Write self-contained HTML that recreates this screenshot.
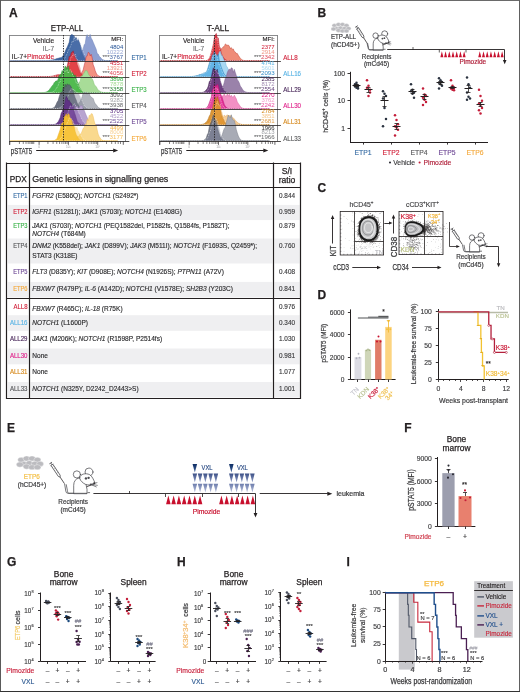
<!DOCTYPE html>
<html><head><meta charset="utf-8"><style>
html,body{margin:0;padding:0;background:#fff;}
body{width:520px;height:692px;overflow:hidden;}
svg{display:block;font-family:"Liberation Sans", sans-serif;will-change:transform;}
</style></head><body><div class="wrap">
<svg width="520" height="692" viewBox="0 0 520 692" fill="#231f20">
<rect x="0" y="0" width="520" height="692" fill="#fff"/>
<rect x="0.00" y="0.00" width="520.00" height="1.00" fill="#6a6a6a" />
<rect x="0.00" y="0.00" width="1.00" height="692.00" fill="#5a5a5a" />
<rect x="519.00" y="0.00" width="1.00" height="692.00" fill="#606060" />
<rect x="0.00" y="691.00" width="520.00" height="1.00" fill="#333333" />
<text x="9.00" y="17.00" font-size="12" stroke="#231f20" stroke-width="0.25" font-weight="bold">A</text>
<text x="67.00" y="30.90" font-size="8.6" text-anchor="middle" textLength="32.3" lengthAdjust="spacingAndGlyphs" stroke="#231f20" stroke-width="0.25">ETP-ALL</text>
<line x1="9.20" y1="35.50" x2="125.80" y2="35.50" stroke="#6d6e71" stroke-width="0.8" />
<line x1="9.50" y1="35.00" x2="9.50" y2="145.00" stroke="#6d6e71" stroke-width="0.8" />
<line x1="125.50" y1="35.00" x2="125.50" y2="141.30" stroke="#6d6e71" stroke-width="0.8" />
<path d="M10.20,60.70 L10.20,60.70 L11.20,60.70 L12.20,60.70 L13.20,60.70 L14.20,60.70 L15.20,60.70 L16.20,60.70 L17.20,60.70 L18.20,60.70 L19.20,60.70 L20.20,60.70 L21.20,60.70 L22.20,60.70 L23.20,60.70 L24.20,60.70 L25.20,60.70 L26.20,60.70 L27.20,60.70 L28.20,60.70 L29.20,60.70 L30.20,60.70 L31.20,60.70 L32.20,60.70 L33.20,60.70 L34.20,60.70 L35.20,60.70 L36.20,60.70 L37.20,60.70 L38.20,60.70 L39.20,60.70 L40.20,60.70 L41.20,60.70 L42.20,60.70 L43.20,60.70 L44.20,60.70 L45.20,60.70 L46.20,60.70 L47.20,60.70 L48.20,60.70 L49.20,60.70 L50.20,60.70 L51.20,60.70 L52.20,60.70 L53.20,60.70 L54.20,60.70 L55.20,60.70 L56.20,60.70 L57.20,60.70 L58.20,60.70 L59.20,60.70 L60.20,60.70 L61.20,60.70 L62.20,60.70 L63.20,60.70 L64.20,60.70 L65.20,60.70 L66.20,60.70 L67.20,60.70 L68.20,60.70 L69.20,60.69 L70.20,60.68 L71.20,60.65 L72.20,60.57 L73.20,60.41 L74.20,60.12 L75.20,59.74 L76.20,58.96 L77.20,57.86 L78.20,56.78 L79.20,55.47 L80.20,54.46 L81.20,51.95 L82.20,50.22 L83.20,48.96 L84.20,44.63 L85.20,43.74 L86.20,36.61 L87.20,34.63 L88.20,37.35 L89.20,37.00 L90.20,34.45 L91.20,38.21 L92.20,39.85 L93.20,42.21 L94.20,44.59 L95.20,46.97 L96.20,49.28 L97.20,53.55 L98.20,54.12 L99.20,56.19 L100.20,57.10 L101.20,58.26 L102.20,59.39 L103.20,59.83 L104.20,60.26 L105.20,60.49 L106.20,60.61 L107.20,60.67 L108.20,60.69 L109.20,60.70 L110.20,60.70 L111.20,60.70 L112.20,60.70 L113.20,60.70 L114.20,60.70 L115.20,60.70 L116.20,60.70 L117.20,60.70 L117.80,60.70 Z" fill="#8ea0d2" stroke="#6f82b8" stroke-width="0.5" />
<path d="M10.20,60.70 L10.20,60.70 L11.20,60.70 L12.20,60.70 L13.20,60.70 L14.20,60.70 L15.20,60.70 L16.20,60.70 L17.20,60.70 L18.20,60.70 L19.20,60.70 L20.20,60.70 L21.20,60.70 L22.20,60.70 L23.20,60.70 L24.20,60.70 L25.20,60.70 L26.20,60.70 L27.20,60.70 L28.20,60.70 L29.20,60.70 L30.20,60.70 L31.20,60.70 L32.20,60.70 L33.20,60.70 L34.20,60.70 L35.20,60.70 L36.20,60.70 L37.20,60.70 L38.20,60.70 L39.20,60.70 L40.20,60.70 L41.20,60.70 L42.20,60.70 L43.20,60.69 L44.20,60.68 L45.20,60.67 L46.20,60.65 L47.20,60.61 L48.20,60.55 L49.20,60.46 L50.20,60.34 L51.20,60.18 L52.20,59.97 L53.20,59.82 L54.20,59.41 L55.20,59.28 L56.20,58.74 L57.20,58.48 L58.20,58.34 L59.20,57.91 L60.20,57.64 L61.20,57.69 L62.20,56.63 L63.20,55.54 L64.20,54.23 L65.20,51.44 L66.20,49.04 L67.20,47.15 L68.20,44.71 L69.20,42.36 L70.20,35.97 L71.20,34.82 L72.20,34.48 L73.20,35.59 L74.20,35.79 L75.20,38.38 L76.20,37.41 L77.20,40.73 L78.20,39.60 L79.20,41.85 L80.20,44.76 L81.20,49.65 L82.20,53.20 L83.20,55.52 L84.20,57.39 L85.20,59.03 L86.20,59.86 L87.20,60.36 L88.20,60.57 L89.20,60.65 L90.20,60.69 L91.20,60.70 L92.20,60.70 L93.20,60.70 L94.20,60.70 L95.20,60.70 L96.20,60.70 L97.20,60.70 L98.20,60.70 L99.20,60.70 L100.20,60.70 L101.20,60.70 L102.20,60.70 L103.20,60.70 L104.20,60.70 L105.20,60.70 L106.20,60.70 L107.20,60.70 L108.20,60.70 L109.20,60.70 L110.20,60.70 L111.20,60.70 L112.20,60.70 L113.20,60.70 L114.20,60.70 L115.20,60.70 L116.20,60.70 L117.20,60.70 L117.80,60.70 Z" fill="#2c5797" stroke="#1f3f78" stroke-width="0.5" opacity="0.92"/>
<path d="M10.20,60.70 L10.20,60.70 L11.20,60.70 L12.20,60.70 L13.20,60.70 L14.20,60.70 L15.20,60.70 L16.20,60.70 L17.20,60.70 L18.20,60.70 L19.20,60.70 L20.20,60.70 L21.20,60.70 L22.20,60.70 L23.20,60.70 L24.20,60.70 L25.20,60.70 L26.20,60.70 L27.20,60.70 L28.20,60.70 L29.20,60.70 L30.20,60.70 L31.20,60.70 L32.20,60.70 L33.20,60.70 L34.20,60.70 L35.20,60.70 L36.20,60.70 L37.20,60.70 L38.20,60.70 L39.20,60.70 L40.20,60.70 L41.20,60.70 L42.20,60.70 L43.20,60.70 L44.20,60.70 L45.20,60.70 L46.20,60.70 L47.20,60.70 L48.20,60.70 L49.20,60.70 L50.20,60.70 L51.20,60.70 L52.20,60.70 L53.20,60.70 L54.20,60.70 L55.20,60.70 L56.20,60.70 L57.20,60.69 L58.20,60.69 L59.20,60.67 L60.20,60.62 L61.20,60.51 L62.20,60.28 L63.20,59.80 L64.20,59.15 L65.20,57.37 L66.20,55.35 L67.20,53.59 L68.20,50.45 L69.20,49.10 L70.20,46.79 L71.20,44.56 L72.20,40.94 L73.20,41.94 L74.20,36.55 L75.20,40.72 L76.20,39.53 L77.20,40.27 L78.20,37.18 L79.20,41.08 L80.20,42.79 L81.20,46.04 L82.20,47.73 L83.20,51.17 L84.20,53.95 L85.20,55.56 L86.20,57.30 L87.20,58.58 L88.20,59.10 L89.20,59.77 L90.20,60.19 L91.20,60.42 L92.20,60.55 L93.20,60.62 L94.20,60.66 L95.20,60.68 L96.20,60.69 L97.20,60.70 L98.20,60.70 L99.20,60.70 L100.20,60.70 L101.20,60.70 L102.20,60.70 L103.20,60.70 L104.20,60.70 L105.20,60.70 L106.20,60.70 L107.20,60.70 L108.20,60.70 L109.20,60.70 L110.20,60.70 L111.20,60.70 L112.20,60.70 L113.20,60.70 L114.20,60.70 L115.20,60.70 L116.20,60.70 L117.20,60.70 L117.80,60.70 Z" fill="#5878b4" fill-opacity="0.45"/>
<path d="M10.20,60.70 L10.20,60.70 L11.20,60.70 L12.20,60.70 L13.20,60.70 L14.20,60.70 L15.20,60.70 L16.20,60.70 L17.20,60.70 L18.20,60.70 L19.20,60.70 L20.20,60.70 L21.20,60.70 L22.20,60.70 L23.20,60.70 L24.20,60.70 L25.20,60.70 L26.20,60.70 L27.20,60.70 L28.20,60.70 L29.20,60.70 L30.20,60.70 L31.20,60.70 L32.20,60.70 L33.20,60.70 L34.20,60.70 L35.20,60.70 L36.20,60.70 L37.20,60.70 L38.20,60.70 L39.20,60.70 L40.20,60.70 L41.20,60.70 L42.20,60.70 L43.20,60.70 L44.20,60.70 L45.20,60.70 L46.20,60.70 L47.20,60.70 L48.20,60.70 L49.20,60.70 L50.20,60.70 L51.20,60.70 L52.20,60.70 L53.20,60.70 L54.20,60.70 L55.20,60.70 L56.20,60.70 L57.20,60.69 L58.20,60.69 L59.20,60.67 L60.20,60.62 L61.20,60.51 L62.20,60.28 L63.20,59.80 L64.20,59.15 L65.20,57.37 L66.20,55.35 L67.20,53.59 L68.20,50.45 L69.20,49.10 L70.20,46.79 L71.20,44.56 L72.20,40.94 L73.20,41.94 L74.20,36.55 L75.20,40.72 L76.20,39.53 L77.20,40.27 L78.20,37.18 L79.20,41.08 L80.20,42.79 L81.20,46.04 L82.20,47.73 L83.20,51.17 L84.20,53.95 L85.20,55.56 L86.20,57.30 L87.20,58.58 L88.20,59.10 L89.20,59.77 L90.20,60.19 L91.20,60.42 L92.20,60.55 L93.20,60.62 L94.20,60.66 L95.20,60.68 L96.20,60.69 L97.20,60.70 L98.20,60.70 L99.20,60.70 L100.20,60.70 L101.20,60.70 L102.20,60.70 L103.20,60.70 L104.20,60.70 L105.20,60.70 L106.20,60.70 L107.20,60.70 L108.20,60.70 L109.20,60.70 L110.20,60.70 L111.20,60.70 L112.20,60.70 L113.20,60.70 L114.20,60.70 L115.20,60.70 L116.20,60.70 L117.20,60.70 L117.80,60.70 Z" fill="none" stroke="#ffffff" stroke-width="0.55" stroke-dasharray="0.9,0.9" opacity="0.9"/>
<path d="M10.20,76.70 L10.20,76.70 L11.20,76.70 L12.20,76.70 L13.20,76.70 L14.20,76.70 L15.20,76.70 L16.20,76.70 L17.20,76.70 L18.20,76.70 L19.20,76.70 L20.20,76.70 L21.20,76.70 L22.20,76.70 L23.20,76.70 L24.20,76.70 L25.20,76.70 L26.20,76.70 L27.20,76.70 L28.20,76.70 L29.20,76.70 L30.20,76.70 L31.20,76.70 L32.20,76.70 L33.20,76.70 L34.20,76.70 L35.20,76.70 L36.20,76.70 L37.20,76.70 L38.20,76.70 L39.20,76.70 L40.20,76.70 L41.20,76.70 L42.20,76.70 L43.20,76.70 L44.20,76.70 L45.20,76.70 L46.20,76.70 L47.20,76.70 L48.20,76.70 L49.20,76.70 L50.20,76.70 L51.20,76.70 L52.20,76.70 L53.20,76.70 L54.20,76.70 L55.20,76.70 L56.20,76.70 L57.20,76.70 L58.20,76.70 L59.20,76.70 L60.20,76.70 L61.20,76.70 L62.20,76.70 L63.20,76.70 L64.20,76.70 L65.20,76.70 L66.20,76.70 L67.20,76.70 L68.20,76.70 L69.20,76.70 L70.20,76.70 L71.20,76.70 L72.20,76.70 L73.20,76.70 L74.20,76.70 L75.20,76.69 L76.20,76.68 L77.20,76.64 L78.20,76.53 L79.20,76.26 L80.20,75.54 L81.20,74.51 L82.20,71.99 L83.20,69.70 L84.20,65.22 L85.20,61.65 L86.20,56.36 L87.20,56.03 L88.20,52.32 L89.20,52.90 L90.20,55.99 L91.20,54.27 L92.20,57.83 L93.20,64.87 L94.20,67.19 L95.20,70.65 L96.20,73.15 L97.20,74.64 L98.20,75.63 L99.20,76.21 L100.20,76.49 L101.20,76.62 L102.20,76.67 L103.20,76.69 L104.20,76.70 L105.20,76.70 L106.20,76.70 L107.20,76.70 L108.20,76.70 L109.20,76.70 L110.20,76.70 L111.20,76.70 L112.20,76.70 L113.20,76.70 L114.20,76.70 L115.20,76.70 L116.20,76.70 L117.20,76.70 L117.80,76.70 Z" fill="#f29080" stroke="#c0303a" stroke-width="0.5" />
<path d="M10.20,76.70 L10.20,76.70 L11.20,76.70 L12.20,76.70 L13.20,76.70 L14.20,76.70 L15.20,76.70 L16.20,76.70 L17.20,76.70 L18.20,76.70 L19.20,76.70 L20.20,76.70 L21.20,76.70 L22.20,76.70 L23.20,76.70 L24.20,76.70 L25.20,76.70 L26.20,76.70 L27.20,76.70 L28.20,76.70 L29.20,76.70 L30.20,76.70 L31.20,76.70 L32.20,76.70 L33.20,76.70 L34.20,76.70 L35.20,76.70 L36.20,76.70 L37.20,76.70 L38.20,76.70 L39.20,76.70 L40.20,76.70 L41.20,76.70 L42.20,76.70 L43.20,76.69 L44.20,76.69 L45.20,76.67 L46.20,76.65 L47.20,76.62 L48.20,76.57 L49.20,76.50 L50.20,76.40 L51.20,76.27 L52.20,76.10 L53.20,75.90 L54.20,75.61 L55.20,75.37 L56.20,75.09 L57.20,74.76 L58.20,74.62 L59.20,74.77 L60.20,74.60 L61.20,74.28 L62.20,74.00 L63.20,72.93 L64.20,72.05 L65.20,70.75 L66.20,68.71 L67.20,66.19 L68.20,61.48 L69.20,56.17 L70.20,56.75 L71.20,52.68 L72.20,52.23 L73.20,50.84 L74.20,54.88 L75.20,58.70 L76.20,59.32 L77.20,64.57 L78.20,67.12 L79.20,69.77 L80.20,72.62 L81.20,74.05 L82.20,75.25 L83.20,75.99 L84.20,76.35 L85.20,76.54 L86.20,76.63 L87.20,76.67 L88.20,76.69 L89.20,76.70 L90.20,76.70 L91.20,76.70 L92.20,76.70 L93.20,76.70 L94.20,76.70 L95.20,76.70 L96.20,76.70 L97.20,76.70 L98.20,76.70 L99.20,76.70 L100.20,76.70 L101.20,76.70 L102.20,76.70 L103.20,76.70 L104.20,76.70 L105.20,76.70 L106.20,76.70 L107.20,76.70 L108.20,76.70 L109.20,76.70 L110.20,76.70 L111.20,76.70 L112.20,76.70 L113.20,76.70 L114.20,76.70 L115.20,76.70 L116.20,76.70 L117.20,76.70 L117.80,76.70 Z" fill="#e02a35" stroke="#a01020" stroke-width="0.5" opacity="0.9"/>
<path d="M10.20,76.70 L10.20,76.70 L11.20,76.70 L12.20,76.70 L13.20,76.70 L14.20,76.70 L15.20,76.70 L16.20,76.70 L17.20,76.70 L18.20,76.70 L19.20,76.70 L20.20,76.70 L21.20,76.70 L22.20,76.70 L23.20,76.70 L24.20,76.70 L25.20,76.70 L26.20,76.70 L27.20,76.70 L28.20,76.70 L29.20,76.70 L30.20,76.70 L31.20,76.70 L32.20,76.70 L33.20,76.70 L34.20,76.70 L35.20,76.70 L36.20,76.70 L37.20,76.70 L38.20,76.70 L39.20,76.70 L40.20,76.70 L41.20,76.70 L42.20,76.70 L43.20,76.70 L44.20,76.70 L45.20,76.70 L46.20,76.70 L47.20,76.69 L48.20,76.68 L49.20,76.65 L50.20,76.61 L51.20,76.54 L52.20,76.44 L53.20,76.28 L54.20,76.08 L55.20,75.76 L56.20,75.65 L57.20,75.13 L58.20,75.05 L59.20,74.90 L60.20,74.64 L61.20,74.74 L62.20,74.55 L63.20,74.08 L64.20,73.64 L65.20,72.22 L66.20,71.07 L67.20,69.20 L68.20,67.13 L69.20,64.74 L70.20,60.10 L71.20,56.45 L72.20,57.08 L73.20,53.60 L74.20,55.77 L75.20,53.98 L76.20,58.40 L77.20,59.11 L78.20,62.54 L79.20,63.96 L80.20,67.22 L81.20,70.89 L82.20,72.67 L83.20,73.75 L84.20,74.96 L85.20,75.64 L86.20,76.05 L87.20,76.34 L88.20,76.51 L89.20,76.61 L90.20,76.66 L91.20,76.68 L92.20,76.69 L93.20,76.70 L94.20,76.70 L95.20,76.70 L96.20,76.70 L97.20,76.70 L98.20,76.70 L99.20,76.70 L100.20,76.70 L101.20,76.70 L102.20,76.70 L103.20,76.70 L104.20,76.70 L105.20,76.70 L106.20,76.70 L107.20,76.70 L108.20,76.70 L109.20,76.70 L110.20,76.70 L111.20,76.70 L112.20,76.70 L113.20,76.70 L114.20,76.70 L115.20,76.70 L116.20,76.70 L117.20,76.70 L117.80,76.70 Z" fill="#e04848" fill-opacity="0.45"/>
<path d="M10.20,76.70 L10.20,76.70 L11.20,76.70 L12.20,76.70 L13.20,76.70 L14.20,76.70 L15.20,76.70 L16.20,76.70 L17.20,76.70 L18.20,76.70 L19.20,76.70 L20.20,76.70 L21.20,76.70 L22.20,76.70 L23.20,76.70 L24.20,76.70 L25.20,76.70 L26.20,76.70 L27.20,76.70 L28.20,76.70 L29.20,76.70 L30.20,76.70 L31.20,76.70 L32.20,76.70 L33.20,76.70 L34.20,76.70 L35.20,76.70 L36.20,76.70 L37.20,76.70 L38.20,76.70 L39.20,76.70 L40.20,76.70 L41.20,76.70 L42.20,76.70 L43.20,76.70 L44.20,76.70 L45.20,76.70 L46.20,76.70 L47.20,76.69 L48.20,76.68 L49.20,76.65 L50.20,76.61 L51.20,76.54 L52.20,76.44 L53.20,76.28 L54.20,76.08 L55.20,75.76 L56.20,75.65 L57.20,75.13 L58.20,75.05 L59.20,74.90 L60.20,74.64 L61.20,74.74 L62.20,74.55 L63.20,74.08 L64.20,73.64 L65.20,72.22 L66.20,71.07 L67.20,69.20 L68.20,67.13 L69.20,64.74 L70.20,60.10 L71.20,56.45 L72.20,57.08 L73.20,53.60 L74.20,55.77 L75.20,53.98 L76.20,58.40 L77.20,59.11 L78.20,62.54 L79.20,63.96 L80.20,67.22 L81.20,70.89 L82.20,72.67 L83.20,73.75 L84.20,74.96 L85.20,75.64 L86.20,76.05 L87.20,76.34 L88.20,76.51 L89.20,76.61 L90.20,76.66 L91.20,76.68 L92.20,76.69 L93.20,76.70 L94.20,76.70 L95.20,76.70 L96.20,76.70 L97.20,76.70 L98.20,76.70 L99.20,76.70 L100.20,76.70 L101.20,76.70 L102.20,76.70 L103.20,76.70 L104.20,76.70 L105.20,76.70 L106.20,76.70 L107.20,76.70 L108.20,76.70 L109.20,76.70 L110.20,76.70 L111.20,76.70 L112.20,76.70 L113.20,76.70 L114.20,76.70 L115.20,76.70 L116.20,76.70 L117.20,76.70 L117.80,76.70 Z" fill="none" stroke="#ffffff" stroke-width="0.55" stroke-dasharray="0.9,0.9" opacity="0.9"/>
<path d="M10.20,92.70 L10.20,92.70 L11.20,92.70 L12.20,92.70 L13.20,92.70 L14.20,92.70 L15.20,92.70 L16.20,92.70 L17.20,92.70 L18.20,92.70 L19.20,92.70 L20.20,92.70 L21.20,92.70 L22.20,92.70 L23.20,92.70 L24.20,92.70 L25.20,92.70 L26.20,92.70 L27.20,92.70 L28.20,92.70 L29.20,92.70 L30.20,92.70 L31.20,92.70 L32.20,92.70 L33.20,92.70 L34.20,92.70 L35.20,92.70 L36.20,92.70 L37.20,92.70 L38.20,92.70 L39.20,92.70 L40.20,92.70 L41.20,92.70 L42.20,92.70 L43.20,92.70 L44.20,92.70 L45.20,92.70 L46.20,92.70 L47.20,92.70 L48.20,92.70 L49.20,92.70 L50.20,92.70 L51.20,92.70 L52.20,92.70 L53.20,92.70 L54.20,92.70 L55.20,92.70 L56.20,92.70 L57.20,92.70 L58.20,92.70 L59.20,92.70 L60.20,92.70 L61.20,92.70 L62.20,92.70 L63.20,92.70 L64.20,92.70 L65.20,92.70 L66.20,92.70 L67.20,92.69 L68.20,92.69 L69.20,92.67 L70.20,92.64 L71.20,92.58 L72.20,92.47 L73.20,92.26 L74.20,91.87 L75.20,91.30 L76.20,89.74 L77.20,88.18 L78.20,85.84 L79.20,82.03 L80.20,81.38 L81.20,75.91 L82.20,76.00 L83.20,74.31 L84.20,73.05 L85.20,70.65 L86.20,70.65 L87.20,70.87 L88.20,73.53 L89.20,75.39 L90.20,75.92 L91.20,77.89 L92.20,78.79 L93.20,81.00 L94.20,84.20 L95.20,85.88 L96.20,86.61 L97.20,88.47 L98.20,90.19 L99.20,90.63 L100.20,91.49 L101.20,91.96 L102.20,92.24 L103.20,92.43 L104.20,92.55 L105.20,92.62 L106.20,92.66 L107.20,92.68 L108.20,92.69 L109.20,92.70 L110.20,92.70 L111.20,92.70 L112.20,92.70 L113.20,92.70 L114.20,92.70 L115.20,92.70 L116.20,92.70 L117.20,92.70 L117.80,92.70 Z" fill="#a8dc98" stroke="#80c070" stroke-width="0.5" />
<path d="M10.20,92.70 L10.20,92.70 L11.20,92.70 L12.20,92.70 L13.20,92.70 L14.20,92.70 L15.20,92.70 L16.20,92.70 L17.20,92.70 L18.20,92.70 L19.20,92.70 L20.20,92.70 L21.20,92.70 L22.20,92.70 L23.20,92.70 L24.20,92.70 L25.20,92.70 L26.20,92.70 L27.20,92.70 L28.20,92.70 L29.20,92.70 L30.20,92.70 L31.20,92.70 L32.20,92.70 L33.20,92.70 L34.20,92.70 L35.20,92.70 L36.20,92.70 L37.20,92.70 L38.20,92.70 L39.20,92.70 L40.20,92.69 L41.20,92.68 L42.20,92.65 L43.20,92.60 L44.20,92.50 L45.20,92.32 L46.20,92.02 L47.20,91.55 L48.20,90.83 L49.20,90.11 L50.20,88.40 L51.20,87.22 L52.20,85.68 L53.20,84.83 L54.20,82.63 L55.20,81.62 L56.20,80.87 L57.20,81.30 L58.20,78.88 L59.20,75.24 L60.20,75.03 L61.20,73.86 L62.20,70.46 L63.20,71.50 L64.20,69.05 L65.20,65.92 L66.20,67.39 L67.20,68.53 L68.20,65.92 L69.20,69.84 L70.20,71.31 L71.20,74.19 L72.20,72.22 L73.20,73.63 L74.20,75.87 L75.20,74.84 L76.20,78.53 L77.20,81.53 L78.20,83.59 L79.20,87.03 L80.20,88.44 L81.20,90.31 L82.20,91.47 L83.20,92.04 L84.20,92.39 L85.20,92.56 L86.20,92.64 L87.20,92.68 L88.20,92.69 L89.20,92.70 L90.20,92.70 L91.20,92.70 L92.20,92.70 L93.20,92.70 L94.20,92.70 L95.20,92.70 L96.20,92.70 L97.20,92.70 L98.20,92.70 L99.20,92.70 L100.20,92.70 L101.20,92.70 L102.20,92.70 L103.20,92.70 L104.20,92.70 L105.20,92.70 L106.20,92.70 L107.20,92.70 L108.20,92.70 L109.20,92.70 L110.20,92.70 L111.20,92.70 L112.20,92.70 L113.20,92.70 L114.20,92.70 L115.20,92.70 L116.20,92.70 L117.20,92.70 L117.80,92.70 Z" fill="#38b040" stroke="#2a8a30" stroke-width="0.5" opacity="0.9"/>
<path d="M10.20,92.70 L10.20,92.70 L11.20,92.70 L12.20,92.70 L13.20,92.70 L14.20,92.70 L15.20,92.70 L16.20,92.70 L17.20,92.70 L18.20,92.70 L19.20,92.70 L20.20,92.70 L21.20,92.70 L22.20,92.70 L23.20,92.70 L24.20,92.70 L25.20,92.70 L26.20,92.70 L27.20,92.70 L28.20,92.70 L29.20,92.70 L30.20,92.70 L31.20,92.70 L32.20,92.70 L33.20,92.70 L34.20,92.70 L35.20,92.70 L36.20,92.70 L37.20,92.70 L38.20,92.70 L39.20,92.70 L40.20,92.70 L41.20,92.70 L42.20,92.70 L43.20,92.70 L44.20,92.70 L45.20,92.70 L46.20,92.69 L47.20,92.69 L48.20,92.67 L49.20,92.63 L50.20,92.56 L51.20,92.43 L52.20,92.18 L53.20,91.87 L54.20,91.10 L55.20,90.27 L56.20,88.53 L57.20,87.16 L58.20,85.35 L59.20,82.18 L60.20,81.70 L61.20,77.65 L62.20,77.26 L63.20,74.44 L64.20,71.51 L65.20,71.05 L66.20,71.17 L67.20,69.60 L68.20,73.43 L69.20,71.11 L70.20,69.60 L71.20,70.65 L72.20,73.62 L73.20,76.39 L74.20,77.86 L75.20,79.74 L76.20,82.87 L77.20,82.96 L78.20,85.66 L79.20,87.58 L80.20,89.32 L81.20,90.23 L82.20,90.98 L83.20,91.65 L84.20,92.00 L85.20,92.25 L86.20,92.43 L87.20,92.55 L88.20,92.61 L89.20,92.65 L90.20,92.68 L91.20,92.69 L92.20,92.69 L93.20,92.70 L94.20,92.70 L95.20,92.70 L96.20,92.70 L97.20,92.70 L98.20,92.70 L99.20,92.70 L100.20,92.70 L101.20,92.70 L102.20,92.70 L103.20,92.70 L104.20,92.70 L105.20,92.70 L106.20,92.70 L107.20,92.70 L108.20,92.70 L109.20,92.70 L110.20,92.70 L111.20,92.70 L112.20,92.70 L113.20,92.70 L114.20,92.70 L115.20,92.70 L116.20,92.70 L117.20,92.70 L117.80,92.70 Z" fill="#5cc050" fill-opacity="0.45"/>
<path d="M10.20,92.70 L10.20,92.70 L11.20,92.70 L12.20,92.70 L13.20,92.70 L14.20,92.70 L15.20,92.70 L16.20,92.70 L17.20,92.70 L18.20,92.70 L19.20,92.70 L20.20,92.70 L21.20,92.70 L22.20,92.70 L23.20,92.70 L24.20,92.70 L25.20,92.70 L26.20,92.70 L27.20,92.70 L28.20,92.70 L29.20,92.70 L30.20,92.70 L31.20,92.70 L32.20,92.70 L33.20,92.70 L34.20,92.70 L35.20,92.70 L36.20,92.70 L37.20,92.70 L38.20,92.70 L39.20,92.70 L40.20,92.70 L41.20,92.70 L42.20,92.70 L43.20,92.70 L44.20,92.70 L45.20,92.70 L46.20,92.69 L47.20,92.69 L48.20,92.67 L49.20,92.63 L50.20,92.56 L51.20,92.43 L52.20,92.18 L53.20,91.87 L54.20,91.10 L55.20,90.27 L56.20,88.53 L57.20,87.16 L58.20,85.35 L59.20,82.18 L60.20,81.70 L61.20,77.65 L62.20,77.26 L63.20,74.44 L64.20,71.51 L65.20,71.05 L66.20,71.17 L67.20,69.60 L68.20,73.43 L69.20,71.11 L70.20,69.60 L71.20,70.65 L72.20,73.62 L73.20,76.39 L74.20,77.86 L75.20,79.74 L76.20,82.87 L77.20,82.96 L78.20,85.66 L79.20,87.58 L80.20,89.32 L81.20,90.23 L82.20,90.98 L83.20,91.65 L84.20,92.00 L85.20,92.25 L86.20,92.43 L87.20,92.55 L88.20,92.61 L89.20,92.65 L90.20,92.68 L91.20,92.69 L92.20,92.69 L93.20,92.70 L94.20,92.70 L95.20,92.70 L96.20,92.70 L97.20,92.70 L98.20,92.70 L99.20,92.70 L100.20,92.70 L101.20,92.70 L102.20,92.70 L103.20,92.70 L104.20,92.70 L105.20,92.70 L106.20,92.70 L107.20,92.70 L108.20,92.70 L109.20,92.70 L110.20,92.70 L111.20,92.70 L112.20,92.70 L113.20,92.70 L114.20,92.70 L115.20,92.70 L116.20,92.70 L117.20,92.70 L117.80,92.70 Z" fill="none" stroke="#ffffff" stroke-width="0.55" stroke-dasharray="0.9,0.9" opacity="0.9"/>
<path d="M10.20,108.70 L10.20,108.70 L11.20,108.70 L12.20,108.70 L13.20,108.70 L14.20,108.70 L15.20,108.70 L16.20,108.70 L17.20,108.70 L18.20,108.70 L19.20,108.70 L20.20,108.70 L21.20,108.70 L22.20,108.70 L23.20,108.70 L24.20,108.70 L25.20,108.70 L26.20,108.70 L27.20,108.70 L28.20,108.70 L29.20,108.70 L30.20,108.70 L31.20,108.70 L32.20,108.70 L33.20,108.70 L34.20,108.70 L35.20,108.70 L36.20,108.70 L37.20,108.70 L38.20,108.70 L39.20,108.70 L40.20,108.70 L41.20,108.70 L42.20,108.70 L43.20,108.70 L44.20,108.70 L45.20,108.70 L46.20,108.70 L47.20,108.70 L48.20,108.70 L49.20,108.70 L50.20,108.70 L51.20,108.70 L52.20,108.70 L53.20,108.70 L54.20,108.70 L55.20,108.70 L56.20,108.70 L57.20,108.70 L58.20,108.70 L59.20,108.70 L60.20,108.70 L61.20,108.70 L62.20,108.70 L63.20,108.70 L64.20,108.70 L65.20,108.70 L66.20,108.70 L67.20,108.70 L68.20,108.70 L69.20,108.70 L70.20,108.69 L71.20,108.68 L72.20,108.64 L73.20,108.55 L74.20,108.36 L75.20,107.99 L76.20,107.42 L77.20,106.13 L78.20,104.45 L79.20,102.57 L80.20,101.57 L81.20,98.98 L82.20,96.76 L83.20,92.87 L84.20,92.87 L85.20,92.76 L86.20,91.99 L87.20,94.52 L88.20,92.68 L89.20,93.61 L90.20,96.21 L91.20,96.85 L92.20,98.08 L93.20,98.42 L94.20,101.59 L95.20,103.87 L96.20,104.57 L97.20,106.04 L98.20,107.35 L99.20,107.91 L100.20,108.34 L101.20,108.54 L102.20,108.63 L103.20,108.68 L104.20,108.69 L105.20,108.70 L106.20,108.70 L107.20,108.70 L108.20,108.70 L109.20,108.70 L110.20,108.70 L111.20,108.70 L112.20,108.70 L113.20,108.70 L114.20,108.70 L115.20,108.70 L116.20,108.70 L117.20,108.70 L117.80,108.70 Z" fill="#b2b5bd" stroke="#8a8e98" stroke-width="0.5" />
<path d="M10.20,108.70 L10.20,108.70 L11.20,108.70 L12.20,108.70 L13.20,108.70 L14.20,108.70 L15.20,108.70 L16.20,108.70 L17.20,108.70 L18.20,108.70 L19.20,108.70 L20.20,108.70 L21.20,108.70 L22.20,108.70 L23.20,108.70 L24.20,108.70 L25.20,108.70 L26.20,108.70 L27.20,108.70 L28.20,108.70 L29.20,108.70 L30.20,108.70 L31.20,108.70 L32.20,108.70 L33.20,108.70 L34.20,108.70 L35.20,108.70 L36.20,108.70 L37.20,108.70 L38.20,108.70 L39.20,108.70 L40.20,108.70 L41.20,108.70 L42.20,108.70 L43.20,108.70 L44.20,108.70 L45.20,108.70 L46.20,108.70 L47.20,108.70 L48.20,108.70 L49.20,108.69 L50.20,108.66 L51.20,108.58 L52.20,108.41 L53.20,108.04 L54.20,107.40 L55.20,106.31 L56.20,104.22 L57.20,101.91 L58.20,100.59 L59.20,96.71 L60.20,93.80 L61.20,91.93 L62.20,93.46 L63.20,86.99 L64.20,88.86 L65.20,84.11 L66.20,86.75 L67.20,83.71 L68.20,85.13 L69.20,84.38 L70.20,85.52 L71.20,87.06 L72.20,89.27 L73.20,91.45 L74.20,94.97 L75.20,97.91 L76.20,100.07 L77.20,102.94 L78.20,104.88 L79.20,106.71 L80.20,107.49 L81.20,108.19 L82.20,108.48 L83.20,108.61 L84.20,108.67 L85.20,108.69 L86.20,108.70 L87.20,108.70 L88.20,108.70 L89.20,108.70 L90.20,108.70 L91.20,108.70 L92.20,108.70 L93.20,108.70 L94.20,108.70 L95.20,108.70 L96.20,108.70 L97.20,108.70 L98.20,108.70 L99.20,108.70 L100.20,108.70 L101.20,108.70 L102.20,108.70 L103.20,108.70 L104.20,108.70 L105.20,108.70 L106.20,108.70 L107.20,108.70 L108.20,108.70 L109.20,108.70 L110.20,108.70 L111.20,108.70 L112.20,108.70 L113.20,108.70 L114.20,108.70 L115.20,108.70 L116.20,108.70 L117.20,108.70 L117.80,108.70 Z" fill="#5c6274" stroke="#3c4050" stroke-width="0.5" opacity="0.9"/>
<path d="M10.20,108.70 L10.20,108.70 L11.20,108.70 L12.20,108.70 L13.20,108.70 L14.20,108.70 L15.20,108.70 L16.20,108.70 L17.20,108.70 L18.20,108.70 L19.20,108.70 L20.20,108.70 L21.20,108.70 L22.20,108.70 L23.20,108.70 L24.20,108.70 L25.20,108.70 L26.20,108.70 L27.20,108.70 L28.20,108.70 L29.20,108.70 L30.20,108.70 L31.20,108.70 L32.20,108.70 L33.20,108.70 L34.20,108.70 L35.20,108.70 L36.20,108.70 L37.20,108.70 L38.20,108.70 L39.20,108.70 L40.20,108.70 L41.20,108.70 L42.20,108.70 L43.20,108.70 L44.20,108.70 L45.20,108.70 L46.20,108.70 L47.20,108.70 L48.20,108.70 L49.20,108.70 L50.20,108.70 L51.20,108.70 L52.20,108.69 L53.20,108.68 L54.20,108.67 L55.20,108.63 L56.20,108.57 L57.20,108.47 L58.20,108.29 L59.20,108.03 L60.20,107.47 L61.20,107.09 L62.20,106.12 L63.20,104.85 L64.20,102.61 L65.20,101.60 L66.20,98.95 L67.20,98.14 L68.20,95.87 L69.20,91.78 L70.20,90.67 L71.20,88.58 L72.20,89.24 L73.20,88.76 L74.20,90.41 L75.20,90.77 L76.20,92.35 L77.20,92.82 L78.20,93.00 L79.20,94.31 L80.20,96.08 L81.20,98.80 L82.20,100.87 L83.20,103.24 L84.20,105.71 L85.20,106.36 L86.20,107.47 L87.20,108.05 L88.20,108.37 L89.20,108.54 L90.20,108.63 L91.20,108.67 L92.20,108.69 L93.20,108.70 L94.20,108.70 L95.20,108.70 L96.20,108.70 L97.20,108.70 L98.20,108.70 L99.20,108.70 L100.20,108.70 L101.20,108.70 L102.20,108.70 L103.20,108.70 L104.20,108.70 L105.20,108.70 L106.20,108.70 L107.20,108.70 L108.20,108.70 L109.20,108.70 L110.20,108.70 L111.20,108.70 L112.20,108.70 L113.20,108.70 L114.20,108.70 L115.20,108.70 L116.20,108.70 L117.20,108.70 L117.80,108.70 Z" fill="#7a7f90" fill-opacity="0.45"/>
<path d="M10.20,108.70 L10.20,108.70 L11.20,108.70 L12.20,108.70 L13.20,108.70 L14.20,108.70 L15.20,108.70 L16.20,108.70 L17.20,108.70 L18.20,108.70 L19.20,108.70 L20.20,108.70 L21.20,108.70 L22.20,108.70 L23.20,108.70 L24.20,108.70 L25.20,108.70 L26.20,108.70 L27.20,108.70 L28.20,108.70 L29.20,108.70 L30.20,108.70 L31.20,108.70 L32.20,108.70 L33.20,108.70 L34.20,108.70 L35.20,108.70 L36.20,108.70 L37.20,108.70 L38.20,108.70 L39.20,108.70 L40.20,108.70 L41.20,108.70 L42.20,108.70 L43.20,108.70 L44.20,108.70 L45.20,108.70 L46.20,108.70 L47.20,108.70 L48.20,108.70 L49.20,108.70 L50.20,108.70 L51.20,108.70 L52.20,108.69 L53.20,108.68 L54.20,108.67 L55.20,108.63 L56.20,108.57 L57.20,108.47 L58.20,108.29 L59.20,108.03 L60.20,107.47 L61.20,107.09 L62.20,106.12 L63.20,104.85 L64.20,102.61 L65.20,101.60 L66.20,98.95 L67.20,98.14 L68.20,95.87 L69.20,91.78 L70.20,90.67 L71.20,88.58 L72.20,89.24 L73.20,88.76 L74.20,90.41 L75.20,90.77 L76.20,92.35 L77.20,92.82 L78.20,93.00 L79.20,94.31 L80.20,96.08 L81.20,98.80 L82.20,100.87 L83.20,103.24 L84.20,105.71 L85.20,106.36 L86.20,107.47 L87.20,108.05 L88.20,108.37 L89.20,108.54 L90.20,108.63 L91.20,108.67 L92.20,108.69 L93.20,108.70 L94.20,108.70 L95.20,108.70 L96.20,108.70 L97.20,108.70 L98.20,108.70 L99.20,108.70 L100.20,108.70 L101.20,108.70 L102.20,108.70 L103.20,108.70 L104.20,108.70 L105.20,108.70 L106.20,108.70 L107.20,108.70 L108.20,108.70 L109.20,108.70 L110.20,108.70 L111.20,108.70 L112.20,108.70 L113.20,108.70 L114.20,108.70 L115.20,108.70 L116.20,108.70 L117.20,108.70 L117.80,108.70 Z" fill="none" stroke="#ffffff" stroke-width="0.55" stroke-dasharray="0.9,0.9" opacity="0.9"/>
<path d="M10.20,124.70 L10.20,124.70 L11.20,124.70 L12.20,124.70 L13.20,124.70 L14.20,124.70 L15.20,124.70 L16.20,124.70 L17.20,124.70 L18.20,124.70 L19.20,124.70 L20.20,124.70 L21.20,124.70 L22.20,124.70 L23.20,124.70 L24.20,124.70 L25.20,124.70 L26.20,124.70 L27.20,124.70 L28.20,124.70 L29.20,124.70 L30.20,124.70 L31.20,124.70 L32.20,124.70 L33.20,124.70 L34.20,124.70 L35.20,124.70 L36.20,124.70 L37.20,124.70 L38.20,124.70 L39.20,124.70 L40.20,124.70 L41.20,124.70 L42.20,124.70 L43.20,124.70 L44.20,124.70 L45.20,124.70 L46.20,124.70 L47.20,124.70 L48.20,124.70 L49.20,124.70 L50.20,124.70 L51.20,124.70 L52.20,124.70 L53.20,124.70 L54.20,124.70 L55.20,124.70 L56.20,124.70 L57.20,124.70 L58.20,124.69 L59.20,124.69 L60.20,124.67 L61.20,124.64 L62.20,124.59 L63.20,124.49 L64.20,124.33 L65.20,124.03 L66.20,123.79 L67.20,123.19 L68.20,122.25 L69.20,121.59 L70.20,119.51 L71.20,118.96 L72.20,116.93 L73.20,113.68 L74.20,111.17 L75.20,110.87 L76.20,106.98 L77.20,106.12 L78.20,108.37 L79.20,108.22 L80.20,105.80 L81.20,106.02 L82.20,105.80 L83.20,110.52 L84.20,110.22 L85.20,113.04 L86.20,115.34 L87.20,117.54 L88.20,119.96 L89.20,122.14 L90.20,122.92 L91.20,123.78 L92.20,124.25 L93.20,124.48 L94.20,124.59 L95.20,124.65 L96.20,124.68 L97.20,124.69 L98.20,124.70 L99.20,124.70 L100.20,124.70 L101.20,124.70 L102.20,124.70 L103.20,124.70 L104.20,124.70 L105.20,124.70 L106.20,124.70 L107.20,124.70 L108.20,124.70 L109.20,124.70 L110.20,124.70 L111.20,124.70 L112.20,124.70 L113.20,124.70 L114.20,124.70 L115.20,124.70 L116.20,124.70 L117.20,124.70 L117.80,124.70 Z" fill="#b8a4d0" stroke="#9a80b8" stroke-width="0.5" />
<path d="M10.20,124.70 L10.20,124.70 L11.20,124.70 L12.20,124.70 L13.20,124.70 L14.20,124.70 L15.20,124.70 L16.20,124.70 L17.20,124.70 L18.20,124.70 L19.20,124.70 L20.20,124.70 L21.20,124.70 L22.20,124.70 L23.20,124.70 L24.20,124.70 L25.20,124.70 L26.20,124.70 L27.20,124.70 L28.20,124.70 L29.20,124.70 L30.20,124.70 L31.20,124.70 L32.20,124.70 L33.20,124.70 L34.20,124.70 L35.20,124.70 L36.20,124.70 L37.20,124.70 L38.20,124.70 L39.20,124.70 L40.20,124.70 L41.20,124.70 L42.20,124.70 L43.20,124.70 L44.20,124.70 L45.20,124.70 L46.20,124.70 L47.20,124.70 L48.20,124.70 L49.20,124.70 L50.20,124.69 L51.20,124.68 L52.20,124.65 L53.20,124.59 L54.20,124.46 L55.20,124.20 L56.20,123.70 L57.20,122.84 L58.20,121.66 L59.20,119.81 L60.20,117.58 L61.20,113.24 L62.20,111.46 L63.20,108.76 L64.20,105.28 L65.20,100.30 L66.20,96.35 L67.20,97.51 L68.20,100.94 L69.20,100.13 L70.20,102.46 L71.20,103.14 L72.20,105.79 L73.20,106.59 L74.20,112.04 L75.20,114.77 L76.20,118.11 L77.20,121.33 L78.20,122.80 L79.20,123.50 L80.20,124.20 L81.20,124.49 L82.20,124.62 L83.20,124.67 L84.20,124.69 L85.20,124.70 L86.20,124.70 L87.20,124.70 L88.20,124.70 L89.20,124.70 L90.20,124.70 L91.20,124.70 L92.20,124.70 L93.20,124.70 L94.20,124.70 L95.20,124.70 L96.20,124.70 L97.20,124.70 L98.20,124.70 L99.20,124.70 L100.20,124.70 L101.20,124.70 L102.20,124.70 L103.20,124.70 L104.20,124.70 L105.20,124.70 L106.20,124.70 L107.20,124.70 L108.20,124.70 L109.20,124.70 L110.20,124.70 L111.20,124.70 L112.20,124.70 L113.20,124.70 L114.20,124.70 L115.20,124.70 L116.20,124.70 L117.20,124.70 L117.80,124.70 Z" fill="#5e2d84" stroke="#3c1a5a" stroke-width="0.5" opacity="0.92"/>
<path d="M10.20,124.70 L10.20,124.70 L11.20,124.70 L12.20,124.70 L13.20,124.70 L14.20,124.70 L15.20,124.70 L16.20,124.70 L17.20,124.70 L18.20,124.70 L19.20,124.70 L20.20,124.70 L21.20,124.70 L22.20,124.70 L23.20,124.70 L24.20,124.70 L25.20,124.70 L26.20,124.70 L27.20,124.70 L28.20,124.70 L29.20,124.70 L30.20,124.70 L31.20,124.70 L32.20,124.70 L33.20,124.70 L34.20,124.70 L35.20,124.70 L36.20,124.70 L37.20,124.70 L38.20,124.70 L39.20,124.70 L40.20,124.70 L41.20,124.70 L42.20,124.70 L43.20,124.70 L44.20,124.70 L45.20,124.70 L46.20,124.70 L47.20,124.70 L48.20,124.70 L49.20,124.70 L50.20,124.70 L51.20,124.70 L52.20,124.70 L53.20,124.70 L54.20,124.69 L55.20,124.68 L56.20,124.66 L57.20,124.62 L58.20,124.54 L59.20,124.39 L60.20,124.13 L61.20,123.69 L62.20,123.24 L63.20,121.87 L64.20,121.06 L65.20,118.70 L66.20,117.91 L67.20,115.15 L68.20,111.87 L69.20,108.98 L70.20,105.87 L71.20,106.49 L72.20,106.25 L73.20,105.49 L74.20,103.70 L75.20,104.12 L76.20,108.37 L77.20,107.63 L78.20,111.18 L79.20,113.85 L80.20,114.86 L81.20,118.24 L82.20,119.81 L83.20,121.72 L84.20,122.88 L85.20,123.69 L86.20,124.12 L87.20,124.42 L88.20,124.57 L89.20,124.65 L90.20,124.68 L91.20,124.69 L92.20,124.70 L93.20,124.70 L94.20,124.70 L95.20,124.70 L96.20,124.70 L97.20,124.70 L98.20,124.70 L99.20,124.70 L100.20,124.70 L101.20,124.70 L102.20,124.70 L103.20,124.70 L104.20,124.70 L105.20,124.70 L106.20,124.70 L107.20,124.70 L108.20,124.70 L109.20,124.70 L110.20,124.70 L111.20,124.70 L112.20,124.70 L113.20,124.70 L114.20,124.70 L115.20,124.70 L116.20,124.70 L117.20,124.70 L117.80,124.70 Z" fill="#8a60b0" fill-opacity="0.45"/>
<path d="M10.20,124.70 L10.20,124.70 L11.20,124.70 L12.20,124.70 L13.20,124.70 L14.20,124.70 L15.20,124.70 L16.20,124.70 L17.20,124.70 L18.20,124.70 L19.20,124.70 L20.20,124.70 L21.20,124.70 L22.20,124.70 L23.20,124.70 L24.20,124.70 L25.20,124.70 L26.20,124.70 L27.20,124.70 L28.20,124.70 L29.20,124.70 L30.20,124.70 L31.20,124.70 L32.20,124.70 L33.20,124.70 L34.20,124.70 L35.20,124.70 L36.20,124.70 L37.20,124.70 L38.20,124.70 L39.20,124.70 L40.20,124.70 L41.20,124.70 L42.20,124.70 L43.20,124.70 L44.20,124.70 L45.20,124.70 L46.20,124.70 L47.20,124.70 L48.20,124.70 L49.20,124.70 L50.20,124.70 L51.20,124.70 L52.20,124.70 L53.20,124.70 L54.20,124.69 L55.20,124.68 L56.20,124.66 L57.20,124.62 L58.20,124.54 L59.20,124.39 L60.20,124.13 L61.20,123.69 L62.20,123.24 L63.20,121.87 L64.20,121.06 L65.20,118.70 L66.20,117.91 L67.20,115.15 L68.20,111.87 L69.20,108.98 L70.20,105.87 L71.20,106.49 L72.20,106.25 L73.20,105.49 L74.20,103.70 L75.20,104.12 L76.20,108.37 L77.20,107.63 L78.20,111.18 L79.20,113.85 L80.20,114.86 L81.20,118.24 L82.20,119.81 L83.20,121.72 L84.20,122.88 L85.20,123.69 L86.20,124.12 L87.20,124.42 L88.20,124.57 L89.20,124.65 L90.20,124.68 L91.20,124.69 L92.20,124.70 L93.20,124.70 L94.20,124.70 L95.20,124.70 L96.20,124.70 L97.20,124.70 L98.20,124.70 L99.20,124.70 L100.20,124.70 L101.20,124.70 L102.20,124.70 L103.20,124.70 L104.20,124.70 L105.20,124.70 L106.20,124.70 L107.20,124.70 L108.20,124.70 L109.20,124.70 L110.20,124.70 L111.20,124.70 L112.20,124.70 L113.20,124.70 L114.20,124.70 L115.20,124.70 L116.20,124.70 L117.20,124.70 L117.80,124.70 Z" fill="none" stroke="#ffffff" stroke-width="0.55" stroke-dasharray="0.9,0.9" opacity="0.9"/>
<path d="M10.20,141.00 L10.20,141.00 L11.20,141.00 L12.20,141.00 L13.20,141.00 L14.20,141.00 L15.20,141.00 L16.20,141.00 L17.20,141.00 L18.20,141.00 L19.20,141.00 L20.20,141.00 L21.20,141.00 L22.20,141.00 L23.20,141.00 L24.20,141.00 L25.20,141.00 L26.20,141.00 L27.20,141.00 L28.20,141.00 L29.20,141.00 L30.20,141.00 L31.20,141.00 L32.20,141.00 L33.20,141.00 L34.20,141.00 L35.20,141.00 L36.20,141.00 L37.20,141.00 L38.20,141.00 L39.20,141.00 L40.20,141.00 L41.20,141.00 L42.20,141.00 L43.20,141.00 L44.20,141.00 L45.20,141.00 L46.20,141.00 L47.20,141.00 L48.20,141.00 L49.20,141.00 L50.20,141.00 L51.20,141.00 L52.20,141.00 L53.20,141.00 L54.20,141.00 L55.20,141.00 L56.20,141.00 L57.20,141.00 L58.20,141.00 L59.20,141.00 L60.20,141.00 L61.20,141.00 L62.20,141.00 L63.20,141.00 L64.20,141.00 L65.20,140.99 L66.20,140.99 L67.20,140.97 L68.20,140.94 L69.20,140.87 L70.20,140.75 L71.20,140.56 L72.20,140.26 L73.20,139.74 L74.20,139.09 L75.20,138.77 L76.20,137.96 L77.20,137.01 L78.20,136.59 L79.20,135.93 L80.20,133.96 L81.20,133.52 L82.20,131.01 L83.20,128.34 L84.20,127.55 L85.20,123.98 L86.20,124.95 L87.20,119.15 L88.20,121.09 L89.20,115.30 L90.20,115.95 L91.20,113.70 L92.20,113.87 L93.20,116.51 L94.20,121.08 L95.20,124.58 L96.20,125.23 L97.20,130.04 L98.20,134.16 L99.20,136.53 L100.20,138.06 L101.20,139.41 L102.20,140.16 L103.20,140.60 L104.20,140.82 L105.20,140.92 L106.20,140.97 L107.20,140.99 L108.20,141.00 L109.20,141.00 L110.20,141.00 L111.20,141.00 L112.20,141.00 L113.20,141.00 L114.20,141.00 L115.20,141.00 L116.20,141.00 L117.20,141.00 L117.80,141.00 Z" fill="#f9d98e" stroke="#f0c060" stroke-width="0.5" />
<path d="M10.20,141.00 L10.20,141.00 L11.20,141.00 L12.20,141.00 L13.20,141.00 L14.20,141.00 L15.20,141.00 L16.20,141.00 L17.20,141.00 L18.20,141.00 L19.20,141.00 L20.20,141.00 L21.20,141.00 L22.20,141.00 L23.20,141.00 L24.20,141.00 L25.20,141.00 L26.20,141.00 L27.20,141.00 L28.20,141.00 L29.20,141.00 L30.20,141.00 L31.20,141.00 L32.20,141.00 L33.20,141.00 L34.20,141.00 L35.20,141.00 L36.20,141.00 L37.20,141.00 L38.20,141.00 L39.20,141.00 L40.20,141.00 L41.20,141.00 L42.20,141.00 L43.20,141.00 L44.20,141.00 L45.20,141.00 L46.20,141.00 L47.20,141.00 L48.20,141.00 L49.20,141.00 L50.20,141.00 L51.20,140.98 L52.20,140.95 L53.20,140.86 L54.20,140.64 L55.20,140.08 L56.20,139.38 L57.20,138.19 L58.20,135.17 L59.20,132.44 L60.20,129.49 L61.20,125.00 L62.20,122.80 L63.20,123.16 L64.20,116.89 L65.20,116.05 L66.20,113.70 L67.20,116.72 L68.20,113.70 L69.20,114.48 L70.20,118.59 L71.20,118.99 L72.20,124.03 L73.20,125.43 L74.20,126.98 L75.20,131.62 L76.20,134.53 L77.20,136.24 L78.20,138.29 L79.20,139.67 L80.20,140.41 L81.20,140.75 L82.20,140.91 L83.20,140.97 L84.20,140.99 L85.20,141.00 L86.20,141.00 L87.20,141.00 L88.20,141.00 L89.20,141.00 L90.20,141.00 L91.20,141.00 L92.20,141.00 L93.20,141.00 L94.20,141.00 L95.20,141.00 L96.20,141.00 L97.20,141.00 L98.20,141.00 L99.20,141.00 L100.20,141.00 L101.20,141.00 L102.20,141.00 L103.20,141.00 L104.20,141.00 L105.20,141.00 L106.20,141.00 L107.20,141.00 L108.20,141.00 L109.20,141.00 L110.20,141.00 L111.20,141.00 L112.20,141.00 L113.20,141.00 L114.20,141.00 L115.20,141.00 L116.20,141.00 L117.20,141.00 L117.80,141.00 Z" fill="#f6bf2a" stroke="#e8a820" stroke-width="0.5" opacity="0.95"/>
<path d="M10.20,141.00 L10.20,141.00 L11.20,141.00 L12.20,141.00 L13.20,141.00 L14.20,141.00 L15.20,141.00 L16.20,141.00 L17.20,141.00 L18.20,141.00 L19.20,141.00 L20.20,141.00 L21.20,141.00 L22.20,141.00 L23.20,141.00 L24.20,141.00 L25.20,141.00 L26.20,141.00 L27.20,141.00 L28.20,141.00 L29.20,141.00 L30.20,141.00 L31.20,141.00 L32.20,141.00 L33.20,141.00 L34.20,141.00 L35.20,141.00 L36.20,141.00 L37.20,141.00 L38.20,141.00 L39.20,141.00 L40.20,141.00 L41.20,141.00 L42.20,141.00 L43.20,141.00 L44.20,141.00 L45.20,141.00 L46.20,141.00 L47.20,141.00 L48.20,141.00 L49.20,141.00 L50.20,141.00 L51.20,141.00 L52.20,140.99 L53.20,140.98 L54.20,140.95 L55.20,140.90 L56.20,140.80 L57.20,140.62 L58.20,140.26 L59.20,139.67 L60.20,138.73 L61.20,137.67 L62.20,136.53 L63.20,133.20 L64.20,130.49 L65.20,128.44 L66.20,125.91 L67.20,122.72 L68.20,121.10 L69.20,117.90 L70.20,117.90 L71.20,118.47 L72.20,120.09 L73.20,121.69 L74.20,125.17 L75.20,125.73 L76.20,127.46 L77.20,126.31 L78.20,130.24 L79.20,131.48 L80.20,133.83 L81.20,135.78 L82.20,137.78 L83.20,138.89 L84.20,140.04 L85.20,140.50 L86.20,140.78 L87.20,140.92 L88.20,140.97 L89.20,140.99 L90.20,141.00 L91.20,141.00 L92.20,141.00 L93.20,141.00 L94.20,141.00 L95.20,141.00 L96.20,141.00 L97.20,141.00 L98.20,141.00 L99.20,141.00 L100.20,141.00 L101.20,141.00 L102.20,141.00 L103.20,141.00 L104.20,141.00 L105.20,141.00 L106.20,141.00 L107.20,141.00 L108.20,141.00 L109.20,141.00 L110.20,141.00 L111.20,141.00 L112.20,141.00 L113.20,141.00 L114.20,141.00 L115.20,141.00 L116.20,141.00 L117.20,141.00 L117.80,141.00 Z" fill="#f8c848" fill-opacity="0.45"/>
<path d="M10.20,141.00 L10.20,141.00 L11.20,141.00 L12.20,141.00 L13.20,141.00 L14.20,141.00 L15.20,141.00 L16.20,141.00 L17.20,141.00 L18.20,141.00 L19.20,141.00 L20.20,141.00 L21.20,141.00 L22.20,141.00 L23.20,141.00 L24.20,141.00 L25.20,141.00 L26.20,141.00 L27.20,141.00 L28.20,141.00 L29.20,141.00 L30.20,141.00 L31.20,141.00 L32.20,141.00 L33.20,141.00 L34.20,141.00 L35.20,141.00 L36.20,141.00 L37.20,141.00 L38.20,141.00 L39.20,141.00 L40.20,141.00 L41.20,141.00 L42.20,141.00 L43.20,141.00 L44.20,141.00 L45.20,141.00 L46.20,141.00 L47.20,141.00 L48.20,141.00 L49.20,141.00 L50.20,141.00 L51.20,141.00 L52.20,140.99 L53.20,140.98 L54.20,140.95 L55.20,140.90 L56.20,140.80 L57.20,140.62 L58.20,140.26 L59.20,139.67 L60.20,138.73 L61.20,137.67 L62.20,136.53 L63.20,133.20 L64.20,130.49 L65.20,128.44 L66.20,125.91 L67.20,122.72 L68.20,121.10 L69.20,117.90 L70.20,117.90 L71.20,118.47 L72.20,120.09 L73.20,121.69 L74.20,125.17 L75.20,125.73 L76.20,127.46 L77.20,126.31 L78.20,130.24 L79.20,131.48 L80.20,133.83 L81.20,135.78 L82.20,137.78 L83.20,138.89 L84.20,140.04 L85.20,140.50 L86.20,140.78 L87.20,140.92 L88.20,140.97 L89.20,140.99 L90.20,141.00 L91.20,141.00 L92.20,141.00 L93.20,141.00 L94.20,141.00 L95.20,141.00 L96.20,141.00 L97.20,141.00 L98.20,141.00 L99.20,141.00 L100.20,141.00 L101.20,141.00 L102.20,141.00 L103.20,141.00 L104.20,141.00 L105.20,141.00 L106.20,141.00 L107.20,141.00 L108.20,141.00 L109.20,141.00 L110.20,141.00 L111.20,141.00 L112.20,141.00 L113.20,141.00 L114.20,141.00 L115.20,141.00 L116.20,141.00 L117.20,141.00 L117.80,141.00 Z" fill="none" stroke="#ffffff" stroke-width="0.55" stroke-dasharray="0.9,0.9" opacity="0.9"/>
<line x1="9.20" y1="61.50" x2="129.30" y2="61.50" stroke="#231f20" stroke-width="0.8" />
<text x="123.20" y="49.40" font-size="5.3" fill="#2e5a9a" text-anchor="end" textLength="13.2" lengthAdjust="spacingAndGlyphs" stroke="#2e5a9a" stroke-width="0.03">4804</text>
<text x="123.20" y="54.10" font-size="5.3" fill="#9aaad6" text-anchor="end" textLength="16.5" lengthAdjust="spacingAndGlyphs" stroke="#9aaad6" stroke-width="0.03">10222</text>
<text x="123.20" y="58.90" font-size="5.3" fill="#4a6aa8" text-anchor="end" textLength="20.7" lengthAdjust="spacingAndGlyphs" stroke="#4a6aa8" stroke-width="0.03"><tspan fill="#58595b" stroke="#58595b">***</tspan>3767</text>
<text x="131.50" y="60.40" font-size="6.8" fill="#3a6ea5" textLength="15.0" lengthAdjust="spacingAndGlyphs" stroke="#3a6ea5" stroke-width="0.14">ETP1</text>
<line x1="9.20" y1="77.50" x2="129.30" y2="77.50" stroke="#231f20" stroke-width="0.8" />
<text x="123.20" y="65.40" font-size="5.3" fill="#d2233c" text-anchor="end" textLength="13.2" lengthAdjust="spacingAndGlyphs" stroke="#d2233c" stroke-width="0.03">4551</text>
<text x="123.20" y="70.10" font-size="5.3" fill="#f09888" text-anchor="end" textLength="16.5" lengthAdjust="spacingAndGlyphs" stroke="#f09888" stroke-width="0.03">13921</text>
<text x="123.20" y="74.90" font-size="5.3" fill="#e05060" text-anchor="end" textLength="20.7" lengthAdjust="spacingAndGlyphs" stroke="#e05060" stroke-width="0.03"><tspan fill="#58595b" stroke="#58595b">***</tspan>4056</text>
<text x="131.50" y="76.40" font-size="6.8" fill="#d2233c" textLength="15.0" lengthAdjust="spacingAndGlyphs" stroke="#d2233c" stroke-width="0.14">ETP2</text>
<line x1="9.20" y1="93.50" x2="129.30" y2="93.50" stroke="#231f20" stroke-width="0.8" />
<text x="123.20" y="81.40" font-size="5.3" fill="#3cb44b" text-anchor="end" textLength="13.2" lengthAdjust="spacingAndGlyphs" stroke="#3cb44b" stroke-width="0.03">3898</text>
<text x="123.20" y="86.10" font-size="5.3" fill="#a8dc98" text-anchor="end" textLength="13.2" lengthAdjust="spacingAndGlyphs" stroke="#a8dc98" stroke-width="0.03">7878</text>
<text x="123.20" y="90.90" font-size="5.3" fill="#2e8a3a" text-anchor="end" textLength="20.7" lengthAdjust="spacingAndGlyphs" stroke="#2e8a3a" stroke-width="0.03"><tspan fill="#58595b" stroke="#58595b">***</tspan>3358</text>
<text x="131.50" y="92.40" font-size="6.8" fill="#3cb44b" textLength="15.0" lengthAdjust="spacingAndGlyphs" stroke="#3cb44b" stroke-width="0.14">ETP3</text>
<line x1="9.20" y1="109.50" x2="129.30" y2="109.50" stroke="#231f20" stroke-width="0.8" />
<text x="123.20" y="97.40" font-size="5.3" fill="#58595b" text-anchor="end" textLength="13.2" lengthAdjust="spacingAndGlyphs" stroke="#58595b" stroke-width="0.03">3092</text>
<text x="123.20" y="102.10" font-size="5.3" fill="#a7a9ac" text-anchor="end" textLength="13.2" lengthAdjust="spacingAndGlyphs" stroke="#a7a9ac" stroke-width="0.03">9282</text>
<text x="123.20" y="106.90" font-size="5.3" fill="#6d6e71" text-anchor="end" textLength="20.7" lengthAdjust="spacingAndGlyphs" stroke="#6d6e71" stroke-width="0.03"><tspan fill="#58595b" stroke="#58595b">***</tspan>3938</text>
<text x="131.50" y="108.40" font-size="6.8" fill="#58595b" textLength="15.0" lengthAdjust="spacingAndGlyphs" stroke="#58595b" stroke-width="0.14">ETP4</text>
<line x1="9.20" y1="125.50" x2="129.30" y2="125.50" stroke="#231f20" stroke-width="0.8" />
<text x="123.20" y="113.40" font-size="5.3" fill="#5c2d82" text-anchor="end" textLength="13.2" lengthAdjust="spacingAndGlyphs" stroke="#5c2d82" stroke-width="0.03">3705</text>
<text x="123.20" y="118.10" font-size="5.3" fill="#b09cc8" text-anchor="end" textLength="13.2" lengthAdjust="spacingAndGlyphs" stroke="#b09cc8" stroke-width="0.03">4522</text>
<text x="123.20" y="122.90" font-size="5.3" fill="#7a5aa0" text-anchor="end" textLength="20.7" lengthAdjust="spacingAndGlyphs" stroke="#7a5aa0" stroke-width="0.03"><tspan fill="#58595b" stroke="#58595b">***</tspan>2522</text>
<text x="131.50" y="124.40" font-size="6.8" fill="#6f4a96" textLength="15.0" lengthAdjust="spacingAndGlyphs" stroke="#6f4a96" stroke-width="0.14">ETP5</text>
<line x1="9.20" y1="141.50" x2="129.30" y2="141.50" stroke="#231f20" stroke-width="0.8" />
<text x="123.20" y="129.70" font-size="5.3" fill="#f6b547" text-anchor="end" textLength="13.2" lengthAdjust="spacingAndGlyphs" stroke="#f6b547" stroke-width="0.03">4499</text>
<text x="123.20" y="134.40" font-size="5.3" fill="#f8d59a" text-anchor="end" textLength="13.2" lengthAdjust="spacingAndGlyphs" stroke="#f8d59a" stroke-width="0.03">8000</text>
<text x="123.20" y="139.20" font-size="5.3" fill="#f6c060" text-anchor="end" textLength="20.7" lengthAdjust="spacingAndGlyphs" stroke="#f6c060" stroke-width="0.03"><tspan fill="#58595b" stroke="#58595b">***</tspan>3177</text>
<text x="131.50" y="140.70" font-size="6.8" fill="#f4a93c" textLength="15.0" lengthAdjust="spacingAndGlyphs" stroke="#f4a93c" stroke-width="0.14">ETP6</text>
<line x1="63.50" y1="35.00" x2="63.50" y2="141.30" stroke="#231f20" stroke-width="0.9" stroke-dasharray="1.4,1.2"/>
<line x1="9.80" y1="141.50" x2="9.80" y2="144.80" stroke="#231f20" stroke-width="0.7" />
<line x1="19.42" y1="141.50" x2="19.42" y2="144.00" stroke="#231f20" stroke-width="0.55" />
<line x1="23.28" y1="141.50" x2="23.28" y2="144.00" stroke="#231f20" stroke-width="0.55" />
<line x1="26.03" y1="141.50" x2="26.03" y2="144.00" stroke="#231f20" stroke-width="0.55" />
<line x1="28.16" y1="141.50" x2="28.16" y2="144.00" stroke="#231f20" stroke-width="0.55" />
<line x1="29.90" y1="141.50" x2="29.90" y2="144.00" stroke="#231f20" stroke-width="0.55" />
<line x1="31.37" y1="141.50" x2="31.37" y2="144.00" stroke="#231f20" stroke-width="0.55" />
<line x1="32.65" y1="141.50" x2="32.65" y2="144.00" stroke="#231f20" stroke-width="0.55" />
<line x1="33.77" y1="141.50" x2="33.77" y2="144.00" stroke="#231f20" stroke-width="0.55" />
<line x1="39.10" y1="141.50" x2="39.10" y2="144.80" stroke="#231f20" stroke-width="0.7" />
<line x1="47.92" y1="141.50" x2="47.92" y2="144.00" stroke="#231f20" stroke-width="0.55" />
<line x1="53.08" y1="141.50" x2="53.08" y2="144.00" stroke="#231f20" stroke-width="0.55" />
<line x1="56.74" y1="141.50" x2="56.74" y2="144.00" stroke="#231f20" stroke-width="0.55" />
<line x1="59.58" y1="141.50" x2="59.58" y2="144.00" stroke="#231f20" stroke-width="0.55" />
<line x1="61.90" y1="141.50" x2="61.90" y2="144.00" stroke="#231f20" stroke-width="0.55" />
<line x1="63.86" y1="141.50" x2="63.86" y2="144.00" stroke="#231f20" stroke-width="0.55" />
<line x1="65.56" y1="141.50" x2="65.56" y2="144.00" stroke="#231f20" stroke-width="0.55" />
<line x1="67.06" y1="141.50" x2="67.06" y2="144.00" stroke="#231f20" stroke-width="0.55" />
<line x1="68.40" y1="141.50" x2="68.40" y2="144.80" stroke="#231f20" stroke-width="0.7" />
<line x1="77.22" y1="141.50" x2="77.22" y2="144.00" stroke="#231f20" stroke-width="0.55" />
<line x1="82.38" y1="141.50" x2="82.38" y2="144.00" stroke="#231f20" stroke-width="0.55" />
<line x1="86.04" y1="141.50" x2="86.04" y2="144.00" stroke="#231f20" stroke-width="0.55" />
<line x1="88.88" y1="141.50" x2="88.88" y2="144.00" stroke="#231f20" stroke-width="0.55" />
<line x1="91.20" y1="141.50" x2="91.20" y2="144.00" stroke="#231f20" stroke-width="0.55" />
<line x1="93.16" y1="141.50" x2="93.16" y2="144.00" stroke="#231f20" stroke-width="0.55" />
<line x1="94.86" y1="141.50" x2="94.86" y2="144.00" stroke="#231f20" stroke-width="0.55" />
<line x1="96.36" y1="141.50" x2="96.36" y2="144.00" stroke="#231f20" stroke-width="0.55" />
<line x1="97.70" y1="141.50" x2="97.70" y2="144.80" stroke="#231f20" stroke-width="0.7" />
<line x1="106.52" y1="141.50" x2="106.52" y2="144.00" stroke="#231f20" stroke-width="0.55" />
<line x1="111.68" y1="141.50" x2="111.68" y2="144.00" stroke="#231f20" stroke-width="0.55" />
<line x1="115.34" y1="141.50" x2="115.34" y2="144.00" stroke="#231f20" stroke-width="0.55" />
<line x1="118.18" y1="141.50" x2="118.18" y2="144.00" stroke="#231f20" stroke-width="0.55" />
<line x1="120.50" y1="141.50" x2="120.50" y2="144.00" stroke="#231f20" stroke-width="0.55" />
<line x1="123.30" y1="141.50" x2="123.30" y2="144.80" stroke="#231f20" stroke-width="0.7" />
<text x="39.10" y="148.20" font-size="3.2" fill="#9a9a9e" text-anchor="middle">0</text>
<text x="68.40" y="148.20" font-size="3.2" fill="#9a9a9e" text-anchor="middle">10³</text>
<text x="97.70" y="148.20" font-size="3.2" fill="#9a9a9e" text-anchor="middle">10⁴</text>
<text x="54.20" y="42.50" font-size="6.6" text-anchor="end" stroke="#231f20" stroke-width="0.14">Vehicle</text>
<text x="54.20" y="50.50" font-size="6.6" fill="#6d6e71" text-anchor="end" stroke="#6d6e71" stroke-width="0.14">IL-7</text>
<text x="54.20" y="58.50" font-size="6.6" text-anchor="end" stroke="#231f20" stroke-width="0.14">IL-7+<tspan fill="#d2233c" stroke="#d2233c">Pimozide</tspan></text>
<text x="10.80" y="154.00" font-size="8.6" fill="#3a3a3c" textLength="21.3" lengthAdjust="spacingAndGlyphs" stroke="#3a3a3c" stroke-width="0.25">pSTAT5</text>
<line x1="36.20" y1="150.50" x2="113.70" y2="150.50" stroke="#231f20" stroke-width="1.0" />
<path d="M118.20,150.50 L113.20,148.50 L113.20,152.50 Z" fill="#231f20" />
<text x="123.20" y="40.80" font-size="5.8" text-anchor="end" textLength="12" lengthAdjust="spacingAndGlyphs" stroke="#231f20" stroke-width="0.14">MFI:</text>
<line x1="9.20" y1="145.00" x2="9.20" y2="145.00" stroke="#231f20" stroke-width="0.5" />
<text x="218.00" y="30.90" font-size="8.6" text-anchor="middle" textLength="22.4" lengthAdjust="spacingAndGlyphs" stroke="#231f20" stroke-width="0.25">T-ALL</text>
<line x1="159.30" y1="35.50" x2="277.40" y2="35.50" stroke="#6d6e71" stroke-width="0.8" />
<line x1="159.50" y1="35.00" x2="159.50" y2="145.00" stroke="#6d6e71" stroke-width="0.8" />
<line x1="277.50" y1="35.00" x2="277.50" y2="141.30" stroke="#6d6e71" stroke-width="0.8" />
<path d="M160.30,60.70 L160.30,60.70 L161.30,60.70 L162.30,60.70 L163.30,60.70 L164.30,60.70 L165.30,60.70 L166.30,60.70 L167.30,60.70 L168.30,60.70 L169.30,60.70 L170.30,60.70 L171.30,60.70 L172.30,60.70 L173.30,60.70 L174.30,60.70 L175.30,60.70 L176.30,60.70 L177.30,60.70 L178.30,60.70 L179.30,60.70 L180.30,60.70 L181.30,60.70 L182.30,60.70 L183.30,60.70 L184.30,60.70 L185.30,60.70 L186.30,60.70 L187.30,60.70 L188.30,60.70 L189.30,60.70 L190.30,60.70 L191.30,60.70 L192.30,60.70 L193.30,60.70 L194.30,60.70 L195.30,60.70 L196.30,60.70 L197.30,60.70 L198.30,60.70 L199.30,60.70 L200.30,60.70 L201.30,60.70 L202.30,60.70 L203.30,60.70 L204.30,60.70 L205.30,60.70 L206.30,60.70 L207.30,60.69 L208.30,60.67 L209.30,60.64 L210.30,60.57 L211.30,60.45 L212.30,60.21 L213.30,59.87 L214.30,59.43 L215.30,58.47 L216.30,56.91 L217.30,55.82 L218.30,53.83 L219.30,52.82 L220.30,50.33 L221.30,48.76 L222.30,48.13 L223.30,46.68 L224.30,46.64 L225.30,43.90 L226.30,44.80 L227.30,45.21 L228.30,44.97 L229.30,46.23 L230.30,48.56 L231.30,47.59 L232.30,49.39 L233.30,48.95 L234.30,51.40 L235.30,51.94 L236.30,53.55 L237.30,53.46 L238.30,55.35 L239.30,56.74 L240.30,58.40 L241.30,59.15 L242.30,59.90 L243.30,60.33 L244.30,60.53 L245.30,60.63 L246.30,60.67 L247.30,60.69 L248.30,60.70 L249.30,60.70 L250.30,60.70 L251.30,60.70 L252.30,60.70 L253.30,60.70 L254.30,60.70 L255.30,60.70 L256.30,60.70 L257.30,60.70 L258.30,60.70 L259.30,60.70 L260.30,60.70 L261.30,60.70 L262.30,60.70 L263.30,60.70 L264.30,60.70 L265.30,60.70 L266.30,60.70 L267.30,60.70 L268.30,60.70 L269.30,60.70 L269.40,60.70 Z" fill="#ef8c78" stroke="#c04030" stroke-width="0.5" />
<path d="M160.30,60.70 L160.30,60.70 L161.30,60.70 L162.30,60.70 L163.30,60.70 L164.30,60.70 L165.30,60.70 L166.30,60.70 L167.30,60.70 L168.30,60.70 L169.30,60.70 L170.30,60.70 L171.30,60.70 L172.30,60.70 L173.30,60.70 L174.30,60.70 L175.30,60.70 L176.30,60.70 L177.30,60.70 L178.30,60.70 L179.30,60.70 L180.30,60.70 L181.30,60.70 L182.30,60.70 L183.30,60.70 L184.30,60.70 L185.30,60.70 L186.30,60.70 L187.30,60.70 L188.30,60.70 L189.30,60.70 L190.30,60.70 L191.30,60.70 L192.30,60.70 L193.30,60.70 L194.30,60.70 L195.30,60.70 L196.30,60.70 L197.30,60.70 L198.30,60.70 L199.30,60.70 L200.30,60.70 L201.30,60.70 L202.30,60.70 L203.30,60.70 L204.30,60.69 L205.30,60.66 L206.30,60.56 L207.30,60.29 L208.30,59.51 L209.30,58.26 L210.30,55.79 L211.30,52.17 L212.30,48.32 L213.30,44.20 L214.30,38.06 L215.30,34.81 L216.30,33.40 L217.30,37.81 L218.30,37.92 L219.30,46.18 L220.30,48.12 L221.30,53.21 L222.30,55.47 L223.30,57.58 L224.30,58.52 L225.30,59.66 L226.30,60.24 L227.30,60.51 L228.30,60.63 L229.30,60.68 L230.30,60.69 L231.30,60.70 L232.30,60.70 L233.30,60.70 L234.30,60.70 L235.30,60.70 L236.30,60.70 L237.30,60.70 L238.30,60.70 L239.30,60.70 L240.30,60.70 L241.30,60.70 L242.30,60.70 L243.30,60.70 L244.30,60.70 L245.30,60.70 L246.30,60.70 L247.30,60.70 L248.30,60.70 L249.30,60.70 L250.30,60.70 L251.30,60.70 L252.30,60.70 L253.30,60.70 L254.30,60.70 L255.30,60.70 L256.30,60.70 L257.30,60.70 L258.30,60.70 L259.30,60.70 L260.30,60.70 L261.30,60.70 L262.30,60.70 L263.30,60.70 L264.30,60.70 L265.30,60.70 L266.30,60.70 L267.30,60.70 L268.30,60.70 L269.30,60.70 L269.40,60.70 Z" fill="#d8202e" stroke="#a01020" stroke-width="0.5" opacity="0.9"/>
<path d="M160.30,60.70 L160.30,60.70 L161.30,60.70 L162.30,60.70 L163.30,60.70 L164.30,60.70 L165.30,60.70 L166.30,60.70 L167.30,60.70 L168.30,60.70 L169.30,60.70 L170.30,60.70 L171.30,60.70 L172.30,60.70 L173.30,60.70 L174.30,60.70 L175.30,60.70 L176.30,60.70 L177.30,60.70 L178.30,60.70 L179.30,60.70 L180.30,60.70 L181.30,60.70 L182.30,60.70 L183.30,60.70 L184.30,60.70 L185.30,60.70 L186.30,60.70 L187.30,60.70 L188.30,60.70 L189.30,60.70 L190.30,60.70 L191.30,60.70 L192.30,60.70 L193.30,60.70 L194.30,60.70 L195.30,60.70 L196.30,60.70 L197.30,60.70 L198.30,60.70 L199.30,60.70 L200.30,60.70 L201.30,60.70 L202.30,60.70 L203.30,60.69 L204.30,60.67 L205.30,60.62 L206.30,60.48 L207.30,60.15 L208.30,59.51 L209.30,58.04 L210.30,56.19 L211.30,53.27 L212.30,50.15 L213.30,44.54 L214.30,42.73 L215.30,37.60 L216.30,40.17 L217.30,37.91 L218.30,45.43 L219.30,47.90 L220.30,51.62 L221.30,54.44 L222.30,57.23 L223.30,59.14 L224.30,59.91 L225.30,60.38 L226.30,60.58 L227.30,60.66 L228.30,60.69 L229.30,60.70 L230.30,60.70 L231.30,60.70 L232.30,60.70 L233.30,60.70 L234.30,60.70 L235.30,60.70 L236.30,60.70 L237.30,60.70 L238.30,60.70 L239.30,60.70 L240.30,60.70 L241.30,60.70 L242.30,60.70 L243.30,60.70 L244.30,60.70 L245.30,60.70 L246.30,60.70 L247.30,60.70 L248.30,60.70 L249.30,60.70 L250.30,60.70 L251.30,60.70 L252.30,60.70 L253.30,60.70 L254.30,60.70 L255.30,60.70 L256.30,60.70 L257.30,60.70 L258.30,60.70 L259.30,60.70 L260.30,60.70 L261.30,60.70 L262.30,60.70 L263.30,60.70 L264.30,60.70 L265.30,60.70 L266.30,60.70 L267.30,60.70 L268.30,60.70 L269.30,60.70 L269.40,60.70 Z" fill="#e45050" fill-opacity="0.45"/>
<path d="M160.30,60.70 L160.30,60.70 L161.30,60.70 L162.30,60.70 L163.30,60.70 L164.30,60.70 L165.30,60.70 L166.30,60.70 L167.30,60.70 L168.30,60.70 L169.30,60.70 L170.30,60.70 L171.30,60.70 L172.30,60.70 L173.30,60.70 L174.30,60.70 L175.30,60.70 L176.30,60.70 L177.30,60.70 L178.30,60.70 L179.30,60.70 L180.30,60.70 L181.30,60.70 L182.30,60.70 L183.30,60.70 L184.30,60.70 L185.30,60.70 L186.30,60.70 L187.30,60.70 L188.30,60.70 L189.30,60.70 L190.30,60.70 L191.30,60.70 L192.30,60.70 L193.30,60.70 L194.30,60.70 L195.30,60.70 L196.30,60.70 L197.30,60.70 L198.30,60.70 L199.30,60.70 L200.30,60.70 L201.30,60.70 L202.30,60.70 L203.30,60.69 L204.30,60.67 L205.30,60.62 L206.30,60.48 L207.30,60.15 L208.30,59.51 L209.30,58.04 L210.30,56.19 L211.30,53.27 L212.30,50.15 L213.30,44.54 L214.30,42.73 L215.30,37.60 L216.30,40.17 L217.30,37.91 L218.30,45.43 L219.30,47.90 L220.30,51.62 L221.30,54.44 L222.30,57.23 L223.30,59.14 L224.30,59.91 L225.30,60.38 L226.30,60.58 L227.30,60.66 L228.30,60.69 L229.30,60.70 L230.30,60.70 L231.30,60.70 L232.30,60.70 L233.30,60.70 L234.30,60.70 L235.30,60.70 L236.30,60.70 L237.30,60.70 L238.30,60.70 L239.30,60.70 L240.30,60.70 L241.30,60.70 L242.30,60.70 L243.30,60.70 L244.30,60.70 L245.30,60.70 L246.30,60.70 L247.30,60.70 L248.30,60.70 L249.30,60.70 L250.30,60.70 L251.30,60.70 L252.30,60.70 L253.30,60.70 L254.30,60.70 L255.30,60.70 L256.30,60.70 L257.30,60.70 L258.30,60.70 L259.30,60.70 L260.30,60.70 L261.30,60.70 L262.30,60.70 L263.30,60.70 L264.30,60.70 L265.30,60.70 L266.30,60.70 L267.30,60.70 L268.30,60.70 L269.30,60.70 L269.40,60.70 Z" fill="none" stroke="#ffffff" stroke-width="0.55" stroke-dasharray="0.9,0.9" opacity="0.9"/>
<path d="M160.30,76.70 L160.30,76.70 L161.30,76.70 L162.30,76.70 L163.30,76.70 L164.30,76.70 L165.30,76.70 L166.30,76.70 L167.30,76.70 L168.30,76.70 L169.30,76.70 L170.30,76.70 L171.30,76.70 L172.30,76.70 L173.30,76.70 L174.30,76.70 L175.30,76.70 L176.30,76.70 L177.30,76.70 L178.30,76.70 L179.30,76.70 L180.30,76.70 L181.30,76.70 L182.30,76.70 L183.30,76.70 L184.30,76.70 L185.30,76.70 L186.30,76.70 L187.30,76.70 L188.30,76.70 L189.30,76.70 L190.30,76.70 L191.30,76.70 L192.30,76.70 L193.30,76.70 L194.30,76.70 L195.30,76.70 L196.30,76.70 L197.30,76.70 L198.30,76.70 L199.30,76.70 L200.30,76.70 L201.30,76.70 L202.30,76.69 L203.30,76.69 L204.30,76.66 L205.30,76.62 L206.30,76.52 L207.30,76.34 L208.30,76.01 L209.30,75.43 L210.30,74.74 L211.30,73.47 L212.30,71.73 L213.30,68.94 L214.30,65.33 L215.30,63.14 L216.30,58.84 L217.30,58.13 L218.30,55.28 L219.30,51.82 L220.30,51.50 L221.30,55.19 L222.30,55.61 L223.30,58.44 L224.30,60.48 L225.30,61.53 L226.30,66.01 L227.30,67.21 L228.30,69.52 L229.30,71.49 L230.30,73.44 L231.30,74.66 L232.30,75.53 L233.30,75.98 L234.30,76.30 L235.30,76.49 L236.30,76.59 L237.30,76.65 L238.30,76.68 L239.30,76.69 L240.30,76.70 L241.30,76.70 L242.30,76.70 L243.30,76.70 L244.30,76.70 L245.30,76.70 L246.30,76.70 L247.30,76.70 L248.30,76.70 L249.30,76.70 L250.30,76.70 L251.30,76.70 L252.30,76.70 L253.30,76.70 L254.30,76.70 L255.30,76.70 L256.30,76.70 L257.30,76.70 L258.30,76.70 L259.30,76.70 L260.30,76.70 L261.30,76.70 L262.30,76.70 L263.30,76.70 L264.30,76.70 L265.30,76.70 L266.30,76.70 L267.30,76.70 L268.30,76.70 L269.30,76.70 L269.40,76.70 Z" fill="#a8d8f2" stroke="#70b0d8" stroke-width="0.5" />
<path d="M160.30,76.70 L160.30,76.70 L161.30,76.70 L162.30,76.70 L163.30,76.70 L164.30,76.70 L165.30,76.70 L166.30,76.70 L167.30,76.70 L168.30,76.70 L169.30,76.70 L170.30,76.70 L171.30,76.70 L172.30,76.70 L173.30,76.70 L174.30,76.70 L175.30,76.70 L176.30,76.70 L177.30,76.70 L178.30,76.70 L179.30,76.70 L180.30,76.70 L181.30,76.70 L182.30,76.70 L183.30,76.70 L184.30,76.70 L185.30,76.70 L186.30,76.69 L187.30,76.68 L188.30,76.67 L189.30,76.64 L190.30,76.60 L191.30,76.53 L192.30,76.44 L193.30,76.31 L194.30,76.13 L195.30,75.88 L196.30,75.61 L197.30,75.52 L198.30,75.19 L199.30,74.47 L200.30,74.60 L201.30,74.00 L202.30,73.90 L203.30,73.14 L204.30,72.90 L205.30,72.56 L206.30,71.75 L207.30,69.97 L208.30,66.58 L209.30,63.18 L210.30,60.66 L211.30,60.22 L212.30,54.74 L213.30,55.31 L214.30,50.98 L215.30,53.63 L216.30,54.55 L217.30,55.95 L218.30,54.08 L219.30,60.41 L220.30,64.04 L221.30,67.22 L222.30,69.87 L223.30,72.25 L224.30,74.33 L225.30,75.31 L226.30,76.07 L227.30,76.43 L228.30,76.59 L229.30,76.66 L230.30,76.69 L231.30,76.70 L232.30,76.70 L233.30,76.70 L234.30,76.70 L235.30,76.70 L236.30,76.70 L237.30,76.70 L238.30,76.70 L239.30,76.70 L240.30,76.70 L241.30,76.70 L242.30,76.70 L243.30,76.70 L244.30,76.70 L245.30,76.70 L246.30,76.70 L247.30,76.70 L248.30,76.70 L249.30,76.70 L250.30,76.70 L251.30,76.70 L252.30,76.70 L253.30,76.70 L254.30,76.70 L255.30,76.70 L256.30,76.70 L257.30,76.70 L258.30,76.70 L259.30,76.70 L260.30,76.70 L261.30,76.70 L262.30,76.70 L263.30,76.70 L264.30,76.70 L265.30,76.70 L266.30,76.70 L267.30,76.70 L268.30,76.70 L269.30,76.70 L269.40,76.70 Z" fill="#4aa8e0" stroke="#2a80b8" stroke-width="0.5" opacity="0.9"/>
<path d="M160.30,76.70 L160.30,76.70 L161.30,76.70 L162.30,76.70 L163.30,76.70 L164.30,76.70 L165.30,76.70 L166.30,76.70 L167.30,76.70 L168.30,76.70 L169.30,76.70 L170.30,76.70 L171.30,76.70 L172.30,76.70 L173.30,76.70 L174.30,76.70 L175.30,76.70 L176.30,76.70 L177.30,76.70 L178.30,76.70 L179.30,76.70 L180.30,76.70 L181.30,76.70 L182.30,76.70 L183.30,76.70 L184.30,76.70 L185.30,76.70 L186.30,76.70 L187.30,76.70 L188.30,76.70 L189.30,76.70 L190.30,76.70 L191.30,76.69 L192.30,76.68 L193.30,76.66 L194.30,76.63 L195.30,76.56 L196.30,76.45 L197.30,76.29 L198.30,76.05 L199.30,75.65 L200.30,75.44 L201.30,75.12 L202.30,74.50 L203.30,73.66 L204.30,73.78 L205.30,72.86 L206.30,72.10 L207.30,71.42 L208.30,69.76 L209.30,67.73 L210.30,63.83 L211.30,61.16 L212.30,57.63 L213.30,55.28 L214.30,56.09 L215.30,53.60 L216.30,55.42 L217.30,57.54 L218.30,62.03 L219.30,64.98 L220.30,66.58 L221.30,69.89 L222.30,72.10 L223.30,74.31 L224.30,75.37 L225.30,75.81 L226.30,76.29 L227.30,76.51 L228.30,76.61 L229.30,76.66 L230.30,76.69 L231.30,76.69 L232.30,76.70 L233.30,76.70 L234.30,76.70 L235.30,76.70 L236.30,76.70 L237.30,76.70 L238.30,76.70 L239.30,76.70 L240.30,76.70 L241.30,76.70 L242.30,76.70 L243.30,76.70 L244.30,76.70 L245.30,76.70 L246.30,76.70 L247.30,76.70 L248.30,76.70 L249.30,76.70 L250.30,76.70 L251.30,76.70 L252.30,76.70 L253.30,76.70 L254.30,76.70 L255.30,76.70 L256.30,76.70 L257.30,76.70 L258.30,76.70 L259.30,76.70 L260.30,76.70 L261.30,76.70 L262.30,76.70 L263.30,76.70 L264.30,76.70 L265.30,76.70 L266.30,76.70 L267.30,76.70 L268.30,76.70 L269.30,76.70 L269.40,76.70 Z" fill="#70bce8" fill-opacity="0.45"/>
<path d="M160.30,76.70 L160.30,76.70 L161.30,76.70 L162.30,76.70 L163.30,76.70 L164.30,76.70 L165.30,76.70 L166.30,76.70 L167.30,76.70 L168.30,76.70 L169.30,76.70 L170.30,76.70 L171.30,76.70 L172.30,76.70 L173.30,76.70 L174.30,76.70 L175.30,76.70 L176.30,76.70 L177.30,76.70 L178.30,76.70 L179.30,76.70 L180.30,76.70 L181.30,76.70 L182.30,76.70 L183.30,76.70 L184.30,76.70 L185.30,76.70 L186.30,76.70 L187.30,76.70 L188.30,76.70 L189.30,76.70 L190.30,76.70 L191.30,76.69 L192.30,76.68 L193.30,76.66 L194.30,76.63 L195.30,76.56 L196.30,76.45 L197.30,76.29 L198.30,76.05 L199.30,75.65 L200.30,75.44 L201.30,75.12 L202.30,74.50 L203.30,73.66 L204.30,73.78 L205.30,72.86 L206.30,72.10 L207.30,71.42 L208.30,69.76 L209.30,67.73 L210.30,63.83 L211.30,61.16 L212.30,57.63 L213.30,55.28 L214.30,56.09 L215.30,53.60 L216.30,55.42 L217.30,57.54 L218.30,62.03 L219.30,64.98 L220.30,66.58 L221.30,69.89 L222.30,72.10 L223.30,74.31 L224.30,75.37 L225.30,75.81 L226.30,76.29 L227.30,76.51 L228.30,76.61 L229.30,76.66 L230.30,76.69 L231.30,76.69 L232.30,76.70 L233.30,76.70 L234.30,76.70 L235.30,76.70 L236.30,76.70 L237.30,76.70 L238.30,76.70 L239.30,76.70 L240.30,76.70 L241.30,76.70 L242.30,76.70 L243.30,76.70 L244.30,76.70 L245.30,76.70 L246.30,76.70 L247.30,76.70 L248.30,76.70 L249.30,76.70 L250.30,76.70 L251.30,76.70 L252.30,76.70 L253.30,76.70 L254.30,76.70 L255.30,76.70 L256.30,76.70 L257.30,76.70 L258.30,76.70 L259.30,76.70 L260.30,76.70 L261.30,76.70 L262.30,76.70 L263.30,76.70 L264.30,76.70 L265.30,76.70 L266.30,76.70 L267.30,76.70 L268.30,76.70 L269.30,76.70 L269.40,76.70 Z" fill="none" stroke="#ffffff" stroke-width="0.55" stroke-dasharray="0.9,0.9" opacity="0.9"/>
<path d="M160.30,92.70 L160.30,92.70 L161.30,92.70 L162.30,92.70 L163.30,92.70 L164.30,92.70 L165.30,92.70 L166.30,92.70 L167.30,92.70 L168.30,92.70 L169.30,92.70 L170.30,92.70 L171.30,92.70 L172.30,92.70 L173.30,92.70 L174.30,92.70 L175.30,92.70 L176.30,92.70 L177.30,92.70 L178.30,92.70 L179.30,92.70 L180.30,92.70 L181.30,92.70 L182.30,92.70 L183.30,92.70 L184.30,92.70 L185.30,92.70 L186.30,92.70 L187.30,92.70 L188.30,92.70 L189.30,92.70 L190.30,92.70 L191.30,92.70 L192.30,92.70 L193.30,92.70 L194.30,92.70 L195.30,92.70 L196.30,92.70 L197.30,92.70 L198.30,92.70 L199.30,92.70 L200.30,92.70 L201.30,92.70 L202.30,92.70 L203.30,92.70 L204.30,92.70 L205.30,92.70 L206.30,92.70 L207.30,92.70 L208.30,92.70 L209.30,92.70 L210.30,92.70 L211.30,92.70 L212.30,92.69 L213.30,92.68 L214.30,92.66 L215.30,92.60 L216.30,92.49 L217.30,92.29 L218.30,91.95 L219.30,91.30 L220.30,90.46 L221.30,89.26 L222.30,87.38 L223.30,85.77 L224.30,82.16 L225.30,78.16 L226.30,76.69 L227.30,72.56 L228.30,70.41 L229.30,69.07 L230.30,70.04 L231.30,67.83 L232.30,68.27 L233.30,72.37 L234.30,69.33 L235.30,72.40 L236.30,75.56 L237.30,79.66 L238.30,80.99 L239.30,83.00 L240.30,86.07 L241.30,87.31 L242.30,88.98 L243.30,90.59 L244.30,91.24 L245.30,91.87 L246.30,92.14 L247.30,92.38 L248.30,92.52 L249.30,92.61 L250.30,92.65 L251.30,92.68 L252.30,92.69 L253.30,92.69 L254.30,92.70 L255.30,92.70 L256.30,92.70 L257.30,92.70 L258.30,92.70 L259.30,92.70 L260.30,92.70 L261.30,92.70 L262.30,92.70 L263.30,92.70 L264.30,92.70 L265.30,92.70 L266.30,92.70 L267.30,92.70 L268.30,92.70 L269.30,92.70 L269.40,92.70 Z" fill="#9a82aa" stroke="#7a6090" stroke-width="0.5" />
<path d="M160.30,92.70 L160.30,92.70 L161.30,92.70 L162.30,92.70 L163.30,92.70 L164.30,92.70 L165.30,92.70 L166.30,92.70 L167.30,92.70 L168.30,92.70 L169.30,92.70 L170.30,92.70 L171.30,92.70 L172.30,92.70 L173.30,92.70 L174.30,92.70 L175.30,92.70 L176.30,92.70 L177.30,92.70 L178.30,92.70 L179.30,92.70 L180.30,92.70 L181.30,92.70 L182.30,92.70 L183.30,92.70 L184.30,92.70 L185.30,92.70 L186.30,92.70 L187.30,92.70 L188.30,92.70 L189.30,92.70 L190.30,92.70 L191.30,92.70 L192.30,92.70 L193.30,92.70 L194.30,92.70 L195.30,92.70 L196.30,92.70 L197.30,92.70 L198.30,92.69 L199.30,92.68 L200.30,92.65 L201.30,92.58 L202.30,92.44 L203.30,92.18 L204.30,91.63 L205.30,90.82 L206.30,89.83 L207.30,88.56 L208.30,86.07 L209.30,81.45 L210.30,80.50 L211.30,77.08 L212.30,72.07 L213.30,67.76 L214.30,69.75 L215.30,69.44 L216.30,70.64 L217.30,69.25 L218.30,74.97 L219.30,76.52 L220.30,81.48 L221.30,84.28 L222.30,86.62 L223.30,88.78 L224.30,90.57 L225.30,91.36 L226.30,92.03 L227.30,92.36 L228.30,92.53 L229.30,92.62 L230.30,92.67 L231.30,92.69 L232.30,92.69 L233.30,92.70 L234.30,92.70 L235.30,92.70 L236.30,92.70 L237.30,92.70 L238.30,92.70 L239.30,92.70 L240.30,92.70 L241.30,92.70 L242.30,92.70 L243.30,92.70 L244.30,92.70 L245.30,92.70 L246.30,92.70 L247.30,92.70 L248.30,92.70 L249.30,92.70 L250.30,92.70 L251.30,92.70 L252.30,92.70 L253.30,92.70 L254.30,92.70 L255.30,92.70 L256.30,92.70 L257.30,92.70 L258.30,92.70 L259.30,92.70 L260.30,92.70 L261.30,92.70 L262.30,92.70 L263.30,92.70 L264.30,92.70 L265.30,92.70 L266.30,92.70 L267.30,92.70 L268.30,92.70 L269.30,92.70 L269.40,92.70 Z" fill="#5a2a6a" stroke="#3a1a4a" stroke-width="0.5" opacity="0.92"/>
<path d="M160.30,92.70 L160.30,92.70 L161.30,92.70 L162.30,92.70 L163.30,92.70 L164.30,92.70 L165.30,92.70 L166.30,92.70 L167.30,92.70 L168.30,92.70 L169.30,92.70 L170.30,92.70 L171.30,92.70 L172.30,92.70 L173.30,92.70 L174.30,92.70 L175.30,92.70 L176.30,92.70 L177.30,92.70 L178.30,92.70 L179.30,92.70 L180.30,92.70 L181.30,92.70 L182.30,92.70 L183.30,92.70 L184.30,92.70 L185.30,92.70 L186.30,92.70 L187.30,92.70 L188.30,92.70 L189.30,92.70 L190.30,92.70 L191.30,92.70 L192.30,92.70 L193.30,92.70 L194.30,92.70 L195.30,92.70 L196.30,92.70 L197.30,92.70 L198.30,92.70 L199.30,92.70 L200.30,92.69 L201.30,92.67 L202.30,92.64 L203.30,92.56 L204.30,92.39 L205.30,92.08 L206.30,91.60 L207.30,90.83 L208.30,89.19 L209.30,87.36 L210.30,83.74 L211.30,80.26 L212.30,76.69 L213.30,75.34 L214.30,71.13 L215.30,70.04 L216.30,71.14 L217.30,73.27 L218.30,72.72 L219.30,75.35 L220.30,78.82 L221.30,82.52 L222.30,85.62 L223.30,89.03 L224.30,90.08 L225.30,91.04 L226.30,91.90 L227.30,92.29 L228.30,92.50 L229.30,92.61 L230.30,92.66 L231.30,92.69 L232.30,92.69 L233.30,92.70 L234.30,92.70 L235.30,92.70 L236.30,92.70 L237.30,92.70 L238.30,92.70 L239.30,92.70 L240.30,92.70 L241.30,92.70 L242.30,92.70 L243.30,92.70 L244.30,92.70 L245.30,92.70 L246.30,92.70 L247.30,92.70 L248.30,92.70 L249.30,92.70 L250.30,92.70 L251.30,92.70 L252.30,92.70 L253.30,92.70 L254.30,92.70 L255.30,92.70 L256.30,92.70 L257.30,92.70 L258.30,92.70 L259.30,92.70 L260.30,92.70 L261.30,92.70 L262.30,92.70 L263.30,92.70 L264.30,92.70 L265.30,92.70 L266.30,92.70 L267.30,92.70 L268.30,92.70 L269.30,92.70 L269.40,92.70 Z" fill="#7a4a90" fill-opacity="0.45"/>
<path d="M160.30,92.70 L160.30,92.70 L161.30,92.70 L162.30,92.70 L163.30,92.70 L164.30,92.70 L165.30,92.70 L166.30,92.70 L167.30,92.70 L168.30,92.70 L169.30,92.70 L170.30,92.70 L171.30,92.70 L172.30,92.70 L173.30,92.70 L174.30,92.70 L175.30,92.70 L176.30,92.70 L177.30,92.70 L178.30,92.70 L179.30,92.70 L180.30,92.70 L181.30,92.70 L182.30,92.70 L183.30,92.70 L184.30,92.70 L185.30,92.70 L186.30,92.70 L187.30,92.70 L188.30,92.70 L189.30,92.70 L190.30,92.70 L191.30,92.70 L192.30,92.70 L193.30,92.70 L194.30,92.70 L195.30,92.70 L196.30,92.70 L197.30,92.70 L198.30,92.70 L199.30,92.70 L200.30,92.69 L201.30,92.67 L202.30,92.64 L203.30,92.56 L204.30,92.39 L205.30,92.08 L206.30,91.60 L207.30,90.83 L208.30,89.19 L209.30,87.36 L210.30,83.74 L211.30,80.26 L212.30,76.69 L213.30,75.34 L214.30,71.13 L215.30,70.04 L216.30,71.14 L217.30,73.27 L218.30,72.72 L219.30,75.35 L220.30,78.82 L221.30,82.52 L222.30,85.62 L223.30,89.03 L224.30,90.08 L225.30,91.04 L226.30,91.90 L227.30,92.29 L228.30,92.50 L229.30,92.61 L230.30,92.66 L231.30,92.69 L232.30,92.69 L233.30,92.70 L234.30,92.70 L235.30,92.70 L236.30,92.70 L237.30,92.70 L238.30,92.70 L239.30,92.70 L240.30,92.70 L241.30,92.70 L242.30,92.70 L243.30,92.70 L244.30,92.70 L245.30,92.70 L246.30,92.70 L247.30,92.70 L248.30,92.70 L249.30,92.70 L250.30,92.70 L251.30,92.70 L252.30,92.70 L253.30,92.70 L254.30,92.70 L255.30,92.70 L256.30,92.70 L257.30,92.70 L258.30,92.70 L259.30,92.70 L260.30,92.70 L261.30,92.70 L262.30,92.70 L263.30,92.70 L264.30,92.70 L265.30,92.70 L266.30,92.70 L267.30,92.70 L268.30,92.70 L269.30,92.70 L269.40,92.70 Z" fill="none" stroke="#ffffff" stroke-width="0.55" stroke-dasharray="0.9,0.9" opacity="0.9"/>
<path d="M160.30,108.70 L160.30,108.70 L161.30,108.70 L162.30,108.70 L163.30,108.70 L164.30,108.70 L165.30,108.70 L166.30,108.70 L167.30,108.70 L168.30,108.70 L169.30,108.70 L170.30,108.70 L171.30,108.70 L172.30,108.70 L173.30,108.70 L174.30,108.70 L175.30,108.70 L176.30,108.70 L177.30,108.70 L178.30,108.70 L179.30,108.70 L180.30,108.70 L181.30,108.70 L182.30,108.70 L183.30,108.70 L184.30,108.70 L185.30,108.70 L186.30,108.70 L187.30,108.70 L188.30,108.70 L189.30,108.70 L190.30,108.70 L191.30,108.70 L192.30,108.70 L193.30,108.70 L194.30,108.70 L195.30,108.70 L196.30,108.70 L197.30,108.70 L198.30,108.70 L199.30,108.70 L200.30,108.70 L201.30,108.70 L202.30,108.70 L203.30,108.70 L204.30,108.70 L205.30,108.70 L206.30,108.70 L207.30,108.70 L208.30,108.70 L209.30,108.69 L210.30,108.69 L211.30,108.67 L212.30,108.64 L213.30,108.58 L214.30,108.44 L215.30,108.11 L216.30,107.64 L217.30,106.60 L218.30,105.58 L219.30,104.32 L220.30,101.31 L221.30,99.66 L222.30,96.09 L223.30,95.30 L224.30,94.00 L225.30,96.08 L226.30,96.32 L227.30,94.00 L228.30,96.20 L229.30,94.22 L230.30,97.09 L231.30,95.19 L232.30,97.01 L233.30,97.25 L234.30,95.16 L235.30,97.01 L236.30,98.87 L237.30,101.99 L238.30,103.39 L239.30,104.92 L240.30,106.57 L241.30,107.38 L242.30,107.99 L243.30,108.38 L244.30,108.55 L245.30,108.63 L246.30,108.67 L247.30,108.68 L248.30,108.69 L249.30,108.70 L250.30,108.70 L251.30,108.70 L252.30,108.70 L253.30,108.70 L254.30,108.70 L255.30,108.70 L256.30,108.70 L257.30,108.70 L258.30,108.70 L259.30,108.70 L260.30,108.70 L261.30,108.70 L262.30,108.70 L263.30,108.70 L264.30,108.70 L265.30,108.70 L266.30,108.70 L267.30,108.70 L268.30,108.70 L269.30,108.70 L269.40,108.70 Z" fill="#f290c4" stroke="#d860a0" stroke-width="0.5" />
<path d="M160.30,108.70 L160.30,108.70 L161.30,108.70 L162.30,108.70 L163.30,108.70 L164.30,108.70 L165.30,108.70 L166.30,108.70 L167.30,108.70 L168.30,108.70 L169.30,108.70 L170.30,108.70 L171.30,108.70 L172.30,108.70 L173.30,108.70 L174.30,108.70 L175.30,108.70 L176.30,108.70 L177.30,108.70 L178.30,108.70 L179.30,108.70 L180.30,108.70 L181.30,108.70 L182.30,108.70 L183.30,108.70 L184.30,108.70 L185.30,108.70 L186.30,108.70 L187.30,108.70 L188.30,108.70 L189.30,108.70 L190.30,108.70 L191.30,108.70 L192.30,108.70 L193.30,108.70 L194.30,108.70 L195.30,108.70 L196.30,108.70 L197.30,108.70 L198.30,108.70 L199.30,108.70 L200.30,108.70 L201.30,108.70 L202.30,108.69 L203.30,108.66 L204.30,108.57 L205.30,108.37 L206.30,107.98 L207.30,107.04 L208.30,105.42 L209.30,102.74 L210.30,99.87 L211.30,97.17 L212.30,90.10 L213.30,88.72 L214.30,84.03 L215.30,85.78 L216.30,86.07 L217.30,84.00 L218.30,85.84 L219.30,90.16 L220.30,93.55 L221.30,95.35 L222.30,97.99 L223.30,101.21 L224.30,104.44 L225.30,106.36 L226.30,107.31 L227.30,108.12 L228.30,108.46 L229.30,108.61 L230.30,108.67 L231.30,108.69 L232.30,108.70 L233.30,108.70 L234.30,108.70 L235.30,108.70 L236.30,108.70 L237.30,108.70 L238.30,108.70 L239.30,108.70 L240.30,108.70 L241.30,108.70 L242.30,108.70 L243.30,108.70 L244.30,108.70 L245.30,108.70 L246.30,108.70 L247.30,108.70 L248.30,108.70 L249.30,108.70 L250.30,108.70 L251.30,108.70 L252.30,108.70 L253.30,108.70 L254.30,108.70 L255.30,108.70 L256.30,108.70 L257.30,108.70 L258.30,108.70 L259.30,108.70 L260.30,108.70 L261.30,108.70 L262.30,108.70 L263.30,108.70 L264.30,108.70 L265.30,108.70 L266.30,108.70 L267.30,108.70 L268.30,108.70 L269.30,108.70 L269.40,108.70 Z" fill="#e2238e" stroke="#b01070" stroke-width="0.5" opacity="0.9"/>
<path d="M160.30,108.70 L160.30,108.70 L161.30,108.70 L162.30,108.70 L163.30,108.70 L164.30,108.70 L165.30,108.70 L166.30,108.70 L167.30,108.70 L168.30,108.70 L169.30,108.70 L170.30,108.70 L171.30,108.70 L172.30,108.70 L173.30,108.70 L174.30,108.70 L175.30,108.70 L176.30,108.70 L177.30,108.70 L178.30,108.70 L179.30,108.70 L180.30,108.70 L181.30,108.70 L182.30,108.70 L183.30,108.70 L184.30,108.70 L185.30,108.70 L186.30,108.70 L187.30,108.70 L188.30,108.70 L189.30,108.70 L190.30,108.70 L191.30,108.70 L192.30,108.70 L193.30,108.70 L194.30,108.70 L195.30,108.70 L196.30,108.70 L197.30,108.70 L198.30,108.70 L199.30,108.70 L200.30,108.70 L201.30,108.70 L202.30,108.69 L203.30,108.67 L204.30,108.62 L205.30,108.51 L206.30,108.27 L207.30,107.71 L208.30,107.00 L209.30,105.76 L210.30,102.86 L211.30,100.27 L212.30,96.78 L213.30,93.92 L214.30,88.70 L215.30,88.19 L216.30,88.27 L217.30,88.18 L218.30,91.49 L219.30,94.60 L220.30,98.48 L221.30,101.88 L222.30,104.51 L223.30,106.35 L224.30,107.64 L225.30,108.11 L226.30,108.44 L227.30,108.59 L228.30,108.66 L229.30,108.69 L230.30,108.70 L231.30,108.70 L232.30,108.70 L233.30,108.70 L234.30,108.70 L235.30,108.70 L236.30,108.70 L237.30,108.70 L238.30,108.70 L239.30,108.70 L240.30,108.70 L241.30,108.70 L242.30,108.70 L243.30,108.70 L244.30,108.70 L245.30,108.70 L246.30,108.70 L247.30,108.70 L248.30,108.70 L249.30,108.70 L250.30,108.70 L251.30,108.70 L252.30,108.70 L253.30,108.70 L254.30,108.70 L255.30,108.70 L256.30,108.70 L257.30,108.70 L258.30,108.70 L259.30,108.70 L260.30,108.70 L261.30,108.70 L262.30,108.70 L263.30,108.70 L264.30,108.70 L265.30,108.70 L266.30,108.70 L267.30,108.70 L268.30,108.70 L269.30,108.70 L269.40,108.70 Z" fill="#ec5aa8" fill-opacity="0.45"/>
<path d="M160.30,108.70 L160.30,108.70 L161.30,108.70 L162.30,108.70 L163.30,108.70 L164.30,108.70 L165.30,108.70 L166.30,108.70 L167.30,108.70 L168.30,108.70 L169.30,108.70 L170.30,108.70 L171.30,108.70 L172.30,108.70 L173.30,108.70 L174.30,108.70 L175.30,108.70 L176.30,108.70 L177.30,108.70 L178.30,108.70 L179.30,108.70 L180.30,108.70 L181.30,108.70 L182.30,108.70 L183.30,108.70 L184.30,108.70 L185.30,108.70 L186.30,108.70 L187.30,108.70 L188.30,108.70 L189.30,108.70 L190.30,108.70 L191.30,108.70 L192.30,108.70 L193.30,108.70 L194.30,108.70 L195.30,108.70 L196.30,108.70 L197.30,108.70 L198.30,108.70 L199.30,108.70 L200.30,108.70 L201.30,108.70 L202.30,108.69 L203.30,108.67 L204.30,108.62 L205.30,108.51 L206.30,108.27 L207.30,107.71 L208.30,107.00 L209.30,105.76 L210.30,102.86 L211.30,100.27 L212.30,96.78 L213.30,93.92 L214.30,88.70 L215.30,88.19 L216.30,88.27 L217.30,88.18 L218.30,91.49 L219.30,94.60 L220.30,98.48 L221.30,101.88 L222.30,104.51 L223.30,106.35 L224.30,107.64 L225.30,108.11 L226.30,108.44 L227.30,108.59 L228.30,108.66 L229.30,108.69 L230.30,108.70 L231.30,108.70 L232.30,108.70 L233.30,108.70 L234.30,108.70 L235.30,108.70 L236.30,108.70 L237.30,108.70 L238.30,108.70 L239.30,108.70 L240.30,108.70 L241.30,108.70 L242.30,108.70 L243.30,108.70 L244.30,108.70 L245.30,108.70 L246.30,108.70 L247.30,108.70 L248.30,108.70 L249.30,108.70 L250.30,108.70 L251.30,108.70 L252.30,108.70 L253.30,108.70 L254.30,108.70 L255.30,108.70 L256.30,108.70 L257.30,108.70 L258.30,108.70 L259.30,108.70 L260.30,108.70 L261.30,108.70 L262.30,108.70 L263.30,108.70 L264.30,108.70 L265.30,108.70 L266.30,108.70 L267.30,108.70 L268.30,108.70 L269.30,108.70 L269.40,108.70 Z" fill="none" stroke="#ffffff" stroke-width="0.55" stroke-dasharray="0.9,0.9" opacity="0.9"/>
<path d="M160.30,124.70 L160.30,124.70 L161.30,124.70 L162.30,124.70 L163.30,124.70 L164.30,124.70 L165.30,124.70 L166.30,124.70 L167.30,124.70 L168.30,124.70 L169.30,124.70 L170.30,124.70 L171.30,124.70 L172.30,124.70 L173.30,124.70 L174.30,124.70 L175.30,124.70 L176.30,124.70 L177.30,124.70 L178.30,124.70 L179.30,124.70 L180.30,124.70 L181.30,124.70 L182.30,124.70 L183.30,124.70 L184.30,124.70 L185.30,124.70 L186.30,124.70 L187.30,124.70 L188.30,124.70 L189.30,124.70 L190.30,124.70 L191.30,124.70 L192.30,124.70 L193.30,124.70 L194.30,124.70 L195.30,124.70 L196.30,124.70 L197.30,124.70 L198.30,124.70 L199.30,124.70 L200.30,124.70 L201.30,124.70 L202.30,124.69 L203.30,124.69 L204.30,124.68 L205.30,124.66 L206.30,124.63 L207.30,124.59 L208.30,124.52 L209.30,124.41 L210.30,124.27 L211.30,124.12 L212.30,123.75 L213.30,123.27 L214.30,123.07 L215.30,122.44 L216.30,121.75 L217.30,120.61 L218.30,119.36 L219.30,119.40 L220.30,118.73 L221.30,116.37 L222.30,115.86 L223.30,116.38 L224.30,115.22 L225.30,116.16 L226.30,115.95 L227.30,114.73 L228.30,115.73 L229.30,115.65 L230.30,115.52 L231.30,116.56 L232.30,117.63 L233.30,118.07 L234.30,118.81 L235.30,120.57 L236.30,121.17 L237.30,122.35 L238.30,123.12 L239.30,123.39 L240.30,123.90 L241.30,124.30 L242.30,124.43 L243.30,124.55 L244.30,124.62 L245.30,124.66 L246.30,124.68 L247.30,124.69 L248.30,124.69 L249.30,124.70 L250.30,124.70 L251.30,124.70 L252.30,124.70 L253.30,124.70 L254.30,124.70 L255.30,124.70 L256.30,124.70 L257.30,124.70 L258.30,124.70 L259.30,124.70 L260.30,124.70 L261.30,124.70 L262.30,124.70 L263.30,124.70 L264.30,124.70 L265.30,124.70 L266.30,124.70 L267.30,124.70 L268.30,124.70 L269.30,124.70 L269.40,124.70 Z" fill="#f5cc96" stroke="#e0a860" stroke-width="0.5" />
<path d="M160.30,124.70 L160.30,124.70 L161.30,124.70 L162.30,124.70 L163.30,124.70 L164.30,124.70 L165.30,124.70 L166.30,124.70 L167.30,124.70 L168.30,124.70 L169.30,124.70 L170.30,124.70 L171.30,124.70 L172.30,124.70 L173.30,124.70 L174.30,124.70 L175.30,124.70 L176.30,124.70 L177.30,124.70 L178.30,124.70 L179.30,124.70 L180.30,124.70 L181.30,124.70 L182.30,124.70 L183.30,124.70 L184.30,124.70 L185.30,124.70 L186.30,124.70 L187.30,124.70 L188.30,124.70 L189.30,124.70 L190.30,124.70 L191.30,124.70 L192.30,124.70 L193.30,124.70 L194.30,124.70 L195.30,124.70 L196.30,124.70 L197.30,124.69 L198.30,124.68 L199.30,124.65 L200.30,124.60 L201.30,124.50 L202.30,124.32 L203.30,124.03 L204.30,123.67 L205.30,122.84 L206.30,122.24 L207.30,120.68 L208.30,118.66 L209.30,116.05 L210.30,114.45 L211.30,109.81 L212.30,110.12 L213.30,104.48 L214.30,100.99 L215.30,96.94 L216.30,100.99 L217.30,96.54 L218.30,99.58 L219.30,102.78 L220.30,107.33 L221.30,114.12 L222.30,117.95 L223.30,119.32 L224.30,122.11 L225.30,123.20 L226.30,124.00 L227.30,124.39 L228.30,124.57 L229.30,124.65 L230.30,124.68 L231.30,124.69 L232.30,124.70 L233.30,124.70 L234.30,124.70 L235.30,124.70 L236.30,124.70 L237.30,124.70 L238.30,124.70 L239.30,124.70 L240.30,124.70 L241.30,124.70 L242.30,124.70 L243.30,124.70 L244.30,124.70 L245.30,124.70 L246.30,124.70 L247.30,124.70 L248.30,124.70 L249.30,124.70 L250.30,124.70 L251.30,124.70 L252.30,124.70 L253.30,124.70 L254.30,124.70 L255.30,124.70 L256.30,124.70 L257.30,124.70 L258.30,124.70 L259.30,124.70 L260.30,124.70 L261.30,124.70 L262.30,124.70 L263.30,124.70 L264.30,124.70 L265.30,124.70 L266.30,124.70 L267.30,124.70 L268.30,124.70 L269.30,124.70 L269.40,124.70 Z" fill="#d88a20" stroke="#a86810" stroke-width="0.5" opacity="0.9"/>
<path d="M160.30,124.70 L160.30,124.70 L161.30,124.70 L162.30,124.70 L163.30,124.70 L164.30,124.70 L165.30,124.70 L166.30,124.70 L167.30,124.70 L168.30,124.70 L169.30,124.70 L170.30,124.70 L171.30,124.70 L172.30,124.70 L173.30,124.70 L174.30,124.70 L175.30,124.70 L176.30,124.70 L177.30,124.70 L178.30,124.70 L179.30,124.70 L180.30,124.70 L181.30,124.70 L182.30,124.70 L183.30,124.70 L184.30,124.70 L185.30,124.70 L186.30,124.70 L187.30,124.70 L188.30,124.70 L189.30,124.70 L190.30,124.70 L191.30,124.70 L192.30,124.70 L193.30,124.70 L194.30,124.70 L195.30,124.70 L196.30,124.70 L197.30,124.70 L198.30,124.70 L199.30,124.70 L200.30,124.70 L201.30,124.70 L202.30,124.70 L203.30,124.69 L204.30,124.67 L205.30,124.62 L206.30,124.51 L207.30,124.28 L208.30,123.83 L209.30,123.07 L210.30,122.12 L211.30,120.57 L212.30,116.89 L213.30,115.07 L214.30,112.50 L215.30,106.61 L216.30,105.04 L217.30,101.60 L218.30,104.30 L219.30,106.11 L220.30,104.41 L221.30,109.99 L222.30,112.15 L223.30,115.73 L224.30,118.88 L225.30,121.10 L226.30,122.59 L227.30,123.66 L228.30,124.14 L229.30,124.43 L230.30,124.58 L231.30,124.65 L232.30,124.68 L233.30,124.69 L234.30,124.70 L235.30,124.70 L236.30,124.70 L237.30,124.70 L238.30,124.70 L239.30,124.70 L240.30,124.70 L241.30,124.70 L242.30,124.70 L243.30,124.70 L244.30,124.70 L245.30,124.70 L246.30,124.70 L247.30,124.70 L248.30,124.70 L249.30,124.70 L250.30,124.70 L251.30,124.70 L252.30,124.70 L253.30,124.70 L254.30,124.70 L255.30,124.70 L256.30,124.70 L257.30,124.70 L258.30,124.70 L259.30,124.70 L260.30,124.70 L261.30,124.70 L262.30,124.70 L263.30,124.70 L264.30,124.70 L265.30,124.70 L266.30,124.70 L267.30,124.70 L268.30,124.70 L269.30,124.70 L269.40,124.70 Z" fill="#e8a040" fill-opacity="0.45"/>
<path d="M160.30,124.70 L160.30,124.70 L161.30,124.70 L162.30,124.70 L163.30,124.70 L164.30,124.70 L165.30,124.70 L166.30,124.70 L167.30,124.70 L168.30,124.70 L169.30,124.70 L170.30,124.70 L171.30,124.70 L172.30,124.70 L173.30,124.70 L174.30,124.70 L175.30,124.70 L176.30,124.70 L177.30,124.70 L178.30,124.70 L179.30,124.70 L180.30,124.70 L181.30,124.70 L182.30,124.70 L183.30,124.70 L184.30,124.70 L185.30,124.70 L186.30,124.70 L187.30,124.70 L188.30,124.70 L189.30,124.70 L190.30,124.70 L191.30,124.70 L192.30,124.70 L193.30,124.70 L194.30,124.70 L195.30,124.70 L196.30,124.70 L197.30,124.70 L198.30,124.70 L199.30,124.70 L200.30,124.70 L201.30,124.70 L202.30,124.70 L203.30,124.69 L204.30,124.67 L205.30,124.62 L206.30,124.51 L207.30,124.28 L208.30,123.83 L209.30,123.07 L210.30,122.12 L211.30,120.57 L212.30,116.89 L213.30,115.07 L214.30,112.50 L215.30,106.61 L216.30,105.04 L217.30,101.60 L218.30,104.30 L219.30,106.11 L220.30,104.41 L221.30,109.99 L222.30,112.15 L223.30,115.73 L224.30,118.88 L225.30,121.10 L226.30,122.59 L227.30,123.66 L228.30,124.14 L229.30,124.43 L230.30,124.58 L231.30,124.65 L232.30,124.68 L233.30,124.69 L234.30,124.70 L235.30,124.70 L236.30,124.70 L237.30,124.70 L238.30,124.70 L239.30,124.70 L240.30,124.70 L241.30,124.70 L242.30,124.70 L243.30,124.70 L244.30,124.70 L245.30,124.70 L246.30,124.70 L247.30,124.70 L248.30,124.70 L249.30,124.70 L250.30,124.70 L251.30,124.70 L252.30,124.70 L253.30,124.70 L254.30,124.70 L255.30,124.70 L256.30,124.70 L257.30,124.70 L258.30,124.70 L259.30,124.70 L260.30,124.70 L261.30,124.70 L262.30,124.70 L263.30,124.70 L264.30,124.70 L265.30,124.70 L266.30,124.70 L267.30,124.70 L268.30,124.70 L269.30,124.70 L269.40,124.70 Z" fill="none" stroke="#ffffff" stroke-width="0.55" stroke-dasharray="0.9,0.9" opacity="0.9"/>
<path d="M160.30,141.00 L160.30,141.00 L161.30,141.00 L162.30,141.00 L163.30,141.00 L164.30,141.00 L165.30,141.00 L166.30,141.00 L167.30,141.00 L168.30,141.00 L169.30,141.00 L170.30,141.00 L171.30,141.00 L172.30,141.00 L173.30,141.00 L174.30,141.00 L175.30,141.00 L176.30,141.00 L177.30,141.00 L178.30,141.00 L179.30,141.00 L180.30,141.00 L181.30,141.00 L182.30,141.00 L183.30,141.00 L184.30,141.00 L185.30,141.00 L186.30,141.00 L187.30,141.00 L188.30,141.00 L189.30,141.00 L190.30,141.00 L191.30,141.00 L192.30,141.00 L193.30,141.00 L194.30,141.00 L195.30,141.00 L196.30,141.00 L197.30,141.00 L198.30,141.00 L199.30,141.00 L200.30,141.00 L201.30,141.00 L202.30,141.00 L203.30,141.00 L204.30,141.00 L205.30,141.00 L206.30,141.00 L207.30,141.00 L208.30,141.00 L209.30,141.00 L210.30,141.00 L211.30,141.00 L212.30,140.99 L213.30,140.98 L214.30,140.95 L215.30,140.89 L216.30,140.77 L217.30,140.55 L218.30,140.06 L219.30,139.36 L220.30,138.50 L221.30,136.73 L222.30,134.61 L223.30,131.17 L224.30,128.45 L225.30,127.26 L226.30,122.42 L227.30,118.94 L228.30,115.14 L229.30,116.65 L230.30,117.72 L231.30,114.75 L232.30,118.71 L233.30,120.13 L234.30,120.51 L235.30,124.24 L236.30,129.68 L237.30,133.05 L238.30,136.02 L239.30,137.94 L240.30,139.47 L241.30,140.20 L242.30,140.66 L243.30,140.86 L244.30,140.95 L245.30,140.98 L246.30,140.99 L247.30,141.00 L248.30,141.00 L249.30,141.00 L250.30,141.00 L251.30,141.00 L252.30,141.00 L253.30,141.00 L254.30,141.00 L255.30,141.00 L256.30,141.00 L257.30,141.00 L258.30,141.00 L259.30,141.00 L260.30,141.00 L261.30,141.00 L262.30,141.00 L263.30,141.00 L264.30,141.00 L265.30,141.00 L266.30,141.00 L267.30,141.00 L268.30,141.00 L269.30,141.00 L269.40,141.00 Z" fill="#a8abb5" stroke="#7a7e88" stroke-width="0.5" />
<path d="M160.30,141.00 L160.30,141.00 L161.30,141.00 L162.30,141.00 L163.30,141.00 L164.30,141.00 L165.30,141.00 L166.30,141.00 L167.30,141.00 L168.30,141.00 L169.30,141.00 L170.30,141.00 L171.30,141.00 L172.30,141.00 L173.30,141.00 L174.30,141.00 L175.30,141.00 L176.30,141.00 L177.30,141.00 L178.30,141.00 L179.30,141.00 L180.30,141.00 L181.30,141.00 L182.30,141.00 L183.30,141.00 L184.30,141.00 L185.30,141.00 L186.30,141.00 L187.30,141.00 L188.30,141.00 L189.30,141.00 L190.30,141.00 L191.30,141.00 L192.30,141.00 L193.30,141.00 L194.30,141.00 L195.30,141.00 L196.30,141.00 L197.30,141.00 L198.30,141.00 L199.30,140.99 L200.30,140.97 L201.30,140.92 L202.30,140.80 L203.30,140.55 L204.30,139.95 L205.30,139.30 L206.30,138.00 L207.30,134.62 L208.30,133.01 L209.30,126.69 L210.30,124.27 L211.30,121.78 L212.30,118.59 L213.30,114.75 L214.30,119.31 L215.30,120.82 L216.30,124.03 L217.30,127.42 L218.30,130.93 L219.30,134.08 L220.30,137.23 L221.30,138.72 L222.30,139.86 L223.30,140.38 L224.30,140.72 L225.30,140.88 L226.30,140.95 L227.30,140.98 L228.30,140.99 L229.30,141.00 L230.30,141.00 L231.30,141.00 L232.30,141.00 L233.30,141.00 L234.30,141.00 L235.30,141.00 L236.30,141.00 L237.30,141.00 L238.30,141.00 L239.30,141.00 L240.30,141.00 L241.30,141.00 L242.30,141.00 L243.30,141.00 L244.30,141.00 L245.30,141.00 L246.30,141.00 L247.30,141.00 L248.30,141.00 L249.30,141.00 L250.30,141.00 L251.30,141.00 L252.30,141.00 L253.30,141.00 L254.30,141.00 L255.30,141.00 L256.30,141.00 L257.30,141.00 L258.30,141.00 L259.30,141.00 L260.30,141.00 L261.30,141.00 L262.30,141.00 L263.30,141.00 L264.30,141.00 L265.30,141.00 L266.30,141.00 L267.30,141.00 L268.30,141.00 L269.30,141.00 L269.40,141.00 Z" fill="#6a7082" stroke="#404450" stroke-width="0.5" opacity="0.9"/>
<path d="M160.30,141.00 L160.30,141.00 L161.30,141.00 L162.30,141.00 L163.30,141.00 L164.30,141.00 L165.30,141.00 L166.30,141.00 L167.30,141.00 L168.30,141.00 L169.30,141.00 L170.30,141.00 L171.30,141.00 L172.30,141.00 L173.30,141.00 L174.30,141.00 L175.30,141.00 L176.30,141.00 L177.30,141.00 L178.30,141.00 L179.30,141.00 L180.30,141.00 L181.30,141.00 L182.30,141.00 L183.30,141.00 L184.30,141.00 L185.30,141.00 L186.30,141.00 L187.30,141.00 L188.30,141.00 L189.30,141.00 L190.30,141.00 L191.30,141.00 L192.30,141.00 L193.30,141.00 L194.30,141.00 L195.30,141.00 L196.30,141.00 L197.30,141.00 L198.30,141.00 L199.30,141.00 L200.30,140.99 L201.30,140.97 L202.30,140.92 L203.30,140.81 L204.30,140.58 L205.30,140.07 L206.30,139.36 L207.30,138.30 L208.30,136.61 L209.30,132.91 L210.30,131.28 L211.30,127.42 L212.30,125.11 L213.30,121.20 L214.30,120.82 L215.30,117.90 L216.30,119.31 L217.30,120.92 L218.30,124.93 L219.30,128.01 L220.30,132.09 L221.30,135.64 L222.30,137.14 L223.30,138.98 L224.30,140.01 L225.30,140.44 L226.30,140.73 L227.30,140.88 L228.30,140.95 L229.30,140.98 L230.30,140.99 L231.30,141.00 L232.30,141.00 L233.30,141.00 L234.30,141.00 L235.30,141.00 L236.30,141.00 L237.30,141.00 L238.30,141.00 L239.30,141.00 L240.30,141.00 L241.30,141.00 L242.30,141.00 L243.30,141.00 L244.30,141.00 L245.30,141.00 L246.30,141.00 L247.30,141.00 L248.30,141.00 L249.30,141.00 L250.30,141.00 L251.30,141.00 L252.30,141.00 L253.30,141.00 L254.30,141.00 L255.30,141.00 L256.30,141.00 L257.30,141.00 L258.30,141.00 L259.30,141.00 L260.30,141.00 L261.30,141.00 L262.30,141.00 L263.30,141.00 L264.30,141.00 L265.30,141.00 L266.30,141.00 L267.30,141.00 L268.30,141.00 L269.30,141.00 L269.40,141.00 Z" fill="#80869a" fill-opacity="0.45"/>
<path d="M160.30,141.00 L160.30,141.00 L161.30,141.00 L162.30,141.00 L163.30,141.00 L164.30,141.00 L165.30,141.00 L166.30,141.00 L167.30,141.00 L168.30,141.00 L169.30,141.00 L170.30,141.00 L171.30,141.00 L172.30,141.00 L173.30,141.00 L174.30,141.00 L175.30,141.00 L176.30,141.00 L177.30,141.00 L178.30,141.00 L179.30,141.00 L180.30,141.00 L181.30,141.00 L182.30,141.00 L183.30,141.00 L184.30,141.00 L185.30,141.00 L186.30,141.00 L187.30,141.00 L188.30,141.00 L189.30,141.00 L190.30,141.00 L191.30,141.00 L192.30,141.00 L193.30,141.00 L194.30,141.00 L195.30,141.00 L196.30,141.00 L197.30,141.00 L198.30,141.00 L199.30,141.00 L200.30,140.99 L201.30,140.97 L202.30,140.92 L203.30,140.81 L204.30,140.58 L205.30,140.07 L206.30,139.36 L207.30,138.30 L208.30,136.61 L209.30,132.91 L210.30,131.28 L211.30,127.42 L212.30,125.11 L213.30,121.20 L214.30,120.82 L215.30,117.90 L216.30,119.31 L217.30,120.92 L218.30,124.93 L219.30,128.01 L220.30,132.09 L221.30,135.64 L222.30,137.14 L223.30,138.98 L224.30,140.01 L225.30,140.44 L226.30,140.73 L227.30,140.88 L228.30,140.95 L229.30,140.98 L230.30,140.99 L231.30,141.00 L232.30,141.00 L233.30,141.00 L234.30,141.00 L235.30,141.00 L236.30,141.00 L237.30,141.00 L238.30,141.00 L239.30,141.00 L240.30,141.00 L241.30,141.00 L242.30,141.00 L243.30,141.00 L244.30,141.00 L245.30,141.00 L246.30,141.00 L247.30,141.00 L248.30,141.00 L249.30,141.00 L250.30,141.00 L251.30,141.00 L252.30,141.00 L253.30,141.00 L254.30,141.00 L255.30,141.00 L256.30,141.00 L257.30,141.00 L258.30,141.00 L259.30,141.00 L260.30,141.00 L261.30,141.00 L262.30,141.00 L263.30,141.00 L264.30,141.00 L265.30,141.00 L266.30,141.00 L267.30,141.00 L268.30,141.00 L269.30,141.00 L269.40,141.00 Z" fill="none" stroke="#ffffff" stroke-width="0.55" stroke-dasharray="0.9,0.9" opacity="0.9"/>
<line x1="159.30" y1="61.50" x2="280.90" y2="61.50" stroke="#231f20" stroke-width="0.8" />
<text x="274.60" y="49.40" font-size="5.3" fill="#d2233c" text-anchor="end" textLength="13.2" lengthAdjust="spacingAndGlyphs" stroke="#d2233c" stroke-width="0.03">2377</text>
<text x="274.60" y="54.10" font-size="5.3" fill="#f09888" text-anchor="end" textLength="13.2" lengthAdjust="spacingAndGlyphs" stroke="#f09888" stroke-width="0.03">2914</text>
<text x="274.60" y="58.90" font-size="5.3" fill="#e05060" text-anchor="end" textLength="20.7" lengthAdjust="spacingAndGlyphs" stroke="#e05060" stroke-width="0.03"><tspan fill="#58595b" stroke="#58595b">***</tspan>2342</text>
<text x="283.20" y="60.40" font-size="6.8" fill="#d2233c" textLength="14.4" lengthAdjust="spacingAndGlyphs" stroke="#d2233c" stroke-width="0.14">ALL8</text>
<line x1="159.30" y1="77.50" x2="280.90" y2="77.50" stroke="#231f20" stroke-width="0.8" />
<text x="274.60" y="65.40" font-size="5.3" fill="#5ab4e5" text-anchor="end" textLength="13.2" lengthAdjust="spacingAndGlyphs" stroke="#5ab4e5" stroke-width="0.03">4741</text>
<text x="274.60" y="70.10" font-size="5.3" fill="#b0dcf4" text-anchor="end" textLength="13.2" lengthAdjust="spacingAndGlyphs" stroke="#b0dcf4" stroke-width="0.03">5601</text>
<text x="274.60" y="74.90" font-size="5.3" fill="#3a90c8" text-anchor="end" textLength="20.7" lengthAdjust="spacingAndGlyphs" stroke="#3a90c8" stroke-width="0.03"><tspan fill="#58595b" stroke="#58595b">***</tspan>2093</text>
<text x="283.20" y="76.40" font-size="6.8" fill="#5ab4e5" textLength="17.8" lengthAdjust="spacingAndGlyphs" stroke="#5ab4e5" stroke-width="0.14">ALL16</text>
<line x1="159.30" y1="93.50" x2="280.90" y2="93.50" stroke="#231f20" stroke-width="0.8" />
<text x="274.60" y="81.40" font-size="5.3" fill="#4b2a5c" text-anchor="end" textLength="13.2" lengthAdjust="spacingAndGlyphs" stroke="#4b2a5c" stroke-width="0.03">2385</text>
<text x="274.60" y="86.10" font-size="5.3" fill="#a894b8" text-anchor="end" textLength="13.2" lengthAdjust="spacingAndGlyphs" stroke="#a894b8" stroke-width="0.03">8172</text>
<text x="274.60" y="90.90" font-size="5.3" fill="#6a4a80" text-anchor="end" textLength="20.7" lengthAdjust="spacingAndGlyphs" stroke="#6a4a80" stroke-width="0.03"><tspan fill="#58595b" stroke="#58595b">***</tspan>2554</text>
<text x="283.20" y="92.40" font-size="6.8" fill="#4b2a5c" textLength="17.8" lengthAdjust="spacingAndGlyphs" stroke="#4b2a5c" stroke-width="0.14">ALL29</text>
<line x1="159.30" y1="109.50" x2="280.90" y2="109.50" stroke="#231f20" stroke-width="0.8" />
<text x="274.60" y="97.40" font-size="5.3" fill="#e0218a" text-anchor="end" textLength="13.2" lengthAdjust="spacingAndGlyphs" stroke="#e0218a" stroke-width="0.03">2270</text>
<text x="274.60" y="102.10" font-size="5.3" fill="#f4a0cc" text-anchor="end" textLength="13.2" lengthAdjust="spacingAndGlyphs" stroke="#f4a0cc" stroke-width="0.03">3762</text>
<text x="274.60" y="106.90" font-size="5.3" fill="#e850a0" text-anchor="end" textLength="20.7" lengthAdjust="spacingAndGlyphs" stroke="#e850a0" stroke-width="0.03"><tspan fill="#58595b" stroke="#58595b">***</tspan>2242</text>
<text x="283.20" y="108.40" font-size="6.8" fill="#e0218a" textLength="17.8" lengthAdjust="spacingAndGlyphs" stroke="#e0218a" stroke-width="0.14">ALL30</text>
<line x1="159.30" y1="125.50" x2="280.90" y2="125.50" stroke="#231f20" stroke-width="0.8" />
<text x="274.60" y="113.40" font-size="5.3" fill="#d68a1e" text-anchor="end" textLength="13.2" lengthAdjust="spacingAndGlyphs" stroke="#d68a1e" stroke-width="0.03">2784</text>
<text x="274.60" y="118.10" font-size="5.3" fill="#f4c890" text-anchor="end" textLength="13.2" lengthAdjust="spacingAndGlyphs" stroke="#f4c890" stroke-width="0.03">3851</text>
<text x="274.60" y="122.90" font-size="5.3" fill="#e0a050" text-anchor="end" textLength="20.7" lengthAdjust="spacingAndGlyphs" stroke="#e0a050" stroke-width="0.03"><tspan fill="#58595b" stroke="#58595b">***</tspan>2681</text>
<text x="283.20" y="124.40" font-size="6.8" fill="#d68a1e" textLength="17.8" lengthAdjust="spacingAndGlyphs" stroke="#d68a1e" stroke-width="0.14">ALL31</text>
<line x1="159.30" y1="141.50" x2="280.90" y2="141.50" stroke="#231f20" stroke-width="0.8" />
<text x="274.60" y="129.70" font-size="5.3" fill="#3a3a3c" text-anchor="end" textLength="13.2" lengthAdjust="spacingAndGlyphs" stroke="#3a3a3c" stroke-width="0.03">1966</text>
<text x="274.60" y="134.40" font-size="5.3" fill="#a7a9ac" text-anchor="end" textLength="13.2" lengthAdjust="spacingAndGlyphs" stroke="#a7a9ac" stroke-width="0.03">8213</text>
<text x="274.60" y="139.20" font-size="5.3" fill="#6d6e71" text-anchor="end" textLength="20.7" lengthAdjust="spacingAndGlyphs" stroke="#6d6e71" stroke-width="0.03"><tspan fill="#58595b" stroke="#58595b">***</tspan>1966</text>
<text x="283.20" y="140.70" font-size="6.8" fill="#58595b" textLength="17.8" lengthAdjust="spacingAndGlyphs" stroke="#58595b" stroke-width="0.14">ALL33</text>
<line x1="214.50" y1="35.00" x2="214.50" y2="141.30" stroke="#231f20" stroke-width="0.9" stroke-dasharray="1.4,1.2"/>
<line x1="159.90" y1="141.50" x2="159.90" y2="144.80" stroke="#231f20" stroke-width="0.7" />
<line x1="169.52" y1="141.50" x2="169.52" y2="144.00" stroke="#231f20" stroke-width="0.55" />
<line x1="173.38" y1="141.50" x2="173.38" y2="144.00" stroke="#231f20" stroke-width="0.55" />
<line x1="176.13" y1="141.50" x2="176.13" y2="144.00" stroke="#231f20" stroke-width="0.55" />
<line x1="178.26" y1="141.50" x2="178.26" y2="144.00" stroke="#231f20" stroke-width="0.55" />
<line x1="180.00" y1="141.50" x2="180.00" y2="144.00" stroke="#231f20" stroke-width="0.55" />
<line x1="181.47" y1="141.50" x2="181.47" y2="144.00" stroke="#231f20" stroke-width="0.55" />
<line x1="182.75" y1="141.50" x2="182.75" y2="144.00" stroke="#231f20" stroke-width="0.55" />
<line x1="183.87" y1="141.50" x2="183.87" y2="144.00" stroke="#231f20" stroke-width="0.55" />
<line x1="189.20" y1="141.50" x2="189.20" y2="144.80" stroke="#231f20" stroke-width="0.7" />
<line x1="198.02" y1="141.50" x2="198.02" y2="144.00" stroke="#231f20" stroke-width="0.55" />
<line x1="203.18" y1="141.50" x2="203.18" y2="144.00" stroke="#231f20" stroke-width="0.55" />
<line x1="206.84" y1="141.50" x2="206.84" y2="144.00" stroke="#231f20" stroke-width="0.55" />
<line x1="209.68" y1="141.50" x2="209.68" y2="144.00" stroke="#231f20" stroke-width="0.55" />
<line x1="212.00" y1="141.50" x2="212.00" y2="144.00" stroke="#231f20" stroke-width="0.55" />
<line x1="213.96" y1="141.50" x2="213.96" y2="144.00" stroke="#231f20" stroke-width="0.55" />
<line x1="215.66" y1="141.50" x2="215.66" y2="144.00" stroke="#231f20" stroke-width="0.55" />
<line x1="217.16" y1="141.50" x2="217.16" y2="144.00" stroke="#231f20" stroke-width="0.55" />
<line x1="218.50" y1="141.50" x2="218.50" y2="144.80" stroke="#231f20" stroke-width="0.7" />
<line x1="227.32" y1="141.50" x2="227.32" y2="144.00" stroke="#231f20" stroke-width="0.55" />
<line x1="232.48" y1="141.50" x2="232.48" y2="144.00" stroke="#231f20" stroke-width="0.55" />
<line x1="236.14" y1="141.50" x2="236.14" y2="144.00" stroke="#231f20" stroke-width="0.55" />
<line x1="238.98" y1="141.50" x2="238.98" y2="144.00" stroke="#231f20" stroke-width="0.55" />
<line x1="241.30" y1="141.50" x2="241.30" y2="144.00" stroke="#231f20" stroke-width="0.55" />
<line x1="243.26" y1="141.50" x2="243.26" y2="144.00" stroke="#231f20" stroke-width="0.55" />
<line x1="244.96" y1="141.50" x2="244.96" y2="144.00" stroke="#231f20" stroke-width="0.55" />
<line x1="246.46" y1="141.50" x2="246.46" y2="144.00" stroke="#231f20" stroke-width="0.55" />
<line x1="247.80" y1="141.50" x2="247.80" y2="144.80" stroke="#231f20" stroke-width="0.7" />
<line x1="256.62" y1="141.50" x2="256.62" y2="144.00" stroke="#231f20" stroke-width="0.55" />
<line x1="261.78" y1="141.50" x2="261.78" y2="144.00" stroke="#231f20" stroke-width="0.55" />
<line x1="265.44" y1="141.50" x2="265.44" y2="144.00" stroke="#231f20" stroke-width="0.55" />
<line x1="268.28" y1="141.50" x2="268.28" y2="144.00" stroke="#231f20" stroke-width="0.55" />
<line x1="270.60" y1="141.50" x2="270.60" y2="144.00" stroke="#231f20" stroke-width="0.55" />
<line x1="272.56" y1="141.50" x2="272.56" y2="144.00" stroke="#231f20" stroke-width="0.55" />
<line x1="274.90" y1="141.50" x2="274.90" y2="144.80" stroke="#231f20" stroke-width="0.7" />
<text x="189.20" y="148.20" font-size="3.2" fill="#9a9a9e" text-anchor="middle">0</text>
<text x="218.50" y="148.20" font-size="3.2" fill="#9a9a9e" text-anchor="middle">10³</text>
<text x="247.80" y="148.20" font-size="3.2" fill="#9a9a9e" text-anchor="middle">10⁴</text>
<text x="204.30" y="42.50" font-size="6.6" text-anchor="end" stroke="#231f20" stroke-width="0.14">Vehicle</text>
<text x="204.30" y="50.50" font-size="6.6" fill="#6d6e71" text-anchor="end" stroke="#6d6e71" stroke-width="0.14">IL-7</text>
<text x="204.30" y="58.50" font-size="6.6" text-anchor="end" stroke="#231f20" stroke-width="0.14">IL-7+<tspan fill="#d2233c" stroke="#d2233c">Pimozide</tspan></text>
<text x="160.90" y="154.00" font-size="8.6" fill="#3a3a3c" textLength="21.3" lengthAdjust="spacingAndGlyphs" stroke="#3a3a3c" stroke-width="0.25">pSTAT5</text>
<line x1="186.30" y1="150.50" x2="263.80" y2="150.50" stroke="#231f20" stroke-width="1.0" />
<path d="M268.30,150.50 L263.30,148.50 L263.30,152.50 Z" fill="#231f20" />
<text x="274.60" y="40.80" font-size="5.8" text-anchor="end" textLength="12" lengthAdjust="spacingAndGlyphs" stroke="#231f20" stroke-width="0.14">MFI:</text>
<line x1="159.30" y1="145.00" x2="159.30" y2="145.00" stroke="#231f20" stroke-width="0.5" />
<rect x="7.80" y="204.90" width="20.60" height="15.20" fill="#efeff1" />
<rect x="30.40" y="204.90" width="242.00" height="15.20" fill="#efeff1" />
<rect x="274.40" y="204.90" width="25.30" height="15.20" fill="#efeff1" />
<rect x="7.80" y="238.50" width="20.60" height="25.00" fill="#efeff1" />
<rect x="30.40" y="238.50" width="242.00" height="25.00" fill="#efeff1" />
<rect x="274.40" y="238.50" width="25.30" height="25.00" fill="#efeff1" />
<rect x="7.80" y="281.90" width="20.60" height="15.60" fill="#efeff1" />
<rect x="30.40" y="281.90" width="242.00" height="15.60" fill="#efeff1" />
<rect x="274.40" y="281.90" width="25.30" height="15.60" fill="#efeff1" />
<rect x="7.80" y="315.20" width="20.60" height="15.60" fill="#efeff1" />
<rect x="30.40" y="315.20" width="242.00" height="15.60" fill="#efeff1" />
<rect x="274.40" y="315.20" width="25.30" height="15.60" fill="#efeff1" />
<rect x="7.80" y="348.50" width="20.60" height="15.80" fill="#efeff1" />
<rect x="30.40" y="348.50" width="242.00" height="15.80" fill="#efeff1" />
<rect x="274.40" y="348.50" width="25.30" height="15.80" fill="#efeff1" />
<rect x="7.80" y="382.00" width="20.60" height="15.50" fill="#efeff1" />
<rect x="30.40" y="382.00" width="242.00" height="15.50" fill="#efeff1" />
<rect x="274.40" y="382.00" width="25.30" height="15.50" fill="#efeff1" />
<line x1="6.00" y1="163.50" x2="301.00" y2="163.50" stroke="#231f20" stroke-width="1.2" />
<line x1="6.00" y1="187.50" x2="301.00" y2="187.50" stroke="#231f20" stroke-width="1.2" />
<line x1="6.00" y1="298.50" x2="301.00" y2="298.50" stroke="#231f20" stroke-width="1.2" />
<line x1="6.00" y1="398.50" x2="301.00" y2="398.50" stroke="#231f20" stroke-width="1.2" />
<line x1="6.50" y1="162.50" x2="6.50" y2="399.00" stroke="#231f20" stroke-width="1.2" />
<line x1="29.50" y1="162.50" x2="29.50" y2="399.00" stroke="#231f20" stroke-width="1.2" />
<line x1="273.50" y1="162.50" x2="273.50" y2="399.00" stroke="#231f20" stroke-width="1.2" />
<line x1="300.50" y1="162.50" x2="300.50" y2="399.00" stroke="#231f20" stroke-width="1.2" />
<text x="18.20" y="181.80" font-size="8.6" text-anchor="middle" textLength="17" lengthAdjust="spacingAndGlyphs" stroke="#231f20" stroke-width="0.25">PDX</text>
<text x="32.30" y="181.80" font-size="8.6" textLength="136" lengthAdjust="spacingAndGlyphs" stroke="#231f20" stroke-width="0.25">Genetic lesions in signalling genes</text>
<text x="287.00" y="174.00" font-size="8.6" text-anchor="middle" stroke="#231f20" stroke-width="0.25">S/I</text>
<text x="287.00" y="182.50" font-size="8.6" text-anchor="middle" stroke="#231f20" stroke-width="0.25">ratio</text>
<text x="27.50" y="198.00" font-size="6.4" fill="#3a6ea5" text-anchor="end" textLength="14.3" lengthAdjust="spacingAndGlyphs" stroke="#3a6ea5" stroke-width="0.14">ETP1</text>
<text x="32.30" y="198.00" font-size="6.55" fill="#2a2a2c" stroke="#2a2a2c" stroke-width="0.14"><tspan font-style="italic">FGFR2</tspan> (E586Q); <tspan font-style="italic">NOTCH1</tspan> (S2492*)</text>
<text x="287.00" y="198.00" font-size="6.6" fill="#3a3a3c" text-anchor="middle" textLength="16" lengthAdjust="spacingAndGlyphs" stroke="#3a3a3c" stroke-width="0.14">0.844</text>
<text x="27.50" y="214.30" font-size="6.4" fill="#d2233c" text-anchor="end" textLength="14.3" lengthAdjust="spacingAndGlyphs" stroke="#d2233c" stroke-width="0.14">ETP2</text>
<text x="32.30" y="214.30" font-size="6.55" fill="#2a2a2c" stroke="#2a2a2c" stroke-width="0.14"><tspan font-style="italic">IGFR1</tspan> (S1281I); <tspan font-style="italic">JAK1</tspan> (S703I); <tspan font-style="italic">NOTCH1</tspan> (E1408G)</text>
<text x="287.00" y="214.30" font-size="6.6" fill="#3a3a3c" text-anchor="middle" textLength="16" lengthAdjust="spacingAndGlyphs" stroke="#3a3a3c" stroke-width="0.14">0.959</text>
<text x="27.50" y="228.20" font-size="6.4" fill="#3cb44b" text-anchor="end" textLength="14.3" lengthAdjust="spacingAndGlyphs" stroke="#3cb44b" stroke-width="0.14">ETP3</text>
<text x="32.30" y="228.20" font-size="6.55" fill="#2a2a2c" stroke="#2a2a2c" stroke-width="0.14"><tspan font-style="italic">JAK1</tspan> (S703I); <tspan font-style="italic">NOTCH1</tspan> (PEQ1582del, P1582fs, Q1584fs, P1582T);</text>
<text x="32.30" y="236.20" font-size="6.55" fill="#2a2a2c" stroke="#2a2a2c" stroke-width="0.14"><tspan font-style="italic">NOTCH4</tspan> (T684M)</text>
<text x="287.00" y="228.20" font-size="6.6" fill="#3a3a3c" text-anchor="middle" textLength="16" lengthAdjust="spacingAndGlyphs" stroke="#3a3a3c" stroke-width="0.14">0.879</text>
<text x="27.50" y="248.00" font-size="6.4" fill="#58595b" text-anchor="end" textLength="14.3" lengthAdjust="spacingAndGlyphs" stroke="#58595b" stroke-width="0.14">ETP4</text>
<text x="32.30" y="248.00" font-size="6.55" fill="#2a2a2c" stroke="#2a2a2c" stroke-width="0.14"><tspan font-style="italic">DNM2</tspan> (K558del); <tspan font-style="italic">JAK1</tspan> (D899V); <tspan font-style="italic">JAK3</tspan> (M511I); <tspan font-style="italic">NOTCH1</tspan> (F1693S, Q2459*);</text>
<text x="32.30" y="258.40" font-size="6.55" fill="#2a2a2c" stroke="#2a2a2c" stroke-width="0.14">STAT3 (K318E)</text>
<text x="287.00" y="248.00" font-size="6.6" fill="#3a3a3c" text-anchor="middle" textLength="16" lengthAdjust="spacingAndGlyphs" stroke="#3a3a3c" stroke-width="0.14">0.760</text>
<text x="27.50" y="274.00" font-size="6.4" fill="#6f4a96" text-anchor="end" textLength="14.3" lengthAdjust="spacingAndGlyphs" stroke="#6f4a96" stroke-width="0.14">ETP5</text>
<text x="32.30" y="274.00" font-size="6.55" fill="#2a2a2c" stroke="#2a2a2c" stroke-width="0.14"><tspan font-style="italic">FLT3</tspan> (D835Y); <tspan font-style="italic">KIT</tspan> (D908E); <tspan font-style="italic">NOTCH4</tspan> (N1926S); <tspan font-style="italic">PTPN11</tspan> (A72V)</text>
<text x="287.00" y="274.00" font-size="6.6" fill="#3a3a3c" text-anchor="middle" textLength="16" lengthAdjust="spacingAndGlyphs" stroke="#3a3a3c" stroke-width="0.14">0.408</text>
<text x="27.50" y="291.30" font-size="6.4" fill="#f4a93c" text-anchor="end" textLength="14.3" lengthAdjust="spacingAndGlyphs" stroke="#f4a93c" stroke-width="0.14">ETP6</text>
<text x="32.30" y="291.30" font-size="6.55" fill="#2a2a2c" stroke="#2a2a2c" stroke-width="0.14"><tspan font-style="italic">FBXW7</tspan> (R479P); <tspan font-style="italic">IL-6</tspan> (A142D); <tspan font-style="italic">NOTCH1</tspan> (V1578E); <tspan font-style="italic">SH2B3</tspan> (Y203C)</text>
<text x="287.00" y="291.30" font-size="6.6" fill="#3a3a3c" text-anchor="middle" textLength="16" lengthAdjust="spacingAndGlyphs" stroke="#3a3a3c" stroke-width="0.14">0.841</text>
<text x="27.50" y="308.50" font-size="6.4" fill="#d2233c" text-anchor="end" textLength="14.0" lengthAdjust="spacingAndGlyphs" stroke="#d2233c" stroke-width="0.14">ALL8</text>
<text x="32.30" y="310.80" font-size="6.55" fill="#2a2a2c" stroke="#2a2a2c" stroke-width="0.14"><tspan font-style="italic">FBXW7</tspan> (R465C); <tspan font-style="italic">IL-18</tspan> (R75K)</text>
<text x="287.00" y="308.50" font-size="6.6" fill="#3a3a3c" text-anchor="middle" textLength="16" lengthAdjust="spacingAndGlyphs" stroke="#3a3a3c" stroke-width="0.14">0.976</text>
<text x="27.50" y="324.50" font-size="6.4" fill="#5ab4e5" text-anchor="end" textLength="17.6" lengthAdjust="spacingAndGlyphs" stroke="#5ab4e5" stroke-width="0.14">ALL16</text>
<text x="32.30" y="324.50" font-size="6.55" fill="#2a2a2c" stroke="#2a2a2c" stroke-width="0.14"><tspan font-style="italic">NOTCH1</tspan> (L1600P)</text>
<text x="287.00" y="324.50" font-size="6.6" fill="#3a3a3c" text-anchor="middle" textLength="16" lengthAdjust="spacingAndGlyphs" stroke="#3a3a3c" stroke-width="0.14">0.340</text>
<text x="27.50" y="340.80" font-size="6.4" fill="#4b2a5c" text-anchor="end" textLength="17.6" lengthAdjust="spacingAndGlyphs" stroke="#4b2a5c" stroke-width="0.14">ALL29</text>
<text x="32.30" y="340.80" font-size="6.55" fill="#2a2a2c" stroke="#2a2a2c" stroke-width="0.14"><tspan font-style="italic">JAK1</tspan> (M206K); <tspan font-style="italic">NOTCH1</tspan> (R1598P, P2514fs)</text>
<text x="287.00" y="340.80" font-size="6.6" fill="#3a3a3c" text-anchor="middle" textLength="16" lengthAdjust="spacingAndGlyphs" stroke="#3a3a3c" stroke-width="0.14">1.030</text>
<text x="27.50" y="357.70" font-size="6.4" fill="#e0218a" text-anchor="end" textLength="17.6" lengthAdjust="spacingAndGlyphs" stroke="#e0218a" stroke-width="0.14">ALL30</text>
<text x="32.30" y="357.70" font-size="6.55" fill="#2a2a2c" stroke="#2a2a2c" stroke-width="0.14">None</text>
<text x="287.00" y="357.70" font-size="6.6" fill="#3a3a3c" text-anchor="middle" textLength="16" lengthAdjust="spacingAndGlyphs" stroke="#3a3a3c" stroke-width="0.14">0.981</text>
<text x="27.50" y="374.20" font-size="6.4" fill="#d68a1e" text-anchor="end" textLength="17.6" lengthAdjust="spacingAndGlyphs" stroke="#d68a1e" stroke-width="0.14">ALL31</text>
<text x="32.30" y="374.20" font-size="6.55" fill="#2a2a2c" stroke="#2a2a2c" stroke-width="0.14">None</text>
<text x="287.00" y="374.20" font-size="6.6" fill="#3a3a3c" text-anchor="middle" textLength="16" lengthAdjust="spacingAndGlyphs" stroke="#3a3a3c" stroke-width="0.14">1.077</text>
<text x="27.50" y="390.70" font-size="6.4" fill="#58595b" text-anchor="end" textLength="17.6" lengthAdjust="spacingAndGlyphs" stroke="#58595b" stroke-width="0.14">ALL33</text>
<text x="32.30" y="390.70" font-size="6.55" fill="#2a2a2c" stroke="#2a2a2c" stroke-width="0.14"><tspan font-style="italic">NOTCH1</tspan> (N325Y, D2242_D2443&gt;S)</text>
<text x="287.00" y="390.70" font-size="6.6" fill="#3a3a3c" text-anchor="middle" textLength="16" lengthAdjust="spacingAndGlyphs" stroke="#3a3a3c" stroke-width="0.14">1.001</text>
<text x="317.60" y="16.80" font-size="12" stroke="#231f20" stroke-width="0.25" font-weight="bold">B</text>
<g fill="#bcbcc0" stroke="#fff" stroke-width="0.35" transform="translate(332.50,22.50) scale(1.0) translate(-332.50,-22.50)"><ellipse cx="334.50" cy="25.50" rx="2.6" ry="1.9"/><ellipse cx="338.50" cy="24.50" rx="2.6" ry="1.9"/><ellipse cx="342.50" cy="24.50" rx="2.6" ry="1.9"/><ellipse cx="346.50" cy="25.50" rx="2.6" ry="1.9"/><ellipse cx="336.50" cy="28.50" rx="2.6" ry="1.9"/><ellipse cx="340.50" cy="28.00" rx="2.6" ry="1.9"/><ellipse cx="344.50" cy="28.50" rx="2.6" ry="1.9"/><ellipse cx="348.50" cy="28.50" rx="2.6" ry="1.9"/><ellipse cx="333.50" cy="29.00" rx="2.6" ry="1.9"/><ellipse cx="338.50" cy="30.50" rx="2.6" ry="1.9"/><ellipse cx="342.50" cy="31.00" rx="2.6" ry="1.9"/><ellipse cx="346.50" cy="31.00" rx="2.6" ry="1.9"/></g>
<text x="343.50" y="38.80" font-size="7.2" fill="#3a3a3c" text-anchor="middle" textLength="25" lengthAdjust="spacingAndGlyphs" stroke="#3a3a3c" stroke-width="0.2">ETP-ALL</text>
<text x="345.30" y="46.60" font-size="7.2" fill="#3a3a3c" text-anchor="middle" textLength="28.7" lengthAdjust="spacingAndGlyphs" stroke="#3a3a3c" stroke-width="0.2">(hCD45+)</text>
<g transform="translate(356.50,26.50) rotate(57.62)" fill="none" stroke="#4a4a4e" stroke-width="0.75"><path d="M0,-1.6 L0,1.6 M0,0 L2,0 M2.2,-1.6 L2.2,1.6 M2.2,-1.1 L12.04,-1.1 L13.54,0 L12.04,1.1 L2.2,1.1"/><path d="M13.54,0 L19.42,0" stroke="#231f20" stroke-width="0.675"/><path d="M4.00,-1.1 L4.00,0" stroke-width="0.4"/><path d="M5.76,-1.1 L5.76,0" stroke-width="0.4"/><path d="M7.52,-1.1 L7.52,0" stroke-width="0.4"/><path d="M9.28,-1.1 L9.28,0" stroke-width="0.4"/></g>
<path d="M367,43 L368.3,48.6 Q368.6,49.8 370,49.8 L373.2,49.8" fill="none" stroke="#4a4a4e" stroke-width="0.75" />
<g transform="translate(373.20,49.80) scale(1.0)" fill="#fff" stroke="#4a4a4e" stroke-width="0.75" stroke-linecap="round" stroke-linejoin="round"><path d="M0,0 L-3.5,0 C-4.5,0 -4.5,-0.8 -4.7,-2 L-5.6,-6.5" fill="none"/><path d="M0,0 L0,-6 C0,-9 1.5,-11 4,-11.5 L9,-8 L10,-3 L10,0 Z"/><path d="M0,0 L10,0 L10.5,-0.5 L12,-0.5" fill="none"/><circle cx="2.4" cy="-14.2" r="2.7"/><circle cx="11.5" cy="-16" r="3.0"/><path d="M4.5,-12 C5,-14.5 9,-15.5 12,-14 C14,-12.8 15,-10 15.8,-8.2 C16.2,-7.2 15.5,-6.5 14.5,-6.4 C12,-6 9,-6.2 7.5,-7.5 C5.5,-9 4.3,-10.5 4.5,-12 Z"/><circle cx="9.2" cy="-11.2" r="0.9" fill="#4a4a4e" stroke="none"/><circle cx="11.2" cy="-11.6" r="0.9" fill="#4a4a4e" stroke="none"/><circle cx="15.4" cy="-7.6" r="0.7" fill="#231f20" stroke="none"/><path d="M12.5,-6.8 L17.8,-6 M12.5,-6.8 L17.5,-8 M12.5,-6.8 L17,-4.8" fill="none" stroke-width="0.5"/><path d="M10,-5 L13,-6.2" fill="none" stroke="#231f20"/></g>
<text x="376.60" y="58.60" font-size="7.2" fill="#3a3a3c" text-anchor="middle" textLength="29.6" lengthAdjust="spacingAndGlyphs" stroke="#3a3a3c" stroke-width="0.2">Recipients</text>
<text x="376.60" y="66.30" font-size="7.2" fill="#3a3a3c" text-anchor="middle" textLength="25.3" lengthAdjust="spacingAndGlyphs" stroke="#3a3a3c" stroke-width="0.2">(mCd45)</text>
<line x1="387.20" y1="49.50" x2="504.70" y2="49.50" stroke="#231f20" stroke-width="0.9" />
<line x1="413.00" y1="49.80" x2="413.00" y2="47.00" stroke="#231f20" stroke-width="0.7" />
<line x1="439.30" y1="49.80" x2="439.30" y2="52.50" stroke="#231f20" stroke-width="0.7" />
<line x1="466.00" y1="49.80" x2="466.00" y2="52.50" stroke="#231f20" stroke-width="0.7" />
<line x1="504.50" y1="49.80" x2="504.50" y2="60.60" stroke="#231f20" stroke-width="0.9" />
<path d="M504.70,64.30 L502.90,60.10 L506.50,60.10 Z" fill="#231f20" />
<path d="M440.35,57.20 L441.86,51.20 L443.36,57.20 Z M444.06,57.20 L445.57,51.20 L447.08,57.20 Z M447.78,57.20 L449.29,51.20 L450.79,57.20 Z M451.49,57.20 L453.00,51.20 L454.51,57.20 Z M455.21,57.20 L456.71,51.20 L458.22,57.20 Z M458.92,57.20 L460.43,51.20 L461.94,57.20 Z M462.64,57.20 L464.14,51.20 L465.65,57.20 Z " fill="#c8102e" />
<path d="M478.25,57.20 L479.76,51.20 L481.28,57.20 Z M481.98,57.20 L483.49,51.20 L485.01,57.20 Z M485.71,57.20 L487.22,51.20 L488.74,57.20 Z M489.44,57.20 L490.95,51.20 L492.46,57.20 Z M493.16,57.20 L494.68,51.20 L496.19,57.20 Z M496.89,57.20 L498.41,51.20 L499.92,57.20 Z M500.62,57.20 L502.14,51.20 L503.65,57.20 Z " fill="#c8102e" />
<text x="472.80" y="63.60" font-size="7" fill="#b0203a" text-anchor="middle" textLength="26.7" lengthAdjust="spacingAndGlyphs" stroke="#b0203a" stroke-width="0.2">Pimozide</text>
<line x1="350.50" y1="71.80" x2="350.50" y2="142.00" stroke="#231f20" stroke-width="1.0" />
<line x1="350.00" y1="142.50" x2="488.00" y2="142.50" stroke="#231f20" stroke-width="1.0" />
<line x1="347.50" y1="73.50" x2="350.00" y2="73.50" stroke="#231f20" stroke-width="0.9" />
<text x="345.00" y="75.60" font-size="6.8" fill="#3a3a3c" text-anchor="end" stroke="#3a3a3c" stroke-width="0.14">100</text>
<line x1="347.50" y1="100.50" x2="350.00" y2="100.50" stroke="#231f20" stroke-width="0.9" />
<text x="345.00" y="103.20" font-size="6.8" fill="#3a3a3c" text-anchor="end" stroke="#3a3a3c" stroke-width="0.14">10</text>
<line x1="347.50" y1="128.50" x2="350.00" y2="128.50" stroke="#231f20" stroke-width="0.9" />
<text x="345.00" y="130.80" font-size="6.8" fill="#3a3a3c" text-anchor="end" stroke="#3a3a3c" stroke-width="0.14">1</text>
<text x="327.60" y="106.30" font-size="7.8" fill="#3a3a3c" text-anchor="middle" textLength="53" lengthAdjust="spacingAndGlyphs" stroke="#3a3a3c" stroke-width="0.2" transform="rotate(-90 327.60 106.30)">hCD45<tspan font-size="4.8" dy="-2.8">+</tspan><tspan dy="2.8"> cells (%)</tspan></text>
<line x1="363.50" y1="142.00" x2="363.50" y2="144.60" stroke="#231f20" stroke-width="0.9" />
<text x="363.00" y="155.00" font-size="6.8" fill="#3a6ea5" text-anchor="middle" stroke="#3a6ea5" stroke-width="0.14">ETP1</text>
<line x1="391.50" y1="142.00" x2="391.50" y2="144.60" stroke="#231f20" stroke-width="0.9" />
<text x="391.00" y="155.00" font-size="6.8" fill="#d2233c" text-anchor="middle" stroke="#d2233c" stroke-width="0.14">ETP2</text>
<line x1="419.50" y1="142.00" x2="419.50" y2="144.60" stroke="#231f20" stroke-width="0.9" />
<text x="419.00" y="155.00" font-size="6.8" fill="#58595b" text-anchor="middle" stroke="#58595b" stroke-width="0.14">ETP4</text>
<line x1="447.50" y1="142.00" x2="447.50" y2="144.60" stroke="#231f20" stroke-width="0.9" />
<text x="447.00" y="155.00" font-size="6.8" fill="#6f4a96" text-anchor="middle" stroke="#6f4a96" stroke-width="0.14">ETP5</text>
<line x1="475.50" y1="142.00" x2="475.50" y2="144.60" stroke="#231f20" stroke-width="0.9" />
<text x="475.00" y="155.00" font-size="6.8" fill="#f4a93c" text-anchor="middle" stroke="#f4a93c" stroke-width="0.14">ETP6</text>
<circle cx="355.00" cy="84.18" r="1.25" fill="#2b3340" />
<circle cx="356.50" cy="87.63" r="1.25" fill="#2b3340" />
<circle cx="358.00" cy="85.45" r="1.25" fill="#2b3340" />
<circle cx="355.00" cy="86.49" r="1.25" fill="#2b3340" />
<circle cx="356.50" cy="82.77" r="1.25" fill="#2b3340" />
<circle cx="358.00" cy="88.46" r="1.25" fill="#2b3340" />
<circle cx="355.00" cy="85.78" r="1.25" fill="#2b3340" />
<circle cx="356.50" cy="84.80" r="1.25" fill="#2b3340" />
<circle cx="358.00" cy="86.86" r="1.25" fill="#2b3340" />
<circle cx="367.00" cy="80.37" r="1.25" fill="#c41e3a" />
<circle cx="368.50" cy="85.78" r="1.25" fill="#c41e3a" />
<circle cx="370.00" cy="89.82" r="1.25" fill="#c41e3a" />
<circle cx="367.00" cy="87.63" r="1.25" fill="#c41e3a" />
<circle cx="368.50" cy="95.94" r="1.25" fill="#c41e3a" />
<circle cx="370.00" cy="92.49" r="1.25" fill="#c41e3a" />
<line x1="352.50" y1="85.50" x2="360.50" y2="85.50" stroke="#231f20" stroke-width="1.0" />
<line x1="356.50" y1="84.80" x2="356.50" y2="86.86" stroke="#231f20" stroke-width="0.8" />
<line x1="354.50" y1="84.50" x2="358.50" y2="84.50" stroke="#231f20" stroke-width="0.8" />
<line x1="354.50" y1="86.50" x2="358.50" y2="86.50" stroke="#231f20" stroke-width="0.8" />
<line x1="364.50" y1="89.50" x2="372.50" y2="89.50" stroke="#231f20" stroke-width="1.0" />
<line x1="368.50" y1="87.63" x2="368.50" y2="92.49" stroke="#231f20" stroke-width="0.8" />
<line x1="366.50" y1="87.50" x2="370.50" y2="87.50" stroke="#231f20" stroke-width="0.8" />
<line x1="366.50" y1="92.50" x2="370.50" y2="92.50" stroke="#231f20" stroke-width="0.8" />
<circle cx="383.00" cy="91.35" r="1.25" fill="#2b3340" />
<circle cx="384.50" cy="93.75" r="1.25" fill="#2b3340" />
<circle cx="386.00" cy="95.94" r="1.25" fill="#2b3340" />
<circle cx="383.00" cy="98.61" r="1.25" fill="#2b3340" />
<circle cx="384.50" cy="107.97" r="1.25" fill="#2b3340" />
<circle cx="386.00" cy="118.95" r="1.25" fill="#2b3340" />
<circle cx="383.00" cy="126.21" r="1.25" fill="#2b3340" />
<circle cx="395.00" cy="115.23" r="1.25" fill="#c41e3a" />
<circle cx="396.50" cy="120.09" r="1.25" fill="#c41e3a" />
<circle cx="398.00" cy="124.37" r="1.25" fill="#c41e3a" />
<circle cx="395.00" cy="126.21" r="1.25" fill="#c41e3a" />
<circle cx="396.50" cy="127.26" r="1.25" fill="#c41e3a" />
<circle cx="398.00" cy="129.66" r="1.25" fill="#c41e3a" />
<circle cx="395.00" cy="135.57" r="1.25" fill="#c41e3a" />
<line x1="380.50" y1="100.50" x2="388.50" y2="100.50" stroke="#231f20" stroke-width="1.0" />
<line x1="384.50" y1="96.77" x2="384.50" y2="106.92" stroke="#231f20" stroke-width="0.8" />
<line x1="382.50" y1="96.50" x2="386.50" y2="96.50" stroke="#231f20" stroke-width="0.8" />
<line x1="382.50" y1="106.50" x2="386.50" y2="106.50" stroke="#231f20" stroke-width="0.8" />
<line x1="392.50" y1="126.50" x2="400.50" y2="126.50" stroke="#231f20" stroke-width="1.0" />
<line x1="396.50" y1="123.54" x2="396.50" y2="129.66" stroke="#231f20" stroke-width="0.8" />
<line x1="394.50" y1="123.50" x2="398.50" y2="123.50" stroke="#231f20" stroke-width="0.8" />
<line x1="394.50" y1="129.50" x2="398.50" y2="129.50" stroke="#231f20" stroke-width="0.8" />
<circle cx="411.00" cy="84.18" r="1.25" fill="#2b3340" />
<circle cx="412.50" cy="89.82" r="1.25" fill="#2b3340" />
<circle cx="414.00" cy="92.49" r="1.25" fill="#2b3340" />
<circle cx="411.00" cy="91.35" r="1.25" fill="#2b3340" />
<circle cx="412.50" cy="93.75" r="1.25" fill="#2b3340" />
<circle cx="414.00" cy="97.66" r="1.25" fill="#2b3340" />
<circle cx="423.00" cy="88.46" r="1.25" fill="#c41e3a" />
<circle cx="424.50" cy="94.44" r="1.25" fill="#c41e3a" />
<circle cx="426.00" cy="95.94" r="1.25" fill="#c41e3a" />
<circle cx="423.00" cy="97.66" r="1.25" fill="#c41e3a" />
<circle cx="424.50" cy="99.66" r="1.25" fill="#c41e3a" />
<circle cx="426.00" cy="102.06" r="1.25" fill="#c41e3a" />
<circle cx="423.00" cy="105.08" r="1.25" fill="#c41e3a" />
<line x1="408.50" y1="91.50" x2="416.50" y2="91.50" stroke="#231f20" stroke-width="1.0" />
<line x1="412.50" y1="89.82" x2="412.50" y2="93.11" stroke="#231f20" stroke-width="0.8" />
<line x1="410.50" y1="89.50" x2="414.50" y2="89.50" stroke="#231f20" stroke-width="0.8" />
<line x1="410.50" y1="93.50" x2="414.50" y2="93.50" stroke="#231f20" stroke-width="0.8" />
<line x1="420.50" y1="96.50" x2="428.50" y2="96.50" stroke="#231f20" stroke-width="1.0" />
<line x1="424.50" y1="94.44" x2="424.50" y2="99.66" stroke="#231f20" stroke-width="0.8" />
<line x1="422.50" y1="94.50" x2="426.50" y2="94.50" stroke="#231f20" stroke-width="0.8" />
<line x1="422.50" y1="99.50" x2="426.50" y2="99.50" stroke="#231f20" stroke-width="0.8" />
<circle cx="439.00" cy="78.36" r="1.25" fill="#2b3340" />
<circle cx="440.50" cy="80.37" r="1.25" fill="#2b3340" />
<circle cx="442.00" cy="82.00" r="1.25" fill="#2b3340" />
<circle cx="439.00" cy="82.77" r="1.25" fill="#2b3340" />
<circle cx="440.50" cy="84.18" r="1.25" fill="#2b3340" />
<circle cx="442.00" cy="85.78" r="1.25" fill="#2b3340" />
<circle cx="439.00" cy="88.46" r="1.25" fill="#2b3340" />
<circle cx="451.00" cy="80.37" r="1.25" fill="#c41e3a" />
<circle cx="452.50" cy="85.78" r="1.25" fill="#c41e3a" />
<circle cx="454.00" cy="87.63" r="1.25" fill="#c41e3a" />
<circle cx="451.00" cy="88.46" r="1.25" fill="#c41e3a" />
<circle cx="452.50" cy="89.82" r="1.25" fill="#c41e3a" />
<circle cx="454.00" cy="90.31" r="1.25" fill="#c41e3a" />
<line x1="436.50" y1="82.50" x2="444.50" y2="82.50" stroke="#231f20" stroke-width="1.0" />
<line x1="440.50" y1="81.51" x2="440.50" y2="84.18" stroke="#231f20" stroke-width="0.8" />
<line x1="438.50" y1="81.50" x2="442.50" y2="81.50" stroke="#231f20" stroke-width="0.8" />
<line x1="438.50" y1="84.50" x2="442.50" y2="84.50" stroke="#231f20" stroke-width="0.8" />
<line x1="448.50" y1="87.50" x2="456.50" y2="87.50" stroke="#231f20" stroke-width="1.0" />
<line x1="452.50" y1="86.49" x2="452.50" y2="88.89" stroke="#231f20" stroke-width="0.8" />
<line x1="450.50" y1="86.50" x2="454.50" y2="86.50" stroke="#231f20" stroke-width="0.8" />
<line x1="450.50" y1="88.50" x2="454.50" y2="88.50" stroke="#231f20" stroke-width="0.8" />
<circle cx="467.00" cy="77.48" r="1.25" fill="#2b3340" />
<circle cx="468.50" cy="84.18" r="1.25" fill="#2b3340" />
<circle cx="470.00" cy="87.63" r="1.25" fill="#2b3340" />
<circle cx="467.00" cy="92.49" r="1.25" fill="#2b3340" />
<circle cx="468.50" cy="96.77" r="1.25" fill="#2b3340" />
<circle cx="470.00" cy="98.61" r="1.25" fill="#2b3340" />
<circle cx="467.00" cy="99.66" r="1.25" fill="#2b3340" />
<circle cx="479.00" cy="89.82" r="1.25" fill="#c41e3a" />
<circle cx="480.50" cy="95.94" r="1.25" fill="#c41e3a" />
<circle cx="482.00" cy="100.80" r="1.25" fill="#c41e3a" />
<circle cx="479.00" cy="103.47" r="1.25" fill="#c41e3a" />
<circle cx="480.50" cy="105.08" r="1.25" fill="#c41e3a" />
<circle cx="482.00" cy="107.97" r="1.25" fill="#c41e3a" />
<circle cx="479.00" cy="110.37" r="1.25" fill="#c41e3a" />
<circle cx="480.50" cy="113.38" r="1.25" fill="#c41e3a" />
<line x1="464.50" y1="88.50" x2="472.50" y2="88.50" stroke="#231f20" stroke-width="1.0" />
<line x1="468.50" y1="85.45" x2="468.50" y2="92.49" stroke="#231f20" stroke-width="0.8" />
<line x1="466.50" y1="85.50" x2="470.50" y2="85.50" stroke="#231f20" stroke-width="0.8" />
<line x1="466.50" y1="92.50" x2="470.50" y2="92.50" stroke="#231f20" stroke-width="0.8" />
<line x1="476.50" y1="104.50" x2="484.50" y2="104.50" stroke="#231f20" stroke-width="1.0" />
<line x1="480.50" y1="102.06" x2="480.50" y2="106.92" stroke="#231f20" stroke-width="0.8" />
<line x1="478.50" y1="102.50" x2="482.50" y2="102.50" stroke="#231f20" stroke-width="0.8" />
<line x1="478.50" y1="106.50" x2="482.50" y2="106.50" stroke="#231f20" stroke-width="0.8" />
<circle cx="390.00" cy="162.50" r="1.05" fill="#2b2b33" />
<text x="393.20" y="165.00" font-size="6.8" fill="#3a3a3c" stroke="#3a3a3c" stroke-width="0.14">Vehicle</text>
<circle cx="419.60" cy="162.50" r="1.05" fill="#c41e3a" />
<text x="423.40" y="165.00" font-size="6.8" fill="#b0203a" stroke="#b0203a" stroke-width="0.14">Pimozide</text>
<text x="317.60" y="192.00" font-size="12" stroke="#231f20" stroke-width="0.25" font-weight="bold">C</text>
<rect x="340.20" y="211.40" width="43.40" height="43.60" fill="#fff" stroke="#231f20" stroke-width="0.8" />
<line x1="343.82" y1="255.00" x2="343.82" y2="253.80" stroke="#231f20" stroke-width="0.4" />
<line x1="347.43" y1="255.00" x2="347.43" y2="253.80" stroke="#231f20" stroke-width="0.4" />
<line x1="351.05" y1="255.00" x2="351.05" y2="253.80" stroke="#231f20" stroke-width="0.4" />
<line x1="354.67" y1="255.00" x2="354.67" y2="253.80" stroke="#231f20" stroke-width="0.4" />
<line x1="358.28" y1="255.00" x2="358.28" y2="253.80" stroke="#231f20" stroke-width="0.4" />
<line x1="361.90" y1="255.00" x2="361.90" y2="253.80" stroke="#231f20" stroke-width="0.4" />
<line x1="365.52" y1="255.00" x2="365.52" y2="253.80" stroke="#231f20" stroke-width="0.4" />
<line x1="369.13" y1="255.00" x2="369.13" y2="253.80" stroke="#231f20" stroke-width="0.4" />
<line x1="372.75" y1="255.00" x2="372.75" y2="253.80" stroke="#231f20" stroke-width="0.4" />
<line x1="376.37" y1="255.00" x2="376.37" y2="253.80" stroke="#231f20" stroke-width="0.4" />
<line x1="379.98" y1="255.00" x2="379.98" y2="253.80" stroke="#231f20" stroke-width="0.4" />
<line x1="340.20" y1="215.03" x2="341.40" y2="215.03" stroke="#231f20" stroke-width="0.4" />
<line x1="340.20" y1="218.67" x2="341.40" y2="218.67" stroke="#231f20" stroke-width="0.4" />
<line x1="340.20" y1="222.30" x2="341.40" y2="222.30" stroke="#231f20" stroke-width="0.4" />
<line x1="340.20" y1="225.93" x2="341.40" y2="225.93" stroke="#231f20" stroke-width="0.4" />
<line x1="340.20" y1="229.57" x2="341.40" y2="229.57" stroke="#231f20" stroke-width="0.4" />
<line x1="340.20" y1="233.20" x2="341.40" y2="233.20" stroke="#231f20" stroke-width="0.4" />
<line x1="340.20" y1="236.83" x2="341.40" y2="236.83" stroke="#231f20" stroke-width="0.4" />
<line x1="340.20" y1="240.47" x2="341.40" y2="240.47" stroke="#231f20" stroke-width="0.4" />
<line x1="340.20" y1="244.10" x2="341.40" y2="244.10" stroke="#231f20" stroke-width="0.4" />
<line x1="340.20" y1="247.73" x2="341.40" y2="247.73" stroke="#231f20" stroke-width="0.4" />
<line x1="340.20" y1="251.37" x2="341.40" y2="251.37" stroke="#231f20" stroke-width="0.4" />
<path d="M356.17,247.59h0.45v0.45h-0.45zM375.68,222.71h0.45v0.45h-0.45zM367.36,230.88h0.45v0.45h-0.45zM372.20,245.13h0.45v0.45h-0.45zM354.91,213.19h0.45v0.45h-0.45zM377.91,230.18h0.45v0.45h-0.45zM375.63,212.09h0.45v0.45h-0.45zM365.81,242.30h0.45v0.45h-0.45zM359.09,251.70h0.45v0.45h-0.45zM379.94,213.28h0.45v0.45h-0.45zM352.79,234.74h0.45v0.45h-0.45zM381.11,228.01h0.45v0.45h-0.45zM358.71,229.73h0.45v0.45h-0.45zM352.90,221.31h0.45v0.45h-0.45zM365.57,232.82h0.45v0.45h-0.45zM359.23,221.70h0.45v0.45h-0.45zM358.78,231.30h0.45v0.45h-0.45zM360.98,212.90h0.45v0.45h-0.45zM377.96,235.37h0.45v0.45h-0.45zM371.91,219.81h0.45v0.45h-0.45zM382.77,248.12h0.45v0.45h-0.45zM355.75,225.97h0.45v0.45h-0.45zM374.37,241.87h0.45v0.45h-0.45zM381.03,229.73h0.45v0.45h-0.45zM377.73,240.15h0.45v0.45h-0.45zM361.40,236.68h0.45v0.45h-0.45zM379.36,247.54h0.45v0.45h-0.45zM367.66,236.74h0.45v0.45h-0.45zM353.07,222.20h0.45v0.45h-0.45zM376.72,229.40h0.45v0.45h-0.45zM357.36,235.05h0.45v0.45h-0.45zM373.79,240.33h0.45v0.45h-0.45zM363.62,230.44h0.45v0.45h-0.45zM367.76,244.69h0.45v0.45h-0.45zM368.15,228.52h0.45v0.45h-0.45zM367.18,213.24h0.45v0.45h-0.45zM353.35,241.54h0.45v0.45h-0.45zM382.48,236.91h0.45v0.45h-0.45zM364.20,219.15h0.45v0.45h-0.45zM367.57,253.25h0.45v0.45h-0.45zM375.89,234.66h0.45v0.45h-0.45zM378.67,221.75h0.45v0.45h-0.45zM367.93,252.00h0.45v0.45h-0.45zM369.91,231.28h0.45v0.45h-0.45zM360.35,235.02h0.45v0.45h-0.45zM381.67,212.24h0.45v0.45h-0.45zM376.29,246.46h0.45v0.45h-0.45zM379.47,243.10h0.45v0.45h-0.45zM377.08,233.78h0.45v0.45h-0.45zM369.40,229.90h0.45v0.45h-0.45zM353.74,248.54h0.45v0.45h-0.45zM369.67,220.39h0.45v0.45h-0.45zM367.65,232.37h0.45v0.45h-0.45zM363.06,226.54h0.45v0.45h-0.45zM368.69,238.19h0.45v0.45h-0.45zM370.99,231.24h0.45v0.45h-0.45zM352.87,221.64h0.45v0.45h-0.45zM357.49,236.55h0.45v0.45h-0.45zM378.69,245.53h0.45v0.45h-0.45zM376.71,246.29h0.45v0.45h-0.45zM359.91,247.35h0.45v0.45h-0.45zM372.87,215.50h0.45v0.45h-0.45zM352.52,212.61h0.45v0.45h-0.45zM375.42,222.48h0.45v0.45h-0.45zM355.39,238.24h0.45v0.45h-0.45zM362.68,214.92h0.45v0.45h-0.45zM356.95,234.15h0.45v0.45h-0.45zM357.21,223.46h0.45v0.45h-0.45zM374.06,231.10h0.45v0.45h-0.45zM361.98,231.90h0.45v0.45h-0.45zM352.73,228.24h0.45v0.45h-0.45zM365.05,219.90h0.45v0.45h-0.45zM355.37,249.79h0.45v0.45h-0.45zM367.81,220.78h0.45v0.45h-0.45zM370.78,246.32h0.45v0.45h-0.45zM352.65,212.75h0.45v0.45h-0.45zM356.54,242.19h0.45v0.45h-0.45zM356.97,241.59h0.45v0.45h-0.45zM373.02,234.88h0.45v0.45h-0.45zM358.84,252.97h0.45v0.45h-0.45zM376.73,233.70h0.45v0.45h-0.45zM358.92,239.24h0.45v0.45h-0.45zM364.24,236.19h0.45v0.45h-0.45zM361.96,238.50h0.45v0.45h-0.45zM353.82,224.54h0.45v0.45h-0.45zM382.01,248.77h0.45v0.45h-0.45zM361.50,248.06h0.45v0.45h-0.45zM361.62,251.45h0.45v0.45h-0.45zM375.06,229.48h0.45v0.45h-0.45zM359.82,212.36h0.45v0.45h-0.45zM379.24,213.59h0.45v0.45h-0.45zM377.40,252.41h0.45v0.45h-0.45zM369.68,219.20h0.45v0.45h-0.45zM378.90,252.90h0.45v0.45h-0.45zM373.82,233.37h0.45v0.45h-0.45zM363.72,226.57h0.45v0.45h-0.45zM358.38,240.31h0.45v0.45h-0.45zM365.42,220.15h0.45v0.45h-0.45zM355.24,239.97h0.45v0.45h-0.45zM361.18,232.99h0.45v0.45h-0.45zM362.09,248.61h0.45v0.45h-0.45zM379.89,212.76h0.45v0.45h-0.45zM358.23,225.77h0.45v0.45h-0.45zM382.60,244.87h0.45v0.45h-0.45zM362.51,220.95h0.45v0.45h-0.45zM372.91,247.18h0.45v0.45h-0.45zM380.90,226.44h0.45v0.45h-0.45zM379.35,240.86h0.45v0.45h-0.45zM367.02,253.39h0.45v0.45h-0.45zM359.27,242.47h0.45v0.45h-0.45z" fill="#6d6e71" opacity="1.0"/>
<path d="M344.07,216.33h0.45v0.45h-0.45zM346.15,218.51h0.45v0.45h-0.45zM341.86,228.87h0.45v0.45h-0.45zM352.93,245.62h0.45v0.45h-0.45zM350.95,221.32h0.45v0.45h-0.45zM347.98,223.62h0.45v0.45h-0.45zM343.24,216.46h0.45v0.45h-0.45zM343.79,250.95h0.45v0.45h-0.45zM351.78,245.88h0.45v0.45h-0.45zM351.41,220.12h0.45v0.45h-0.45zM345.03,238.33h0.45v0.45h-0.45zM350.51,247.90h0.45v0.45h-0.45zM352.44,215.64h0.45v0.45h-0.45zM348.88,240.21h0.45v0.45h-0.45zM347.58,219.47h0.45v0.45h-0.45z" fill="#9a9a9e" opacity="1.0"/>
<path d="M373.69,246.01h0.45v0.45h-0.45zM363.97,248.44h0.45v0.45h-0.45zM366.18,243.79h0.45v0.45h-0.45zM359.93,245.75h0.45v0.45h-0.45zM356.63,245.47h0.45v0.45h-0.45zM359.44,247.14h0.45v0.45h-0.45zM357.47,249.27h0.45v0.45h-0.45zM359.26,238.41h0.45v0.45h-0.45zM367.95,246.82h0.45v0.45h-0.45zM358.28,248.81h0.45v0.45h-0.45zM363.15,248.16h0.45v0.45h-0.45zM357.73,248.57h0.45v0.45h-0.45zM354.31,252.33h0.45v0.45h-0.45zM355.67,247.38h0.45v0.45h-0.45zM362.10,248.66h0.45v0.45h-0.45zM360.77,249.45h0.45v0.45h-0.45zM343.83,247.30h0.45v0.45h-0.45zM360.55,246.31h0.45v0.45h-0.45zM369.00,244.68h0.45v0.45h-0.45zM360.93,241.50h0.45v0.45h-0.45zM362.71,242.72h0.45v0.45h-0.45zM353.46,254.71h0.45v0.45h-0.45zM364.88,247.58h0.45v0.45h-0.45zM362.20,243.25h0.45v0.45h-0.45zM356.03,248.89h0.45v0.45h-0.45zM350.65,248.43h0.45v0.45h-0.45zM352.56,247.97h0.45v0.45h-0.45zM355.71,252.93h0.45v0.45h-0.45zM366.49,246.03h0.45v0.45h-0.45zM351.76,245.22h0.45v0.45h-0.45zM361.05,244.58h0.45v0.45h-0.45zM362.78,250.62h0.45v0.45h-0.45zM361.06,246.28h0.45v0.45h-0.45zM365.31,246.70h0.45v0.45h-0.45zM365.65,246.64h0.45v0.45h-0.45zM369.55,246.76h0.45v0.45h-0.45zM355.96,247.90h0.45v0.45h-0.45zM358.13,244.75h0.45v0.45h-0.45zM360.71,249.90h0.45v0.45h-0.45zM350.37,247.48h0.45v0.45h-0.45zM360.59,247.17h0.45v0.45h-0.45zM365.44,243.64h0.45v0.45h-0.45zM364.73,246.93h0.45v0.45h-0.45zM361.94,246.96h0.45v0.45h-0.45zM359.71,246.04h0.45v0.45h-0.45zM363.49,254.06h0.45v0.45h-0.45zM366.77,250.26h0.45v0.45h-0.45zM364.28,246.21h0.45v0.45h-0.45zM364.53,254.00h0.45v0.45h-0.45zM354.97,250.22h0.45v0.45h-0.45zM366.65,248.57h0.45v0.45h-0.45zM365.52,251.95h0.45v0.45h-0.45zM372.78,251.71h0.45v0.45h-0.45zM369.98,248.77h0.45v0.45h-0.45zM365.81,248.31h0.45v0.45h-0.45zM363.13,246.38h0.45v0.45h-0.45zM365.10,252.21h0.45v0.45h-0.45zM360.88,248.59h0.45v0.45h-0.45zM364.86,247.89h0.45v0.45h-0.45zM366.47,248.62h0.45v0.45h-0.45z" fill="#9a9a9e" opacity="1.0"/>
<path d="M369.01,240.91h0.55v0.55h-0.55zM361.43,222.17h0.55v0.55h-0.55zM362.24,221.19h0.55v0.55h-0.55zM372.81,219.40h0.55v0.55h-0.55zM367.64,239.64h0.55v0.55h-0.55zM355.71,231.09h0.55v0.55h-0.55zM373.91,217.12h0.55v0.55h-0.55zM373.89,237.63h0.55v0.55h-0.55zM361.87,219.83h0.55v0.55h-0.55zM367.66,216.79h0.55v0.55h-0.55zM363.09,217.06h0.55v0.55h-0.55zM360.59,222.50h0.55v0.55h-0.55zM364.28,242.21h0.55v0.55h-0.55zM359.92,229.99h0.55v0.55h-0.55zM366.23,216.54h0.55v0.55h-0.55zM377.33,222.46h0.55v0.55h-0.55zM360.97,234.93h0.55v0.55h-0.55zM377.58,223.55h0.55v0.55h-0.55zM375.06,220.57h0.55v0.55h-0.55zM370.20,239.56h0.55v0.55h-0.55zM378.43,225.63h0.55v0.55h-0.55zM365.06,239.50h0.55v0.55h-0.55zM359.52,227.83h0.55v0.55h-0.55zM360.51,222.92h0.55v0.55h-0.55zM359.66,222.39h0.55v0.55h-0.55zM377.18,223.21h0.55v0.55h-0.55zM375.15,217.89h0.55v0.55h-0.55zM373.13,237.91h0.55v0.55h-0.55zM376.05,217.17h0.55v0.55h-0.55zM360.38,224.01h0.55v0.55h-0.55zM366.16,217.87h0.55v0.55h-0.55zM358.64,222.67h0.55v0.55h-0.55zM365.56,242.31h0.55v0.55h-0.55zM377.76,227.57h0.55v0.55h-0.55zM376.35,234.29h0.55v0.55h-0.55zM374.67,238.94h0.55v0.55h-0.55zM365.63,239.06h0.55v0.55h-0.55zM379.69,232.17h0.55v0.55h-0.55zM360.27,220.08h0.55v0.55h-0.55zM363.45,238.37h0.55v0.55h-0.55zM376.03,219.70h0.55v0.55h-0.55zM376.81,228.20h0.55v0.55h-0.55zM364.14,240.49h0.55v0.55h-0.55zM377.58,230.52h0.55v0.55h-0.55zM371.86,240.93h0.55v0.55h-0.55zM374.14,238.80h0.55v0.55h-0.55zM377.45,231.29h0.55v0.55h-0.55zM377.35,225.42h0.55v0.55h-0.55zM376.18,221.14h0.55v0.55h-0.55zM359.46,226.99h0.55v0.55h-0.55zM362.04,219.05h0.55v0.55h-0.55zM361.40,220.74h0.55v0.55h-0.55zM377.72,223.89h0.55v0.55h-0.55zM366.64,218.53h0.55v0.55h-0.55zM369.02,240.80h0.55v0.55h-0.55zM356.81,226.50h0.55v0.55h-0.55zM359.32,225.00h0.55v0.55h-0.55zM361.11,223.69h0.55v0.55h-0.55zM378.28,229.81h0.55v0.55h-0.55zM377.83,232.81h0.55v0.55h-0.55zM360.86,219.36h0.55v0.55h-0.55zM362.53,237.23h0.55v0.55h-0.55zM365.96,218.77h0.55v0.55h-0.55zM376.69,232.32h0.55v0.55h-0.55zM363.93,218.24h0.55v0.55h-0.55zM360.28,230.94h0.55v0.55h-0.55zM360.96,222.66h0.55v0.55h-0.55zM364.17,239.77h0.55v0.55h-0.55zM361.42,236.94h0.55v0.55h-0.55zM361.37,236.17h0.55v0.55h-0.55zM369.66,216.05h0.55v0.55h-0.55zM367.39,218.09h0.55v0.55h-0.55zM364.68,238.82h0.55v0.55h-0.55zM369.06,242.64h0.55v0.55h-0.55zM372.73,241.20h0.55v0.55h-0.55zM376.39,235.51h0.55v0.55h-0.55zM363.55,239.62h0.55v0.55h-0.55zM358.33,233.06h0.55v0.55h-0.55zM374.03,219.46h0.55v0.55h-0.55zM362.59,219.14h0.55v0.55h-0.55zM375.59,220.58h0.55v0.55h-0.55zM375.19,236.15h0.55v0.55h-0.55zM359.68,226.40h0.55v0.55h-0.55zM374.27,216.74h0.55v0.55h-0.55zM372.21,238.99h0.55v0.55h-0.55zM361.23,218.09h0.55v0.55h-0.55zM371.34,218.23h0.55v0.55h-0.55zM365.65,239.48h0.55v0.55h-0.55zM370.58,218.36h0.55v0.55h-0.55zM359.69,234.09h0.55v0.55h-0.55zM358.28,234.77h0.55v0.55h-0.55zM374.60,239.59h0.55v0.55h-0.55zM379.65,228.70h0.55v0.55h-0.55zM377.68,227.38h0.55v0.55h-0.55zM357.62,233.78h0.55v0.55h-0.55zM370.01,240.40h0.55v0.55h-0.55zM367.93,217.02h0.55v0.55h-0.55zM358.75,226.96h0.55v0.55h-0.55zM365.84,239.44h0.55v0.55h-0.55zM377.19,233.15h0.55v0.55h-0.55zM360.84,222.88h0.55v0.55h-0.55zM379.30,232.12h0.55v0.55h-0.55zM376.40,221.59h0.55v0.55h-0.55zM377.92,219.57h0.55v0.55h-0.55zM375.41,222.07h0.55v0.55h-0.55zM367.95,218.30h0.55v0.55h-0.55zM372.99,238.88h0.55v0.55h-0.55zM358.58,226.50h0.55v0.55h-0.55zM359.26,234.66h0.55v0.55h-0.55zM362.86,238.07h0.55v0.55h-0.55zM368.04,240.50h0.55v0.55h-0.55zM370.19,216.87h0.55v0.55h-0.55zM362.47,237.40h0.55v0.55h-0.55zM372.50,216.90h0.55v0.55h-0.55zM373.12,239.10h0.55v0.55h-0.55zM372.39,214.83h0.55v0.55h-0.55zM373.09,216.68h0.55v0.55h-0.55zM373.96,220.33h0.55v0.55h-0.55zM376.64,231.54h0.55v0.55h-0.55zM359.49,226.52h0.55v0.55h-0.55zM358.48,234.34h0.55v0.55h-0.55zM377.05,228.42h0.55v0.55h-0.55zM376.99,232.03h0.55v0.55h-0.55zM376.82,232.98h0.55v0.55h-0.55zM376.89,226.65h0.55v0.55h-0.55zM360.03,228.17h0.55v0.55h-0.55zM364.32,238.75h0.55v0.55h-0.55zM362.38,219.20h0.55v0.55h-0.55zM360.80,223.00h0.55v0.55h-0.55zM363.52,238.55h0.55v0.55h-0.55zM376.67,238.17h0.55v0.55h-0.55zM361.18,236.07h0.55v0.55h-0.55zM376.69,233.81h0.55v0.55h-0.55zM360.70,221.47h0.55v0.55h-0.55zM370.35,216.05h0.55v0.55h-0.55zM360.94,219.94h0.55v0.55h-0.55zM359.58,232.97h0.55v0.55h-0.55zM365.38,217.36h0.55v0.55h-0.55zM360.36,233.36h0.55v0.55h-0.55zM368.54,241.15h0.55v0.55h-0.55zM360.48,226.21h0.55v0.55h-0.55zM360.31,233.06h0.55v0.55h-0.55zM358.42,234.12h0.55v0.55h-0.55zM360.15,237.91h0.55v0.55h-0.55zM375.43,221.91h0.55v0.55h-0.55zM359.41,230.68h0.55v0.55h-0.55zM375.55,236.79h0.55v0.55h-0.55zM376.53,219.86h0.55v0.55h-0.55zM370.79,217.09h0.55v0.55h-0.55zM359.01,223.69h0.55v0.55h-0.55zM375.62,234.94h0.55v0.55h-0.55zM374.05,237.05h0.55v0.55h-0.55zM369.59,217.65h0.55v0.55h-0.55zM375.78,234.75h0.55v0.55h-0.55zM374.70,221.12h0.55v0.55h-0.55zM373.12,219.32h0.55v0.55h-0.55zM375.96,237.06h0.55v0.55h-0.55zM373.75,217.39h0.55v0.55h-0.55zM378.70,224.47h0.55v0.55h-0.55zM377.92,230.97h0.55v0.55h-0.55zM369.39,215.47h0.55v0.55h-0.55zM375.55,235.19h0.55v0.55h-0.55zM368.14,217.83h0.55v0.55h-0.55zM364.04,238.08h0.55v0.55h-0.55zM360.47,224.41h0.55v0.55h-0.55zM372.68,239.51h0.55v0.55h-0.55zM368.20,241.55h0.55v0.55h-0.55zM360.02,235.93h0.55v0.55h-0.55zM361.44,237.10h0.55v0.55h-0.55zM360.15,233.67h0.55v0.55h-0.55zM379.96,236.32h0.55v0.55h-0.55zM361.01,233.49h0.55v0.55h-0.55zM368.04,216.92h0.55v0.55h-0.55zM368.60,216.00h0.55v0.55h-0.55zM363.53,217.64h0.55v0.55h-0.55zM362.91,220.45h0.55v0.55h-0.55zM375.50,221.81h0.55v0.55h-0.55zM368.10,217.76h0.55v0.55h-0.55zM377.19,222.16h0.55v0.55h-0.55zM366.55,218.42h0.55v0.55h-0.55zM371.89,238.58h0.55v0.55h-0.55zM360.46,222.84h0.55v0.55h-0.55zM364.51,238.42h0.55v0.55h-0.55zM378.63,224.58h0.55v0.55h-0.55zM365.49,239.11h0.55v0.55h-0.55zM374.50,218.53h0.55v0.55h-0.55zM361.20,223.43h0.55v0.55h-0.55zM377.71,229.95h0.55v0.55h-0.55zM359.82,229.58h0.55v0.55h-0.55zM362.09,236.99h0.55v0.55h-0.55zM364.19,238.04h0.55v0.55h-0.55zM377.43,227.70h0.55v0.55h-0.55zM359.15,229.68h0.55v0.55h-0.55zM373.16,218.32h0.55v0.55h-0.55zM372.73,217.20h0.55v0.55h-0.55zM366.56,217.88h0.55v0.55h-0.55zM374.99,218.17h0.55v0.55h-0.55zM377.85,225.39h0.55v0.55h-0.55zM360.36,230.23h0.55v0.55h-0.55zM366.29,217.32h0.55v0.55h-0.55zM363.08,216.34h0.55v0.55h-0.55zM368.69,240.06h0.55v0.55h-0.55zM371.67,238.59h0.55v0.55h-0.55zM365.58,217.68h0.55v0.55h-0.55zM374.37,219.32h0.55v0.55h-0.55zM374.49,219.87h0.55v0.55h-0.55zM363.75,240.81h0.55v0.55h-0.55zM377.03,234.56h0.55v0.55h-0.55zM376.38,234.67h0.55v0.55h-0.55zM361.93,237.66h0.55v0.55h-0.55zM361.14,223.69h0.55v0.55h-0.55zM363.55,237.63h0.55v0.55h-0.55zM359.71,232.55h0.55v0.55h-0.55zM361.23,223.42h0.55v0.55h-0.55zM377.81,225.02h0.55v0.55h-0.55zM375.99,236.87h0.55v0.55h-0.55zM366.73,239.36h0.55v0.55h-0.55zM375.35,221.04h0.55v0.55h-0.55zM378.16,220.69h0.55v0.55h-0.55zM360.44,237.57h0.55v0.55h-0.55zM369.39,218.36h0.55v0.55h-0.55zM363.86,218.08h0.55v0.55h-0.55zM363.24,219.77h0.55v0.55h-0.55zM368.45,217.04h0.55v0.55h-0.55zM377.28,225.64h0.55v0.55h-0.55zM376.63,236.90h0.55v0.55h-0.55zM359.12,228.71h0.55v0.55h-0.55zM363.70,217.26h0.55v0.55h-0.55zM360.17,224.09h0.55v0.55h-0.55zM361.19,219.37h0.55v0.55h-0.55zM373.07,240.37h0.55v0.55h-0.55zM376.00,237.31h0.55v0.55h-0.55zM376.82,223.65h0.55v0.55h-0.55zM366.46,217.34h0.55v0.55h-0.55zM359.88,221.39h0.55v0.55h-0.55zM359.82,231.00h0.55v0.55h-0.55zM364.64,238.49h0.55v0.55h-0.55zM366.31,218.06h0.55v0.55h-0.55zM368.51,215.47h0.55v0.55h-0.55zM362.11,237.09h0.55v0.55h-0.55zM367.04,241.98h0.55v0.55h-0.55zM378.67,231.66h0.55v0.55h-0.55zM360.48,228.03h0.55v0.55h-0.55zM361.03,239.36h0.55v0.55h-0.55zM362.86,239.31h0.55v0.55h-0.55zM369.50,217.10h0.55v0.55h-0.55zM362.55,237.15h0.55v0.55h-0.55zM366.95,239.71h0.55v0.55h-0.55zM377.44,236.21h0.55v0.55h-0.55zM366.76,216.47h0.55v0.55h-0.55zM372.18,239.15h0.55v0.55h-0.55zM367.79,216.66h0.55v0.55h-0.55zM371.68,218.92h0.55v0.55h-0.55zM375.29,239.32h0.55v0.55h-0.55zM360.77,234.82h0.55v0.55h-0.55zM359.45,223.56h0.55v0.55h-0.55zM370.95,238.76h0.55v0.55h-0.55zM379.35,230.82h0.55v0.55h-0.55zM372.02,215.28h0.55v0.55h-0.55zM359.86,237.20h0.55v0.55h-0.55zM359.10,224.60h0.55v0.55h-0.55zM377.61,226.68h0.55v0.55h-0.55zM364.59,218.16h0.55v0.55h-0.55zM357.74,229.54h0.55v0.55h-0.55zM361.67,222.58h0.55v0.55h-0.55zM369.29,218.30h0.55v0.55h-0.55zM362.81,217.98h0.55v0.55h-0.55zM360.43,230.63h0.55v0.55h-0.55zM371.60,239.12h0.55v0.55h-0.55zM360.44,228.27h0.55v0.55h-0.55zM361.99,218.71h0.55v0.55h-0.55zM377.05,225.54h0.55v0.55h-0.55zM376.48,220.40h0.55v0.55h-0.55zM360.84,219.78h0.55v0.55h-0.55zM377.20,231.80h0.55v0.55h-0.55zM376.94,233.80h0.55v0.55h-0.55zM359.55,225.75h0.55v0.55h-0.55zM374.64,220.24h0.55v0.55h-0.55zM364.65,216.72h0.55v0.55h-0.55zM359.85,221.02h0.55v0.55h-0.55zM376.40,223.51h0.55v0.55h-0.55zM361.73,239.78h0.55v0.55h-0.55zM372.22,215.51h0.55v0.55h-0.55zM359.50,232.60h0.55v0.55h-0.55zM368.59,217.52h0.55v0.55h-0.55zM376.60,231.03h0.55v0.55h-0.55zM376.37,233.45h0.55v0.55h-0.55zM359.69,228.48h0.55v0.55h-0.55zM365.08,217.12h0.55v0.55h-0.55zM363.05,220.01h0.55v0.55h-0.55zM364.21,241.49h0.55v0.55h-0.55zM360.76,234.57h0.55v0.55h-0.55zM373.10,240.73h0.55v0.55h-0.55zM361.23,237.42h0.55v0.55h-0.55zM360.62,237.73h0.55v0.55h-0.55zM369.77,239.49h0.55v0.55h-0.55zM377.30,228.48h0.55v0.55h-0.55zM375.85,239.73h0.55v0.55h-0.55zM360.18,230.74h0.55v0.55h-0.55zM373.21,239.20h0.55v0.55h-0.55zM361.05,234.15h0.55v0.55h-0.55zM375.56,235.51h0.55v0.55h-0.55zM373.10,238.57h0.55v0.55h-0.55zM376.64,229.72h0.55v0.55h-0.55zM358.70,232.10h0.55v0.55h-0.55zM377.80,232.08h0.55v0.55h-0.55zM360.97,234.25h0.55v0.55h-0.55zM376.64,226.10h0.55v0.55h-0.55zM370.30,240.85h0.55v0.55h-0.55zM373.54,238.95h0.55v0.55h-0.55zM361.97,221.16h0.55v0.55h-0.55zM377.12,231.87h0.55v0.55h-0.55zM366.97,218.04h0.55v0.55h-0.55zM357.97,230.97h0.55v0.55h-0.55zM376.35,223.98h0.55v0.55h-0.55zM367.18,240.40h0.55v0.55h-0.55zM372.02,217.80h0.55v0.55h-0.55zM376.71,235.02h0.55v0.55h-0.55zM363.90,217.07h0.55v0.55h-0.55zM377.00,228.54h0.55v0.55h-0.55zM377.40,230.40h0.55v0.55h-0.55zM377.09,230.76h0.55v0.55h-0.55zM378.33,232.52h0.55v0.55h-0.55zM371.97,242.22h0.55v0.55h-0.55zM379.27,226.13h0.55v0.55h-0.55zM376.06,222.99h0.55v0.55h-0.55zM377.37,224.01h0.55v0.55h-0.55zM361.61,222.10h0.55v0.55h-0.55zM377.29,224.55h0.55v0.55h-0.55zM373.76,219.24h0.55v0.55h-0.55zM376.05,236.45h0.55v0.55h-0.55zM364.26,218.39h0.55v0.55h-0.55zM377.02,223.27h0.55v0.55h-0.55zM367.13,215.80h0.55v0.55h-0.55zM374.47,215.87h0.55v0.55h-0.55zM361.63,237.37h0.55v0.55h-0.55zM360.68,233.58h0.55v0.55h-0.55zM357.97,229.78h0.55v0.55h-0.55zM366.94,240.47h0.55v0.55h-0.55zM360.10,220.80h0.55v0.55h-0.55zM365.82,217.16h0.55v0.55h-0.55zM374.27,238.71h0.55v0.55h-0.55zM365.73,216.73h0.55v0.55h-0.55zM368.66,218.11h0.55v0.55h-0.55zM364.10,218.43h0.55v0.55h-0.55zM373.43,219.02h0.55v0.55h-0.55zM361.57,218.53h0.55v0.55h-0.55zM358.55,232.02h0.55v0.55h-0.55zM375.27,221.98h0.55v0.55h-0.55zM361.15,237.17h0.55v0.55h-0.55zM379.25,234.66h0.55v0.55h-0.55zM377.46,236.80h0.55v0.55h-0.55zM360.59,224.14h0.55v0.55h-0.55zM363.03,219.98h0.55v0.55h-0.55zM368.79,240.15h0.55v0.55h-0.55zM362.93,220.30h0.55v0.55h-0.55zM360.38,222.79h0.55v0.55h-0.55zM376.52,226.25h0.55v0.55h-0.55zM370.23,240.90h0.55v0.55h-0.55zM369.97,217.73h0.55v0.55h-0.55zM361.40,222.11h0.55v0.55h-0.55zM372.53,240.80h0.55v0.55h-0.55zM373.57,241.29h0.55v0.55h-0.55zM376.39,236.57h0.55v0.55h-0.55zM377.64,230.00h0.55v0.55h-0.55zM375.21,221.73h0.55v0.55h-0.55zM376.96,234.49h0.55v0.55h-0.55zM372.48,219.01h0.55v0.55h-0.55zM360.84,220.59h0.55v0.55h-0.55zM375.77,218.97h0.55v0.55h-0.55zM362.30,238.43h0.55v0.55h-0.55zM376.13,236.16h0.55v0.55h-0.55zM373.93,216.90h0.55v0.55h-0.55zM371.21,240.85h0.55v0.55h-0.55zM358.45,225.40h0.55v0.55h-0.55zM376.65,233.57h0.55v0.55h-0.55zM362.75,237.63h0.55v0.55h-0.55zM360.76,225.27h0.55v0.55h-0.55zM367.25,216.12h0.55v0.55h-0.55zM360.98,221.60h0.55v0.55h-0.55zM371.01,242.82h0.55v0.55h-0.55zM361.31,242.04h0.55v0.55h-0.55zM359.89,232.86h0.55v0.55h-0.55zM373.26,238.47h0.55v0.55h-0.55zM376.41,223.80h0.55v0.55h-0.55zM379.72,227.15h0.55v0.55h-0.55zM360.65,220.71h0.55v0.55h-0.55zM360.20,233.60h0.55v0.55h-0.55zM379.28,223.86h0.55v0.55h-0.55zM358.45,229.45h0.55v0.55h-0.55zM370.11,213.09h0.55v0.55h-0.55zM378.46,221.66h0.55v0.55h-0.55zM365.58,239.77h0.55v0.55h-0.55zM376.06,234.70h0.55v0.55h-0.55zM366.67,217.99h0.55v0.55h-0.55zM361.72,219.12h0.55v0.55h-0.55zM376.58,230.88h0.55v0.55h-0.55zM359.59,232.91h0.55v0.55h-0.55zM363.10,237.20h0.55v0.55h-0.55zM365.44,241.96h0.55v0.55h-0.55zM375.93,235.24h0.55v0.55h-0.55zM377.57,234.17h0.55v0.55h-0.55zM373.67,237.59h0.55v0.55h-0.55zM378.92,226.41h0.55v0.55h-0.55zM377.59,226.87h0.55v0.55h-0.55zM373.78,238.90h0.55v0.55h-0.55zM364.00,240.41h0.55v0.55h-0.55zM360.31,225.77h0.55v0.55h-0.55zM362.03,237.15h0.55v0.55h-0.55zM359.56,230.71h0.55v0.55h-0.55zM375.18,221.18h0.55v0.55h-0.55zM368.68,240.63h0.55v0.55h-0.55zM371.50,217.82h0.55v0.55h-0.55zM360.58,226.53h0.55v0.55h-0.55zM360.43,226.20h0.55v0.55h-0.55zM370.98,239.33h0.55v0.55h-0.55zM369.80,213.35h0.55v0.55h-0.55zM370.29,217.41h0.55v0.55h-0.55zM377.49,226.86h0.55v0.55h-0.55zM376.83,229.15h0.55v0.55h-0.55zM360.48,232.43h0.55v0.55h-0.55zM360.36,225.54h0.55v0.55h-0.55zM376.16,234.60h0.55v0.55h-0.55zM371.32,217.43h0.55v0.55h-0.55zM360.90,233.18h0.55v0.55h-0.55zM360.34,232.71h0.55v0.55h-0.55zM361.38,219.98h0.55v0.55h-0.55zM372.45,215.27h0.55v0.55h-0.55zM368.38,241.28h0.55v0.55h-0.55zM370.79,216.20h0.55v0.55h-0.55zM359.64,227.74h0.55v0.55h-0.55zM366.18,241.01h0.55v0.55h-0.55zM374.00,240.55h0.55v0.55h-0.55zM375.34,221.91h0.55v0.55h-0.55zM377.38,221.04h0.55v0.55h-0.55zM376.36,223.65h0.55v0.55h-0.55zM372.11,217.44h0.55v0.55h-0.55zM359.67,227.13h0.55v0.55h-0.55zM373.18,239.15h0.55v0.55h-0.55zM378.75,227.68h0.55v0.55h-0.55zM359.66,225.22h0.55v0.55h-0.55zM359.80,231.19h0.55v0.55h-0.55zM372.28,214.33h0.55v0.55h-0.55zM374.18,238.75h0.55v0.55h-0.55zM363.93,239.99h0.55v0.55h-0.55zM373.53,219.75h0.55v0.55h-0.55zM373.23,217.08h0.55v0.55h-0.55zM377.50,230.44h0.55v0.55h-0.55zM359.64,223.18h0.55v0.55h-0.55zM366.40,239.52h0.55v0.55h-0.55zM365.94,218.05h0.55v0.55h-0.55zM363.93,219.29h0.55v0.55h-0.55zM359.70,238.83h0.55v0.55h-0.55zM376.68,225.75h0.55v0.55h-0.55zM362.31,219.49h0.55v0.55h-0.55zM373.68,242.32h0.55v0.55h-0.55zM361.24,235.72h0.55v0.55h-0.55zM366.84,240.45h0.55v0.55h-0.55zM377.51,224.72h0.55v0.55h-0.55zM361.09,235.03h0.55v0.55h-0.55zM366.22,239.80h0.55v0.55h-0.55zM377.39,226.94h0.55v0.55h-0.55zM376.20,233.45h0.55v0.55h-0.55zM377.06,234.02h0.55v0.55h-0.55zM360.48,226.78h0.55v0.55h-0.55zM360.57,218.55h0.55v0.55h-0.55zM372.32,217.55h0.55v0.55h-0.55zM376.43,225.88h0.55v0.55h-0.55zM376.44,232.84h0.55v0.55h-0.55zM366.97,241.23h0.55v0.55h-0.55zM359.76,225.32h0.55v0.55h-0.55zM376.68,225.56h0.55v0.55h-0.55zM374.53,237.85h0.55v0.55h-0.55zM377.12,227.82h0.55v0.55h-0.55zM364.15,218.96h0.55v0.55h-0.55zM377.12,232.07h0.55v0.55h-0.55zM368.73,217.87h0.55v0.55h-0.55zM372.44,218.09h0.55v0.55h-0.55zM377.21,217.62h0.55v0.55h-0.55zM359.56,226.03h0.55v0.55h-0.55zM360.82,236.25h0.55v0.55h-0.55zM377.53,227.43h0.55v0.55h-0.55zM366.34,239.55h0.55v0.55h-0.55zM375.19,236.77h0.55v0.55h-0.55zM362.51,237.28h0.55v0.55h-0.55zM371.64,238.96h0.55v0.55h-0.55zM380.29,222.57h0.55v0.55h-0.55zM368.43,239.14h0.55v0.55h-0.55zM361.65,238.37h0.55v0.55h-0.55zM365.63,218.23h0.55v0.55h-0.55zM364.10,239.85h0.55v0.55h-0.55zM368.10,218.21h0.55v0.55h-0.55zM370.21,216.60h0.55v0.55h-0.55zM360.01,225.93h0.55v0.55h-0.55zM357.98,232.89h0.55v0.55h-0.55zM371.25,239.53h0.55v0.55h-0.55zM359.27,221.19h0.55v0.55h-0.55zM372.80,239.77h0.55v0.55h-0.55zM376.91,225.89h0.55v0.55h-0.55zM367.21,239.98h0.55v0.55h-0.55zM372.28,243.93h0.55v0.55h-0.55zM359.87,234.62h0.55v0.55h-0.55zM374.44,220.70h0.55v0.55h-0.55zM374.31,220.58h0.55v0.55h-0.55zM371.20,215.80h0.55v0.55h-0.55zM360.48,226.84h0.55v0.55h-0.55zM369.21,216.47h0.55v0.55h-0.55zM359.66,232.21h0.55v0.55h-0.55zM374.63,238.28h0.55v0.55h-0.55zM359.77,227.90h0.55v0.55h-0.55zM361.60,236.26h0.55v0.55h-0.55zM360.61,221.69h0.55v0.55h-0.55zM379.40,226.67h0.55v0.55h-0.55zM373.30,218.14h0.55v0.55h-0.55zM365.82,240.26h0.55v0.55h-0.55zM374.98,236.13h0.55v0.55h-0.55zM360.37,228.25h0.55v0.55h-0.55zM362.25,219.20h0.55v0.55h-0.55zM366.00,240.90h0.55v0.55h-0.55zM360.15,229.63h0.55v0.55h-0.55zM357.67,225.81h0.55v0.55h-0.55zM357.64,226.04h0.55v0.55h-0.55zM360.23,231.93h0.55v0.55h-0.55zM360.46,232.93h0.55v0.55h-0.55zM373.28,219.75h0.55v0.55h-0.55zM373.89,219.57h0.55v0.55h-0.55zM360.55,236.37h0.55v0.55h-0.55zM370.27,239.14h0.55v0.55h-0.55zM359.66,225.11h0.55v0.55h-0.55zM374.88,219.62h0.55v0.55h-0.55zM365.99,217.74h0.55v0.55h-0.55zM359.59,227.96h0.55v0.55h-0.55zM360.00,235.44h0.55v0.55h-0.55zM375.61,219.55h0.55v0.55h-0.55zM360.74,223.12h0.55v0.55h-0.55zM361.50,236.64h0.55v0.55h-0.55zM361.74,221.60h0.55v0.55h-0.55zM364.09,238.51h0.55v0.55h-0.55zM365.91,241.19h0.55v0.55h-0.55zM376.10,223.26h0.55v0.55h-0.55zM360.44,226.29h0.55v0.55h-0.55zM374.38,216.41h0.55v0.55h-0.55zM377.56,221.57h0.55v0.55h-0.55zM375.62,236.61h0.55v0.55h-0.55zM375.56,220.12h0.55v0.55h-0.55zM375.93,220.77h0.55v0.55h-0.55zM365.86,240.06h0.55v0.55h-0.55zM359.46,220.91h0.55v0.55h-0.55zM377.31,234.65h0.55v0.55h-0.55zM376.86,228.78h0.55v0.55h-0.55zM372.77,218.81h0.55v0.55h-0.55zM360.66,235.79h0.55v0.55h-0.55zM358.69,227.47h0.55v0.55h-0.55zM363.24,219.07h0.55v0.55h-0.55zM357.44,233.69h0.55v0.55h-0.55zM364.28,216.32h0.55v0.55h-0.55zM378.29,235.21h0.55v0.55h-0.55zM377.51,227.73h0.55v0.55h-0.55zM378.04,233.43h0.55v0.55h-0.55zM360.77,232.98h0.55v0.55h-0.55zM375.60,221.46h0.55v0.55h-0.55zM359.82,233.85h0.55v0.55h-0.55zM360.61,223.15h0.55v0.55h-0.55zM360.93,235.25h0.55v0.55h-0.55zM376.09,234.10h0.55v0.55h-0.55zM376.31,224.15h0.55v0.55h-0.55zM360.05,226.85h0.55v0.55h-0.55zM369.25,239.41h0.55v0.55h-0.55zM359.36,230.38h0.55v0.55h-0.55zM365.89,240.66h0.55v0.55h-0.55zM377.55,227.05h0.55v0.55h-0.55zM371.46,240.81h0.55v0.55h-0.55zM365.26,239.33h0.55v0.55h-0.55zM360.19,226.39h0.55v0.55h-0.55zM361.03,220.34h0.55v0.55h-0.55zM377.37,221.41h0.55v0.55h-0.55zM373.73,220.14h0.55v0.55h-0.55zM377.42,232.61h0.55v0.55h-0.55zM360.37,232.46h0.55v0.55h-0.55zM374.94,219.96h0.55v0.55h-0.55zM370.53,241.02h0.55v0.55h-0.55zM377.66,238.77h0.55v0.55h-0.55zM376.37,222.47h0.55v0.55h-0.55zM372.10,239.24h0.55v0.55h-0.55zM378.12,231.13h0.55v0.55h-0.55zM373.41,219.97h0.55v0.55h-0.55zM373.31,217.77h0.55v0.55h-0.55zM361.12,235.30h0.55v0.55h-0.55zM372.30,238.22h0.55v0.55h-0.55zM364.91,217.66h0.55v0.55h-0.55zM362.89,238.16h0.55v0.55h-0.55zM359.98,232.00h0.55v0.55h-0.55zM360.90,224.57h0.55v0.55h-0.55zM370.76,242.03h0.55v0.55h-0.55zM363.85,218.84h0.55v0.55h-0.55zM368.26,217.69h0.55v0.55h-0.55zM359.76,236.12h0.55v0.55h-0.55zM362.13,220.83h0.55v0.55h-0.55zM358.26,232.76h0.55v0.55h-0.55zM374.40,219.39h0.55v0.55h-0.55zM359.48,228.94h0.55v0.55h-0.55zM375.69,221.75h0.55v0.55h-0.55zM364.72,218.66h0.55v0.55h-0.55zM379.41,227.14h0.55v0.55h-0.55zM362.03,238.90h0.55v0.55h-0.55zM372.27,238.31h0.55v0.55h-0.55zM366.20,217.09h0.55v0.55h-0.55zM359.47,222.33h0.55v0.55h-0.55zM377.96,237.57h0.55v0.55h-0.55zM359.99,229.66h0.55v0.55h-0.55zM359.68,225.76h0.55v0.55h-0.55zM359.30,228.78h0.55v0.55h-0.55zM360.87,223.33h0.55v0.55h-0.55zM376.62,234.94h0.55v0.55h-0.55zM368.88,216.91h0.55v0.55h-0.55zM375.34,221.50h0.55v0.55h-0.55zM378.30,217.71h0.55v0.55h-0.55zM373.33,218.18h0.55v0.55h-0.55zM368.10,218.36h0.55v0.55h-0.55zM364.48,219.16h0.55v0.55h-0.55zM367.32,217.24h0.55v0.55h-0.55zM359.74,223.81h0.55v0.55h-0.55zM368.21,239.86h0.55v0.55h-0.55zM360.17,236.62h0.55v0.55h-0.55zM376.41,236.30h0.55v0.55h-0.55zM366.82,218.03h0.55v0.55h-0.55zM373.00,239.03h0.55v0.55h-0.55zM360.56,234.17h0.55v0.55h-0.55zM360.79,223.74h0.55v0.55h-0.55zM360.18,229.36h0.55v0.55h-0.55zM371.29,239.94h0.55v0.55h-0.55zM375.59,234.72h0.55v0.55h-0.55zM358.14,225.44h0.55v0.55h-0.55zM359.21,227.26h0.55v0.55h-0.55zM360.40,235.24h0.55v0.55h-0.55zM364.44,238.72h0.55v0.55h-0.55zM378.85,223.45h0.55v0.55h-0.55zM358.11,230.06h0.55v0.55h-0.55zM360.43,232.35h0.55v0.55h-0.55zM373.60,243.33h0.55v0.55h-0.55zM360.16,223.73h0.55v0.55h-0.55zM369.76,239.07h0.55v0.55h-0.55zM377.19,227.32h0.55v0.55h-0.55zM377.43,220.67h0.55v0.55h-0.55zM376.30,235.13h0.55v0.55h-0.55zM370.04,242.22h0.55v0.55h-0.55zM359.26,231.23h0.55v0.55h-0.55zM368.87,218.15h0.55v0.55h-0.55zM373.30,238.54h0.55v0.55h-0.55zM359.54,227.73h0.55v0.55h-0.55zM360.78,237.37h0.55v0.55h-0.55zM358.78,228.01h0.55v0.55h-0.55zM364.01,216.39h0.55v0.55h-0.55zM367.71,240.60h0.55v0.55h-0.55zM359.53,225.38h0.55v0.55h-0.55zM377.30,231.54h0.55v0.55h-0.55zM373.08,238.79h0.55v0.55h-0.55zM368.67,217.42h0.55v0.55h-0.55zM357.83,227.92h0.55v0.55h-0.55zM366.89,217.51h0.55v0.55h-0.55zM360.67,237.49h0.55v0.55h-0.55zM367.96,217.80h0.55v0.55h-0.55zM376.02,223.30h0.55v0.55h-0.55zM377.40,226.96h0.55v0.55h-0.55zM367.48,215.44h0.55v0.55h-0.55zM373.89,237.49h0.55v0.55h-0.55zM359.79,225.47h0.55v0.55h-0.55zM374.27,239.79h0.55v0.55h-0.55zM375.98,238.98h0.55v0.55h-0.55zM375.90,239.05h0.55v0.55h-0.55zM379.01,228.87h0.55v0.55h-0.55zM360.42,235.83h0.55v0.55h-0.55zM358.55,231.56h0.55v0.55h-0.55zM367.44,239.07h0.55v0.55h-0.55zM365.28,217.45h0.55v0.55h-0.55zM365.55,218.92h0.55v0.55h-0.55zM373.66,240.19h0.55v0.55h-0.55zM363.77,238.14h0.55v0.55h-0.55zM378.72,226.02h0.55v0.55h-0.55zM360.25,236.24h0.55v0.55h-0.55zM371.90,216.23h0.55v0.55h-0.55zM363.63,238.64h0.55v0.55h-0.55zM370.13,242.46h0.55v0.55h-0.55zM362.65,237.91h0.55v0.55h-0.55zM369.43,239.80h0.55v0.55h-0.55zM364.42,238.50h0.55v0.55h-0.55zM359.34,223.14h0.55v0.55h-0.55zM365.79,239.41h0.55v0.55h-0.55zM378.03,230.13h0.55v0.55h-0.55zM371.35,238.95h0.55v0.55h-0.55zM360.80,224.25h0.55v0.55h-0.55zM359.60,220.78h0.55v0.55h-0.55zM363.75,219.72h0.55v0.55h-0.55zM359.11,233.65h0.55v0.55h-0.55zM363.95,241.37h0.55v0.55h-0.55zM359.52,228.29h0.55v0.55h-0.55zM377.25,236.05h0.55v0.55h-0.55zM361.68,220.73h0.55v0.55h-0.55zM356.74,233.80h0.55v0.55h-0.55zM375.22,243.00h0.55v0.55h-0.55zM361.74,236.83h0.55v0.55h-0.55zM360.51,228.33h0.55v0.55h-0.55zM360.44,229.48h0.55v0.55h-0.55zM357.90,235.59h0.55v0.55h-0.55zM376.76,229.04h0.55v0.55h-0.55zM366.04,218.74h0.55v0.55h-0.55zM374.45,220.34h0.55v0.55h-0.55zM364.30,219.20h0.55v0.55h-0.55zM364.67,239.95h0.55v0.55h-0.55zM365.05,238.63h0.55v0.55h-0.55zM374.82,236.93h0.55v0.55h-0.55zM376.88,225.95h0.55v0.55h-0.55zM377.52,231.42h0.55v0.55h-0.55zM376.21,233.78h0.55v0.55h-0.55zM367.84,215.32h0.55v0.55h-0.55zM360.06,227.79h0.55v0.55h-0.55zM361.19,219.41h0.55v0.55h-0.55zM359.47,227.49h0.55v0.55h-0.55zM376.97,225.79h0.55v0.55h-0.55zM364.46,219.44h0.55v0.55h-0.55zM377.89,222.56h0.55v0.55h-0.55zM359.88,224.36h0.55v0.55h-0.55zM359.85,236.38h0.55v0.55h-0.55zM377.06,230.22h0.55v0.55h-0.55zM365.07,238.45h0.55v0.55h-0.55zM359.36,230.08h0.55v0.55h-0.55zM367.75,240.83h0.55v0.55h-0.55zM367.80,216.35h0.55v0.55h-0.55zM377.36,225.29h0.55v0.55h-0.55zM363.45,237.54h0.55v0.55h-0.55zM376.53,232.09h0.55v0.55h-0.55zM360.38,220.54h0.55v0.55h-0.55zM368.70,239.42h0.55v0.55h-0.55zM372.56,239.02h0.55v0.55h-0.55zM360.42,228.22h0.55v0.55h-0.55zM358.13,223.16h0.55v0.55h-0.55zM363.15,237.69h0.55v0.55h-0.55zM367.29,218.28h0.55v0.55h-0.55zM368.27,216.46h0.55v0.55h-0.55zM366.63,241.32h0.55v0.55h-0.55zM369.98,239.14h0.55v0.55h-0.55zM361.01,221.63h0.55v0.55h-0.55zM362.93,220.56h0.55v0.55h-0.55zM369.13,217.55h0.55v0.55h-0.55zM359.24,229.76h0.55v0.55h-0.55zM359.56,232.89h0.55v0.55h-0.55zM371.67,240.96h0.55v0.55h-0.55zM366.09,217.07h0.55v0.55h-0.55zM376.64,222.39h0.55v0.55h-0.55zM371.86,215.07h0.55v0.55h-0.55zM366.08,217.73h0.55v0.55h-0.55zM369.62,218.32h0.55v0.55h-0.55zM376.50,221.11h0.55v0.55h-0.55zM377.64,224.44h0.55v0.55h-0.55zM365.18,241.21h0.55v0.55h-0.55zM358.26,233.38h0.55v0.55h-0.55zM374.36,237.71h0.55v0.55h-0.55zM358.31,234.52h0.55v0.55h-0.55zM363.11,242.05h0.55v0.55h-0.55zM367.94,240.64h0.55v0.55h-0.55zM377.92,229.63h0.55v0.55h-0.55zM361.33,235.41h0.55v0.55h-0.55zM376.63,226.78h0.55v0.55h-0.55zM375.36,221.08h0.55v0.55h-0.55zM368.58,239.88h0.55v0.55h-0.55zM369.90,243.71h0.55v0.55h-0.55zM375.83,221.84h0.55v0.55h-0.55zM370.43,240.41h0.55v0.55h-0.55zM359.39,225.46h0.55v0.55h-0.55zM359.99,227.85h0.55v0.55h-0.55zM364.89,240.86h0.55v0.55h-0.55zM368.42,214.72h0.55v0.55h-0.55zM372.35,217.83h0.55v0.55h-0.55zM371.02,239.42h0.55v0.55h-0.55zM375.58,241.12h0.55v0.55h-0.55zM376.21,222.63h0.55v0.55h-0.55zM359.78,224.51h0.55v0.55h-0.55zM377.51,232.36h0.55v0.55h-0.55zM375.47,222.43h0.55v0.55h-0.55zM377.45,224.42h0.55v0.55h-0.55zM371.44,240.23h0.55v0.55h-0.55zM363.62,219.17h0.55v0.55h-0.55zM376.49,236.08h0.55v0.55h-0.55zM362.60,238.04h0.55v0.55h-0.55zM362.93,219.21h0.55v0.55h-0.55zM375.32,236.63h0.55v0.55h-0.55zM358.45,222.38h0.55v0.55h-0.55zM362.93,237.62h0.55v0.55h-0.55zM372.92,238.40h0.55v0.55h-0.55zM364.23,238.85h0.55v0.55h-0.55zM359.66,225.49h0.55v0.55h-0.55zM365.69,239.62h0.55v0.55h-0.55zM360.21,229.10h0.55v0.55h-0.55zM369.33,216.45h0.55v0.55h-0.55zM359.84,229.38h0.55v0.55h-0.55zM373.63,219.18h0.55v0.55h-0.55zM359.19,229.69h0.55v0.55h-0.55zM373.93,218.50h0.55v0.55h-0.55zM361.27,236.46h0.55v0.55h-0.55zM377.76,229.07h0.55v0.55h-0.55zM359.10,225.18h0.55v0.55h-0.55zM360.34,231.22h0.55v0.55h-0.55zM360.29,229.94h0.55v0.55h-0.55zM377.51,227.01h0.55v0.55h-0.55zM375.68,236.07h0.55v0.55h-0.55zM370.80,217.76h0.55v0.55h-0.55zM367.48,241.20h0.55v0.55h-0.55zM373.34,218.58h0.55v0.55h-0.55zM374.99,216.55h0.55v0.55h-0.55zM379.49,232.93h0.55v0.55h-0.55zM360.30,237.18h0.55v0.55h-0.55zM359.05,231.70h0.55v0.55h-0.55zM367.83,216.49h0.55v0.55h-0.55zM362.01,213.50h0.55v0.55h-0.55zM374.85,220.45h0.55v0.55h-0.55zM375.11,221.63h0.55v0.55h-0.55zM378.15,235.88h0.55v0.55h-0.55zM366.16,240.72h0.55v0.55h-0.55zM363.28,218.82h0.55v0.55h-0.55zM366.38,218.45h0.55v0.55h-0.55zM380.27,231.74h0.55v0.55h-0.55zM370.31,239.23h0.55v0.55h-0.55zM365.84,218.73h0.55v0.55h-0.55zM369.29,215.82h0.55v0.55h-0.55zM365.20,217.80h0.55v0.55h-0.55zM360.58,226.20h0.55v0.55h-0.55zM376.88,226.33h0.55v0.55h-0.55zM376.22,238.19h0.55v0.55h-0.55zM374.27,217.99h0.55v0.55h-0.55zM363.84,219.00h0.55v0.55h-0.55zM374.57,237.02h0.55v0.55h-0.55zM375.63,217.62h0.55v0.55h-0.55zM366.41,238.91h0.55v0.55h-0.55zM376.01,221.54h0.55v0.55h-0.55zM359.33,232.60h0.55v0.55h-0.55zM365.16,217.57h0.55v0.55h-0.55zM363.83,239.63h0.55v0.55h-0.55zM370.00,215.73h0.55v0.55h-0.55zM364.63,242.53h0.55v0.55h-0.55zM366.94,216.64h0.55v0.55h-0.55zM358.87,220.88h0.55v0.55h-0.55zM358.74,233.51h0.55v0.55h-0.55zM370.39,240.44h0.55v0.55h-0.55zM360.99,222.04h0.55v0.55h-0.55zM360.87,238.20h0.55v0.55h-0.55zM359.84,230.96h0.55v0.55h-0.55zM362.81,218.22h0.55v0.55h-0.55zM359.30,228.62h0.55v0.55h-0.55zM357.88,226.52h0.55v0.55h-0.55zM371.58,238.77h0.55v0.55h-0.55zM370.28,217.43h0.55v0.55h-0.55zM378.99,234.58h0.55v0.55h-0.55zM358.34,229.40h0.55v0.55h-0.55zM371.21,239.85h0.55v0.55h-0.55zM367.38,240.71h0.55v0.55h-0.55zM359.88,223.16h0.55v0.55h-0.55zM377.05,228.33h0.55v0.55h-0.55zM377.27,225.35h0.55v0.55h-0.55zM359.44,231.31h0.55v0.55h-0.55zM363.44,219.47h0.55v0.55h-0.55zM371.54,218.84h0.55v0.55h-0.55zM360.58,231.90h0.55v0.55h-0.55zM358.02,229.15h0.55v0.55h-0.55zM364.07,238.88h0.55v0.55h-0.55zM365.34,240.42h0.55v0.55h-0.55zM359.14,228.54h0.55v0.55h-0.55zM374.70,218.92h0.55v0.55h-0.55zM376.49,232.50h0.55v0.55h-0.55zM359.68,224.82h0.55v0.55h-0.55zM362.16,238.48h0.55v0.55h-0.55zM377.50,228.78h0.55v0.55h-0.55zM375.95,234.44h0.55v0.55h-0.55zM374.04,218.97h0.55v0.55h-0.55zM366.02,218.09h0.55v0.55h-0.55zM361.11,218.85h0.55v0.55h-0.55zM369.56,240.30h0.55v0.55h-0.55zM377.39,228.12h0.55v0.55h-0.55zM368.26,240.32h0.55v0.55h-0.55zM374.46,219.59h0.55v0.55h-0.55zM375.00,239.22h0.55v0.55h-0.55zM360.63,232.61h0.55v0.55h-0.55zM376.24,223.15h0.55v0.55h-0.55zM374.20,217.33h0.55v0.55h-0.55zM361.40,220.97h0.55v0.55h-0.55zM376.63,226.72h0.55v0.55h-0.55zM375.90,237.20h0.55v0.55h-0.55zM372.25,238.55h0.55v0.55h-0.55zM367.87,217.65h0.55v0.55h-0.55zM359.82,235.87h0.55v0.55h-0.55zM364.26,217.17h0.55v0.55h-0.55zM373.81,218.53h0.55v0.55h-0.55zM361.99,236.26h0.55v0.55h-0.55zM359.37,233.27h0.55v0.55h-0.55zM367.50,215.11h0.55v0.55h-0.55zM376.38,223.65h0.55v0.55h-0.55zM359.25,227.78h0.55v0.55h-0.55zM368.12,217.72h0.55v0.55h-0.55zM361.82,237.98h0.55v0.55h-0.55zM361.72,221.58h0.55v0.55h-0.55zM379.84,228.31h0.55v0.55h-0.55zM362.65,219.41h0.55v0.55h-0.55zM360.96,224.26h0.55v0.55h-0.55zM357.54,230.37h0.55v0.55h-0.55zM360.70,222.94h0.55v0.55h-0.55zM374.76,220.18h0.55v0.55h-0.55zM372.57,218.53h0.55v0.55h-0.55zM373.94,216.54h0.55v0.55h-0.55zM361.37,234.81h0.55v0.55h-0.55zM370.89,239.60h0.55v0.55h-0.55zM368.62,217.36h0.55v0.55h-0.55zM360.53,223.73h0.55v0.55h-0.55zM364.78,240.00h0.55v0.55h-0.55zM376.05,221.94h0.55v0.55h-0.55zM359.76,224.30h0.55v0.55h-0.55zM359.62,232.65h0.55v0.55h-0.55zM365.84,240.59h0.55v0.55h-0.55zM378.50,226.73h0.55v0.55h-0.55zM366.27,241.04h0.55v0.55h-0.55zM371.52,239.04h0.55v0.55h-0.55zM361.76,217.43h0.55v0.55h-0.55zM370.38,239.35h0.55v0.55h-0.55zM360.67,237.39h0.55v0.55h-0.55zM359.62,221.95h0.55v0.55h-0.55zM368.29,217.57h0.55v0.55h-0.55zM378.10,227.03h0.55v0.55h-0.55zM377.47,224.39h0.55v0.55h-0.55zM362.11,217.42h0.55v0.55h-0.55zM378.07,230.63h0.55v0.55h-0.55zM370.86,216.83h0.55v0.55h-0.55zM364.25,239.95h0.55v0.55h-0.55zM361.21,220.62h0.55v0.55h-0.55zM367.69,240.74h0.55v0.55h-0.55zM376.54,223.78h0.55v0.55h-0.55zM368.51,216.43h0.55v0.55h-0.55zM360.97,235.86h0.55v0.55h-0.55zM373.78,220.10h0.55v0.55h-0.55zM368.94,218.37h0.55v0.55h-0.55zM372.14,218.29h0.55v0.55h-0.55zM378.29,229.20h0.55v0.55h-0.55zM377.10,232.41h0.55v0.55h-0.55zM359.40,233.88h0.55v0.55h-0.55zM364.03,239.80h0.55v0.55h-0.55zM372.44,216.59h0.55v0.55h-0.55zM359.07,236.06h0.55v0.55h-0.55zM376.67,233.61h0.55v0.55h-0.55zM368.02,239.15h0.55v0.55h-0.55zM369.51,216.68h0.55v0.55h-0.55zM374.61,219.03h0.55v0.55h-0.55zM360.16,222.27h0.55v0.55h-0.55zM373.20,216.80h0.55v0.55h-0.55zM360.38,223.26h0.55v0.55h-0.55zM360.28,234.46h0.55v0.55h-0.55zM376.65,227.79h0.55v0.55h-0.55zM371.28,238.67h0.55v0.55h-0.55zM369.66,239.36h0.55v0.55h-0.55zM373.29,239.15h0.55v0.55h-0.55zM369.25,215.91h0.55v0.55h-0.55zM357.06,232.09h0.55v0.55h-0.55zM375.57,221.85h0.55v0.55h-0.55zM370.31,217.37h0.55v0.55h-0.55zM360.91,233.41h0.55v0.55h-0.55zM365.64,218.32h0.55v0.55h-0.55zM360.06,224.41h0.55v0.55h-0.55zM372.25,242.17h0.55v0.55h-0.55zM359.47,232.04h0.55v0.55h-0.55zM375.34,220.83h0.55v0.55h-0.55zM359.91,228.30h0.55v0.55h-0.55zM362.50,219.68h0.55v0.55h-0.55zM366.55,239.37h0.55v0.55h-0.55zM374.41,220.37h0.55v0.55h-0.55zM361.82,221.04h0.55v0.55h-0.55zM377.53,233.42h0.55v0.55h-0.55zM372.72,238.35h0.55v0.55h-0.55zM375.50,235.46h0.55v0.55h-0.55zM370.37,215.85h0.55v0.55h-0.55zM373.93,217.24h0.55v0.55h-0.55zM359.31,224.51h0.55v0.55h-0.55zM359.35,224.35h0.55v0.55h-0.55zM360.21,233.06h0.55v0.55h-0.55zM368.22,239.16h0.55v0.55h-0.55zM357.72,231.41h0.55v0.55h-0.55zM358.71,222.45h0.55v0.55h-0.55zM367.64,217.42h0.55v0.55h-0.55zM375.35,220.95h0.55v0.55h-0.55zM376.44,225.67h0.55v0.55h-0.55zM371.11,217.73h0.55v0.55h-0.55zM375.30,221.33h0.55v0.55h-0.55zM360.50,221.49h0.55v0.55h-0.55zM375.30,235.59h0.55v0.55h-0.55zM367.87,216.52h0.55v0.55h-0.55zM376.20,234.20h0.55v0.55h-0.55zM376.62,226.38h0.55v0.55h-0.55zM369.05,240.60h0.55v0.55h-0.55zM378.88,224.58h0.55v0.55h-0.55zM360.11,230.11h0.55v0.55h-0.55zM373.17,218.04h0.55v0.55h-0.55zM376.67,236.47h0.55v0.55h-0.55zM377.73,232.92h0.55v0.55h-0.55zM376.37,224.57h0.55v0.55h-0.55zM367.65,239.68h0.55v0.55h-0.55zM377.08,230.12h0.55v0.55h-0.55zM378.99,227.38h0.55v0.55h-0.55zM361.40,219.59h0.55v0.55h-0.55zM365.86,216.00h0.55v0.55h-0.55zM361.70,235.13h0.55v0.55h-0.55zM359.93,225.33h0.55v0.55h-0.55zM370.85,238.90h0.55v0.55h-0.55zM360.03,223.05h0.55v0.55h-0.55zM360.18,225.45h0.55v0.55h-0.55zM367.82,239.85h0.55v0.55h-0.55zM364.86,218.56h0.55v0.55h-0.55zM378.67,225.53h0.55v0.55h-0.55zM359.89,236.52h0.55v0.55h-0.55zM376.68,224.64h0.55v0.55h-0.55zM360.57,226.80h0.55v0.55h-0.55zM372.23,241.59h0.55v0.55h-0.55zM359.16,227.09h0.55v0.55h-0.55zM363.27,219.12h0.55v0.55h-0.55zM376.19,222.23h0.55v0.55h-0.55zM375.92,239.84h0.55v0.55h-0.55zM365.03,215.93h0.55v0.55h-0.55zM379.28,228.51h0.55v0.55h-0.55zM373.36,239.82h0.55v0.55h-0.55zM365.84,218.55h0.55v0.55h-0.55zM360.35,222.26h0.55v0.55h-0.55zM360.04,224.33h0.55v0.55h-0.55zM379.26,227.08h0.55v0.55h-0.55zM365.01,239.10h0.55v0.55h-0.55zM365.73,216.36h0.55v0.55h-0.55zM375.77,219.85h0.55v0.55h-0.55zM378.06,234.69h0.55v0.55h-0.55zM367.61,239.55h0.55v0.55h-0.55zM359.64,230.61h0.55v0.55h-0.55zM373.13,218.83h0.55v0.55h-0.55zM366.03,218.01h0.55v0.55h-0.55zM375.95,235.70h0.55v0.55h-0.55zM359.97,237.51h0.55v0.55h-0.55zM365.48,238.59h0.55v0.55h-0.55zM367.45,217.16h0.55v0.55h-0.55zM370.36,217.76h0.55v0.55h-0.55zM376.99,233.49h0.55v0.55h-0.55zM377.09,231.18h0.55v0.55h-0.55zM358.49,229.87h0.55v0.55h-0.55zM361.79,235.85h0.55v0.55h-0.55zM376.12,223.85h0.55v0.55h-0.55zM377.49,228.63h0.55v0.55h-0.55zM376.99,225.67h0.55v0.55h-0.55zM372.49,238.69h0.55v0.55h-0.55zM365.42,218.15h0.55v0.55h-0.55zM363.89,218.00h0.55v0.55h-0.55zM361.46,238.95h0.55v0.55h-0.55zM371.33,214.90h0.55v0.55h-0.55zM361.83,220.46h0.55v0.55h-0.55zM362.32,219.86h0.55v0.55h-0.55zM362.35,218.89h0.55v0.55h-0.55zM368.29,217.30h0.55v0.55h-0.55zM371.12,240.04h0.55v0.55h-0.55zM380.83,231.73h0.55v0.55h-0.55zM368.07,239.85h0.55v0.55h-0.55zM371.80,218.92h0.55v0.55h-0.55zM359.54,222.59h0.55v0.55h-0.55zM377.55,228.83h0.55v0.55h-0.55zM374.02,218.75h0.55v0.55h-0.55zM377.99,219.62h0.55v0.55h-0.55zM374.84,237.39h0.55v0.55h-0.55zM368.64,217.80h0.55v0.55h-0.55zM376.34,234.88h0.55v0.55h-0.55zM373.96,219.93h0.55v0.55h-0.55zM368.38,240.00h0.55v0.55h-0.55zM359.44,224.80h0.55v0.55h-0.55zM359.84,234.30h0.55v0.55h-0.55zM360.05,229.77h0.55v0.55h-0.55zM373.90,220.37h0.55v0.55h-0.55zM373.22,218.44h0.55v0.55h-0.55zM363.57,240.74h0.55v0.55h-0.55zM360.72,237.38h0.55v0.55h-0.55zM362.35,240.37h0.55v0.55h-0.55zM358.89,232.46h0.55v0.55h-0.55zM363.00,237.70h0.55v0.55h-0.55zM375.09,220.04h0.55v0.55h-0.55zM376.12,238.36h0.55v0.55h-0.55zM359.90,227.03h0.55v0.55h-0.55zM359.76,228.15h0.55v0.55h-0.55zM372.21,218.38h0.55v0.55h-0.55zM376.06,221.26h0.55v0.55h-0.55zM375.98,222.64h0.55v0.55h-0.55zM371.31,240.07h0.55v0.55h-0.55zM373.45,217.24h0.55v0.55h-0.55zM358.19,222.52h0.55v0.55h-0.55zM375.14,240.57h0.55v0.55h-0.55zM361.57,240.05h0.55v0.55h-0.55zM368.51,218.17h0.55v0.55h-0.55zM377.05,233.69h0.55v0.55h-0.55zM377.89,229.07h0.55v0.55h-0.55zM370.38,218.02h0.55v0.55h-0.55zM360.35,231.05h0.55v0.55h-0.55zM375.84,221.87h0.55v0.55h-0.55zM369.94,217.09h0.55v0.55h-0.55zM357.82,233.05h0.55v0.55h-0.55zM373.74,220.23h0.55v0.55h-0.55zM365.76,217.86h0.55v0.55h-0.55zM359.28,222.62h0.55v0.55h-0.55zM359.35,229.44h0.55v0.55h-0.55zM371.38,239.36h0.55v0.55h-0.55zM376.00,222.62h0.55v0.55h-0.55zM377.05,226.74h0.55v0.55h-0.55zM359.95,227.64h0.55v0.55h-0.55zM374.60,238.57h0.55v0.55h-0.55zM363.41,238.24h0.55v0.55h-0.55zM376.53,222.24h0.55v0.55h-0.55zM364.88,239.33h0.55v0.55h-0.55zM360.07,231.85h0.55v0.55h-0.55zM375.49,237.35h0.55v0.55h-0.55zM361.28,237.58h0.55v0.55h-0.55zM360.42,226.09h0.55v0.55h-0.55zM363.64,239.43h0.55v0.55h-0.55zM376.38,221.11h0.55v0.55h-0.55zM374.05,219.32h0.55v0.55h-0.55zM360.91,224.10h0.55v0.55h-0.55zM379.97,239.58h0.55v0.55h-0.55zM375.51,238.35h0.55v0.55h-0.55zM373.85,220.10h0.55v0.55h-0.55zM366.24,239.56h0.55v0.55h-0.55zM378.72,234.89h0.55v0.55h-0.55zM376.96,229.43h0.55v0.55h-0.55zM360.08,226.63h0.55v0.55h-0.55zM375.64,239.60h0.55v0.55h-0.55zM358.87,231.66h0.55v0.55h-0.55zM366.60,241.10h0.55v0.55h-0.55zM378.09,232.67h0.55v0.55h-0.55zM368.87,240.76h0.55v0.55h-0.55zM366.65,240.54h0.55v0.55h-0.55zM363.59,219.92h0.55v0.55h-0.55zM360.71,240.23h0.55v0.55h-0.55zM369.97,239.90h0.55v0.55h-0.55zM370.27,239.42h0.55v0.55h-0.55zM375.81,220.12h0.55v0.55h-0.55zM377.20,225.54h0.55v0.55h-0.55zM376.54,226.20h0.55v0.55h-0.55zM363.41,239.03h0.55v0.55h-0.55zM360.46,228.01h0.55v0.55h-0.55zM370.72,240.74h0.55v0.55h-0.55zM368.70,239.05h0.55v0.55h-0.55zM358.65,232.33h0.55v0.55h-0.55zM358.81,230.30h0.55v0.55h-0.55zM378.18,230.01h0.55v0.55h-0.55zM373.85,218.25h0.55v0.55h-0.55zM376.69,225.62h0.55v0.55h-0.55zM368.56,218.17h0.55v0.55h-0.55zM360.42,232.13h0.55v0.55h-0.55zM360.19,232.07h0.55v0.55h-0.55zM360.72,223.67h0.55v0.55h-0.55zM367.93,239.19h0.55v0.55h-0.55zM365.24,241.00h0.55v0.55h-0.55zM372.49,218.50h0.55v0.55h-0.55zM366.47,239.08h0.55v0.55h-0.55zM379.54,232.91h0.55v0.55h-0.55zM377.53,223.96h0.55v0.55h-0.55zM363.01,219.63h0.55v0.55h-0.55zM371.19,239.98h0.55v0.55h-0.55zM361.92,235.94h0.55v0.55h-0.55zM360.26,228.92h0.55v0.55h-0.55zM359.43,233.54h0.55v0.55h-0.55zM359.31,236.26h0.55v0.55h-0.55zM361.53,222.36h0.55v0.55h-0.55zM361.60,219.45h0.55v0.55h-0.55zM378.29,232.37h0.55v0.55h-0.55zM372.05,238.57h0.55v0.55h-0.55zM368.28,239.87h0.55v0.55h-0.55zM372.00,240.19h0.55v0.55h-0.55zM365.88,240.72h0.55v0.55h-0.55zM362.78,237.01h0.55v0.55h-0.55zM364.04,238.32h0.55v0.55h-0.55zM360.21,221.44h0.55v0.55h-0.55zM376.91,234.76h0.55v0.55h-0.55zM377.23,226.85h0.55v0.55h-0.55zM377.65,223.71h0.55v0.55h-0.55zM362.08,238.91h0.55v0.55h-0.55zM377.32,237.36h0.55v0.55h-0.55zM370.71,215.67h0.55v0.55h-0.55zM361.50,219.13h0.55v0.55h-0.55zM364.33,219.18h0.55v0.55h-0.55zM362.30,218.34h0.55v0.55h-0.55zM364.31,241.28h0.55v0.55h-0.55zM371.20,241.38h0.55v0.55h-0.55zM362.44,237.30h0.55v0.55h-0.55zM374.75,219.02h0.55v0.55h-0.55zM358.89,225.82h0.55v0.55h-0.55zM365.06,217.93h0.55v0.55h-0.55zM376.77,238.72h0.55v0.55h-0.55zM376.10,221.82h0.55v0.55h-0.55zM371.96,239.64h0.55v0.55h-0.55zM359.77,221.08h0.55v0.55h-0.55zM376.14,234.93h0.55v0.55h-0.55zM375.54,219.66h0.55v0.55h-0.55zM367.55,217.61h0.55v0.55h-0.55zM360.87,221.46h0.55v0.55h-0.55zM360.09,230.39h0.55v0.55h-0.55zM376.70,230.30h0.55v0.55h-0.55zM377.32,238.45h0.55v0.55h-0.55zM376.76,234.37h0.55v0.55h-0.55zM359.49,226.34h0.55v0.55h-0.55zM361.13,223.18h0.55v0.55h-0.55zM369.43,216.82h0.55v0.55h-0.55zM377.37,228.34h0.55v0.55h-0.55zM361.62,220.48h0.55v0.55h-0.55zM365.21,238.40h0.55v0.55h-0.55zM360.51,221.49h0.55v0.55h-0.55zM363.69,239.49h0.55v0.55h-0.55zM371.79,241.71h0.55v0.55h-0.55zM368.58,217.13h0.55v0.55h-0.55zM371.76,239.04h0.55v0.55h-0.55zM376.72,223.64h0.55v0.55h-0.55zM369.58,218.22h0.55v0.55h-0.55zM376.17,223.87h0.55v0.55h-0.55zM364.68,241.88h0.55v0.55h-0.55zM370.59,216.43h0.55v0.55h-0.55zM374.85,236.14h0.55v0.55h-0.55zM363.18,219.86h0.55v0.55h-0.55zM377.76,231.58h0.55v0.55h-0.55zM376.12,234.29h0.55v0.55h-0.55zM367.67,212.18h0.55v0.55h-0.55zM375.11,222.04h0.55v0.55h-0.55zM361.00,235.72h0.55v0.55h-0.55zM379.06,224.12h0.55v0.55h-0.55zM373.60,214.70h0.55v0.55h-0.55zM366.10,218.40h0.55v0.55h-0.55zM357.65,234.24h0.55v0.55h-0.55zM376.68,230.43h0.55v0.55h-0.55zM366.88,239.19h0.55v0.55h-0.55zM361.26,223.09h0.55v0.55h-0.55zM376.79,235.18h0.55v0.55h-0.55zM361.22,238.52h0.55v0.55h-0.55zM376.37,224.68h0.55v0.55h-0.55zM376.25,232.81h0.55v0.55h-0.55zM376.54,223.67h0.55v0.55h-0.55zM361.55,219.72h0.55v0.55h-0.55zM379.01,228.50h0.55v0.55h-0.55zM376.27,221.67h0.55v0.55h-0.55zM359.58,235.33h0.55v0.55h-0.55zM367.96,217.96h0.55v0.55h-0.55zM368.22,240.57h0.55v0.55h-0.55zM366.74,217.55h0.55v0.55h-0.55zM362.57,236.85h0.55v0.55h-0.55zM359.74,223.75h0.55v0.55h-0.55zM373.89,218.12h0.55v0.55h-0.55zM362.65,220.35h0.55v0.55h-0.55zM375.08,219.58h0.55v0.55h-0.55zM376.45,224.49h0.55v0.55h-0.55zM376.00,233.83h0.55v0.55h-0.55zM368.66,216.40h0.55v0.55h-0.55zM358.81,227.75h0.55v0.55h-0.55zM359.26,225.57h0.55v0.55h-0.55zM378.01,228.30h0.55v0.55h-0.55zM371.47,241.78h0.55v0.55h-0.55zM362.17,218.46h0.55v0.55h-0.55zM362.80,237.01h0.55v0.55h-0.55zM378.26,222.47h0.55v0.55h-0.55zM376.08,219.29h0.55v0.55h-0.55zM372.03,217.13h0.55v0.55h-0.55zM361.95,235.66h0.55v0.55h-0.55zM371.56,240.67h0.55v0.55h-0.55zM377.01,228.33h0.55v0.55h-0.55zM379.13,231.86h0.55v0.55h-0.55zM376.79,232.47h0.55v0.55h-0.55zM367.13,217.37h0.55v0.55h-0.55zM372.33,240.63h0.55v0.55h-0.55zM362.37,237.93h0.55v0.55h-0.55zM374.67,218.40h0.55v0.55h-0.55zM363.64,219.03h0.55v0.55h-0.55zM359.90,235.02h0.55v0.55h-0.55zM368.33,214.18h0.55v0.55h-0.55zM358.79,225.03h0.55v0.55h-0.55zM365.66,238.64h0.55v0.55h-0.55zM379.30,234.76h0.55v0.55h-0.55zM376.46,235.29h0.55v0.55h-0.55zM380.47,226.57h0.55v0.55h-0.55zM369.72,213.66h0.55v0.55h-0.55zM366.83,239.86h0.55v0.55h-0.55zM379.71,226.54h0.55v0.55h-0.55zM371.71,216.79h0.55v0.55h-0.55zM370.11,217.31h0.55v0.55h-0.55zM372.32,218.37h0.55v0.55h-0.55zM372.79,217.99h0.55v0.55h-0.55zM376.49,225.35h0.55v0.55h-0.55zM371.75,238.61h0.55v0.55h-0.55zM361.53,217.29h0.55v0.55h-0.55zM361.98,219.22h0.55v0.55h-0.55zM365.25,217.67h0.55v0.55h-0.55zM365.76,216.95h0.55v0.55h-0.55zM376.57,222.58h0.55v0.55h-0.55zM359.86,228.19h0.55v0.55h-0.55zM377.02,226.91h0.55v0.55h-0.55zM372.23,238.71h0.55v0.55h-0.55zM367.10,217.20h0.55v0.55h-0.55zM373.32,216.82h0.55v0.55h-0.55zM372.15,216.14h0.55v0.55h-0.55zM370.94,217.95h0.55v0.55h-0.55zM365.20,216.71h0.55v0.55h-0.55zM360.40,220.29h0.55v0.55h-0.55z" fill="#231f20" opacity="0.85"/>
<path d="M377.52,228.30 L377.54,229.75 L377.46,231.24 L377.25,232.73 L376.86,234.21 L376.28,235.63 L375.49,236.93 L374.52,238.04 L373.40,238.94 L372.16,239.60 L370.85,240.01 L369.53,240.21 L368.20,240.21 L366.89,240.09 L365.60,239.78 L364.36,239.27 L363.21,238.53 L362.18,237.58 L361.31,236.44 L360.63,235.17 L360.14,233.80 L359.83,232.40 L359.67,231.00 L359.63,229.63 L359.66,228.30 L359.73,226.98 L359.87,225.66 L360.12,224.34 L360.50,223.04 L361.04,221.80 L361.73,220.65 L362.58,219.64 L363.57,218.81 L364.65,218.16 L365.80,217.71 L366.99,217.45 L368.20,217.33 L369.42,217.33 L370.65,217.48 L371.87,217.83 L373.04,218.39 L374.12,219.18 L375.07,220.17 L375.87,221.34 L376.50,222.63 L376.96,224.01 L377.26,225.43 L377.44,226.86Z" fill="#c4c4c6" stroke="#1a1a1a" stroke-width="2.0" />
<path d="M374.71,228.07 L374.73,229.20 L374.67,230.36 L374.50,231.53 L374.20,232.68 L373.74,233.79 L373.13,234.80 L372.37,235.67 L371.49,236.37 L370.53,236.88 L369.51,237.21 L368.47,237.36 L367.44,237.36 L366.42,237.26 L365.41,237.03 L364.44,236.62 L363.54,236.05 L362.74,235.31 L362.07,234.42 L361.54,233.43 L361.16,232.36 L360.91,231.27 L360.79,230.18 L360.75,229.11 L360.78,228.07 L360.83,227.04 L360.95,226.01 L361.14,224.98 L361.44,223.97 L361.85,223.00 L362.40,222.10 L363.06,221.32 L363.83,220.66 L364.67,220.16 L365.57,219.81 L366.50,219.61 L367.44,219.52 L368.39,219.51 L369.35,219.63 L370.30,219.90 L371.21,220.34 L372.06,220.95 L372.80,221.73 L373.43,222.64 L373.92,223.65 L374.27,224.72 L374.51,225.83 L374.64,226.95Z" fill="none" stroke="#ffffff" stroke-width="0.6" />
<path d="M373.39,227.80 L373.40,228.67 L373.36,229.56 L373.23,230.46 L373.00,231.35 L372.65,232.20 L372.18,232.98 L371.59,233.65 L370.92,234.19 L370.17,234.58 L369.39,234.83 L368.60,234.94 L367.80,234.95 L367.01,234.87 L366.24,234.69 L365.50,234.38 L364.80,233.94 L364.19,233.37 L363.67,232.69 L363.26,231.92 L362.97,231.10 L362.78,230.26 L362.68,229.42 L362.66,228.60 L362.68,227.80 L362.72,227.01 L362.80,226.22 L362.95,225.43 L363.18,224.65 L363.50,223.90 L363.92,223.21 L364.43,222.60 L365.02,222.10 L365.67,221.72 L366.36,221.45 L367.08,221.29 L367.80,221.22 L368.53,221.22 L369.27,221.31 L370.00,221.52 L370.70,221.86 L371.35,222.33 L371.92,222.92 L372.40,223.62 L372.78,224.40 L373.06,225.23 L373.24,226.08 L373.34,226.94Z" fill="none" stroke="#6d6e71" stroke-width="0.6" />
<path d="M372.07,227.53 L372.08,228.14 L372.05,228.76 L371.96,229.39 L371.80,230.01 L371.55,230.61 L371.22,231.15 L370.82,231.62 L370.34,232.00 L369.82,232.28 L369.27,232.45 L368.72,232.53 L368.16,232.53 L367.61,232.48 L367.07,232.35 L366.55,232.14 L366.06,231.83 L365.63,231.43 L365.27,230.95 L364.98,230.41 L364.78,229.84 L364.65,229.25 L364.58,228.67 L364.56,228.09 L364.57,227.53 L364.60,226.98 L364.66,226.42 L364.77,225.87 L364.93,225.32 L365.15,224.80 L365.44,224.32 L365.80,223.89 L366.21,223.54 L366.67,223.27 L367.15,223.08 L367.65,222.97 L368.16,222.92 L368.67,222.92 L369.19,222.99 L369.70,223.13 L370.19,223.37 L370.65,223.70 L371.05,224.12 L371.38,224.60 L371.65,225.15 L371.84,225.73 L371.97,226.32 L372.04,226.93Z" fill="none" stroke="#ffffff" stroke-width="0.6" />
<path d="M372,226 C374,230 374,234 371,236" fill="none" stroke="#ffffff" stroke-width="0.6" />
<line x1="354.50" y1="211.40" x2="354.50" y2="255.00" stroke="#231f20" stroke-width="0.8" />
<line x1="354.60" y1="241.50" x2="383.60" y2="241.50" stroke="#231f20" stroke-width="0.8" />
<text x="383.00" y="253.50" font-size="6" fill="#b8b8bc" text-anchor="end" stroke="#b8b8bc" stroke-width="0.14">TN</text>
<text x="361.50" y="206.50" font-size="6.8" fill="#3a3a3c" text-anchor="middle" stroke="#3a3a3c" stroke-width="0.14">hCD45<tspan font-size="4.5" dy="-2.6">+</tspan></text>
<text x="336.00" y="256.20" font-size="8.4" fill="#3a3a3c" textLength="10.6" lengthAdjust="spacingAndGlyphs" stroke="#3a3a3c" stroke-width="0.25" transform="rotate(-90 336.00 256.20)">KIT</text>
<line x1="332.50" y1="243.50" x2="332.50" y2="218.50" stroke="#231f20" stroke-width="0.9" />
<path d="M332.60,215.00 L330.90,219.00 L334.30,219.00 Z" fill="#231f20" />
<text x="333.30" y="270.40" font-size="8.8" fill="#3a3a3c" textLength="15.8" lengthAdjust="spacingAndGlyphs" stroke="#3a3a3c" stroke-width="0.25">cCD3</text>
<line x1="352.30" y1="267.50" x2="377.50" y2="267.50" stroke="#231f20" stroke-width="0.9" />
<path d="M381.00,267.50 L377.00,265.80 L377.00,269.20 Z" fill="#231f20" />
<line x1="384.30" y1="223.50" x2="389.50" y2="223.50" stroke="#231f20" stroke-width="0.9" />
<path d="M392.50,223.00 L389.00,221.40 L389.00,224.60 Z" fill="#231f20" />
<rect x="399.00" y="211.50" width="44.00" height="43.10" fill="#fff" stroke="#231f20" stroke-width="0.8" />
<line x1="402.67" y1="254.60" x2="402.67" y2="253.40" stroke="#231f20" stroke-width="0.4" />
<line x1="406.33" y1="254.60" x2="406.33" y2="253.40" stroke="#231f20" stroke-width="0.4" />
<line x1="410.00" y1="254.60" x2="410.00" y2="253.40" stroke="#231f20" stroke-width="0.4" />
<line x1="413.67" y1="254.60" x2="413.67" y2="253.40" stroke="#231f20" stroke-width="0.4" />
<line x1="417.33" y1="254.60" x2="417.33" y2="253.40" stroke="#231f20" stroke-width="0.4" />
<line x1="421.00" y1="254.60" x2="421.00" y2="253.40" stroke="#231f20" stroke-width="0.4" />
<line x1="424.67" y1="254.60" x2="424.67" y2="253.40" stroke="#231f20" stroke-width="0.4" />
<line x1="428.33" y1="254.60" x2="428.33" y2="253.40" stroke="#231f20" stroke-width="0.4" />
<line x1="432.00" y1="254.60" x2="432.00" y2="253.40" stroke="#231f20" stroke-width="0.4" />
<line x1="435.67" y1="254.60" x2="435.67" y2="253.40" stroke="#231f20" stroke-width="0.4" />
<line x1="439.33" y1="254.60" x2="439.33" y2="253.40" stroke="#231f20" stroke-width="0.4" />
<line x1="399.00" y1="215.09" x2="400.20" y2="215.09" stroke="#231f20" stroke-width="0.4" />
<line x1="399.00" y1="218.68" x2="400.20" y2="218.68" stroke="#231f20" stroke-width="0.4" />
<line x1="399.00" y1="222.28" x2="400.20" y2="222.28" stroke="#231f20" stroke-width="0.4" />
<line x1="399.00" y1="225.87" x2="400.20" y2="225.87" stroke="#231f20" stroke-width="0.4" />
<line x1="399.00" y1="229.46" x2="400.20" y2="229.46" stroke="#231f20" stroke-width="0.4" />
<line x1="399.00" y1="233.05" x2="400.20" y2="233.05" stroke="#231f20" stroke-width="0.4" />
<line x1="399.00" y1="236.64" x2="400.20" y2="236.64" stroke="#231f20" stroke-width="0.4" />
<line x1="399.00" y1="240.23" x2="400.20" y2="240.23" stroke="#231f20" stroke-width="0.4" />
<line x1="399.00" y1="243.82" x2="400.20" y2="243.82" stroke="#231f20" stroke-width="0.4" />
<line x1="399.00" y1="247.42" x2="400.20" y2="247.42" stroke="#231f20" stroke-width="0.4" />
<line x1="399.00" y1="251.01" x2="400.20" y2="251.01" stroke="#231f20" stroke-width="0.4" />
<path d="M419.00,235.51h0.45v0.45h-0.45zM438.82,231.56h0.45v0.45h-0.45zM421.33,236.67h0.45v0.45h-0.45zM407.76,233.50h0.45v0.45h-0.45zM426.46,245.31h0.45v0.45h-0.45zM403.95,224.74h0.45v0.45h-0.45zM403.81,246.01h0.45v0.45h-0.45zM429.12,213.76h0.45v0.45h-0.45zM441.25,252.52h0.45v0.45h-0.45zM427.46,237.85h0.45v0.45h-0.45zM406.61,212.63h0.45v0.45h-0.45zM422.19,214.50h0.45v0.45h-0.45zM407.99,222.16h0.45v0.45h-0.45zM401.26,231.49h0.45v0.45h-0.45zM418.50,247.38h0.45v0.45h-0.45zM421.80,238.89h0.45v0.45h-0.45zM420.99,239.82h0.45v0.45h-0.45zM419.21,223.68h0.45v0.45h-0.45zM441.90,253.82h0.45v0.45h-0.45zM435.29,241.73h0.45v0.45h-0.45zM413.24,221.65h0.45v0.45h-0.45zM412.14,214.95h0.45v0.45h-0.45zM432.18,228.82h0.45v0.45h-0.45zM435.56,228.23h0.45v0.45h-0.45zM440.24,247.59h0.45v0.45h-0.45zM400.02,220.81h0.45v0.45h-0.45zM438.23,231.74h0.45v0.45h-0.45zM441.18,228.69h0.45v0.45h-0.45zM403.07,238.44h0.45v0.45h-0.45zM432.70,223.33h0.45v0.45h-0.45zM403.66,225.97h0.45v0.45h-0.45zM440.49,243.84h0.45v0.45h-0.45zM404.96,222.35h0.45v0.45h-0.45zM404.24,214.52h0.45v0.45h-0.45zM433.47,219.46h0.45v0.45h-0.45zM423.49,230.79h0.45v0.45h-0.45zM408.01,242.74h0.45v0.45h-0.45zM405.50,239.04h0.45v0.45h-0.45zM404.89,229.67h0.45v0.45h-0.45zM408.94,223.33h0.45v0.45h-0.45zM440.78,245.74h0.45v0.45h-0.45zM412.77,249.16h0.45v0.45h-0.45zM408.85,228.56h0.45v0.45h-0.45zM435.88,238.96h0.45v0.45h-0.45zM404.21,253.55h0.45v0.45h-0.45zM408.96,222.85h0.45v0.45h-0.45zM432.45,225.82h0.45v0.45h-0.45zM412.45,215.08h0.45v0.45h-0.45zM403.78,236.47h0.45v0.45h-0.45zM410.21,237.25h0.45v0.45h-0.45zM415.61,231.03h0.45v0.45h-0.45zM440.28,232.32h0.45v0.45h-0.45zM424.13,248.39h0.45v0.45h-0.45zM407.68,218.47h0.45v0.45h-0.45zM438.15,246.35h0.45v0.45h-0.45zM410.48,219.97h0.45v0.45h-0.45zM431.06,251.50h0.45v0.45h-0.45zM408.26,251.91h0.45v0.45h-0.45zM437.05,237.35h0.45v0.45h-0.45zM417.70,216.36h0.45v0.45h-0.45zM401.63,252.43h0.45v0.45h-0.45zM410.01,241.59h0.45v0.45h-0.45zM410.79,246.60h0.45v0.45h-0.45zM425.05,224.32h0.45v0.45h-0.45zM407.37,242.25h0.45v0.45h-0.45zM402.89,221.59h0.45v0.45h-0.45zM423.49,247.80h0.45v0.45h-0.45zM425.80,223.77h0.45v0.45h-0.45zM438.53,220.57h0.45v0.45h-0.45zM400.70,223.31h0.45v0.45h-0.45zM418.72,214.54h0.45v0.45h-0.45zM407.40,227.49h0.45v0.45h-0.45zM424.03,217.53h0.45v0.45h-0.45zM415.21,249.42h0.45v0.45h-0.45zM441.18,239.59h0.45v0.45h-0.45zM429.03,236.55h0.45v0.45h-0.45zM405.89,213.47h0.45v0.45h-0.45zM400.75,250.23h0.45v0.45h-0.45zM429.44,252.44h0.45v0.45h-0.45zM400.89,238.72h0.45v0.45h-0.45zM420.25,242.68h0.45v0.45h-0.45zM413.39,253.97h0.45v0.45h-0.45zM403.16,234.94h0.45v0.45h-0.45zM430.95,249.81h0.45v0.45h-0.45zM430.96,241.56h0.45v0.45h-0.45zM433.32,250.43h0.45v0.45h-0.45zM414.78,240.78h0.45v0.45h-0.45zM437.84,248.59h0.45v0.45h-0.45zM417.52,245.20h0.45v0.45h-0.45zM436.27,236.06h0.45v0.45h-0.45zM426.25,228.06h0.45v0.45h-0.45zM424.47,237.57h0.45v0.45h-0.45zM403.37,238.85h0.45v0.45h-0.45zM441.72,248.95h0.45v0.45h-0.45zM430.58,228.31h0.45v0.45h-0.45zM430.87,236.40h0.45v0.45h-0.45zM418.50,247.21h0.45v0.45h-0.45zM403.52,243.51h0.45v0.45h-0.45zM401.25,237.25h0.45v0.45h-0.45zM420.20,221.67h0.45v0.45h-0.45zM429.33,232.88h0.45v0.45h-0.45zM425.81,250.66h0.45v0.45h-0.45zM410.74,212.47h0.45v0.45h-0.45zM412.64,240.48h0.45v0.45h-0.45zM408.51,219.12h0.45v0.45h-0.45zM438.04,239.72h0.45v0.45h-0.45zM418.56,249.45h0.45v0.45h-0.45zM413.73,239.97h0.45v0.45h-0.45zM408.34,230.10h0.45v0.45h-0.45zM433.85,250.40h0.45v0.45h-0.45zM436.97,228.15h0.45v0.45h-0.45zM424.49,225.29h0.45v0.45h-0.45zM405.72,232.85h0.45v0.45h-0.45zM435.16,247.65h0.45v0.45h-0.45zM429.87,251.90h0.45v0.45h-0.45zM411.63,219.10h0.45v0.45h-0.45zM418.93,223.56h0.45v0.45h-0.45zM408.99,229.39h0.45v0.45h-0.45zM426.28,232.74h0.45v0.45h-0.45zM413.25,247.24h0.45v0.45h-0.45z" fill="#6d6e71" opacity="1.0"/>
<path d="M407.22,244.93h0.5v0.5h-0.5zM411.89,242.08h0.5v0.5h-0.5zM416.87,244.26h0.5v0.5h-0.5zM411.90,251.21h0.5v0.5h-0.5zM411.02,238.95h0.5v0.5h-0.5zM407.50,241.90h0.5v0.5h-0.5zM415.63,247.41h0.5v0.5h-0.5zM417.56,251.41h0.5v0.5h-0.5zM419.89,246.67h0.5v0.5h-0.5zM418.44,246.75h0.5v0.5h-0.5zM410.88,247.48h0.5v0.5h-0.5zM413.43,243.35h0.5v0.5h-0.5zM421.24,247.31h0.5v0.5h-0.5zM411.26,243.90h0.5v0.5h-0.5zM422.65,243.22h0.5v0.5h-0.5zM416.19,246.73h0.5v0.5h-0.5zM415.29,246.60h0.5v0.5h-0.5zM411.27,242.35h0.5v0.5h-0.5zM412.57,242.77h0.5v0.5h-0.5zM416.49,250.47h0.5v0.5h-0.5zM409.62,246.44h0.5v0.5h-0.5zM409.25,241.42h0.5v0.5h-0.5zM412.26,244.66h0.5v0.5h-0.5zM411.45,233.65h0.5v0.5h-0.5zM418.84,243.12h0.5v0.5h-0.5zM410.65,246.98h0.5v0.5h-0.5zM410.80,238.43h0.5v0.5h-0.5zM415.21,245.92h0.5v0.5h-0.5zM409.87,247.62h0.5v0.5h-0.5zM414.74,239.62h0.5v0.5h-0.5zM420.32,245.31h0.5v0.5h-0.5zM408.62,246.06h0.5v0.5h-0.5zM413.73,248.16h0.5v0.5h-0.5zM407.75,248.44h0.5v0.5h-0.5zM417.04,247.04h0.5v0.5h-0.5zM415.70,249.55h0.5v0.5h-0.5zM416.13,244.74h0.5v0.5h-0.5zM409.82,248.73h0.5v0.5h-0.5zM417.20,245.43h0.5v0.5h-0.5zM413.83,247.15h0.5v0.5h-0.5zM403.01,245.50h0.5v0.5h-0.5zM403.08,245.19h0.5v0.5h-0.5zM417.50,251.89h0.5v0.5h-0.5zM411.30,245.95h0.5v0.5h-0.5zM412.92,235.18h0.5v0.5h-0.5zM416.16,244.13h0.5v0.5h-0.5zM413.47,240.37h0.5v0.5h-0.5zM413.03,244.53h0.5v0.5h-0.5zM418.38,245.38h0.5v0.5h-0.5zM427.35,242.54h0.5v0.5h-0.5zM412.12,243.98h0.5v0.5h-0.5zM409.91,250.32h0.5v0.5h-0.5zM415.81,239.03h0.5v0.5h-0.5zM413.63,248.86h0.5v0.5h-0.5zM407.44,244.80h0.5v0.5h-0.5zM412.23,253.65h0.5v0.5h-0.5zM414.87,242.53h0.5v0.5h-0.5zM410.91,251.86h0.5v0.5h-0.5zM411.30,253.45h0.5v0.5h-0.5zM406.86,243.41h0.5v0.5h-0.5zM412.22,241.34h0.5v0.5h-0.5zM412.33,246.99h0.5v0.5h-0.5zM410.49,238.38h0.5v0.5h-0.5zM418.64,250.14h0.5v0.5h-0.5zM410.39,245.43h0.5v0.5h-0.5zM402.76,248.41h0.5v0.5h-0.5zM407.79,241.94h0.5v0.5h-0.5zM421.96,239.07h0.5v0.5h-0.5zM413.27,239.85h0.5v0.5h-0.5zM405.69,239.46h0.5v0.5h-0.5zM414.29,238.89h0.5v0.5h-0.5zM410.80,247.14h0.5v0.5h-0.5zM412.54,238.87h0.5v0.5h-0.5zM419.26,244.68h0.5v0.5h-0.5zM418.88,239.94h0.5v0.5h-0.5zM420.03,238.72h0.5v0.5h-0.5zM406.11,242.46h0.5v0.5h-0.5zM411.68,245.25h0.5v0.5h-0.5zM410.91,246.76h0.5v0.5h-0.5zM418.60,241.54h0.5v0.5h-0.5zM407.61,242.56h0.5v0.5h-0.5zM416.50,247.49h0.5v0.5h-0.5zM411.78,240.19h0.5v0.5h-0.5zM413.11,248.09h0.5v0.5h-0.5zM410.29,249.44h0.5v0.5h-0.5zM414.10,245.36h0.5v0.5h-0.5zM410.64,249.70h0.5v0.5h-0.5zM413.35,238.14h0.5v0.5h-0.5zM416.50,242.48h0.5v0.5h-0.5zM417.55,244.86h0.5v0.5h-0.5zM410.64,244.87h0.5v0.5h-0.5zM411.19,240.83h0.5v0.5h-0.5zM413.26,247.55h0.5v0.5h-0.5zM413.47,243.83h0.5v0.5h-0.5zM410.93,246.49h0.5v0.5h-0.5zM414.28,248.06h0.5v0.5h-0.5zM414.66,252.81h0.5v0.5h-0.5zM406.81,243.96h0.5v0.5h-0.5zM415.34,247.81h0.5v0.5h-0.5zM406.96,239.23h0.5v0.5h-0.5zM413.00,248.44h0.5v0.5h-0.5zM417.62,238.03h0.5v0.5h-0.5zM413.70,248.92h0.5v0.5h-0.5zM413.28,240.00h0.5v0.5h-0.5zM410.27,238.77h0.5v0.5h-0.5zM418.01,243.12h0.5v0.5h-0.5zM411.44,240.63h0.5v0.5h-0.5zM412.61,240.49h0.5v0.5h-0.5zM409.22,244.00h0.5v0.5h-0.5zM412.24,246.02h0.5v0.5h-0.5zM413.76,248.96h0.5v0.5h-0.5zM412.99,245.23h0.5v0.5h-0.5zM414.08,240.90h0.5v0.5h-0.5zM417.98,241.89h0.5v0.5h-0.5zM406.77,249.22h0.5v0.5h-0.5zM415.81,241.88h0.5v0.5h-0.5zM417.03,248.07h0.5v0.5h-0.5zM416.01,239.42h0.5v0.5h-0.5zM413.88,239.97h0.5v0.5h-0.5zM410.69,241.89h0.5v0.5h-0.5zM409.74,246.16h0.5v0.5h-0.5zM409.98,246.68h0.5v0.5h-0.5zM413.86,241.72h0.5v0.5h-0.5zM413.85,246.95h0.5v0.5h-0.5zM417.78,243.12h0.5v0.5h-0.5zM420.18,246.48h0.5v0.5h-0.5zM418.20,238.70h0.5v0.5h-0.5zM408.88,249.05h0.5v0.5h-0.5zM412.26,246.04h0.5v0.5h-0.5zM418.02,238.33h0.5v0.5h-0.5zM414.99,251.99h0.5v0.5h-0.5zM416.39,244.53h0.5v0.5h-0.5zM415.44,244.20h0.5v0.5h-0.5zM416.29,249.43h0.5v0.5h-0.5zM412.25,246.49h0.5v0.5h-0.5zM414.39,247.17h0.5v0.5h-0.5zM416.54,239.84h0.5v0.5h-0.5zM417.87,247.65h0.5v0.5h-0.5zM408.75,243.01h0.5v0.5h-0.5zM407.28,243.00h0.5v0.5h-0.5zM414.49,239.49h0.5v0.5h-0.5zM410.04,240.62h0.5v0.5h-0.5zM410.36,241.04h0.5v0.5h-0.5zM408.85,246.46h0.5v0.5h-0.5zM412.30,240.85h0.5v0.5h-0.5zM417.14,241.88h0.5v0.5h-0.5zM416.77,239.17h0.5v0.5h-0.5zM418.83,242.36h0.5v0.5h-0.5zM409.34,245.81h0.5v0.5h-0.5zM407.78,239.81h0.5v0.5h-0.5zM414.12,242.22h0.5v0.5h-0.5zM414.77,244.73h0.5v0.5h-0.5zM414.18,244.69h0.5v0.5h-0.5zM416.03,244.16h0.5v0.5h-0.5zM417.61,247.97h0.5v0.5h-0.5zM405.24,237.09h0.5v0.5h-0.5zM419.43,242.37h0.5v0.5h-0.5zM413.91,243.70h0.5v0.5h-0.5zM414.26,253.04h0.5v0.5h-0.5zM410.31,244.42h0.5v0.5h-0.5zM413.18,239.81h0.5v0.5h-0.5zM409.64,243.07h0.5v0.5h-0.5zM413.09,245.71h0.5v0.5h-0.5zM405.26,237.85h0.5v0.5h-0.5zM419.79,243.43h0.5v0.5h-0.5zM416.47,242.46h0.5v0.5h-0.5zM410.30,252.66h0.5v0.5h-0.5zM408.19,240.50h0.5v0.5h-0.5zM415.87,244.23h0.5v0.5h-0.5zM406.56,244.71h0.5v0.5h-0.5zM416.09,238.02h0.5v0.5h-0.5zM410.90,247.32h0.5v0.5h-0.5zM420.84,234.80h0.5v0.5h-0.5zM410.38,244.25h0.5v0.5h-0.5zM409.48,240.51h0.5v0.5h-0.5zM411.13,246.21h0.5v0.5h-0.5zM408.86,247.63h0.5v0.5h-0.5zM416.49,247.57h0.5v0.5h-0.5zM419.32,242.05h0.5v0.5h-0.5zM412.94,248.16h0.5v0.5h-0.5zM418.23,247.92h0.5v0.5h-0.5zM411.33,242.18h0.5v0.5h-0.5zM407.86,242.40h0.5v0.5h-0.5zM409.55,242.18h0.5v0.5h-0.5zM411.62,247.48h0.5v0.5h-0.5zM416.58,243.95h0.5v0.5h-0.5zM408.56,243.93h0.5v0.5h-0.5zM414.88,247.58h0.5v0.5h-0.5zM413.99,247.39h0.5v0.5h-0.5zM410.51,246.75h0.5v0.5h-0.5zM416.11,242.72h0.5v0.5h-0.5zM410.10,249.09h0.5v0.5h-0.5zM409.15,246.90h0.5v0.5h-0.5zM412.06,242.75h0.5v0.5h-0.5zM412.13,242.37h0.5v0.5h-0.5zM412.99,251.29h0.5v0.5h-0.5zM418.97,243.61h0.5v0.5h-0.5zM415.03,247.79h0.5v0.5h-0.5zM411.44,251.51h0.5v0.5h-0.5zM413.28,246.63h0.5v0.5h-0.5zM409.32,239.66h0.5v0.5h-0.5zM409.14,241.56h0.5v0.5h-0.5zM417.28,242.87h0.5v0.5h-0.5zM416.68,242.46h0.5v0.5h-0.5zM409.31,244.82h0.5v0.5h-0.5zM411.55,237.48h0.5v0.5h-0.5zM413.33,248.88h0.5v0.5h-0.5zM412.31,239.33h0.5v0.5h-0.5zM410.10,239.28h0.5v0.5h-0.5zM412.17,240.35h0.5v0.5h-0.5zM412.69,244.84h0.5v0.5h-0.5zM418.45,239.51h0.5v0.5h-0.5zM404.93,250.65h0.5v0.5h-0.5zM414.88,242.68h0.5v0.5h-0.5zM415.17,240.42h0.5v0.5h-0.5zM411.78,246.85h0.5v0.5h-0.5zM411.88,244.67h0.5v0.5h-0.5zM414.89,244.62h0.5v0.5h-0.5zM412.17,246.20h0.5v0.5h-0.5zM418.45,249.23h0.5v0.5h-0.5z" fill="#231f20" opacity="0.75"/>
<path d="M420.77,231.68h0.5v0.5h-0.5zM427.05,223.43h0.5v0.5h-0.5zM422.56,230.04h0.5v0.5h-0.5zM423.87,229.91h0.5v0.5h-0.5zM420.48,227.42h0.5v0.5h-0.5zM426.12,228.13h0.5v0.5h-0.5zM422.65,230.87h0.5v0.5h-0.5zM426.45,225.26h0.5v0.5h-0.5zM427.20,228.71h0.5v0.5h-0.5zM431.01,233.86h0.5v0.5h-0.5zM425.98,223.92h0.5v0.5h-0.5zM426.87,224.36h0.5v0.5h-0.5zM435.19,226.37h0.5v0.5h-0.5zM420.74,232.56h0.5v0.5h-0.5zM435.04,229.03h0.5v0.5h-0.5zM428.77,227.23h0.5v0.5h-0.5zM426.27,230.70h0.5v0.5h-0.5zM421.75,229.52h0.5v0.5h-0.5zM426.82,223.93h0.5v0.5h-0.5zM433.74,228.00h0.5v0.5h-0.5zM434.09,226.45h0.5v0.5h-0.5zM428.96,231.96h0.5v0.5h-0.5zM425.26,229.07h0.5v0.5h-0.5zM423.21,231.27h0.5v0.5h-0.5zM420.21,230.75h0.5v0.5h-0.5zM427.12,226.74h0.5v0.5h-0.5zM427.12,230.93h0.5v0.5h-0.5zM420.60,230.01h0.5v0.5h-0.5zM422.94,230.61h0.5v0.5h-0.5zM431.70,230.70h0.5v0.5h-0.5zM428.57,227.64h0.5v0.5h-0.5zM424.07,222.83h0.5v0.5h-0.5zM424.79,228.88h0.5v0.5h-0.5zM425.93,223.64h0.5v0.5h-0.5zM423.41,227.41h0.5v0.5h-0.5zM435.51,232.52h0.5v0.5h-0.5zM432.25,224.40h0.5v0.5h-0.5zM425.13,233.41h0.5v0.5h-0.5zM430.09,232.11h0.5v0.5h-0.5zM435.63,236.33h0.5v0.5h-0.5zM431.47,225.23h0.5v0.5h-0.5zM422.97,231.67h0.5v0.5h-0.5zM430.52,226.38h0.5v0.5h-0.5zM429.21,232.37h0.5v0.5h-0.5zM424.09,230.25h0.5v0.5h-0.5zM426.99,232.20h0.5v0.5h-0.5zM424.90,229.70h0.5v0.5h-0.5zM431.73,230.56h0.5v0.5h-0.5zM430.57,227.09h0.5v0.5h-0.5zM429.40,229.31h0.5v0.5h-0.5zM422.19,229.33h0.5v0.5h-0.5zM451.62,228.88h0.5v0.5h-0.5zM425.51,230.06h0.5v0.5h-0.5zM421.44,231.41h0.5v0.5h-0.5zM428.96,230.12h0.5v0.5h-0.5zM431.42,233.25h0.5v0.5h-0.5zM428.12,228.60h0.5v0.5h-0.5zM443.80,228.78h0.5v0.5h-0.5zM430.15,228.12h0.5v0.5h-0.5zM423.66,226.71h0.5v0.5h-0.5zM430.41,229.26h0.5v0.5h-0.5zM432.46,225.44h0.5v0.5h-0.5zM420.71,231.66h0.5v0.5h-0.5zM424.06,226.94h0.5v0.5h-0.5zM427.18,227.09h0.5v0.5h-0.5zM420.27,230.17h0.5v0.5h-0.5zM422.39,230.54h0.5v0.5h-0.5zM428.80,229.23h0.5v0.5h-0.5zM432.97,231.61h0.5v0.5h-0.5zM420.66,228.39h0.5v0.5h-0.5zM420.87,227.15h0.5v0.5h-0.5zM431.36,229.02h0.5v0.5h-0.5zM423.70,230.25h0.5v0.5h-0.5zM424.48,229.05h0.5v0.5h-0.5zM422.87,227.64h0.5v0.5h-0.5zM422.81,227.03h0.5v0.5h-0.5zM422.94,230.70h0.5v0.5h-0.5zM424.61,228.78h0.5v0.5h-0.5zM426.24,230.78h0.5v0.5h-0.5zM439.46,219.30h0.5v0.5h-0.5zM430.72,229.60h0.5v0.5h-0.5zM431.16,232.88h0.5v0.5h-0.5zM428.39,234.20h0.5v0.5h-0.5zM424.48,228.13h0.5v0.5h-0.5zM426.79,228.57h0.5v0.5h-0.5zM423.46,227.49h0.5v0.5h-0.5zM428.60,228.89h0.5v0.5h-0.5zM429.10,233.10h0.5v0.5h-0.5zM423.23,232.20h0.5v0.5h-0.5zM430.54,221.88h0.5v0.5h-0.5zM440.09,227.26h0.5v0.5h-0.5zM430.94,230.08h0.5v0.5h-0.5zM432.51,223.90h0.5v0.5h-0.5zM423.56,227.78h0.5v0.5h-0.5zM427.24,231.19h0.5v0.5h-0.5zM424.25,225.64h0.5v0.5h-0.5zM427.04,235.42h0.5v0.5h-0.5zM421.14,229.37h0.5v0.5h-0.5zM422.12,228.68h0.5v0.5h-0.5zM420.62,227.52h0.5v0.5h-0.5zM423.81,223.68h0.5v0.5h-0.5zM436.38,228.48h0.5v0.5h-0.5zM431.16,230.63h0.5v0.5h-0.5zM427.13,224.57h0.5v0.5h-0.5zM423.83,232.53h0.5v0.5h-0.5zM425.97,229.98h0.5v0.5h-0.5zM430.16,228.41h0.5v0.5h-0.5zM421.76,232.35h0.5v0.5h-0.5zM420.73,228.56h0.5v0.5h-0.5zM426.85,228.90h0.5v0.5h-0.5zM430.43,235.16h0.5v0.5h-0.5zM420.30,232.47h0.5v0.5h-0.5zM425.65,226.29h0.5v0.5h-0.5zM435.23,228.22h0.5v0.5h-0.5zM426.97,228.72h0.5v0.5h-0.5zM438.82,230.72h0.5v0.5h-0.5zM425.75,228.10h0.5v0.5h-0.5zM427.26,230.80h0.5v0.5h-0.5zM424.27,231.55h0.5v0.5h-0.5zM436.32,230.07h0.5v0.5h-0.5zM421.82,229.43h0.5v0.5h-0.5zM426.54,227.24h0.5v0.5h-0.5zM427.92,226.22h0.5v0.5h-0.5zM436.92,227.48h0.5v0.5h-0.5zM423.31,232.37h0.5v0.5h-0.5zM425.64,226.22h0.5v0.5h-0.5zM421.84,228.38h0.5v0.5h-0.5zM423.25,227.49h0.5v0.5h-0.5zM422.78,227.36h0.5v0.5h-0.5zM430.01,229.75h0.5v0.5h-0.5zM426.20,227.55h0.5v0.5h-0.5zM432.27,228.90h0.5v0.5h-0.5zM420.44,231.02h0.5v0.5h-0.5zM429.81,228.71h0.5v0.5h-0.5zM420.50,226.63h0.5v0.5h-0.5zM420.54,229.16h0.5v0.5h-0.5zM422.90,226.14h0.5v0.5h-0.5zM432.68,225.53h0.5v0.5h-0.5zM436.11,233.64h0.5v0.5h-0.5zM435.09,225.58h0.5v0.5h-0.5zM426.65,224.81h0.5v0.5h-0.5zM422.43,225.16h0.5v0.5h-0.5zM425.84,227.38h0.5v0.5h-0.5zM429.68,232.29h0.5v0.5h-0.5zM422.52,228.05h0.5v0.5h-0.5zM427.77,225.37h0.5v0.5h-0.5zM435.50,228.02h0.5v0.5h-0.5zM426.29,226.61h0.5v0.5h-0.5zM424.19,225.80h0.5v0.5h-0.5zM428.37,227.14h0.5v0.5h-0.5zM428.91,227.14h0.5v0.5h-0.5zM427.82,227.71h0.5v0.5h-0.5zM429.32,222.42h0.5v0.5h-0.5zM423.54,226.35h0.5v0.5h-0.5zM429.07,230.15h0.5v0.5h-0.5zM434.17,231.98h0.5v0.5h-0.5zM425.64,220.85h0.5v0.5h-0.5zM428.76,229.51h0.5v0.5h-0.5zM433.78,226.11h0.5v0.5h-0.5zM425.50,229.39h0.5v0.5h-0.5zM424.86,230.31h0.5v0.5h-0.5zM427.29,235.68h0.5v0.5h-0.5zM425.50,234.48h0.5v0.5h-0.5zM421.68,229.93h0.5v0.5h-0.5zM423.84,228.33h0.5v0.5h-0.5zM423.58,229.33h0.5v0.5h-0.5zM428.12,229.70h0.5v0.5h-0.5zM421.24,229.73h0.5v0.5h-0.5zM433.86,229.06h0.5v0.5h-0.5zM426.22,229.11h0.5v0.5h-0.5zM437.11,225.14h0.5v0.5h-0.5zM427.62,224.64h0.5v0.5h-0.5zM424.91,224.10h0.5v0.5h-0.5zM423.15,227.40h0.5v0.5h-0.5zM431.82,230.09h0.5v0.5h-0.5zM430.84,228.03h0.5v0.5h-0.5zM421.11,227.21h0.5v0.5h-0.5zM422.58,226.16h0.5v0.5h-0.5zM425.94,229.46h0.5v0.5h-0.5zM422.33,231.44h0.5v0.5h-0.5zM438.49,225.44h0.5v0.5h-0.5zM422.69,232.12h0.5v0.5h-0.5zM430.72,231.23h0.5v0.5h-0.5zM429.46,233.74h0.5v0.5h-0.5zM426.73,228.03h0.5v0.5h-0.5zM422.27,227.01h0.5v0.5h-0.5zM421.43,229.45h0.5v0.5h-0.5zM423.94,228.92h0.5v0.5h-0.5zM423.33,225.49h0.5v0.5h-0.5zM432.41,231.14h0.5v0.5h-0.5zM420.84,230.38h0.5v0.5h-0.5zM420.38,228.60h0.5v0.5h-0.5zM422.93,227.84h0.5v0.5h-0.5zM432.95,232.27h0.5v0.5h-0.5zM424.09,226.03h0.5v0.5h-0.5zM424.34,229.15h0.5v0.5h-0.5zM430.91,228.53h0.5v0.5h-0.5zM420.20,229.66h0.5v0.5h-0.5zM421.47,228.26h0.5v0.5h-0.5zM429.74,232.53h0.5v0.5h-0.5zM420.09,227.54h0.5v0.5h-0.5zM420.57,225.84h0.5v0.5h-0.5zM434.77,221.91h0.5v0.5h-0.5zM423.66,225.35h0.5v0.5h-0.5zM421.30,226.01h0.5v0.5h-0.5zM435.73,226.21h0.5v0.5h-0.5zM426.40,226.67h0.5v0.5h-0.5zM435.76,229.38h0.5v0.5h-0.5zM425.11,230.83h0.5v0.5h-0.5zM422.68,231.37h0.5v0.5h-0.5zM433.86,232.55h0.5v0.5h-0.5zM429.55,226.26h0.5v0.5h-0.5zM422.00,226.14h0.5v0.5h-0.5zM434.60,227.08h0.5v0.5h-0.5zM422.55,224.75h0.5v0.5h-0.5zM428.90,226.02h0.5v0.5h-0.5zM425.47,227.92h0.5v0.5h-0.5zM420.53,230.70h0.5v0.5h-0.5zM439.28,228.57h0.5v0.5h-0.5zM428.05,229.23h0.5v0.5h-0.5zM420.62,226.21h0.5v0.5h-0.5zM423.08,227.36h0.5v0.5h-0.5zM421.26,226.23h0.5v0.5h-0.5zM422.81,228.17h0.5v0.5h-0.5zM433.29,232.21h0.5v0.5h-0.5zM421.08,225.77h0.5v0.5h-0.5zM422.25,228.80h0.5v0.5h-0.5zM423.07,226.05h0.5v0.5h-0.5zM422.01,225.46h0.5v0.5h-0.5zM434.98,232.97h0.5v0.5h-0.5zM435.35,235.67h0.5v0.5h-0.5zM440.35,234.53h0.5v0.5h-0.5zM428.38,226.80h0.5v0.5h-0.5zM429.92,227.00h0.5v0.5h-0.5zM423.16,228.46h0.5v0.5h-0.5zM423.79,225.15h0.5v0.5h-0.5zM420.29,229.50h0.5v0.5h-0.5zM438.45,233.25h0.5v0.5h-0.5zM426.92,226.20h0.5v0.5h-0.5zM436.49,230.17h0.5v0.5h-0.5zM424.32,232.40h0.5v0.5h-0.5zM443.17,228.54h0.5v0.5h-0.5zM429.59,232.98h0.5v0.5h-0.5zM420.31,228.13h0.5v0.5h-0.5zM426.90,227.56h0.5v0.5h-0.5zM427.73,221.47h0.5v0.5h-0.5zM425.28,225.84h0.5v0.5h-0.5zM425.41,227.28h0.5v0.5h-0.5zM424.39,228.75h0.5v0.5h-0.5zM420.61,227.75h0.5v0.5h-0.5zM425.58,228.22h0.5v0.5h-0.5zM422.83,228.19h0.5v0.5h-0.5zM432.42,229.34h0.5v0.5h-0.5zM423.59,223.50h0.5v0.5h-0.5zM433.10,217.93h0.5v0.5h-0.5zM427.91,231.74h0.5v0.5h-0.5zM423.66,227.36h0.5v0.5h-0.5zM424.26,229.93h0.5v0.5h-0.5zM435.66,227.50h0.5v0.5h-0.5zM422.84,225.54h0.5v0.5h-0.5zM432.72,231.14h0.5v0.5h-0.5zM425.47,228.37h0.5v0.5h-0.5zM424.98,227.18h0.5v0.5h-0.5zM423.56,230.98h0.5v0.5h-0.5zM420.03,227.55h0.5v0.5h-0.5zM426.16,229.21h0.5v0.5h-0.5zM427.88,223.74h0.5v0.5h-0.5zM421.27,231.92h0.5v0.5h-0.5zM426.14,228.93h0.5v0.5h-0.5zM421.79,231.22h0.5v0.5h-0.5zM424.27,225.31h0.5v0.5h-0.5zM435.70,228.52h0.5v0.5h-0.5zM428.26,226.99h0.5v0.5h-0.5zM420.54,230.72h0.5v0.5h-0.5zM422.55,226.79h0.5v0.5h-0.5zM431.93,233.89h0.5v0.5h-0.5zM423.22,228.82h0.5v0.5h-0.5zM423.35,227.77h0.5v0.5h-0.5zM428.26,231.62h0.5v0.5h-0.5zM429.88,222.64h0.5v0.5h-0.5zM425.24,231.55h0.5v0.5h-0.5zM427.34,226.28h0.5v0.5h-0.5zM422.23,226.02h0.5v0.5h-0.5zM424.74,222.17h0.5v0.5h-0.5zM427.87,232.57h0.5v0.5h-0.5zM430.56,234.15h0.5v0.5h-0.5zM421.56,224.20h0.5v0.5h-0.5zM428.50,225.61h0.5v0.5h-0.5zM424.98,228.04h0.5v0.5h-0.5zM423.16,228.08h0.5v0.5h-0.5zM431.89,225.89h0.5v0.5h-0.5zM423.61,232.84h0.5v0.5h-0.5zM425.18,229.36h0.5v0.5h-0.5zM424.12,231.57h0.5v0.5h-0.5zM422.08,228.96h0.5v0.5h-0.5zM428.38,236.15h0.5v0.5h-0.5zM433.44,229.45h0.5v0.5h-0.5zM423.09,228.91h0.5v0.5h-0.5zM424.71,227.36h0.5v0.5h-0.5zM428.97,231.46h0.5v0.5h-0.5zM420.59,228.23h0.5v0.5h-0.5zM421.74,228.35h0.5v0.5h-0.5zM424.05,230.42h0.5v0.5h-0.5zM424.35,224.53h0.5v0.5h-0.5zM420.40,226.33h0.5v0.5h-0.5zM424.10,227.80h0.5v0.5h-0.5zM422.80,228.32h0.5v0.5h-0.5zM428.54,232.65h0.5v0.5h-0.5zM421.67,225.24h0.5v0.5h-0.5zM420.17,232.56h0.5v0.5h-0.5zM426.09,228.32h0.5v0.5h-0.5zM442.21,236.48h0.5v0.5h-0.5zM425.95,229.16h0.5v0.5h-0.5zM431.80,234.17h0.5v0.5h-0.5zM428.39,223.45h0.5v0.5h-0.5zM420.93,228.26h0.5v0.5h-0.5zM420.44,227.17h0.5v0.5h-0.5zM442.57,224.44h0.5v0.5h-0.5zM433.36,230.85h0.5v0.5h-0.5zM420.22,229.45h0.5v0.5h-0.5zM426.87,226.34h0.5v0.5h-0.5zM423.19,231.43h0.5v0.5h-0.5zM428.69,229.76h0.5v0.5h-0.5zM430.62,223.22h0.5v0.5h-0.5zM433.68,233.87h0.5v0.5h-0.5zM424.83,229.58h0.5v0.5h-0.5zM422.75,229.73h0.5v0.5h-0.5zM431.05,231.13h0.5v0.5h-0.5zM424.70,229.49h0.5v0.5h-0.5zM424.61,228.38h0.5v0.5h-0.5zM429.72,221.08h0.5v0.5h-0.5zM429.22,229.17h0.5v0.5h-0.5zM426.91,230.11h0.5v0.5h-0.5zM424.83,229.34h0.5v0.5h-0.5zM423.95,232.13h0.5v0.5h-0.5zM423.35,228.62h0.5v0.5h-0.5zM430.56,233.46h0.5v0.5h-0.5zM430.23,233.34h0.5v0.5h-0.5zM429.35,225.56h0.5v0.5h-0.5zM427.30,231.48h0.5v0.5h-0.5zM429.34,230.42h0.5v0.5h-0.5zM424.04,228.10h0.5v0.5h-0.5zM424.41,233.82h0.5v0.5h-0.5zM434.78,225.45h0.5v0.5h-0.5zM422.70,227.66h0.5v0.5h-0.5zM420.91,227.43h0.5v0.5h-0.5zM425.22,226.35h0.5v0.5h-0.5zM430.88,228.77h0.5v0.5h-0.5zM423.19,231.46h0.5v0.5h-0.5zM426.37,226.20h0.5v0.5h-0.5zM427.97,229.56h0.5v0.5h-0.5zM422.69,230.27h0.5v0.5h-0.5zM432.22,220.86h0.5v0.5h-0.5zM425.23,230.03h0.5v0.5h-0.5zM429.36,233.82h0.5v0.5h-0.5zM420.44,229.80h0.5v0.5h-0.5zM421.53,229.35h0.5v0.5h-0.5zM423.94,229.93h0.5v0.5h-0.5zM432.03,222.05h0.5v0.5h-0.5zM420.42,230.20h0.5v0.5h-0.5zM421.89,228.22h0.5v0.5h-0.5zM429.96,230.71h0.5v0.5h-0.5zM428.17,229.11h0.5v0.5h-0.5zM421.54,228.72h0.5v0.5h-0.5zM420.35,229.77h0.5v0.5h-0.5zM420.24,229.27h0.5v0.5h-0.5zM420.65,228.16h0.5v0.5h-0.5zM424.75,229.31h0.5v0.5h-0.5zM424.38,232.58h0.5v0.5h-0.5zM442.65,225.54h0.5v0.5h-0.5zM425.49,231.40h0.5v0.5h-0.5zM423.34,228.91h0.5v0.5h-0.5zM430.95,230.62h0.5v0.5h-0.5zM432.69,232.17h0.5v0.5h-0.5zM427.08,229.29h0.5v0.5h-0.5zM429.26,226.03h0.5v0.5h-0.5zM420.64,233.00h0.5v0.5h-0.5zM432.13,229.10h0.5v0.5h-0.5zM437.46,230.10h0.5v0.5h-0.5zM421.12,226.21h0.5v0.5h-0.5zM430.26,232.66h0.5v0.5h-0.5zM426.38,225.30h0.5v0.5h-0.5zM427.69,225.93h0.5v0.5h-0.5zM426.76,229.75h0.5v0.5h-0.5zM420.62,229.69h0.5v0.5h-0.5zM430.11,226.61h0.5v0.5h-0.5zM425.33,229.40h0.5v0.5h-0.5zM434.48,231.61h0.5v0.5h-0.5zM429.39,224.35h0.5v0.5h-0.5zM422.52,230.84h0.5v0.5h-0.5zM428.43,227.53h0.5v0.5h-0.5zM421.71,227.93h0.5v0.5h-0.5zM430.61,228.99h0.5v0.5h-0.5zM439.29,222.59h0.5v0.5h-0.5zM420.12,226.69h0.5v0.5h-0.5zM433.91,222.63h0.5v0.5h-0.5zM428.40,229.96h0.5v0.5h-0.5zM427.29,227.73h0.5v0.5h-0.5zM420.92,232.19h0.5v0.5h-0.5zM422.88,231.38h0.5v0.5h-0.5zM429.94,228.94h0.5v0.5h-0.5zM420.76,228.46h0.5v0.5h-0.5zM435.09,233.63h0.5v0.5h-0.5zM429.18,226.61h0.5v0.5h-0.5zM422.11,230.32h0.5v0.5h-0.5zM421.22,225.69h0.5v0.5h-0.5zM433.02,230.30h0.5v0.5h-0.5zM427.25,230.16h0.5v0.5h-0.5zM434.33,222.82h0.5v0.5h-0.5zM435.65,229.10h0.5v0.5h-0.5zM428.18,226.10h0.5v0.5h-0.5zM422.63,229.35h0.5v0.5h-0.5zM423.91,226.51h0.5v0.5h-0.5zM422.61,228.39h0.5v0.5h-0.5zM426.87,227.76h0.5v0.5h-0.5zM428.35,225.37h0.5v0.5h-0.5zM423.81,229.82h0.5v0.5h-0.5zM427.41,227.53h0.5v0.5h-0.5zM424.96,229.25h0.5v0.5h-0.5zM438.65,230.71h0.5v0.5h-0.5zM425.92,234.32h0.5v0.5h-0.5zM436.55,221.72h0.5v0.5h-0.5zM426.78,228.91h0.5v0.5h-0.5zM430.82,230.82h0.5v0.5h-0.5zM424.58,224.88h0.5v0.5h-0.5zM423.46,227.91h0.5v0.5h-0.5zM428.58,224.76h0.5v0.5h-0.5zM426.38,227.74h0.5v0.5h-0.5zM421.86,228.29h0.5v0.5h-0.5zM426.80,227.17h0.5v0.5h-0.5zM425.53,228.31h0.5v0.5h-0.5zM426.24,230.19h0.5v0.5h-0.5zM428.94,229.21h0.5v0.5h-0.5zM421.08,229.77h0.5v0.5h-0.5zM447.17,231.78h0.5v0.5h-0.5zM422.97,227.41h0.5v0.5h-0.5zM423.37,227.49h0.5v0.5h-0.5zM433.55,239.15h0.5v0.5h-0.5zM422.22,229.39h0.5v0.5h-0.5zM431.09,226.83h0.5v0.5h-0.5zM441.80,227.75h0.5v0.5h-0.5zM428.54,228.27h0.5v0.5h-0.5zM423.06,231.52h0.5v0.5h-0.5zM420.39,226.08h0.5v0.5h-0.5zM425.29,229.77h0.5v0.5h-0.5zM435.69,218.57h0.5v0.5h-0.5zM432.19,225.72h0.5v0.5h-0.5zM422.38,229.69h0.5v0.5h-0.5zM431.69,230.15h0.5v0.5h-0.5zM431.96,225.88h0.5v0.5h-0.5zM428.30,223.25h0.5v0.5h-0.5zM428.11,230.15h0.5v0.5h-0.5zM421.11,232.51h0.5v0.5h-0.5zM424.02,225.69h0.5v0.5h-0.5zM423.61,223.22h0.5v0.5h-0.5zM426.08,229.05h0.5v0.5h-0.5zM433.95,229.67h0.5v0.5h-0.5zM420.50,230.73h0.5v0.5h-0.5zM423.88,226.74h0.5v0.5h-0.5zM421.54,227.83h0.5v0.5h-0.5zM430.95,230.97h0.5v0.5h-0.5zM427.05,225.93h0.5v0.5h-0.5zM426.77,224.93h0.5v0.5h-0.5zM425.91,226.12h0.5v0.5h-0.5zM421.92,229.56h0.5v0.5h-0.5zM431.80,224.65h0.5v0.5h-0.5zM428.75,224.35h0.5v0.5h-0.5zM422.21,229.80h0.5v0.5h-0.5zM429.90,227.78h0.5v0.5h-0.5zM430.87,223.10h0.5v0.5h-0.5zM426.79,230.20h0.5v0.5h-0.5zM425.23,223.28h0.5v0.5h-0.5zM431.06,226.70h0.5v0.5h-0.5zM435.74,223.00h0.5v0.5h-0.5zM443.34,232.11h0.5v0.5h-0.5zM429.43,230.73h0.5v0.5h-0.5zM445.01,228.50h0.5v0.5h-0.5zM420.28,229.11h0.5v0.5h-0.5zM429.61,227.61h0.5v0.5h-0.5zM429.17,229.35h0.5v0.5h-0.5zM420.37,228.99h0.5v0.5h-0.5zM425.89,227.84h0.5v0.5h-0.5zM449.69,228.56h0.5v0.5h-0.5zM427.69,228.24h0.5v0.5h-0.5zM422.32,229.50h0.5v0.5h-0.5zM424.42,227.51h0.5v0.5h-0.5zM434.02,234.33h0.5v0.5h-0.5zM437.63,225.39h0.5v0.5h-0.5zM421.23,229.81h0.5v0.5h-0.5zM432.19,226.00h0.5v0.5h-0.5zM424.63,231.22h0.5v0.5h-0.5zM429.80,227.08h0.5v0.5h-0.5zM423.85,230.96h0.5v0.5h-0.5zM423.15,229.19h0.5v0.5h-0.5zM435.89,231.18h0.5v0.5h-0.5zM420.05,231.51h0.5v0.5h-0.5zM434.01,233.55h0.5v0.5h-0.5zM436.03,229.76h0.5v0.5h-0.5zM439.27,226.65h0.5v0.5h-0.5zM421.09,228.29h0.5v0.5h-0.5zM426.47,229.16h0.5v0.5h-0.5zM437.33,230.73h0.5v0.5h-0.5zM428.35,232.04h0.5v0.5h-0.5zM433.19,226.62h0.5v0.5h-0.5zM433.00,228.35h0.5v0.5h-0.5zM438.55,235.83h0.5v0.5h-0.5zM422.37,231.34h0.5v0.5h-0.5zM429.72,230.53h0.5v0.5h-0.5zM426.77,235.32h0.5v0.5h-0.5zM433.92,228.19h0.5v0.5h-0.5zM442.09,228.71h0.5v0.5h-0.5zM422.68,228.26h0.5v0.5h-0.5zM423.23,227.74h0.5v0.5h-0.5zM425.73,229.64h0.5v0.5h-0.5zM427.13,230.88h0.5v0.5h-0.5zM424.91,228.08h0.5v0.5h-0.5zM426.44,225.89h0.5v0.5h-0.5zM441.06,239.23h0.5v0.5h-0.5zM427.15,227.17h0.5v0.5h-0.5zM426.76,226.26h0.5v0.5h-0.5zM429.55,222.10h0.5v0.5h-0.5zM425.47,226.57h0.5v0.5h-0.5zM429.54,229.64h0.5v0.5h-0.5zM426.33,227.46h0.5v0.5h-0.5zM421.44,228.32h0.5v0.5h-0.5zM420.18,230.82h0.5v0.5h-0.5zM433.99,229.15h0.5v0.5h-0.5zM420.84,230.19h0.5v0.5h-0.5zM420.80,226.80h0.5v0.5h-0.5zM427.36,231.76h0.5v0.5h-0.5zM427.06,231.57h0.5v0.5h-0.5zM443.48,226.04h0.5v0.5h-0.5zM426.19,221.38h0.5v0.5h-0.5zM422.27,226.43h0.5v0.5h-0.5zM424.26,227.97h0.5v0.5h-0.5zM422.72,231.17h0.5v0.5h-0.5zM428.74,231.40h0.5v0.5h-0.5zM425.91,227.98h0.5v0.5h-0.5zM420.16,227.66h0.5v0.5h-0.5zM427.19,228.67h0.5v0.5h-0.5zM424.65,227.96h0.5v0.5h-0.5zM430.40,232.00h0.5v0.5h-0.5zM425.53,233.22h0.5v0.5h-0.5zM422.71,229.10h0.5v0.5h-0.5zM431.43,228.85h0.5v0.5h-0.5zM431.05,229.03h0.5v0.5h-0.5zM438.16,229.99h0.5v0.5h-0.5zM421.06,229.67h0.5v0.5h-0.5zM420.19,232.33h0.5v0.5h-0.5zM421.66,227.50h0.5v0.5h-0.5zM447.07,228.60h0.5v0.5h-0.5zM427.09,228.05h0.5v0.5h-0.5zM422.74,228.36h0.5v0.5h-0.5zM425.53,228.41h0.5v0.5h-0.5zM422.15,227.30h0.5v0.5h-0.5zM427.39,227.48h0.5v0.5h-0.5zM441.90,229.78h0.5v0.5h-0.5zM444.13,226.56h0.5v0.5h-0.5zM421.19,226.99h0.5v0.5h-0.5zM420.30,232.25h0.5v0.5h-0.5zM420.84,227.35h0.5v0.5h-0.5zM422.78,226.67h0.5v0.5h-0.5zM437.33,224.98h0.5v0.5h-0.5zM424.85,227.71h0.5v0.5h-0.5zM424.43,230.06h0.5v0.5h-0.5zM438.37,221.79h0.5v0.5h-0.5zM428.72,224.26h0.5v0.5h-0.5zM424.47,225.91h0.5v0.5h-0.5zM431.45,232.74h0.5v0.5h-0.5zM433.56,223.32h0.5v0.5h-0.5zM430.07,228.44h0.5v0.5h-0.5zM422.64,229.51h0.5v0.5h-0.5zM426.75,227.26h0.5v0.5h-0.5zM424.26,231.24h0.5v0.5h-0.5zM421.83,225.17h0.5v0.5h-0.5zM432.65,229.77h0.5v0.5h-0.5zM433.84,222.67h0.5v0.5h-0.5zM427.13,223.43h0.5v0.5h-0.5zM421.01,232.63h0.5v0.5h-0.5zM436.50,228.78h0.5v0.5h-0.5zM432.28,228.93h0.5v0.5h-0.5zM420.81,229.74h0.5v0.5h-0.5zM420.22,227.40h0.5v0.5h-0.5zM421.58,227.68h0.5v0.5h-0.5zM422.35,230.71h0.5v0.5h-0.5zM431.92,226.34h0.5v0.5h-0.5zM431.49,233.73h0.5v0.5h-0.5zM425.80,228.81h0.5v0.5h-0.5zM429.70,231.21h0.5v0.5h-0.5zM430.63,222.86h0.5v0.5h-0.5zM427.58,231.87h0.5v0.5h-0.5zM421.95,227.27h0.5v0.5h-0.5zM426.57,230.73h0.5v0.5h-0.5zM428.94,226.28h0.5v0.5h-0.5zM423.91,229.77h0.5v0.5h-0.5zM421.81,229.33h0.5v0.5h-0.5zM422.53,223.64h0.5v0.5h-0.5zM420.65,227.04h0.5v0.5h-0.5zM421.96,228.20h0.5v0.5h-0.5zM421.67,230.14h0.5v0.5h-0.5zM429.71,226.09h0.5v0.5h-0.5zM425.15,228.10h0.5v0.5h-0.5zM434.93,228.41h0.5v0.5h-0.5zM426.03,226.63h0.5v0.5h-0.5zM437.28,231.10h0.5v0.5h-0.5zM431.75,229.80h0.5v0.5h-0.5zM433.02,232.36h0.5v0.5h-0.5zM421.56,227.75h0.5v0.5h-0.5zM440.60,231.37h0.5v0.5h-0.5zM424.15,231.59h0.5v0.5h-0.5zM427.73,227.11h0.5v0.5h-0.5zM431.71,231.70h0.5v0.5h-0.5zM424.83,230.85h0.5v0.5h-0.5zM426.71,222.22h0.5v0.5h-0.5zM421.83,230.45h0.5v0.5h-0.5zM421.56,226.14h0.5v0.5h-0.5zM426.80,226.80h0.5v0.5h-0.5zM426.95,229.27h0.5v0.5h-0.5zM429.51,226.04h0.5v0.5h-0.5zM436.50,227.32h0.5v0.5h-0.5zM422.39,227.20h0.5v0.5h-0.5zM421.57,228.72h0.5v0.5h-0.5zM423.20,229.94h0.5v0.5h-0.5zM424.84,227.92h0.5v0.5h-0.5zM421.10,228.88h0.5v0.5h-0.5zM427.92,232.24h0.5v0.5h-0.5zM428.77,230.56h0.5v0.5h-0.5zM425.94,224.72h0.5v0.5h-0.5zM423.51,232.40h0.5v0.5h-0.5zM424.83,225.35h0.5v0.5h-0.5zM439.99,228.42h0.5v0.5h-0.5zM422.58,228.02h0.5v0.5h-0.5zM427.04,224.97h0.5v0.5h-0.5zM421.63,232.26h0.5v0.5h-0.5zM433.30,226.06h0.5v0.5h-0.5zM436.69,229.59h0.5v0.5h-0.5zM422.58,228.87h0.5v0.5h-0.5zM428.98,230.60h0.5v0.5h-0.5zM428.23,225.08h0.5v0.5h-0.5zM428.64,228.17h0.5v0.5h-0.5zM421.20,225.77h0.5v0.5h-0.5zM423.09,231.50h0.5v0.5h-0.5zM435.45,230.27h0.5v0.5h-0.5zM427.70,220.40h0.5v0.5h-0.5zM420.96,225.98h0.5v0.5h-0.5zM423.60,226.72h0.5v0.5h-0.5zM446.09,223.29h0.5v0.5h-0.5zM426.88,230.54h0.5v0.5h-0.5zM432.92,230.87h0.5v0.5h-0.5zM425.04,232.17h0.5v0.5h-0.5z" fill="#231f20" opacity="0.8"/>
<path d="M420.98,232.80h0.5v0.5h-0.5zM424.40,226.39h0.5v0.5h-0.5zM411.64,235.29h0.5v0.5h-0.5zM407.05,221.54h0.5v0.5h-0.5zM409.85,235.59h0.5v0.5h-0.5zM414.68,221.86h0.5v0.5h-0.5zM420.38,233.10h0.5v0.5h-0.5zM405.83,236.54h0.5v0.5h-0.5zM412.17,235.84h0.5v0.5h-0.5zM420.01,234.97h0.5v0.5h-0.5zM406.04,226.68h0.5v0.5h-0.5zM407.83,223.02h0.5v0.5h-0.5zM419.95,233.12h0.5v0.5h-0.5zM415.62,235.15h0.5v0.5h-0.5zM427.44,227.84h0.5v0.5h-0.5zM404.19,232.55h0.5v0.5h-0.5zM405.90,223.81h0.5v0.5h-0.5zM421.84,233.47h0.5v0.5h-0.5zM406.33,225.06h0.5v0.5h-0.5zM421.54,232.43h0.5v0.5h-0.5zM420.50,224.44h0.5v0.5h-0.5zM406.36,231.04h0.5v0.5h-0.5zM414.76,235.35h0.5v0.5h-0.5zM422.32,233.16h0.5v0.5h-0.5zM417.27,222.88h0.5v0.5h-0.5zM423.11,230.04h0.5v0.5h-0.5zM412.16,221.56h0.5v0.5h-0.5zM422.17,232.59h0.5v0.5h-0.5zM405.62,229.94h0.5v0.5h-0.5zM404.84,231.38h0.5v0.5h-0.5zM404.54,229.83h0.5v0.5h-0.5zM421.61,232.47h0.5v0.5h-0.5zM406.08,230.14h0.5v0.5h-0.5zM425.53,226.06h0.5v0.5h-0.5zM423.39,231.69h0.5v0.5h-0.5zM405.02,225.25h0.5v0.5h-0.5zM423.68,229.75h0.5v0.5h-0.5zM403.66,233.75h0.5v0.5h-0.5zM406.28,236.90h0.5v0.5h-0.5zM411.89,236.55h0.5v0.5h-0.5zM409.81,235.76h0.5v0.5h-0.5zM404.52,230.70h0.5v0.5h-0.5zM412.45,235.46h0.5v0.5h-0.5zM409.55,235.18h0.5v0.5h-0.5zM423.75,228.33h0.5v0.5h-0.5zM422.42,226.66h0.5v0.5h-0.5zM408.02,234.16h0.5v0.5h-0.5zM418.90,233.81h0.5v0.5h-0.5zM415.88,234.94h0.5v0.5h-0.5zM411.65,237.92h0.5v0.5h-0.5zM412.91,237.53h0.5v0.5h-0.5zM409.99,236.95h0.5v0.5h-0.5zM413.58,221.75h0.5v0.5h-0.5zM405.79,224.38h0.5v0.5h-0.5zM421.86,227.04h0.5v0.5h-0.5zM419.27,222.91h0.5v0.5h-0.5zM405.73,235.99h0.5v0.5h-0.5zM404.09,226.33h0.5v0.5h-0.5zM414.39,221.87h0.5v0.5h-0.5zM404.86,222.68h0.5v0.5h-0.5zM412.98,236.53h0.5v0.5h-0.5zM408.21,235.10h0.5v0.5h-0.5zM412.02,235.92h0.5v0.5h-0.5zM409.62,222.46h0.5v0.5h-0.5zM418.91,233.46h0.5v0.5h-0.5zM404.91,226.64h0.5v0.5h-0.5zM407.25,233.74h0.5v0.5h-0.5zM406.91,234.70h0.5v0.5h-0.5zM406.04,232.43h0.5v0.5h-0.5zM419.19,234.06h0.5v0.5h-0.5zM411.21,221.59h0.5v0.5h-0.5zM414.81,236.47h0.5v0.5h-0.5zM407.66,223.13h0.5v0.5h-0.5zM423.02,226.38h0.5v0.5h-0.5zM408.23,223.18h0.5v0.5h-0.5zM406.81,232.85h0.5v0.5h-0.5zM411.48,238.29h0.5v0.5h-0.5zM419.65,224.31h0.5v0.5h-0.5zM423.57,231.53h0.5v0.5h-0.5zM403.47,226.36h0.5v0.5h-0.5zM421.86,232.66h0.5v0.5h-0.5zM423.91,228.23h0.5v0.5h-0.5zM421.13,224.04h0.5v0.5h-0.5zM425.36,232.29h0.5v0.5h-0.5zM415.41,223.03h0.5v0.5h-0.5zM406.89,234.12h0.5v0.5h-0.5zM405.47,224.55h0.5v0.5h-0.5zM414.77,223.09h0.5v0.5h-0.5zM405.12,229.24h0.5v0.5h-0.5zM422.51,228.00h0.5v0.5h-0.5zM412.92,235.96h0.5v0.5h-0.5zM425.08,229.03h0.5v0.5h-0.5zM422.93,228.87h0.5v0.5h-0.5zM427.01,225.05h0.5v0.5h-0.5zM421.62,225.32h0.5v0.5h-0.5zM405.40,231.71h0.5v0.5h-0.5zM408.20,234.69h0.5v0.5h-0.5zM419.14,233.39h0.5v0.5h-0.5zM423.10,227.35h0.5v0.5h-0.5zM425.16,227.56h0.5v0.5h-0.5zM405.54,227.86h0.5v0.5h-0.5zM422.13,225.09h0.5v0.5h-0.5zM423.76,231.94h0.5v0.5h-0.5zM415.62,222.65h0.5v0.5h-0.5zM405.26,232.96h0.5v0.5h-0.5zM403.65,234.04h0.5v0.5h-0.5zM416.92,237.03h0.5v0.5h-0.5zM405.79,230.12h0.5v0.5h-0.5zM406.68,233.83h0.5v0.5h-0.5zM414.42,235.02h0.5v0.5h-0.5zM413.62,235.16h0.5v0.5h-0.5zM413.07,237.79h0.5v0.5h-0.5zM422.37,232.54h0.5v0.5h-0.5zM424.16,230.15h0.5v0.5h-0.5zM408.72,222.49h0.5v0.5h-0.5zM414.61,221.29h0.5v0.5h-0.5zM406.36,232.31h0.5v0.5h-0.5zM405.73,222.59h0.5v0.5h-0.5zM410.19,222.37h0.5v0.5h-0.5zM409.26,221.85h0.5v0.5h-0.5zM406.29,234.33h0.5v0.5h-0.5zM413.09,221.95h0.5v0.5h-0.5zM406.50,236.57h0.5v0.5h-0.5zM409.73,235.01h0.5v0.5h-0.5zM417.35,234.60h0.5v0.5h-0.5zM419.24,224.15h0.5v0.5h-0.5zM411.15,236.58h0.5v0.5h-0.5zM418.99,234.45h0.5v0.5h-0.5zM405.64,228.00h0.5v0.5h-0.5zM406.70,222.86h0.5v0.5h-0.5zM407.07,234.53h0.5v0.5h-0.5zM415.63,223.13h0.5v0.5h-0.5zM423.02,229.87h0.5v0.5h-0.5zM419.27,233.19h0.5v0.5h-0.5zM405.95,224.86h0.5v0.5h-0.5zM406.40,233.29h0.5v0.5h-0.5zM405.29,230.20h0.5v0.5h-0.5zM407.66,234.97h0.5v0.5h-0.5zM419.64,223.58h0.5v0.5h-0.5zM416.96,223.30h0.5v0.5h-0.5zM422.70,228.97h0.5v0.5h-0.5zM409.94,235.13h0.5v0.5h-0.5zM420.99,225.44h0.5v0.5h-0.5zM415.54,222.51h0.5v0.5h-0.5zM420.65,233.03h0.5v0.5h-0.5zM406.59,233.91h0.5v0.5h-0.5zM405.29,224.13h0.5v0.5h-0.5zM405.03,232.21h0.5v0.5h-0.5zM413.96,222.93h0.5v0.5h-0.5zM417.29,223.30h0.5v0.5h-0.5zM416.90,223.64h0.5v0.5h-0.5zM416.09,236.39h0.5v0.5h-0.5zM406.37,227.35h0.5v0.5h-0.5zM404.99,227.28h0.5v0.5h-0.5zM420.55,233.99h0.5v0.5h-0.5zM418.42,222.74h0.5v0.5h-0.5zM421.19,231.69h0.5v0.5h-0.5zM405.91,226.39h0.5v0.5h-0.5zM413.98,235.54h0.5v0.5h-0.5zM405.94,230.23h0.5v0.5h-0.5zM405.95,230.33h0.5v0.5h-0.5zM408.61,223.06h0.5v0.5h-0.5zM425.03,227.76h0.5v0.5h-0.5zM407.17,236.55h0.5v0.5h-0.5zM410.84,238.68h0.5v0.5h-0.5zM414.76,222.10h0.5v0.5h-0.5zM406.61,222.93h0.5v0.5h-0.5zM422.88,229.54h0.5v0.5h-0.5zM422.68,231.32h0.5v0.5h-0.5zM421.26,232.78h0.5v0.5h-0.5zM405.64,228.44h0.5v0.5h-0.5zM425.09,224.87h0.5v0.5h-0.5zM405.19,232.80h0.5v0.5h-0.5zM403.64,233.75h0.5v0.5h-0.5zM407.97,235.17h0.5v0.5h-0.5zM424.22,226.99h0.5v0.5h-0.5zM409.98,222.19h0.5v0.5h-0.5zM422.14,227.01h0.5v0.5h-0.5zM406.01,227.11h0.5v0.5h-0.5zM413.19,236.20h0.5v0.5h-0.5zM409.73,236.73h0.5v0.5h-0.5zM423.17,234.69h0.5v0.5h-0.5zM413.25,235.73h0.5v0.5h-0.5zM415.11,235.48h0.5v0.5h-0.5zM412.63,235.20h0.5v0.5h-0.5zM412.23,222.61h0.5v0.5h-0.5zM407.85,222.53h0.5v0.5h-0.5zM403.81,225.42h0.5v0.5h-0.5zM414.78,235.83h0.5v0.5h-0.5zM416.33,223.33h0.5v0.5h-0.5zM418.20,221.38h0.5v0.5h-0.5zM406.70,232.28h0.5v0.5h-0.5zM404.82,228.88h0.5v0.5h-0.5zM413.31,235.60h0.5v0.5h-0.5zM423.55,230.97h0.5v0.5h-0.5zM410.43,221.87h0.5v0.5h-0.5zM405.57,221.27h0.5v0.5h-0.5zM422.17,226.71h0.5v0.5h-0.5zM405.26,228.77h0.5v0.5h-0.5zM420.25,233.36h0.5v0.5h-0.5zM405.18,220.98h0.5v0.5h-0.5zM408.78,235.39h0.5v0.5h-0.5zM406.40,232.28h0.5v0.5h-0.5zM405.18,227.10h0.5v0.5h-0.5zM416.31,222.25h0.5v0.5h-0.5zM412.99,235.26h0.5v0.5h-0.5zM424.07,227.29h0.5v0.5h-0.5zM422.42,226.71h0.5v0.5h-0.5zM406.40,234.10h0.5v0.5h-0.5zM413.66,235.97h0.5v0.5h-0.5zM410.26,222.53h0.5v0.5h-0.5zM405.10,225.28h0.5v0.5h-0.5zM413.76,222.85h0.5v0.5h-0.5zM424.16,226.89h0.5v0.5h-0.5zM424.69,226.59h0.5v0.5h-0.5zM405.59,231.20h0.5v0.5h-0.5zM407.22,234.92h0.5v0.5h-0.5zM412.68,221.66h0.5v0.5h-0.5zM407.14,233.49h0.5v0.5h-0.5zM411.69,222.60h0.5v0.5h-0.5zM409.97,237.30h0.5v0.5h-0.5zM417.50,223.89h0.5v0.5h-0.5zM422.54,226.99h0.5v0.5h-0.5zM422.60,226.30h0.5v0.5h-0.5zM425.62,231.61h0.5v0.5h-0.5zM419.53,223.03h0.5v0.5h-0.5zM406.43,224.85h0.5v0.5h-0.5zM423.00,230.47h0.5v0.5h-0.5zM410.24,235.45h0.5v0.5h-0.5zM409.05,234.94h0.5v0.5h-0.5zM405.50,228.61h0.5v0.5h-0.5zM423.46,233.94h0.5v0.5h-0.5zM421.30,231.92h0.5v0.5h-0.5zM414.36,234.95h0.5v0.5h-0.5zM406.07,233.22h0.5v0.5h-0.5zM405.81,225.69h0.5v0.5h-0.5zM416.87,221.75h0.5v0.5h-0.5zM424.95,229.71h0.5v0.5h-0.5zM403.70,226.48h0.5v0.5h-0.5zM422.77,229.91h0.5v0.5h-0.5zM422.89,232.96h0.5v0.5h-0.5zM423.57,229.54h0.5v0.5h-0.5zM407.23,223.11h0.5v0.5h-0.5zM423.11,230.58h0.5v0.5h-0.5zM411.33,221.67h0.5v0.5h-0.5zM408.12,236.73h0.5v0.5h-0.5zM412.81,237.56h0.5v0.5h-0.5zM423.06,227.83h0.5v0.5h-0.5zM405.40,233.29h0.5v0.5h-0.5zM415.30,221.84h0.5v0.5h-0.5zM405.94,228.44h0.5v0.5h-0.5zM411.25,236.75h0.5v0.5h-0.5zM404.28,230.27h0.5v0.5h-0.5zM408.46,235.10h0.5v0.5h-0.5zM417.04,234.68h0.5v0.5h-0.5zM408.67,236.43h0.5v0.5h-0.5zM423.06,225.89h0.5v0.5h-0.5zM405.88,226.83h0.5v0.5h-0.5zM426.19,229.01h0.5v0.5h-0.5zM403.00,228.33h0.5v0.5h-0.5zM422.74,228.78h0.5v0.5h-0.5zM421.73,231.08h0.5v0.5h-0.5zM421.50,231.56h0.5v0.5h-0.5zM413.85,218.96h0.5v0.5h-0.5zM406.26,224.22h0.5v0.5h-0.5zM420.25,233.74h0.5v0.5h-0.5zM405.48,234.23h0.5v0.5h-0.5zM404.62,226.91h0.5v0.5h-0.5zM406.94,234.17h0.5v0.5h-0.5zM420.40,224.34h0.5v0.5h-0.5zM410.72,221.56h0.5v0.5h-0.5zM406.72,223.03h0.5v0.5h-0.5zM422.81,224.92h0.5v0.5h-0.5zM422.15,227.66h0.5v0.5h-0.5zM413.20,237.61h0.5v0.5h-0.5zM406.89,222.96h0.5v0.5h-0.5zM421.35,233.14h0.5v0.5h-0.5zM408.31,235.44h0.5v0.5h-0.5zM424.36,226.92h0.5v0.5h-0.5zM414.36,235.97h0.5v0.5h-0.5zM419.44,224.77h0.5v0.5h-0.5zM405.64,229.63h0.5v0.5h-0.5zM406.39,230.83h0.5v0.5h-0.5zM410.22,236.22h0.5v0.5h-0.5zM410.26,235.80h0.5v0.5h-0.5zM406.32,226.34h0.5v0.5h-0.5zM417.07,223.38h0.5v0.5h-0.5zM405.30,229.98h0.5v0.5h-0.5zM423.62,233.21h0.5v0.5h-0.5zM422.99,229.03h0.5v0.5h-0.5zM407.46,222.91h0.5v0.5h-0.5zM409.13,235.37h0.5v0.5h-0.5zM409.08,222.56h0.5v0.5h-0.5zM406.63,223.84h0.5v0.5h-0.5zM405.84,228.16h0.5v0.5h-0.5zM405.47,229.44h0.5v0.5h-0.5zM419.85,224.38h0.5v0.5h-0.5zM404.32,227.23h0.5v0.5h-0.5zM410.78,237.33h0.5v0.5h-0.5zM422.05,233.04h0.5v0.5h-0.5zM405.77,226.79h0.5v0.5h-0.5zM406.74,232.53h0.5v0.5h-0.5zM417.52,234.32h0.5v0.5h-0.5zM406.41,226.11h0.5v0.5h-0.5zM417.03,221.45h0.5v0.5h-0.5zM412.67,237.39h0.5v0.5h-0.5zM416.30,222.14h0.5v0.5h-0.5zM404.61,230.57h0.5v0.5h-0.5zM412.25,220.05h0.5v0.5h-0.5zM404.28,230.93h0.5v0.5h-0.5zM416.02,222.49h0.5v0.5h-0.5zM415.78,236.64h0.5v0.5h-0.5zM405.54,233.55h0.5v0.5h-0.5zM405.38,225.10h0.5v0.5h-0.5zM411.37,235.56h0.5v0.5h-0.5zM406.15,230.02h0.5v0.5h-0.5zM420.09,233.62h0.5v0.5h-0.5zM422.67,226.96h0.5v0.5h-0.5zM422.79,229.78h0.5v0.5h-0.5zM419.03,222.65h0.5v0.5h-0.5zM420.38,222.73h0.5v0.5h-0.5zM420.83,234.96h0.5v0.5h-0.5zM419.94,232.96h0.5v0.5h-0.5zM404.64,224.86h0.5v0.5h-0.5zM409.60,222.70h0.5v0.5h-0.5zM408.22,236.17h0.5v0.5h-0.5zM424.95,227.33h0.5v0.5h-0.5zM405.58,231.50h0.5v0.5h-0.5zM420.85,233.21h0.5v0.5h-0.5zM411.99,222.25h0.5v0.5h-0.5zM416.03,235.81h0.5v0.5h-0.5zM419.39,233.29h0.5v0.5h-0.5zM405.22,236.21h0.5v0.5h-0.5zM414.54,222.91h0.5v0.5h-0.5zM406.32,231.86h0.5v0.5h-0.5zM407.50,235.11h0.5v0.5h-0.5zM405.80,227.55h0.5v0.5h-0.5zM416.26,234.57h0.5v0.5h-0.5zM406.69,233.39h0.5v0.5h-0.5zM422.59,229.75h0.5v0.5h-0.5zM403.94,225.82h0.5v0.5h-0.5zM408.84,223.02h0.5v0.5h-0.5zM404.74,230.72h0.5v0.5h-0.5zM421.85,227.14h0.5v0.5h-0.5zM414.92,236.09h0.5v0.5h-0.5zM405.66,227.54h0.5v0.5h-0.5zM407.83,222.01h0.5v0.5h-0.5zM410.06,236.63h0.5v0.5h-0.5zM422.80,226.96h0.5v0.5h-0.5zM425.29,231.06h0.5v0.5h-0.5zM423.78,231.43h0.5v0.5h-0.5zM422.59,230.22h0.5v0.5h-0.5zM422.56,236.36h0.5v0.5h-0.5zM404.77,230.82h0.5v0.5h-0.5zM412.12,235.84h0.5v0.5h-0.5zM421.33,232.98h0.5v0.5h-0.5zM416.43,221.29h0.5v0.5h-0.5zM422.88,231.99h0.5v0.5h-0.5zM406.44,224.25h0.5v0.5h-0.5zM414.78,222.05h0.5v0.5h-0.5zM425.73,229.58h0.5v0.5h-0.5zM406.38,232.06h0.5v0.5h-0.5zM423.55,233.56h0.5v0.5h-0.5zM410.85,235.62h0.5v0.5h-0.5zM411.53,221.87h0.5v0.5h-0.5zM410.25,221.23h0.5v0.5h-0.5zM404.88,223.57h0.5v0.5h-0.5zM405.95,233.11h0.5v0.5h-0.5zM422.06,231.53h0.5v0.5h-0.5zM414.64,222.47h0.5v0.5h-0.5zM424.06,231.75h0.5v0.5h-0.5zM421.99,231.49h0.5v0.5h-0.5zM423.23,226.85h0.5v0.5h-0.5zM406.49,226.37h0.5v0.5h-0.5zM413.87,235.39h0.5v0.5h-0.5zM420.46,225.07h0.5v0.5h-0.5zM414.46,235.17h0.5v0.5h-0.5zM410.73,235.97h0.5v0.5h-0.5zM422.13,227.11h0.5v0.5h-0.5zM422.96,231.19h0.5v0.5h-0.5zM409.85,220.91h0.5v0.5h-0.5zM423.89,226.51h0.5v0.5h-0.5zM410.81,237.58h0.5v0.5h-0.5zM405.78,229.57h0.5v0.5h-0.5zM407.14,239.06h0.5v0.5h-0.5zM413.79,237.61h0.5v0.5h-0.5zM420.12,222.32h0.5v0.5h-0.5zM408.03,234.97h0.5v0.5h-0.5zM423.73,228.50h0.5v0.5h-0.5zM406.84,232.91h0.5v0.5h-0.5zM406.17,228.81h0.5v0.5h-0.5zM422.76,231.19h0.5v0.5h-0.5zM413.50,237.72h0.5v0.5h-0.5zM404.29,228.13h0.5v0.5h-0.5zM415.76,235.10h0.5v0.5h-0.5zM405.47,231.35h0.5v0.5h-0.5zM408.90,235.45h0.5v0.5h-0.5zM409.26,222.42h0.5v0.5h-0.5zM421.03,226.15h0.5v0.5h-0.5zM405.73,229.91h0.5v0.5h-0.5zM418.64,221.25h0.5v0.5h-0.5zM421.78,233.35h0.5v0.5h-0.5zM423.52,233.96h0.5v0.5h-0.5zM422.44,229.95h0.5v0.5h-0.5zM404.98,230.54h0.5v0.5h-0.5zM423.64,228.79h0.5v0.5h-0.5zM405.76,224.25h0.5v0.5h-0.5zM418.00,233.86h0.5v0.5h-0.5zM420.56,225.33h0.5v0.5h-0.5zM404.51,232.17h0.5v0.5h-0.5zM405.55,232.06h0.5v0.5h-0.5zM407.96,223.55h0.5v0.5h-0.5zM406.19,224.44h0.5v0.5h-0.5zM423.52,233.39h0.5v0.5h-0.5zM417.79,222.36h0.5v0.5h-0.5zM403.43,224.41h0.5v0.5h-0.5zM416.70,236.10h0.5v0.5h-0.5zM406.07,228.54h0.5v0.5h-0.5zM406.07,234.47h0.5v0.5h-0.5zM415.83,222.51h0.5v0.5h-0.5zM408.38,234.65h0.5v0.5h-0.5zM412.59,222.77h0.5v0.5h-0.5zM423.39,231.31h0.5v0.5h-0.5zM405.49,225.52h0.5v0.5h-0.5zM406.77,233.77h0.5v0.5h-0.5zM418.20,233.95h0.5v0.5h-0.5zM405.86,227.40h0.5v0.5h-0.5zM404.69,229.30h0.5v0.5h-0.5zM422.52,228.26h0.5v0.5h-0.5zM408.57,223.21h0.5v0.5h-0.5zM409.13,235.38h0.5v0.5h-0.5zM421.78,224.94h0.5v0.5h-0.5zM416.20,220.83h0.5v0.5h-0.5zM405.57,228.23h0.5v0.5h-0.5zM419.09,234.13h0.5v0.5h-0.5zM407.92,220.69h0.5v0.5h-0.5zM410.25,235.82h0.5v0.5h-0.5zM413.02,235.25h0.5v0.5h-0.5zM424.54,231.95h0.5v0.5h-0.5zM405.81,229.72h0.5v0.5h-0.5zM409.24,222.60h0.5v0.5h-0.5zM412.67,236.60h0.5v0.5h-0.5zM404.95,229.38h0.5v0.5h-0.5zM414.31,235.29h0.5v0.5h-0.5zM406.24,225.28h0.5v0.5h-0.5zM420.24,233.60h0.5v0.5h-0.5zM413.19,220.71h0.5v0.5h-0.5zM417.02,223.57h0.5v0.5h-0.5zM411.17,221.43h0.5v0.5h-0.5zM405.21,231.00h0.5v0.5h-0.5zM427.35,227.80h0.5v0.5h-0.5zM422.27,234.97h0.5v0.5h-0.5zM408.65,237.85h0.5v0.5h-0.5zM421.29,224.26h0.5v0.5h-0.5zM413.54,221.51h0.5v0.5h-0.5zM409.11,236.73h0.5v0.5h-0.5zM423.17,230.72h0.5v0.5h-0.5zM405.90,231.07h0.5v0.5h-0.5zM413.94,222.28h0.5v0.5h-0.5zM421.38,226.37h0.5v0.5h-0.5zM414.16,237.40h0.5v0.5h-0.5zM409.18,222.90h0.5v0.5h-0.5zM406.89,234.05h0.5v0.5h-0.5zM417.37,223.36h0.5v0.5h-0.5zM422.89,228.52h0.5v0.5h-0.5zM406.78,233.73h0.5v0.5h-0.5zM421.56,232.63h0.5v0.5h-0.5zM418.85,234.72h0.5v0.5h-0.5zM405.35,230.92h0.5v0.5h-0.5zM409.48,236.76h0.5v0.5h-0.5zM421.88,234.01h0.5v0.5h-0.5zM412.19,236.80h0.5v0.5h-0.5zM405.77,226.31h0.5v0.5h-0.5zM423.64,232.70h0.5v0.5h-0.5zM404.77,230.48h0.5v0.5h-0.5zM415.35,235.35h0.5v0.5h-0.5zM409.03,222.24h0.5v0.5h-0.5zM421.70,231.53h0.5v0.5h-0.5zM410.94,236.63h0.5v0.5h-0.5zM425.61,230.53h0.5v0.5h-0.5zM424.22,230.80h0.5v0.5h-0.5zM415.04,235.12h0.5v0.5h-0.5zM408.14,220.38h0.5v0.5h-0.5zM415.29,236.94h0.5v0.5h-0.5zM405.87,227.86h0.5v0.5h-0.5zM422.64,227.34h0.5v0.5h-0.5zM420.06,225.29h0.5v0.5h-0.5zM408.04,221.79h0.5v0.5h-0.5zM414.26,235.35h0.5v0.5h-0.5zM411.67,236.07h0.5v0.5h-0.5zM406.12,233.75h0.5v0.5h-0.5zM408.21,234.32h0.5v0.5h-0.5zM415.79,223.07h0.5v0.5h-0.5zM405.59,225.91h0.5v0.5h-0.5zM421.85,233.21h0.5v0.5h-0.5zM417.68,235.44h0.5v0.5h-0.5zM420.26,222.10h0.5v0.5h-0.5zM411.46,237.47h0.5v0.5h-0.5zM418.60,233.99h0.5v0.5h-0.5zM414.29,237.18h0.5v0.5h-0.5zM405.82,231.69h0.5v0.5h-0.5zM424.35,228.19h0.5v0.5h-0.5zM411.84,236.92h0.5v0.5h-0.5zM425.55,228.41h0.5v0.5h-0.5zM404.71,228.22h0.5v0.5h-0.5zM410.19,222.39h0.5v0.5h-0.5zM422.87,225.34h0.5v0.5h-0.5zM405.49,230.90h0.5v0.5h-0.5zM420.26,223.06h0.5v0.5h-0.5zM425.00,234.34h0.5v0.5h-0.5zM412.02,222.41h0.5v0.5h-0.5zM424.19,229.38h0.5v0.5h-0.5zM407.26,236.63h0.5v0.5h-0.5zM408.39,234.92h0.5v0.5h-0.5zM420.09,222.95h0.5v0.5h-0.5zM405.32,226.36h0.5v0.5h-0.5zM422.86,228.48h0.5v0.5h-0.5zM407.29,235.29h0.5v0.5h-0.5zM405.68,231.92h0.5v0.5h-0.5zM406.27,231.33h0.5v0.5h-0.5zM424.46,231.33h0.5v0.5h-0.5zM408.14,236.51h0.5v0.5h-0.5zM403.88,231.99h0.5v0.5h-0.5zM409.42,222.54h0.5v0.5h-0.5zM405.26,225.04h0.5v0.5h-0.5zM407.16,224.20h0.5v0.5h-0.5zM420.95,224.72h0.5v0.5h-0.5zM407.88,222.45h0.5v0.5h-0.5zM410.77,222.41h0.5v0.5h-0.5zM410.90,236.50h0.5v0.5h-0.5zM413.94,222.68h0.5v0.5h-0.5zM412.32,236.79h0.5v0.5h-0.5zM425.51,232.50h0.5v0.5h-0.5zM419.55,224.60h0.5v0.5h-0.5zM412.47,220.42h0.5v0.5h-0.5zM421.20,224.38h0.5v0.5h-0.5zM409.33,236.23h0.5v0.5h-0.5zM416.19,234.80h0.5v0.5h-0.5zM405.73,229.49h0.5v0.5h-0.5zM427.21,227.86h0.5v0.5h-0.5zM412.35,235.64h0.5v0.5h-0.5zM422.17,225.94h0.5v0.5h-0.5zM407.75,236.58h0.5v0.5h-0.5zM405.64,237.96h0.5v0.5h-0.5zM418.33,223.97h0.5v0.5h-0.5zM408.97,222.99h0.5v0.5h-0.5zM409.68,235.16h0.5v0.5h-0.5zM415.91,221.78h0.5v0.5h-0.5zM404.33,232.28h0.5v0.5h-0.5zM421.72,232.40h0.5v0.5h-0.5zM405.36,228.59h0.5v0.5h-0.5zM419.83,233.09h0.5v0.5h-0.5zM416.98,234.47h0.5v0.5h-0.5zM406.17,229.67h0.5v0.5h-0.5zM425.52,232.77h0.5v0.5h-0.5zM406.07,228.86h0.5v0.5h-0.5zM419.93,223.69h0.5v0.5h-0.5zM414.02,221.71h0.5v0.5h-0.5zM423.16,229.19h0.5v0.5h-0.5zM425.38,228.69h0.5v0.5h-0.5zM416.97,235.96h0.5v0.5h-0.5zM405.43,225.41h0.5v0.5h-0.5zM411.70,221.83h0.5v0.5h-0.5zM409.01,222.93h0.5v0.5h-0.5zM412.29,221.54h0.5v0.5h-0.5zM416.81,221.51h0.5v0.5h-0.5zM422.63,229.03h0.5v0.5h-0.5zM420.15,233.26h0.5v0.5h-0.5zM411.00,220.69h0.5v0.5h-0.5zM424.99,230.19h0.5v0.5h-0.5zM405.12,231.34h0.5v0.5h-0.5zM409.39,222.91h0.5v0.5h-0.5zM419.69,224.58h0.5v0.5h-0.5zM405.33,231.68h0.5v0.5h-0.5zM414.30,221.64h0.5v0.5h-0.5zM422.22,227.10h0.5v0.5h-0.5zM412.47,235.61h0.5v0.5h-0.5zM406.60,223.33h0.5v0.5h-0.5zM413.25,221.02h0.5v0.5h-0.5zM404.64,228.90h0.5v0.5h-0.5zM405.91,225.26h0.5v0.5h-0.5zM424.11,225.57h0.5v0.5h-0.5zM427.51,229.86h0.5v0.5h-0.5zM407.62,223.47h0.5v0.5h-0.5zM421.00,232.25h0.5v0.5h-0.5zM409.30,235.63h0.5v0.5h-0.5zM418.93,233.49h0.5v0.5h-0.5zM405.64,231.18h0.5v0.5h-0.5zM422.96,231.17h0.5v0.5h-0.5zM405.72,227.15h0.5v0.5h-0.5zM411.98,235.47h0.5v0.5h-0.5zM423.57,226.75h0.5v0.5h-0.5zM424.20,228.62h0.5v0.5h-0.5zM424.46,231.47h0.5v0.5h-0.5zM409.43,235.34h0.5v0.5h-0.5zM409.04,220.89h0.5v0.5h-0.5zM405.85,229.34h0.5v0.5h-0.5zM408.48,223.34h0.5v0.5h-0.5zM407.57,223.44h0.5v0.5h-0.5zM412.25,235.74h0.5v0.5h-0.5zM416.73,222.05h0.5v0.5h-0.5zM414.00,222.02h0.5v0.5h-0.5zM412.76,221.42h0.5v0.5h-0.5zM415.52,236.21h0.5v0.5h-0.5zM411.54,235.63h0.5v0.5h-0.5zM405.77,228.42h0.5v0.5h-0.5zM409.38,222.69h0.5v0.5h-0.5zM416.42,223.47h0.5v0.5h-0.5zM415.69,222.70h0.5v0.5h-0.5zM418.08,224.07h0.5v0.5h-0.5zM405.80,225.86h0.5v0.5h-0.5zM407.65,234.25h0.5v0.5h-0.5zM417.40,236.32h0.5v0.5h-0.5zM420.94,232.34h0.5v0.5h-0.5zM421.64,232.14h0.5v0.5h-0.5zM423.57,233.63h0.5v0.5h-0.5zM405.79,231.69h0.5v0.5h-0.5zM405.36,231.09h0.5v0.5h-0.5zM410.80,235.99h0.5v0.5h-0.5zM410.71,221.57h0.5v0.5h-0.5zM415.91,235.35h0.5v0.5h-0.5zM410.03,236.41h0.5v0.5h-0.5zM413.82,236.45h0.5v0.5h-0.5zM416.94,221.58h0.5v0.5h-0.5zM420.85,233.26h0.5v0.5h-0.5zM423.29,231.58h0.5v0.5h-0.5zM422.19,231.77h0.5v0.5h-0.5zM406.30,228.24h0.5v0.5h-0.5zM410.34,222.90h0.5v0.5h-0.5zM424.20,232.40h0.5v0.5h-0.5zM406.00,234.77h0.5v0.5h-0.5zM415.78,221.97h0.5v0.5h-0.5zM413.94,235.90h0.5v0.5h-0.5zM407.34,234.34h0.5v0.5h-0.5zM416.58,234.75h0.5v0.5h-0.5zM423.37,229.53h0.5v0.5h-0.5zM406.32,233.70h0.5v0.5h-0.5zM407.54,221.93h0.5v0.5h-0.5zM405.84,230.59h0.5v0.5h-0.5zM421.79,232.65h0.5v0.5h-0.5zM406.18,224.16h0.5v0.5h-0.5zM424.80,230.20h0.5v0.5h-0.5zM411.60,222.78h0.5v0.5h-0.5zM405.58,231.05h0.5v0.5h-0.5zM414.56,235.36h0.5v0.5h-0.5zM404.43,231.42h0.5v0.5h-0.5zM406.16,227.50h0.5v0.5h-0.5zM404.73,232.96h0.5v0.5h-0.5zM404.70,225.98h0.5v0.5h-0.5zM416.56,222.85h0.5v0.5h-0.5zM414.00,222.70h0.5v0.5h-0.5zM421.59,231.37h0.5v0.5h-0.5zM421.45,233.41h0.5v0.5h-0.5zM405.86,229.27h0.5v0.5h-0.5zM404.45,231.83h0.5v0.5h-0.5zM407.20,223.99h0.5v0.5h-0.5zM416.19,237.20h0.5v0.5h-0.5zM406.21,230.92h0.5v0.5h-0.5zM406.04,230.80h0.5v0.5h-0.5zM406.10,234.30h0.5v0.5h-0.5zM416.61,234.79h0.5v0.5h-0.5zM413.02,235.44h0.5v0.5h-0.5zM423.10,229.59h0.5v0.5h-0.5zM406.29,234.55h0.5v0.5h-0.5zM419.17,224.77h0.5v0.5h-0.5zM406.93,223.28h0.5v0.5h-0.5zM411.40,235.60h0.5v0.5h-0.5zM405.80,228.50h0.5v0.5h-0.5zM407.95,223.83h0.5v0.5h-0.5zM412.93,236.42h0.5v0.5h-0.5zM408.23,220.85h0.5v0.5h-0.5zM413.60,221.71h0.5v0.5h-0.5zM416.12,222.49h0.5v0.5h-0.5zM420.98,225.07h0.5v0.5h-0.5zM422.59,228.22h0.5v0.5h-0.5zM423.08,231.43h0.5v0.5h-0.5zM406.11,222.02h0.5v0.5h-0.5zM417.57,235.36h0.5v0.5h-0.5zM410.80,237.00h0.5v0.5h-0.5zM417.87,235.52h0.5v0.5h-0.5zM417.67,234.44h0.5v0.5h-0.5zM422.21,231.55h0.5v0.5h-0.5zM422.25,225.85h0.5v0.5h-0.5zM417.47,234.63h0.5v0.5h-0.5zM411.96,221.22h0.5v0.5h-0.5zM406.25,231.80h0.5v0.5h-0.5zM404.52,226.86h0.5v0.5h-0.5zM425.31,231.53h0.5v0.5h-0.5zM413.25,222.62h0.5v0.5h-0.5zM420.94,232.51h0.5v0.5h-0.5zM411.36,236.19h0.5v0.5h-0.5zM417.27,234.24h0.5v0.5h-0.5zM420.31,233.90h0.5v0.5h-0.5zM409.95,237.83h0.5v0.5h-0.5zM413.60,221.62h0.5v0.5h-0.5zM424.13,225.21h0.5v0.5h-0.5zM406.59,225.82h0.5v0.5h-0.5zM404.87,228.09h0.5v0.5h-0.5zM421.81,231.28h0.5v0.5h-0.5zM411.12,222.20h0.5v0.5h-0.5z" fill="#231f20" opacity="0.8"/>
<path d="M423.20,229.00 L423.11,229.77 L422.85,230.53 L422.41,231.28 L421.81,232.00 L421.05,232.69 L420.13,233.34 L419.09,233.93 L417.93,234.45 L416.69,234.91 L415.40,235.27 L414.09,235.54 L412.80,235.70 L411.57,235.75 L410.43,235.67 L409.40,235.47 L408.50,235.15 L407.74,234.70 L407.12,234.14 L406.64,233.47 L406.27,232.70 L406.01,231.85 L405.84,230.94 L405.75,229.98 L405.72,229.00 L405.75,228.02 L405.84,227.06 L406.01,226.15 L406.27,225.30 L406.64,224.53 L407.12,223.86 L407.74,223.30 L408.50,222.85 L409.40,222.53 L410.43,222.33 L411.57,222.25 L412.80,222.30 L414.09,222.46 L415.40,222.73 L416.69,223.09 L417.93,223.55 L419.09,224.07 L420.13,224.66 L421.05,225.31 L421.81,226.00 L422.41,226.72 L422.85,227.47 L423.11,228.23Z" fill="#bcbcbf" stroke="#1a1a1a" stroke-width="1.8" />
<path d="M419.30,229.00 L419.23,229.58 L419.04,230.15 L418.71,230.71 L418.26,231.25 L417.69,231.77 L417.00,232.25 L416.22,232.70 L415.35,233.09 L414.42,233.43 L413.45,233.70 L412.47,233.90 L411.50,234.03 L410.58,234.06 L409.72,234.00 L408.95,233.86 L408.27,233.61 L407.71,233.28 L407.24,232.85 L406.88,232.35 L406.61,231.77 L406.41,231.14 L406.28,230.45 L406.21,229.73 L406.19,229.00 L406.21,228.27 L406.28,227.55 L406.41,226.86 L406.61,226.23 L406.88,225.65 L407.24,225.15 L407.71,224.72 L408.27,224.39 L408.95,224.14 L409.72,224.00 L410.58,223.94 L411.50,223.97 L412.47,224.10 L413.45,224.30 L414.42,224.57 L415.35,224.91 L416.22,225.30 L417.00,225.75 L417.69,226.23 L418.26,226.75 L418.71,227.29 L419.04,227.85 L419.23,228.42Z" fill="none" stroke="#ffffff" stroke-width="0.6" />
<path d="M416.20,229.00 L416.15,229.39 L416.02,229.77 L415.81,230.14 L415.51,230.50 L415.12,230.85 L414.67,231.17 L414.14,231.46 L413.56,231.73 L412.94,231.95 L412.30,232.14 L411.64,232.27 L411.00,232.35 L410.38,232.37 L409.81,232.34 L409.30,232.24 L408.85,232.08 L408.47,231.85 L408.16,231.57 L407.92,231.23 L407.74,230.85 L407.61,230.42 L407.52,229.97 L407.47,229.49 L407.46,229.00 L407.47,228.51 L407.52,228.03 L407.61,227.58 L407.74,227.15 L407.92,226.77 L408.16,226.43 L408.47,226.15 L408.85,225.92 L409.30,225.76 L409.81,225.66 L410.38,225.63 L411.00,225.65 L411.64,225.73 L412.30,225.86 L412.94,226.05 L413.56,226.27 L414.14,226.54 L414.67,226.83 L415.12,227.15 L415.51,227.50 L415.81,227.86 L416.02,228.23 L416.15,228.61Z" fill="none" stroke="#6d6e71" stroke-width="0.6" />
<path d="M413.47,229.00 L413.45,229.22 L413.37,229.43 L413.25,229.64 L413.08,229.84 L412.87,230.03 L412.61,230.21 L412.32,230.38 L412.00,230.53 L411.65,230.65 L411.29,230.76 L410.92,230.83 L410.56,230.88 L410.22,230.89 L409.90,230.87 L409.61,230.81 L409.36,230.72 L409.14,230.60 L408.97,230.44 L408.83,230.25 L408.73,230.04 L408.66,229.80 L408.61,229.54 L408.59,229.27 L408.58,229.00 L408.59,228.73 L408.61,228.46 L408.66,228.20 L408.73,227.96 L408.83,227.75 L408.97,227.56 L409.14,227.40 L409.36,227.28 L409.61,227.19 L409.90,227.13 L410.22,227.11 L410.56,227.12 L410.92,227.17 L411.29,227.24 L411.65,227.35 L412.00,227.47 L412.32,227.62 L412.61,227.79 L412.87,227.97 L413.08,228.16 L413.25,228.36 L413.37,228.57 L413.45,228.78Z" fill="none" stroke="#ffffff" stroke-width="0.6" />
<circle cx="412.20" cy="238.30" r="0.9" fill="#ffffff" />
<line x1="424.50" y1="211.50" x2="424.50" y2="254.60" stroke="#231f20" stroke-width="0.8" />
<line x1="399.00" y1="236.50" x2="443.00" y2="236.50" stroke="#231f20" stroke-width="0.8" />
<text x="422.50" y="206.50" font-size="6.8" fill="#3a3a3c" text-anchor="middle" stroke="#3a3a3c" stroke-width="0.14">cCD3<tspan font-size="4.5" dy="-2.6">+</tspan><tspan dy="2.6">KIT</tspan><tspan font-size="4.5" dy="-2.6">+</tspan></text>
<text x="400.50" y="219.30" font-size="7" fill="#d2233c" stroke="#d2233c" stroke-width="0.2">K38<tspan font-size="4.5" dy="-2.6">+</tspan></text>
<text x="428.00" y="217.50" font-size="5.6" fill="#f0b030" stroke="#f0b030" stroke-width="0.14">K38<tspan font-size="4" dy="-2.3">+</tspan></text>
<text x="431.00" y="223.50" font-size="5.6" fill="#f0b030" stroke="#f0b030" stroke-width="0.14">34<tspan font-size="4" dy="-2.3">+</tspan></text>
<text x="400.50" y="252.00" font-size="6.6" fill="#b5bd7a" stroke="#b5bd7a" stroke-width="0.14">KDN</text>
<text x="397.00" y="257.30" font-size="8.8" fill="#3a3a3c" textLength="20.5" lengthAdjust="spacingAndGlyphs" stroke="#3a3a3c" stroke-width="0.25" transform="rotate(-90 397.00 257.30)">CD38</text>
<line x1="393.50" y1="233.50" x2="393.50" y2="218.00" stroke="#231f20" stroke-width="0.9" />
<path d="M393.50,214.50 L391.80,218.50 L395.20,218.50 Z" fill="#231f20" />
<text x="392.50" y="270.40" font-size="8.8" fill="#3a3a3c" textLength="16.2" lengthAdjust="spacingAndGlyphs" stroke="#3a3a3c" stroke-width="0.25">CD34</text>
<line x1="412.00" y1="267.50" x2="438.00" y2="267.50" stroke="#231f20" stroke-width="0.9" />
<path d="M441.50,267.50 L437.50,265.80 L437.50,269.20 Z" fill="#231f20" />
<line x1="449.50" y1="222.00" x2="449.50" y2="246.50" stroke="#231f20" stroke-width="0.8" />
<line x1="449.40" y1="246.50" x2="456.80" y2="246.50" stroke="#231f20" stroke-width="0.8" />
<path d="M459.80,246.50 L456.30,245.00 L456.30,248.00 Z" fill="#231f20" />
<g transform="translate(452.00,228.80) rotate(56.65)" fill="none" stroke="#4a4a4e" stroke-width="0.75"><path d="M0,-1.6 L0,1.6 M0,0 L2,0 M2.2,-1.6 L2.2,1.6 M2.2,-1.1 L11.50,-1.1 L13.00,0 L11.50,1.1 L2.2,1.1"/><path d="M13.00,0 L18.56,0" stroke="#231f20" stroke-width="0.675"/><path d="M4.00,-1.1 L4.00,0" stroke-width="0.4"/><path d="M5.63,-1.1 L5.63,0" stroke-width="0.4"/><path d="M7.25,-1.1 L7.25,0" stroke-width="0.4"/><path d="M8.88,-1.1 L8.88,0" stroke-width="0.4"/></g>
<path d="M462.4,244.5 L463.5,250 Q463.8,251.7 465.2,251.7 L469.6,251.7" fill="none" stroke="#4a4a4e" stroke-width="0.75" />
<g transform="translate(469.60,251.70) scale(1.0)" fill="#fff" stroke="#4a4a4e" stroke-width="0.75" stroke-linecap="round" stroke-linejoin="round"><path d="M0,0 L-3.5,0 C-4.5,0 -4.5,-0.8 -4.7,-2 L-5.6,-6.5" fill="none"/><path d="M0,0 L0,-6 C0,-9 1.5,-11 4,-11.5 L9,-8 L10,-3 L10,0 Z"/><path d="M0,0 L10,0 L10.5,-0.5 L12,-0.5" fill="none"/><circle cx="2.4" cy="-14.2" r="2.7"/><circle cx="11.5" cy="-16" r="3.0"/><path d="M4.5,-12 C5,-14.5 9,-15.5 12,-14 C14,-12.8 15,-10 15.8,-8.2 C16.2,-7.2 15.5,-6.5 14.5,-6.4 C12,-6 9,-6.2 7.5,-7.5 C5.5,-9 4.3,-10.5 4.5,-12 Z"/><circle cx="9.2" cy="-11.2" r="0.9" fill="#4a4a4e" stroke="none"/><circle cx="11.2" cy="-11.6" r="0.9" fill="#4a4a4e" stroke="none"/><circle cx="15.4" cy="-7.6" r="0.7" fill="#231f20" stroke="none"/><path d="M12.5,-6.8 L17.8,-6 M12.5,-6.8 L17.5,-8 M12.5,-6.8 L17,-4.8" fill="none" stroke-width="0.5"/><path d="M10,-5 L13,-6.2" fill="none" stroke="#231f20"/></g>
<line x1="485.80" y1="246.50" x2="498.60" y2="246.50" stroke="#231f20" stroke-width="0.9" />
<line x1="498.50" y1="246.60" x2="498.50" y2="263.70" stroke="#231f20" stroke-width="0.9" />
<path d="M498.60,267.20 L496.90,263.20 L500.30,263.20 Z" fill="#231f20" />
<text x="471.00" y="259.20" font-size="7.2" fill="#3a3a3c" text-anchor="middle" textLength="29.6" lengthAdjust="spacingAndGlyphs" stroke="#3a3a3c" stroke-width="0.2">Recipients</text>
<text x="471.00" y="266.80" font-size="7.2" fill="#3a3a3c" text-anchor="middle" textLength="25.3" lengthAdjust="spacingAndGlyphs" stroke="#3a3a3c" stroke-width="0.2">(mCd45)</text>
<text x="317.60" y="298.60" font-size="12" stroke="#231f20" stroke-width="0.25" font-weight="bold">D</text>
<line x1="350.50" y1="309.40" x2="350.50" y2="379.50" stroke="#231f20" stroke-width="1.0" />
<line x1="350.40" y1="379.50" x2="395.60" y2="379.50" stroke="#231f20" stroke-width="1.0" />
<line x1="347.90" y1="379.50" x2="350.40" y2="379.50" stroke="#231f20" stroke-width="0.9" />
<text x="344.40" y="381.90" font-size="6.6" fill="#3a3a3c" text-anchor="end" stroke="#3a3a3c" stroke-width="0.14">0</text>
<line x1="347.90" y1="357.50" x2="350.40" y2="357.50" stroke="#231f20" stroke-width="0.9" />
<text x="344.40" y="359.52" font-size="6.6" fill="#3a3a3c" text-anchor="end" stroke="#3a3a3c" stroke-width="0.14">2000</text>
<line x1="347.90" y1="334.50" x2="350.40" y2="334.50" stroke="#231f20" stroke-width="0.9" />
<text x="344.40" y="337.14" font-size="6.6" fill="#3a3a3c" text-anchor="end" stroke="#3a3a3c" stroke-width="0.14">4000</text>
<line x1="347.90" y1="312.50" x2="350.40" y2="312.50" stroke="#231f20" stroke-width="0.9" />
<text x="344.40" y="314.76" font-size="6.6" fill="#3a3a3c" text-anchor="end" stroke="#3a3a3c" stroke-width="0.14">6000</text>
<text x="325.80" y="343.20" font-size="7.8" fill="#3a3a3c" text-anchor="middle" textLength="38.5" lengthAdjust="spacingAndGlyphs" stroke="#3a3a3c" stroke-width="0.2" transform="rotate(-90 325.80 343.20)">pSTAT5 (MFI)</text>
<rect x="354.50" y="357.12" width="6.90" height="22.38" fill="#dcdce4" />
<line x1="357.50" y1="379.50" x2="357.50" y2="382.00" stroke="#231f20" stroke-width="0.9" />
<rect x="364.90" y="349.85" width="6.20" height="29.65" fill="#cfd6b8" />
<line x1="368.50" y1="379.50" x2="368.50" y2="382.00" stroke="#231f20" stroke-width="0.9" />
<rect x="375.10" y="339.78" width="6.40" height="39.72" fill="#e07c68" />
<line x1="378.50" y1="379.50" x2="378.50" y2="382.00" stroke="#231f20" stroke-width="0.9" />
<rect x="385.20" y="326.91" width="6.50" height="52.59" fill="#fcd480" />
<line x1="388.50" y1="379.50" x2="388.50" y2="382.00" stroke="#231f20" stroke-width="0.9" />
<circle cx="356.50" cy="358.24" r="0.9" fill="#b0b0bc" />
<circle cx="358.50" cy="353.76" r="0.9" fill="#b0b0bc" />
<circle cx="359.50" cy="357.68" r="0.9" fill="#b0b0bc" />
<circle cx="366.50" cy="350.41" r="0.9" fill="#a8b488" />
<circle cx="368.00" cy="349.29" r="0.9" fill="#a8b488" />
<circle cx="369.50" cy="350.18" r="0.9" fill="#a8b488" />
<circle cx="377.00" cy="341.45" r="1.0" fill="#c8102e" />
<circle cx="378.50" cy="336.42" r="1.0" fill="#c8102e" />
<circle cx="380.50" cy="341.45" r="1.0" fill="#c8102e" />
<circle cx="387.00" cy="329.14" r="1.0" fill="#f4c040" />
<circle cx="388.50" cy="321.31" r="1.0" fill="#f4c040" />
<circle cx="390.30" cy="329.14" r="1.0" fill="#f4c040" />
<line x1="388.50" y1="332.50" x2="388.50" y2="320.19" stroke="#f0b830" stroke-width="0.8" />
<line x1="386.80" y1="320.50" x2="390.00" y2="320.50" stroke="#f0b830" stroke-width="0.8" />
<line x1="357.90" y1="318.00" x2="388.40" y2="318.00" stroke="#6d6e71" stroke-width="1.2" />
<line x1="368.00" y1="317.20" x2="388.40" y2="317.20" stroke="#6d6e71" stroke-width="1.2" />
<line x1="378.30" y1="316.40" x2="388.40" y2="316.40" stroke="#58595b" stroke-width="1.2" />
<text x="383.60" y="314.30" font-size="6.5" text-anchor="middle" stroke="#231f20" stroke-width="0.14">*</text>
<text x="359.20" y="389.60" font-size="6.4" fill="#c4c4cc" text-anchor="end" stroke="#c4c4cc" stroke-width="0.14" transform="rotate(-45 359.20 389.60)">TN</text>
<text x="369.60" y="389.60" font-size="6.4" fill="#b8c090" text-anchor="end" stroke="#b8c090" stroke-width="0.14" transform="rotate(-45 369.60 389.60)">KDN</text>
<text x="380.10" y="389.60" font-size="6.4" fill="#c8102e" text-anchor="end" stroke="#c8102e" stroke-width="0.14" transform="rotate(-45 380.10 389.60)">K38<tspan font-size="4" dy="-2">+</tspan></text>
<text x="390.30" y="389.60" font-size="6.4" fill="#f0c050" text-anchor="end" stroke="#f0c050" stroke-width="0.14" transform="rotate(-45 390.30 389.60)">K38<tspan font-size="4" dy="-2">+</tspan></text>
<text x="394.50" y="394.00" font-size="6.4" fill="#f0c050" text-anchor="end" stroke="#f0c050" stroke-width="0.14" transform="rotate(-45 394.50 394.00)">34<tspan font-size="4" dy="-2">+</tspan></text>
<line x1="438.50" y1="309.00" x2="438.50" y2="379.50" stroke="#231f20" stroke-width="1.0" />
<line x1="438.30" y1="379.50" x2="508.70" y2="379.50" stroke="#231f20" stroke-width="1.0" />
<line x1="435.80" y1="379.50" x2="438.30" y2="379.50" stroke="#231f20" stroke-width="0.9" />
<text x="431.90" y="381.90" font-size="6.8" fill="#3a3a3c" text-anchor="end" stroke="#3a3a3c" stroke-width="0.14">0</text>
<line x1="435.80" y1="362.50" x2="438.30" y2="362.50" stroke="#231f20" stroke-width="0.9" />
<text x="431.90" y="365.00" font-size="6.8" fill="#3a3a3c" text-anchor="end" stroke="#3a3a3c" stroke-width="0.14">25</text>
<line x1="435.80" y1="345.50" x2="438.30" y2="345.50" stroke="#231f20" stroke-width="0.9" />
<text x="431.90" y="348.10" font-size="6.8" fill="#3a3a3c" text-anchor="end" stroke="#3a3a3c" stroke-width="0.14">50</text>
<line x1="435.80" y1="328.50" x2="438.30" y2="328.50" stroke="#231f20" stroke-width="0.9" />
<text x="431.90" y="331.20" font-size="6.8" fill="#3a3a3c" text-anchor="end" stroke="#3a3a3c" stroke-width="0.14">75</text>
<line x1="435.80" y1="311.50" x2="438.30" y2="311.50" stroke="#231f20" stroke-width="0.9" />
<text x="431.90" y="314.30" font-size="6.8" fill="#3a3a3c" text-anchor="end" stroke="#3a3a3c" stroke-width="0.14">100</text>
<line x1="438.50" y1="379.50" x2="438.50" y2="382.00" stroke="#231f20" stroke-width="0.8" />
<line x1="443.50" y1="379.50" x2="443.50" y2="381.00" stroke="#231f20" stroke-width="0.8" />
<line x1="449.50" y1="379.50" x2="449.50" y2="381.00" stroke="#231f20" stroke-width="0.8" />
<line x1="455.50" y1="379.50" x2="455.50" y2="381.00" stroke="#231f20" stroke-width="0.8" />
<line x1="460.50" y1="379.50" x2="460.50" y2="382.00" stroke="#231f20" stroke-width="0.8" />
<line x1="466.50" y1="379.50" x2="466.50" y2="381.00" stroke="#231f20" stroke-width="0.8" />
<line x1="472.50" y1="379.50" x2="472.50" y2="381.00" stroke="#231f20" stroke-width="0.8" />
<line x1="477.50" y1="379.50" x2="477.50" y2="381.00" stroke="#231f20" stroke-width="0.8" />
<line x1="483.50" y1="379.50" x2="483.50" y2="382.00" stroke="#231f20" stroke-width="0.8" />
<line x1="489.50" y1="379.50" x2="489.50" y2="381.00" stroke="#231f20" stroke-width="0.8" />
<line x1="495.50" y1="379.50" x2="495.50" y2="381.00" stroke="#231f20" stroke-width="0.8" />
<line x1="500.50" y1="379.50" x2="500.50" y2="381.00" stroke="#231f20" stroke-width="0.8" />
<line x1="506.50" y1="379.50" x2="506.50" y2="382.00" stroke="#231f20" stroke-width="0.8" />
<text x="438.30" y="391.40" font-size="6.8" fill="#3a3a3c" text-anchor="middle" stroke="#3a3a3c" stroke-width="0.14">0</text>
<text x="460.98" y="391.40" font-size="6.8" fill="#3a3a3c" text-anchor="middle" stroke="#3a3a3c" stroke-width="0.14">4</text>
<text x="483.66" y="391.40" font-size="6.8" fill="#3a3a3c" text-anchor="middle" stroke="#3a3a3c" stroke-width="0.14">8</text>
<text x="506.34" y="391.40" font-size="6.8" fill="#3a3a3c" text-anchor="middle" stroke="#3a3a3c" stroke-width="0.14">12</text>
<text x="416.20" y="343.90" font-size="7.2" fill="#3a3a3c" text-anchor="middle" textLength="80.8" lengthAdjust="spacingAndGlyphs" stroke="#3a3a3c" stroke-width="0.2" transform="rotate(-90 416.20 343.90)">Leukemia-free survival (%)</text>
<text x="473.50" y="402.50" font-size="7.6" fill="#3a3a3c" text-anchor="middle" textLength="69" lengthAdjust="spacingAndGlyphs" stroke="#3a3a3c" stroke-width="0.2">Weeks post-transplant</text>
<line x1="438.30" y1="312.50" x2="508.00" y2="312.50" stroke="#b8bca8" stroke-width="1.3" />
<path d="M473.454,311.9 L477.99,311.9 L477.99,325.42 L480.825,325.42 L480.825,338.94 L481.392,338.94 L481.392,352.46 L482.526,352.46 L482.526,365.98 L484.22700000000003,365.98 L484.22700000000003,379.5" fill="none" stroke="#f2c230" stroke-width="1.3" />
<path d="M438.3,311.9 L488.76300000000003,311.9 L488.76300000000003,325.42 L491.031,325.42 L491.031,338.94 L494.433,338.94 L494.433,352.46 L506.34000000000003,352.46" fill="none" stroke="#b3203c" stroke-width="1.3" />
<circle cx="488.76" cy="325.42" r="1.0" fill="#fff" stroke="#b3203c" stroke-width="0.6"/>
<circle cx="492.17" cy="338.94" r="1.0" fill="#fff" stroke="#b3203c" stroke-width="0.6"/>
<circle cx="494.43" cy="352.46" r="1.0" fill="#fff" stroke="#b3203c" stroke-width="0.6"/>
<circle cx="506.34" cy="352.46" r="1.0" fill="#fff" stroke="#b3203c" stroke-width="0.6"/>
<line x1="476.79" y1="325.50" x2="479.19" y2="325.50" stroke="#e0a820" stroke-width="0.8" />
<line x1="479.62" y1="338.50" x2="482.02" y2="338.50" stroke="#e0a820" stroke-width="0.8" />
<line x1="480.19" y1="352.50" x2="482.59" y2="352.50" stroke="#e0a820" stroke-width="0.8" />
<line x1="481.33" y1="365.50" x2="483.73" y2="365.50" stroke="#e0a820" stroke-width="0.8" />
<text x="496.40" y="309.50" font-size="6.2" fill="#b8b8bc" stroke="#b8b8bc" stroke-width="0.14">TN</text>
<text x="495.80" y="318.30" font-size="6.2" fill="#b8c090" stroke="#b8c090" stroke-width="0.14">KDN</text>
<text x="495.80" y="349.90" font-size="6.6" fill="#c8102e" stroke="#c8102e" stroke-width="0.14">K38<tspan font-size="4" dy="-2.3">+</tspan></text>
<text x="485.80" y="366.00" font-size="6.5" stroke="#231f20" stroke-width="0.14">**</text>
<text x="485.80" y="376.00" font-size="6.6" fill="#f0b830" stroke="#f0b830" stroke-width="0.14">K38<tspan font-size="4" dy="-2.3">+</tspan><tspan dy="2.3">34</tspan><tspan font-size="4" dy="-2.3">+</tspan></text>
<text x="7.00" y="432.00" font-size="12" stroke="#231f20" stroke-width="0.25" font-weight="bold">E</text>
<g fill="#bcbcc0" stroke="#fff" stroke-width="0.26" transform="translate(18.50,455.80) scale(1.35) translate(-18.50,-455.80)"><ellipse cx="20.50" cy="458.80" rx="2.6" ry="1.9"/><ellipse cx="24.50" cy="457.80" rx="2.6" ry="1.9"/><ellipse cx="28.50" cy="457.80" rx="2.6" ry="1.9"/><ellipse cx="32.50" cy="458.80" rx="2.6" ry="1.9"/><ellipse cx="22.50" cy="461.80" rx="2.6" ry="1.9"/><ellipse cx="26.50" cy="461.30" rx="2.6" ry="1.9"/><ellipse cx="30.50" cy="461.80" rx="2.6" ry="1.9"/><ellipse cx="34.50" cy="461.80" rx="2.6" ry="1.9"/><ellipse cx="19.50" cy="462.30" rx="2.6" ry="1.9"/><ellipse cx="24.50" cy="463.80" rx="2.6" ry="1.9"/><ellipse cx="28.50" cy="464.30" rx="2.6" ry="1.9"/><ellipse cx="32.50" cy="464.30" rx="2.6" ry="1.9"/></g>
<text x="31.80" y="478.60" font-size="7.2" fill="#f4c048" text-anchor="middle" textLength="16" lengthAdjust="spacingAndGlyphs" stroke="#f4c048" stroke-width="0.2">ETP6</text>
<text x="32.00" y="487.30" font-size="7.2" fill="#3a3a3c" text-anchor="middle" textLength="28.5" lengthAdjust="spacingAndGlyphs" stroke="#3a3a3c" stroke-width="0.2">(hCD45+)</text>
<g transform="translate(50.70,463.00) rotate(56.31)" fill="none" stroke="#4a4a4e" stroke-width="0.75"><path d="M0,-1.6 L0,1.6 M0,0 L2,0 M2.2,-1.6 L2.2,1.6 M2.2,-1.1 L15.42,-1.1 L16.92,0 L15.42,1.1 L2.2,1.1"/><path d="M16.92,0 L24.88,0" stroke="#231f20" stroke-width="0.675"/><path d="M4.00,-1.1 L4.00,0" stroke-width="0.4"/><path d="M6.61,-1.1 L6.61,0" stroke-width="0.4"/><path d="M9.21,-1.1 L9.21,0" stroke-width="0.4"/><path d="M11.82,-1.1 L11.82,0" stroke-width="0.4"/></g>
<path d="M64.6,484 L65.8,491 Q66.1,493.3 67.8,493.3 L73.7,493.3" fill="none" stroke="#4a4a4e" stroke-width="0.75" />
<g transform="translate(73.70,493.30) scale(1.33)" fill="#fff" stroke="#4a4a4e" stroke-width="0.56" stroke-linecap="round" stroke-linejoin="round"><path d="M0,0 L-3.5,0 C-4.5,0 -4.5,-0.8 -4.7,-2 L-5.6,-6.5" fill="none"/><path d="M0,0 L0,-6 C0,-9 1.5,-11 4,-11.5 L9,-8 L10,-3 L10,0 Z"/><path d="M0,0 L10,0 L10.5,-0.5 L12,-0.5" fill="none"/><circle cx="2.4" cy="-14.2" r="2.7"/><circle cx="11.5" cy="-16" r="3.0"/><path d="M4.5,-12 C5,-14.5 9,-15.5 12,-14 C14,-12.8 15,-10 15.8,-8.2 C16.2,-7.2 15.5,-6.5 14.5,-6.4 C12,-6 9,-6.2 7.5,-7.5 C5.5,-9 4.3,-10.5 4.5,-12 Z"/><circle cx="9.2" cy="-11.2" r="0.9" fill="#4a4a4e" stroke="none"/><circle cx="11.2" cy="-11.6" r="0.9" fill="#4a4a4e" stroke="none"/><circle cx="15.4" cy="-7.6" r="0.7" fill="#231f20" stroke="none"/><path d="M12.5,-6.8 L17.8,-6 M12.5,-6.8 L17.5,-8 M12.5,-6.8 L17,-4.8" fill="none" stroke-width="0.5"/><path d="M10,-5 L13,-6.2" fill="none" stroke="#231f20"/></g>
<text x="73.10" y="503.70" font-size="7.2" fill="#3a3a3c" text-anchor="middle" textLength="29.6" lengthAdjust="spacingAndGlyphs" stroke="#3a3a3c" stroke-width="0.2">Recipients</text>
<text x="73.10" y="512.40" font-size="7.2" fill="#3a3a3c" text-anchor="middle" textLength="25.3" lengthAdjust="spacingAndGlyphs" stroke="#3a3a3c" stroke-width="0.2">(mCd45)</text>
<line x1="93.40" y1="493.50" x2="255.70" y2="493.50" stroke="#231f20" stroke-width="0.9" />
<line x1="129.50" y1="493.90" x2="129.50" y2="491.00" stroke="#231f20" stroke-width="0.8" />
<line x1="165.50" y1="493.90" x2="165.50" y2="497.00" stroke="#231f20" stroke-width="0.8" />
<line x1="202.50" y1="493.90" x2="202.50" y2="497.00" stroke="#231f20" stroke-width="0.8" />
<line x1="238.50" y1="493.90" x2="238.50" y2="497.00" stroke="#231f20" stroke-width="0.8" />
<path d="M166.05,504.30 L168.34,495.60 L170.64,504.30 Z M171.34,504.30 L173.63,495.60 L175.92,504.30 Z M176.62,504.30 L178.91,495.60 L181.21,504.30 Z M181.91,504.30 L184.20,495.60 L186.49,504.30 Z M187.19,504.30 L189.49,495.60 L191.78,504.30 Z M192.48,504.30 L194.77,495.60 L197.06,504.30 Z M197.76,504.30 L200.06,495.60 L202.35,504.30 Z " fill="#c8102e" />
<path d="M219.15,504.30 L221.42,495.60 L223.69,504.30 Z M224.39,504.30 L226.66,495.60 L228.94,504.30 Z M229.64,504.30 L231.91,495.60 L234.18,504.30 Z M234.88,504.30 L237.15,495.60 L239.42,504.30 Z M240.12,504.30 L242.39,495.60 L244.66,504.30 Z M245.36,504.30 L247.64,495.60 L249.91,504.30 Z M250.61,504.30 L252.88,495.60 L255.15,504.30 Z " fill="#c8102e" />
<line x1="255.50" y1="493.90" x2="255.50" y2="513.50" stroke="#231f20" stroke-width="0.9" />
<path d="M255.50,517.50 L253.60,513.00 L257.40,513.00 Z" fill="#231f20" />
<line x1="259.70" y1="493.50" x2="327.80" y2="493.50" stroke="#231f20" stroke-width="0.9" />
<path d="M332.30,493.70 L327.30,491.70 L327.30,495.70 Z" fill="#231f20" />
<text x="336.50" y="496.40" font-size="7" fill="#3a3a3c" stroke="#3a3a3c" stroke-width="0.2">leukemia</text>
<text x="206.50" y="514.30" font-size="7.2" fill="#c8102e" text-anchor="middle" textLength="27.7" lengthAdjust="spacingAndGlyphs" stroke="#c8102e" stroke-width="0.2">Pimozide</text>
<defs>
<linearGradient id="gN" x1="0" y1="0" x2="0" y2="1"><stop offset="0" stop-color="#0f2f66"/><stop offset="1" stop-color="#3d5f96"/></linearGradient>
<linearGradient id="g2" x1="0" y1="0" x2="0" y2="1"><stop offset="0" stop-color="#3e5288"/><stop offset="1" stop-color="#8f9cc4"/></linearGradient>
<linearGradient id="g3" x1="0" y1="0" x2="0" y2="1"><stop offset="0" stop-color="#6d7dac"/><stop offset="1" stop-color="#b6bfdb"/></linearGradient>
</defs>
<path d="M192.55,464.00 L194.83,472.40 L197.11,464.00 Z " fill="url(#gN)" />
<path d="M192.55,473.60 L194.83,482.50 L197.11,473.60 Z M197.81,473.60 L200.09,482.50 L202.37,473.60 Z M203.07,473.60 L205.35,482.50 L207.63,473.60 Z M208.33,473.60 L210.61,482.50 L212.89,473.60 Z M213.59,473.60 L215.87,482.50 L218.15,473.60 Z " fill="url(#g2)" />
<path d="M192.55,483.70 L194.83,492.60 L197.11,483.70 Z M197.81,483.70 L200.09,492.60 L202.37,483.70 Z M203.07,483.70 L205.35,492.60 L207.63,483.70 Z M208.33,483.70 L210.61,492.60 L212.89,483.70 Z M213.59,483.70 L215.87,492.60 L218.15,483.70 Z " fill="url(#g3)" />
<text x="201.60" y="469.60" font-size="7" fill="#2e4e86" textLength="10.8" lengthAdjust="spacingAndGlyphs" stroke="#2e4e86" stroke-width="0.2">VXL</text>
<path d="M229.05,464.00 L231.33,472.40 L233.61,464.00 Z " fill="url(#gN)" />
<path d="M229.05,473.60 L231.33,482.50 L233.61,473.60 Z M234.31,473.60 L236.59,482.50 L238.87,473.60 Z M239.57,473.60 L241.85,482.50 L244.13,473.60 Z M244.83,473.60 L247.11,482.50 L249.39,473.60 Z M250.09,473.60 L252.37,482.50 L254.65,473.60 Z " fill="url(#g2)" />
<path d="M229.05,483.70 L231.33,492.60 L233.61,483.70 Z M234.31,483.70 L236.59,492.60 L238.87,483.70 Z M239.57,483.70 L241.85,492.60 L244.13,483.70 Z M244.83,483.70 L247.11,492.60 L249.39,483.70 Z M250.09,483.70 L252.37,492.60 L254.65,483.70 Z " fill="url(#g3)" />
<text x="237.00" y="469.60" font-size="7" fill="#2e4e86" textLength="10.8" lengthAdjust="spacingAndGlyphs" stroke="#2e4e86" stroke-width="0.2">VXL</text>
<text x="404.20" y="431.80" font-size="12" stroke="#231f20" stroke-width="0.25" font-weight="bold">F</text>
<text x="456.50" y="442.20" font-size="8.4" text-anchor="middle" stroke="#231f20" stroke-width="0.25">Bone</text>
<text x="456.50" y="451.20" font-size="8.4" text-anchor="middle" stroke="#231f20" stroke-width="0.25">marrow</text>
<line x1="437.50" y1="457.00" x2="437.50" y2="526.50" stroke="#231f20" stroke-width="1.0" />
<line x1="437.40" y1="526.50" x2="475.40" y2="526.50" stroke="#231f20" stroke-width="1.0" />
<line x1="434.90" y1="526.50" x2="437.40" y2="526.50" stroke="#231f20" stroke-width="0.9" />
<text x="431.90" y="528.90" font-size="6.8" fill="#3a3a3c" text-anchor="end" stroke="#3a3a3c" stroke-width="0.14">0</text>
<line x1="434.90" y1="503.50" x2="437.40" y2="503.50" stroke="#231f20" stroke-width="0.9" />
<text x="431.90" y="506.35" font-size="6.8" fill="#3a3a3c" text-anchor="end" stroke="#3a3a3c" stroke-width="0.14">3000</text>
<line x1="434.90" y1="481.50" x2="437.40" y2="481.50" stroke="#231f20" stroke-width="0.9" />
<text x="431.90" y="483.80" font-size="6.8" fill="#3a3a3c" text-anchor="end" stroke="#3a3a3c" stroke-width="0.14">6000</text>
<line x1="434.90" y1="458.50" x2="437.40" y2="458.50" stroke="#231f20" stroke-width="0.9" />
<text x="431.90" y="461.26" font-size="6.8" fill="#3a3a3c" text-anchor="end" stroke="#3a3a3c" stroke-width="0.14">9000</text>
<rect x="442.30" y="473.14" width="12.30" height="53.36" fill="#9c9eae" />
<rect x="458.50" y="496.06" width="13.00" height="30.44" fill="#e8806e" />
<line x1="448.50" y1="473.14" x2="448.50" y2="469.75" stroke="#231f20" stroke-width="0.8" />
<line x1="446.50" y1="469.50" x2="450.50" y2="469.50" stroke="#231f20" stroke-width="0.8" />
<line x1="465.50" y1="496.06" x2="465.50" y2="492.68" stroke="#231f20" stroke-width="0.8" />
<line x1="463.00" y1="492.50" x2="467.00" y2="492.50" stroke="#231f20" stroke-width="0.8" />
<circle cx="448.50" cy="465.62" r="1.05" fill="#2b2b33" />
<circle cx="448.50" cy="470.13" r="1.05" fill="#2b2b33" />
<circle cx="453.00" cy="474.26" r="1.05" fill="#2b2b33" />
<circle cx="448.00" cy="477.65" r="1.05" fill="#2b2b33" />
<circle cx="465.00" cy="490.42" r="1.05" fill="#c41e3a" />
<circle cx="460.50" cy="497.94" r="1.05" fill="#c41e3a" />
<circle cx="470.00" cy="497.56" r="1.05" fill="#c41e3a" />
<circle cx="465.50" cy="500.19" r="1.05" fill="#c41e3a" />
<text x="464.60" y="487.30" font-size="6.5" text-anchor="middle" stroke="#231f20" stroke-width="0.14">**</text>
<line x1="448.50" y1="526.50" x2="448.50" y2="529.00" stroke="#231f20" stroke-width="0.9" />
<line x1="465.50" y1="526.50" x2="465.50" y2="529.00" stroke="#231f20" stroke-width="0.9" />
<text x="414.20" y="490.00" font-size="8.2" fill="#3a3a3c" text-anchor="middle" textLength="41.6" lengthAdjust="spacingAndGlyphs" stroke="#3a3a3c" stroke-width="0.25" transform="rotate(-90 414.20 490.00)">pSTAT5 (MFI)</text>
<text x="404.50" y="538.60" font-size="7.2" fill="#d04050" textLength="27" lengthAdjust="spacingAndGlyphs" stroke="#d04050" stroke-width="0.2">Pimozide</text>
<text x="448.50" y="539.00" font-size="6.8" fill="#3a3a3c" text-anchor="middle" stroke="#3a3a3c" stroke-width="0.14">–</text>
<text x="465.00" y="539.00" font-size="6.8" fill="#3a3a3c" text-anchor="middle" stroke="#3a3a3c" stroke-width="0.14">+</text>
<text x="7.00" y="566.00" font-size="12" stroke="#231f20" stroke-width="0.25" font-weight="bold">G</text>
<text x="19.60" y="624.40" font-size="7.6" fill="#3a3a3c" textLength="13.9" lengthAdjust="spacingAndGlyphs" stroke="#3a3a3c" stroke-width="0.2" transform="rotate(-90 19.60 624.40)">cells</text>
<text x="19.60" y="640.30" font-size="7.6" fill="#f4cc6a" textLength="14.7" lengthAdjust="spacingAndGlyphs" stroke="#f4cc6a" stroke-width="0.2" transform="rotate(-90 19.60 640.30)">ETP6</text>
<text x="34.30" y="673.40" font-size="6.8" fill="#c8203c" text-anchor="end" stroke="#c8203c" stroke-width="0.14">Pimozide</text>
<text x="34.30" y="683.80" font-size="6.8" fill="#2e5a92" text-anchor="end" stroke="#2e5a92" stroke-width="0.14">VXL</text>
<line x1="40.50" y1="592.50" x2="40.50" y2="661.40" stroke="#231f20" stroke-width="1.0" />
<line x1="40.50" y1="661.50" x2="86.00" y2="661.50" stroke="#231f20" stroke-width="1.0" />
<line x1="38.00" y1="593.50" x2="40.50" y2="593.50" stroke="#231f20" stroke-width="0.9" />
<text x="31.20" y="596.00" font-size="6.3" fill="#3a3a3c" text-anchor="end" stroke="#3a3a3c" stroke-width="0.14">10</text>
<text x="31.40" y="593.16" font-size="3.9059999999999997" fill="#3a3a3c" stroke="#3a3a3c" stroke-width="0.14">8</text>
<line x1="38.00" y1="610.50" x2="40.50" y2="610.50" stroke="#231f20" stroke-width="0.9" />
<text x="31.20" y="612.50" font-size="6.3" fill="#3a3a3c" text-anchor="end" stroke="#3a3a3c" stroke-width="0.14">10</text>
<text x="31.40" y="609.66" font-size="3.9059999999999997" fill="#3a3a3c" stroke="#3a3a3c" stroke-width="0.14">7</text>
<line x1="38.00" y1="627.50" x2="40.50" y2="627.50" stroke="#231f20" stroke-width="0.9" />
<text x="31.20" y="629.60" font-size="6.3" fill="#3a3a3c" text-anchor="end" stroke="#3a3a3c" stroke-width="0.14">10</text>
<text x="31.40" y="626.76" font-size="3.9059999999999997" fill="#3a3a3c" stroke="#3a3a3c" stroke-width="0.14">6</text>
<line x1="38.00" y1="644.50" x2="40.50" y2="644.50" stroke="#231f20" stroke-width="0.9" />
<text x="31.20" y="646.60" font-size="6.3" fill="#3a3a3c" text-anchor="end" stroke="#3a3a3c" stroke-width="0.14">10</text>
<text x="31.40" y="643.76" font-size="3.9059999999999997" fill="#3a3a3c" stroke="#3a3a3c" stroke-width="0.14">5</text>
<line x1="38.00" y1="661.50" x2="40.50" y2="661.50" stroke="#231f20" stroke-width="0.9" />
<text x="31.20" y="663.70" font-size="6.3" fill="#3a3a3c" text-anchor="end" stroke="#3a3a3c" stroke-width="0.14">10</text>
<text x="31.40" y="660.86" font-size="3.9059999999999997" fill="#3a3a3c" stroke="#3a3a3c" stroke-width="0.14">4</text>
<text x="63.60" y="577.00" font-size="8.4" text-anchor="middle" stroke="#231f20" stroke-width="0.25">Bone</text>
<text x="63.60" y="584.90" font-size="8.4" text-anchor="middle" stroke="#231f20" stroke-width="0.25">marrow</text>
<line x1="47.50" y1="661.40" x2="47.50" y2="663.90" stroke="#231f20" stroke-width="0.9" />
<circle cx="46.10" cy="601.00" r="1.2" fill="#4a4f5e" />
<circle cx="47.60" cy="602.00" r="1.2" fill="#4a4f5e" />
<circle cx="49.10" cy="602.50" r="1.2" fill="#4a4f5e" />
<circle cx="46.85" cy="603.00" r="1.2" fill="#4a4f5e" />
<circle cx="48.35" cy="601.50" r="1.2" fill="#4a4f5e" />
<circle cx="46.10" cy="602.20" r="1.2" fill="#4a4f5e" />
<circle cx="47.60" cy="603.20" r="1.2" fill="#4a4f5e" />
<line x1="43.80" y1="602.50" x2="51.40" y2="602.50" stroke="#231f20" stroke-width="0.9" />
<line x1="57.50" y1="661.40" x2="57.50" y2="663.90" stroke="#231f20" stroke-width="0.9" />
<circle cx="55.90" cy="610.50" r="1.2" fill="#c41e3a" />
<circle cx="57.40" cy="612.00" r="1.2" fill="#c41e3a" />
<circle cx="58.90" cy="614.20" r="1.2" fill="#c41e3a" />
<circle cx="56.65" cy="616.30" r="1.2" fill="#c41e3a" />
<circle cx="58.15" cy="619.60" r="1.2" fill="#c41e3a" />
<circle cx="55.90" cy="613.50" r="1.2" fill="#c41e3a" />
<line x1="53.60" y1="614.50" x2="61.20" y2="614.50" stroke="#231f20" stroke-width="0.9" />
<line x1="57.50" y1="612.20" x2="57.50" y2="615.80" stroke="#231f20" stroke-width="0.8" />
<line x1="55.60" y1="612.50" x2="59.20" y2="612.50" stroke="#231f20" stroke-width="0.8" />
<line x1="55.60" y1="615.50" x2="59.20" y2="615.50" stroke="#231f20" stroke-width="0.8" />
<text x="57.40" y="610.30" font-size="5.8" fill="#3a3a3c" text-anchor="middle" stroke="#3a3a3c" stroke-width="0.14">***</text>
<line x1="67.50" y1="661.40" x2="67.50" y2="663.90" stroke="#231f20" stroke-width="0.9" />
<circle cx="66.30" cy="616.30" r="1.2" fill="#1c4a7e" />
<circle cx="67.80" cy="617.00" r="1.2" fill="#1c4a7e" />
<circle cx="69.30" cy="618.00" r="1.2" fill="#1c4a7e" />
<circle cx="67.05" cy="619.00" r="1.2" fill="#1c4a7e" />
<circle cx="68.55" cy="621.00" r="1.2" fill="#1c4a7e" />
<circle cx="66.30" cy="616.80" r="1.2" fill="#1c4a7e" />
<line x1="64.00" y1="617.50" x2="71.60" y2="617.50" stroke="#231f20" stroke-width="0.9" />
<line x1="67.50" y1="616.40" x2="67.50" y2="618.80" stroke="#231f20" stroke-width="0.8" />
<line x1="66.00" y1="616.50" x2="69.60" y2="616.50" stroke="#231f20" stroke-width="0.8" />
<line x1="66.00" y1="618.50" x2="69.60" y2="618.50" stroke="#231f20" stroke-width="0.8" />
<text x="67.80" y="615.00" font-size="5.8" fill="#3a3a3c" text-anchor="middle" stroke="#3a3a3c" stroke-width="0.14">***</text>
<line x1="78.50" y1="661.40" x2="78.50" y2="663.90" stroke="#231f20" stroke-width="0.9" />
<circle cx="76.60" cy="631.00" r="1.2" fill="#4a1f52" />
<circle cx="78.10" cy="639.80" r="1.2" fill="#4a1f52" />
<circle cx="79.60" cy="641.80" r="1.2" fill="#4a1f52" />
<circle cx="77.35" cy="644.50" r="1.2" fill="#4a1f52" />
<circle cx="78.85" cy="644.50" r="1.2" fill="#4a1f52" />
<circle cx="76.60" cy="642.00" r="1.2" fill="#4a1f52" />
<line x1="74.30" y1="638.50" x2="81.90" y2="638.50" stroke="#231f20" stroke-width="0.9" />
<line x1="78.50" y1="635.90" x2="78.50" y2="641.10" stroke="#231f20" stroke-width="0.8" />
<line x1="76.30" y1="635.50" x2="79.90" y2="635.50" stroke="#231f20" stroke-width="0.8" />
<line x1="76.30" y1="641.50" x2="79.90" y2="641.50" stroke="#231f20" stroke-width="0.8" />
<text x="78.10" y="623.30" font-size="5.8" fill="#7a7a8c" text-anchor="middle" stroke="#7a7a8c" stroke-width="0.14">##</text>
<text x="78.10" y="628.50" font-size="5.8" fill="#3a3a3c" text-anchor="middle" stroke="#3a3a3c" stroke-width="0.14">***</text>
<text x="47.60" y="673.40" font-size="6.6" fill="#3a3a3c" text-anchor="middle" stroke="#3a3a3c" stroke-width="0.14">–</text>
<text x="57.40" y="673.40" font-size="6.6" fill="#3a3a3c" text-anchor="middle" stroke="#3a3a3c" stroke-width="0.14">+</text>
<text x="67.80" y="673.40" font-size="6.6" fill="#3a3a3c" text-anchor="middle" stroke="#3a3a3c" stroke-width="0.14">–</text>
<text x="78.10" y="673.40" font-size="6.6" fill="#3a3a3c" text-anchor="middle" stroke="#3a3a3c" stroke-width="0.14">+</text>
<text x="47.60" y="683.80" font-size="6.6" fill="#3a3a3c" text-anchor="middle" stroke="#3a3a3c" stroke-width="0.14">–</text>
<text x="57.40" y="683.80" font-size="6.6" fill="#3a3a3c" text-anchor="middle" stroke="#3a3a3c" stroke-width="0.14">–</text>
<text x="67.80" y="683.80" font-size="6.6" fill="#3a3a3c" text-anchor="middle" stroke="#3a3a3c" stroke-width="0.14">+</text>
<text x="78.10" y="683.80" font-size="6.6" fill="#3a3a3c" text-anchor="middle" stroke="#3a3a3c" stroke-width="0.14">+</text>
<line x1="110.50" y1="592.50" x2="110.50" y2="661.40" stroke="#231f20" stroke-width="1.0" />
<line x1="110.80" y1="661.50" x2="155.60" y2="661.50" stroke="#231f20" stroke-width="1.0" />
<line x1="108.30" y1="593.50" x2="110.80" y2="593.50" stroke="#231f20" stroke-width="0.9" />
<text x="101.50" y="595.30" font-size="6.3" fill="#3a3a3c" text-anchor="end" stroke="#3a3a3c" stroke-width="0.14">10</text>
<text x="101.70" y="592.46" font-size="3.9059999999999997" fill="#3a3a3c" stroke="#3a3a3c" stroke-width="0.14">9</text>
<line x1="108.30" y1="606.50" x2="110.80" y2="606.50" stroke="#231f20" stroke-width="0.9" />
<text x="101.50" y="609.10" font-size="6.3" fill="#3a3a3c" text-anchor="end" stroke="#3a3a3c" stroke-width="0.14">10</text>
<text x="101.70" y="606.26" font-size="3.9059999999999997" fill="#3a3a3c" stroke="#3a3a3c" stroke-width="0.14">8</text>
<line x1="108.30" y1="620.50" x2="110.80" y2="620.50" stroke="#231f20" stroke-width="0.9" />
<text x="101.50" y="622.90" font-size="6.3" fill="#3a3a3c" text-anchor="end" stroke="#3a3a3c" stroke-width="0.14">10</text>
<text x="101.70" y="620.06" font-size="3.9059999999999997" fill="#3a3a3c" stroke="#3a3a3c" stroke-width="0.14">7</text>
<line x1="108.30" y1="634.50" x2="110.80" y2="634.50" stroke="#231f20" stroke-width="0.9" />
<text x="101.50" y="636.50" font-size="6.3" fill="#3a3a3c" text-anchor="end" stroke="#3a3a3c" stroke-width="0.14">10</text>
<text x="101.70" y="633.66" font-size="3.9059999999999997" fill="#3a3a3c" stroke="#3a3a3c" stroke-width="0.14">6</text>
<line x1="108.30" y1="647.50" x2="110.80" y2="647.50" stroke="#231f20" stroke-width="0.9" />
<text x="101.50" y="650.10" font-size="6.3" fill="#3a3a3c" text-anchor="end" stroke="#3a3a3c" stroke-width="0.14">10</text>
<text x="101.70" y="647.26" font-size="3.9059999999999997" fill="#3a3a3c" stroke="#3a3a3c" stroke-width="0.14">5</text>
<line x1="108.30" y1="661.50" x2="110.80" y2="661.50" stroke="#231f20" stroke-width="0.9" />
<text x="101.50" y="663.70" font-size="6.3" fill="#3a3a3c" text-anchor="end" stroke="#3a3a3c" stroke-width="0.14">10</text>
<text x="101.70" y="660.86" font-size="3.9059999999999997" fill="#3a3a3c" stroke="#3a3a3c" stroke-width="0.14">4</text>
<line x1="109.20" y1="602.65" x2="110.80" y2="602.65" stroke="#231f20" stroke-width="0.6" />
<line x1="109.20" y1="600.22" x2="110.80" y2="600.22" stroke="#231f20" stroke-width="0.6" />
<line x1="109.20" y1="598.49" x2="110.80" y2="598.49" stroke="#231f20" stroke-width="0.6" />
<line x1="109.20" y1="597.15" x2="110.80" y2="597.15" stroke="#231f20" stroke-width="0.6" />
<line x1="109.20" y1="596.06" x2="110.80" y2="596.06" stroke="#231f20" stroke-width="0.6" />
<line x1="109.20" y1="595.14" x2="110.80" y2="595.14" stroke="#231f20" stroke-width="0.6" />
<line x1="109.20" y1="594.34" x2="110.80" y2="594.34" stroke="#231f20" stroke-width="0.6" />
<line x1="109.20" y1="593.63" x2="110.80" y2="593.63" stroke="#231f20" stroke-width="0.6" />
<line x1="109.20" y1="616.45" x2="110.80" y2="616.45" stroke="#231f20" stroke-width="0.6" />
<line x1="109.20" y1="614.02" x2="110.80" y2="614.02" stroke="#231f20" stroke-width="0.6" />
<line x1="109.20" y1="612.29" x2="110.80" y2="612.29" stroke="#231f20" stroke-width="0.6" />
<line x1="109.20" y1="610.95" x2="110.80" y2="610.95" stroke="#231f20" stroke-width="0.6" />
<line x1="109.20" y1="609.86" x2="110.80" y2="609.86" stroke="#231f20" stroke-width="0.6" />
<line x1="109.20" y1="608.94" x2="110.80" y2="608.94" stroke="#231f20" stroke-width="0.6" />
<line x1="109.20" y1="608.14" x2="110.80" y2="608.14" stroke="#231f20" stroke-width="0.6" />
<line x1="109.20" y1="607.43" x2="110.80" y2="607.43" stroke="#231f20" stroke-width="0.6" />
<line x1="109.20" y1="630.11" x2="110.80" y2="630.11" stroke="#231f20" stroke-width="0.6" />
<line x1="109.20" y1="627.71" x2="110.80" y2="627.71" stroke="#231f20" stroke-width="0.6" />
<line x1="109.20" y1="626.01" x2="110.80" y2="626.01" stroke="#231f20" stroke-width="0.6" />
<line x1="109.20" y1="624.69" x2="110.80" y2="624.69" stroke="#231f20" stroke-width="0.6" />
<line x1="109.20" y1="623.62" x2="110.80" y2="623.62" stroke="#231f20" stroke-width="0.6" />
<line x1="109.20" y1="622.71" x2="110.80" y2="622.71" stroke="#231f20" stroke-width="0.6" />
<line x1="109.20" y1="621.92" x2="110.80" y2="621.92" stroke="#231f20" stroke-width="0.6" />
<line x1="109.20" y1="621.22" x2="110.80" y2="621.22" stroke="#231f20" stroke-width="0.6" />
<line x1="109.20" y1="643.71" x2="110.80" y2="643.71" stroke="#231f20" stroke-width="0.6" />
<line x1="109.20" y1="641.31" x2="110.80" y2="641.31" stroke="#231f20" stroke-width="0.6" />
<line x1="109.20" y1="639.61" x2="110.80" y2="639.61" stroke="#231f20" stroke-width="0.6" />
<line x1="109.20" y1="638.29" x2="110.80" y2="638.29" stroke="#231f20" stroke-width="0.6" />
<line x1="109.20" y1="637.22" x2="110.80" y2="637.22" stroke="#231f20" stroke-width="0.6" />
<line x1="109.20" y1="636.31" x2="110.80" y2="636.31" stroke="#231f20" stroke-width="0.6" />
<line x1="109.20" y1="635.52" x2="110.80" y2="635.52" stroke="#231f20" stroke-width="0.6" />
<line x1="109.20" y1="634.82" x2="110.80" y2="634.82" stroke="#231f20" stroke-width="0.6" />
<line x1="109.20" y1="657.31" x2="110.80" y2="657.31" stroke="#231f20" stroke-width="0.6" />
<line x1="109.20" y1="654.91" x2="110.80" y2="654.91" stroke="#231f20" stroke-width="0.6" />
<line x1="109.20" y1="653.21" x2="110.80" y2="653.21" stroke="#231f20" stroke-width="0.6" />
<line x1="109.20" y1="651.89" x2="110.80" y2="651.89" stroke="#231f20" stroke-width="0.6" />
<line x1="109.20" y1="650.82" x2="110.80" y2="650.82" stroke="#231f20" stroke-width="0.6" />
<line x1="109.20" y1="649.91" x2="110.80" y2="649.91" stroke="#231f20" stroke-width="0.6" />
<line x1="109.20" y1="649.12" x2="110.80" y2="649.12" stroke="#231f20" stroke-width="0.6" />
<line x1="109.20" y1="648.42" x2="110.80" y2="648.42" stroke="#231f20" stroke-width="0.6" />
<text x="133.60" y="577.00" font-size="8.4" text-anchor="middle" stroke="#231f20" stroke-width="0.25"></text>
<text x="133.60" y="584.90" font-size="8.4" text-anchor="middle" stroke="#231f20" stroke-width="0.25">Spleen</text>
<line x1="118.50" y1="661.40" x2="118.50" y2="663.90" stroke="#231f20" stroke-width="0.9" />
<circle cx="116.90" cy="598.00" r="1.2" fill="#4a4f5e" />
<circle cx="118.40" cy="600.00" r="1.2" fill="#4a4f5e" />
<circle cx="119.90" cy="602.00" r="1.2" fill="#4a4f5e" />
<circle cx="117.65" cy="603.00" r="1.2" fill="#4a4f5e" />
<circle cx="119.15" cy="604.00" r="1.2" fill="#4a4f5e" />
<circle cx="116.90" cy="605.00" r="1.2" fill="#4a4f5e" />
<circle cx="118.40" cy="607.00" r="1.2" fill="#4a4f5e" />
<circle cx="119.90" cy="609.00" r="1.2" fill="#4a4f5e" />
<line x1="114.60" y1="603.50" x2="122.20" y2="603.50" stroke="#231f20" stroke-width="0.9" />
<line x1="118.50" y1="601.80" x2="118.50" y2="604.20" stroke="#231f20" stroke-width="0.8" />
<line x1="116.60" y1="601.50" x2="120.20" y2="601.50" stroke="#231f20" stroke-width="0.8" />
<line x1="116.60" y1="604.50" x2="120.20" y2="604.50" stroke="#231f20" stroke-width="0.8" />
<line x1="128.50" y1="661.40" x2="128.50" y2="663.90" stroke="#231f20" stroke-width="0.9" />
<circle cx="127.00" cy="599.00" r="1.2" fill="#c41e3a" />
<circle cx="128.50" cy="602.00" r="1.2" fill="#c41e3a" />
<circle cx="130.00" cy="605.00" r="1.2" fill="#c41e3a" />
<circle cx="127.75" cy="607.50" r="1.2" fill="#c41e3a" />
<circle cx="129.25" cy="609.50" r="1.2" fill="#c41e3a" />
<circle cx="127.00" cy="611.00" r="1.2" fill="#c41e3a" />
<circle cx="128.50" cy="613.50" r="1.2" fill="#c41e3a" />
<line x1="124.70" y1="608.50" x2="132.30" y2="608.50" stroke="#231f20" stroke-width="0.9" />
<line x1="128.50" y1="606.70" x2="128.50" y2="610.70" stroke="#231f20" stroke-width="0.8" />
<line x1="126.70" y1="606.50" x2="130.30" y2="606.50" stroke="#231f20" stroke-width="0.8" />
<line x1="126.70" y1="610.50" x2="130.30" y2="610.50" stroke="#231f20" stroke-width="0.8" />
<line x1="139.50" y1="661.40" x2="139.50" y2="663.90" stroke="#231f20" stroke-width="0.9" />
<circle cx="137.50" cy="639.00" r="1.2" fill="#1c4a7e" />
<circle cx="139.00" cy="640.50" r="1.2" fill="#1c4a7e" />
<circle cx="140.50" cy="642.00" r="1.2" fill="#1c4a7e" />
<circle cx="138.25" cy="643.00" r="1.2" fill="#1c4a7e" />
<circle cx="139.75" cy="644.50" r="1.2" fill="#1c4a7e" />
<circle cx="137.50" cy="646.00" r="1.2" fill="#1c4a7e" />
<line x1="135.20" y1="642.50" x2="142.80" y2="642.50" stroke="#231f20" stroke-width="0.9" />
<line x1="139.50" y1="641.00" x2="139.50" y2="643.00" stroke="#231f20" stroke-width="0.8" />
<line x1="137.20" y1="641.50" x2="140.80" y2="641.50" stroke="#231f20" stroke-width="0.8" />
<line x1="137.20" y1="643.50" x2="140.80" y2="643.50" stroke="#231f20" stroke-width="0.8" />
<text x="139.00" y="639.30" font-size="5.8" fill="#3a3a3c" text-anchor="middle" stroke="#3a3a3c" stroke-width="0.14">***</text>
<line x1="149.50" y1="661.40" x2="149.50" y2="663.90" stroke="#231f20" stroke-width="0.9" />
<circle cx="148.00" cy="652.00" r="1.2" fill="#4a1f52" />
<circle cx="149.50" cy="653.00" r="1.2" fill="#4a1f52" />
<circle cx="151.00" cy="653.50" r="1.2" fill="#4a1f52" />
<circle cx="148.75" cy="654.00" r="1.2" fill="#4a1f52" />
<circle cx="150.25" cy="655.00" r="1.2" fill="#4a1f52" />
<circle cx="148.00" cy="656.00" r="1.2" fill="#4a1f52" />
<line x1="145.70" y1="653.50" x2="153.30" y2="653.50" stroke="#231f20" stroke-width="0.9" />
<line x1="149.50" y1="653.00" x2="149.50" y2="654.00" stroke="#231f20" stroke-width="0.8" />
<line x1="147.70" y1="653.50" x2="151.30" y2="653.50" stroke="#231f20" stroke-width="0.8" />
<line x1="147.70" y1="654.50" x2="151.30" y2="654.50" stroke="#231f20" stroke-width="0.8" />
<text x="149.50" y="645.60" font-size="5.8" fill="#7a7a8c" text-anchor="middle" stroke="#7a7a8c" stroke-width="0.14">##</text>
<text x="149.50" y="650.80" font-size="5.8" fill="#3a3a3c" text-anchor="middle" stroke="#3a3a3c" stroke-width="0.14">***</text>
<text x="118.40" y="673.40" font-size="6.6" fill="#3a3a3c" text-anchor="middle" stroke="#3a3a3c" stroke-width="0.14">–</text>
<text x="128.50" y="673.40" font-size="6.6" fill="#3a3a3c" text-anchor="middle" stroke="#3a3a3c" stroke-width="0.14">+</text>
<text x="139.00" y="673.40" font-size="6.6" fill="#3a3a3c" text-anchor="middle" stroke="#3a3a3c" stroke-width="0.14">–</text>
<text x="149.50" y="673.40" font-size="6.6" fill="#3a3a3c" text-anchor="middle" stroke="#3a3a3c" stroke-width="0.14">+</text>
<text x="118.40" y="683.80" font-size="6.6" fill="#3a3a3c" text-anchor="middle" stroke="#3a3a3c" stroke-width="0.14">–</text>
<text x="128.50" y="683.80" font-size="6.6" fill="#3a3a3c" text-anchor="middle" stroke="#3a3a3c" stroke-width="0.14">–</text>
<text x="139.00" y="683.80" font-size="6.6" fill="#3a3a3c" text-anchor="middle" stroke="#3a3a3c" stroke-width="0.14">+</text>
<text x="149.50" y="683.80" font-size="6.6" fill="#3a3a3c" text-anchor="middle" stroke="#3a3a3c" stroke-width="0.14">+</text>
<text x="177.00" y="566.00" font-size="12" stroke="#231f20" stroke-width="0.25" font-weight="bold">H</text>
<text x="188.40" y="616.70" font-size="7.6" fill="#3a3a3c" textLength="13.5" lengthAdjust="spacingAndGlyphs" stroke="#3a3a3c" stroke-width="0.2" transform="rotate(-90 188.40 616.70)">cells</text>
<text x="188.40" y="647.90" font-size="7.6" fill="#f4bc70" stroke="#f4bc70" stroke-width="0.2" transform="rotate(-90 188.40 647.90)">K38<tspan font-size="4.6" dy="-2.7">+</tspan><tspan dy="2.7">34</tspan><tspan font-size="4.6" dy="-2.7">+</tspan></text>
<text x="204.30" y="673.40" font-size="6.8" fill="#c8203c" text-anchor="end" stroke="#c8203c" stroke-width="0.14">Pimozide</text>
<text x="204.30" y="683.80" font-size="6.8" fill="#2e5a92" text-anchor="end" stroke="#2e5a92" stroke-width="0.14">VXL</text>
<line x1="210.50" y1="592.50" x2="210.50" y2="661.40" stroke="#231f20" stroke-width="1.0" />
<line x1="210.20" y1="661.50" x2="256.00" y2="661.50" stroke="#231f20" stroke-width="1.0" />
<line x1="207.70" y1="593.50" x2="210.20" y2="593.50" stroke="#231f20" stroke-width="0.9" />
<text x="200.90" y="595.70" font-size="6.3" fill="#3a3a3c" text-anchor="end" stroke="#3a3a3c" stroke-width="0.14">10</text>
<text x="201.10" y="592.86" font-size="3.9059999999999997" fill="#3a3a3c" stroke="#3a3a3c" stroke-width="0.14">7</text>
<line x1="207.70" y1="607.50" x2="210.20" y2="607.50" stroke="#231f20" stroke-width="0.9" />
<text x="200.90" y="610.00" font-size="6.3" fill="#3a3a3c" text-anchor="end" stroke="#3a3a3c" stroke-width="0.14">10</text>
<text x="201.10" y="607.16" font-size="3.9059999999999997" fill="#3a3a3c" stroke="#3a3a3c" stroke-width="0.14">6</text>
<line x1="207.70" y1="620.50" x2="210.20" y2="620.50" stroke="#231f20" stroke-width="0.9" />
<text x="200.90" y="623.20" font-size="6.3" fill="#3a3a3c" text-anchor="end" stroke="#3a3a3c" stroke-width="0.14">10</text>
<text x="201.10" y="620.36" font-size="3.9059999999999997" fill="#3a3a3c" stroke="#3a3a3c" stroke-width="0.14">5</text>
<line x1="207.70" y1="634.50" x2="210.20" y2="634.50" stroke="#231f20" stroke-width="0.9" />
<text x="200.90" y="636.50" font-size="6.3" fill="#3a3a3c" text-anchor="end" stroke="#3a3a3c" stroke-width="0.14">10</text>
<text x="201.10" y="633.66" font-size="3.9059999999999997" fill="#3a3a3c" stroke="#3a3a3c" stroke-width="0.14">4</text>
<line x1="207.70" y1="647.50" x2="210.20" y2="647.50" stroke="#231f20" stroke-width="0.9" />
<text x="200.90" y="650.10" font-size="6.3" fill="#3a3a3c" text-anchor="end" stroke="#3a3a3c" stroke-width="0.14">10</text>
<text x="201.10" y="647.26" font-size="3.9059999999999997" fill="#3a3a3c" stroke="#3a3a3c" stroke-width="0.14">3</text>
<line x1="207.70" y1="661.50" x2="210.20" y2="661.50" stroke="#231f20" stroke-width="0.9" />
<text x="206.20" y="663.70" font-size="6.3" fill="#3a3a3c" text-anchor="end" stroke="#3a3a3c" stroke-width="0.14">0</text>
<text x="233.60" y="577.00" font-size="8.4" text-anchor="middle" stroke="#231f20" stroke-width="0.25">Bone</text>
<text x="233.60" y="584.90" font-size="8.4" text-anchor="middle" stroke="#231f20" stroke-width="0.25">marrow</text>
<line x1="216.50" y1="661.40" x2="216.50" y2="663.90" stroke="#231f20" stroke-width="0.9" />
<circle cx="215.30" cy="603.00" r="1.2" fill="#4a4f5e" />
<circle cx="216.80" cy="606.00" r="1.2" fill="#4a4f5e" />
<circle cx="218.30" cy="607.50" r="1.2" fill="#4a4f5e" />
<circle cx="216.05" cy="608.70" r="1.2" fill="#4a4f5e" />
<circle cx="217.55" cy="609.50" r="1.2" fill="#4a4f5e" />
<circle cx="215.30" cy="611.00" r="1.2" fill="#4a4f5e" />
<circle cx="216.80" cy="616.00" r="1.2" fill="#4a4f5e" />
<line x1="213.00" y1="608.50" x2="220.60" y2="608.50" stroke="#231f20" stroke-width="0.9" />
<line x1="227.50" y1="661.40" x2="227.50" y2="663.90" stroke="#231f20" stroke-width="0.9" />
<circle cx="225.80" cy="614.00" r="1.2" fill="#c41e3a" />
<circle cx="227.30" cy="617.00" r="1.2" fill="#c41e3a" />
<circle cx="228.80" cy="620.00" r="1.2" fill="#c41e3a" />
<circle cx="226.55" cy="622.00" r="1.2" fill="#c41e3a" />
<circle cx="228.05" cy="625.00" r="1.2" fill="#c41e3a" />
<circle cx="225.80" cy="628.00" r="1.2" fill="#c41e3a" />
<line x1="223.50" y1="621.50" x2="231.10" y2="621.50" stroke="#231f20" stroke-width="0.9" />
<line x1="227.50" y1="618.80" x2="227.50" y2="623.20" stroke="#231f20" stroke-width="0.8" />
<line x1="225.50" y1="618.50" x2="229.10" y2="618.50" stroke="#231f20" stroke-width="0.8" />
<line x1="225.50" y1="623.50" x2="229.10" y2="623.50" stroke="#231f20" stroke-width="0.8" />
<text x="227.30" y="615.00" font-size="5.8" fill="#3a3a3c" text-anchor="middle" stroke="#3a3a3c" stroke-width="0.14">***</text>
<line x1="237.50" y1="661.40" x2="237.50" y2="663.90" stroke="#231f20" stroke-width="0.9" />
<circle cx="236.20" cy="619.50" r="1.2" fill="#1c4a7e" />
<circle cx="237.70" cy="620.50" r="1.2" fill="#1c4a7e" />
<circle cx="239.20" cy="621.00" r="1.2" fill="#1c4a7e" />
<circle cx="236.95" cy="621.50" r="1.2" fill="#1c4a7e" />
<circle cx="238.45" cy="622.50" r="1.2" fill="#1c4a7e" />
<line x1="233.90" y1="621.50" x2="241.50" y2="621.50" stroke="#231f20" stroke-width="0.9" />
<line x1="237.50" y1="620.40" x2="237.50" y2="621.60" stroke="#231f20" stroke-width="0.8" />
<line x1="235.90" y1="620.50" x2="239.50" y2="620.50" stroke="#231f20" stroke-width="0.8" />
<line x1="235.90" y1="621.50" x2="239.50" y2="621.50" stroke="#231f20" stroke-width="0.8" />
<text x="237.70" y="615.00" font-size="5.8" fill="#3a3a3c" text-anchor="middle" stroke="#3a3a3c" stroke-width="0.14">***</text>
<line x1="248.50" y1="661.40" x2="248.50" y2="663.90" stroke="#231f20" stroke-width="0.9" />
<circle cx="246.70" cy="639.00" r="1.2" fill="#4a1f52" />
<circle cx="248.20" cy="645.00" r="1.2" fill="#4a1f52" />
<circle cx="249.70" cy="648.00" r="1.2" fill="#4a1f52" />
<circle cx="247.45" cy="651.00" r="1.2" fill="#4a1f52" />
<circle cx="248.95" cy="656.00" r="1.2" fill="#4a1f52" />
<line x1="244.40" y1="648.50" x2="252.00" y2="648.50" stroke="#231f20" stroke-width="0.9" />
<line x1="248.50" y1="645.00" x2="248.50" y2="651.00" stroke="#231f20" stroke-width="0.8" />
<line x1="246.40" y1="645.50" x2="250.00" y2="645.50" stroke="#231f20" stroke-width="0.8" />
<line x1="246.40" y1="651.50" x2="250.00" y2="651.50" stroke="#231f20" stroke-width="0.8" />
<text x="248.20" y="632.80" font-size="5.8" fill="#7a7a8c" text-anchor="middle" stroke="#7a7a8c" stroke-width="0.14">###</text>
<text x="248.20" y="637.50" font-size="5.8" fill="#3a3a3c" text-anchor="middle" stroke="#3a3a3c" stroke-width="0.14">***</text>
<text x="216.80" y="673.40" font-size="6.6" fill="#3a3a3c" text-anchor="middle" stroke="#3a3a3c" stroke-width="0.14">–</text>
<text x="227.30" y="673.40" font-size="6.6" fill="#3a3a3c" text-anchor="middle" stroke="#3a3a3c" stroke-width="0.14">+</text>
<text x="237.70" y="673.40" font-size="6.6" fill="#3a3a3c" text-anchor="middle" stroke="#3a3a3c" stroke-width="0.14">–</text>
<text x="248.20" y="673.40" font-size="6.6" fill="#3a3a3c" text-anchor="middle" stroke="#3a3a3c" stroke-width="0.14">+</text>
<text x="216.80" y="683.80" font-size="6.6" fill="#3a3a3c" text-anchor="middle" stroke="#3a3a3c" stroke-width="0.14">–</text>
<text x="227.30" y="683.80" font-size="6.6" fill="#3a3a3c" text-anchor="middle" stroke="#3a3a3c" stroke-width="0.14">–</text>
<text x="237.70" y="683.80" font-size="6.6" fill="#3a3a3c" text-anchor="middle" stroke="#3a3a3c" stroke-width="0.14">+</text>
<text x="248.20" y="683.80" font-size="6.6" fill="#3a3a3c" text-anchor="middle" stroke="#3a3a3c" stroke-width="0.14">+</text>
<line x1="280.50" y1="592.00" x2="280.50" y2="661.40" stroke="#231f20" stroke-width="1.0" />
<line x1="280.80" y1="661.50" x2="326.60" y2="661.50" stroke="#231f20" stroke-width="1.0" />
<line x1="278.30" y1="592.50" x2="280.80" y2="592.50" stroke="#231f20" stroke-width="0.9" />
<text x="271.50" y="594.70" font-size="6.3" fill="#3a3a3c" text-anchor="end" stroke="#3a3a3c" stroke-width="0.14">10</text>
<text x="271.70" y="591.86" font-size="3.9059999999999997" fill="#3a3a3c" stroke="#3a3a3c" stroke-width="0.14">7</text>
<line x1="278.30" y1="606.50" x2="280.80" y2="606.50" stroke="#231f20" stroke-width="0.9" />
<text x="271.50" y="608.50" font-size="6.3" fill="#3a3a3c" text-anchor="end" stroke="#3a3a3c" stroke-width="0.14">10</text>
<text x="271.70" y="605.66" font-size="3.9059999999999997" fill="#3a3a3c" stroke="#3a3a3c" stroke-width="0.14">6</text>
<line x1="278.30" y1="620.50" x2="280.80" y2="620.50" stroke="#231f20" stroke-width="0.9" />
<text x="271.50" y="622.30" font-size="6.3" fill="#3a3a3c" text-anchor="end" stroke="#3a3a3c" stroke-width="0.14">10</text>
<text x="271.70" y="619.46" font-size="3.9059999999999997" fill="#3a3a3c" stroke="#3a3a3c" stroke-width="0.14">5</text>
<line x1="278.30" y1="633.50" x2="280.80" y2="633.50" stroke="#231f20" stroke-width="0.9" />
<text x="271.50" y="636.00" font-size="6.3" fill="#3a3a3c" text-anchor="end" stroke="#3a3a3c" stroke-width="0.14">10</text>
<text x="271.70" y="633.16" font-size="3.9059999999999997" fill="#3a3a3c" stroke="#3a3a3c" stroke-width="0.14">4</text>
<line x1="278.30" y1="647.50" x2="280.80" y2="647.50" stroke="#231f20" stroke-width="0.9" />
<text x="271.50" y="649.80" font-size="6.3" fill="#3a3a3c" text-anchor="end" stroke="#3a3a3c" stroke-width="0.14">10</text>
<text x="271.70" y="646.96" font-size="3.9059999999999997" fill="#3a3a3c" stroke="#3a3a3c" stroke-width="0.14">3</text>
<line x1="278.30" y1="661.50" x2="280.80" y2="661.50" stroke="#231f20" stroke-width="0.9" />
<text x="271.50" y="663.70" font-size="6.3" fill="#3a3a3c" text-anchor="end" stroke="#3a3a3c" stroke-width="0.14">10</text>
<text x="271.70" y="660.86" font-size="3.9059999999999997" fill="#3a3a3c" stroke="#3a3a3c" stroke-width="0.14">2</text>
<line x1="279.20" y1="602.05" x2="280.80" y2="602.05" stroke="#231f20" stroke-width="0.6" />
<line x1="279.20" y1="599.62" x2="280.80" y2="599.62" stroke="#231f20" stroke-width="0.6" />
<line x1="279.20" y1="597.89" x2="280.80" y2="597.89" stroke="#231f20" stroke-width="0.6" />
<line x1="279.20" y1="596.55" x2="280.80" y2="596.55" stroke="#231f20" stroke-width="0.6" />
<line x1="279.20" y1="595.46" x2="280.80" y2="595.46" stroke="#231f20" stroke-width="0.6" />
<line x1="279.20" y1="594.54" x2="280.80" y2="594.54" stroke="#231f20" stroke-width="0.6" />
<line x1="279.20" y1="593.74" x2="280.80" y2="593.74" stroke="#231f20" stroke-width="0.6" />
<line x1="279.20" y1="593.03" x2="280.80" y2="593.03" stroke="#231f20" stroke-width="0.6" />
<line x1="279.20" y1="615.85" x2="280.80" y2="615.85" stroke="#231f20" stroke-width="0.6" />
<line x1="279.20" y1="613.42" x2="280.80" y2="613.42" stroke="#231f20" stroke-width="0.6" />
<line x1="279.20" y1="611.69" x2="280.80" y2="611.69" stroke="#231f20" stroke-width="0.6" />
<line x1="279.20" y1="610.35" x2="280.80" y2="610.35" stroke="#231f20" stroke-width="0.6" />
<line x1="279.20" y1="609.26" x2="280.80" y2="609.26" stroke="#231f20" stroke-width="0.6" />
<line x1="279.20" y1="608.34" x2="280.80" y2="608.34" stroke="#231f20" stroke-width="0.6" />
<line x1="279.20" y1="607.54" x2="280.80" y2="607.54" stroke="#231f20" stroke-width="0.6" />
<line x1="279.20" y1="606.83" x2="280.80" y2="606.83" stroke="#231f20" stroke-width="0.6" />
<line x1="279.20" y1="629.58" x2="280.80" y2="629.58" stroke="#231f20" stroke-width="0.6" />
<line x1="279.20" y1="627.16" x2="280.80" y2="627.16" stroke="#231f20" stroke-width="0.6" />
<line x1="279.20" y1="625.45" x2="280.80" y2="625.45" stroke="#231f20" stroke-width="0.6" />
<line x1="279.20" y1="624.12" x2="280.80" y2="624.12" stroke="#231f20" stroke-width="0.6" />
<line x1="279.20" y1="623.04" x2="280.80" y2="623.04" stroke="#231f20" stroke-width="0.6" />
<line x1="279.20" y1="622.12" x2="280.80" y2="622.12" stroke="#231f20" stroke-width="0.6" />
<line x1="279.20" y1="621.33" x2="280.80" y2="621.33" stroke="#231f20" stroke-width="0.6" />
<line x1="279.20" y1="620.63" x2="280.80" y2="620.63" stroke="#231f20" stroke-width="0.6" />
<line x1="279.20" y1="643.35" x2="280.80" y2="643.35" stroke="#231f20" stroke-width="0.6" />
<line x1="279.20" y1="640.92" x2="280.80" y2="640.92" stroke="#231f20" stroke-width="0.6" />
<line x1="279.20" y1="639.19" x2="280.80" y2="639.19" stroke="#231f20" stroke-width="0.6" />
<line x1="279.20" y1="637.85" x2="280.80" y2="637.85" stroke="#231f20" stroke-width="0.6" />
<line x1="279.20" y1="636.76" x2="280.80" y2="636.76" stroke="#231f20" stroke-width="0.6" />
<line x1="279.20" y1="635.84" x2="280.80" y2="635.84" stroke="#231f20" stroke-width="0.6" />
<line x1="279.20" y1="635.04" x2="280.80" y2="635.04" stroke="#231f20" stroke-width="0.6" />
<line x1="279.20" y1="634.33" x2="280.80" y2="634.33" stroke="#231f20" stroke-width="0.6" />
<line x1="279.20" y1="657.22" x2="280.80" y2="657.22" stroke="#231f20" stroke-width="0.6" />
<line x1="279.20" y1="654.77" x2="280.80" y2="654.77" stroke="#231f20" stroke-width="0.6" />
<line x1="279.20" y1="653.03" x2="280.80" y2="653.03" stroke="#231f20" stroke-width="0.6" />
<line x1="279.20" y1="651.68" x2="280.80" y2="651.68" stroke="#231f20" stroke-width="0.6" />
<line x1="279.20" y1="650.58" x2="280.80" y2="650.58" stroke="#231f20" stroke-width="0.6" />
<line x1="279.20" y1="649.65" x2="280.80" y2="649.65" stroke="#231f20" stroke-width="0.6" />
<line x1="279.20" y1="648.85" x2="280.80" y2="648.85" stroke="#231f20" stroke-width="0.6" />
<line x1="279.20" y1="648.14" x2="280.80" y2="648.14" stroke="#231f20" stroke-width="0.6" />
<text x="309.40" y="577.00" font-size="8.4" text-anchor="middle" stroke="#231f20" stroke-width="0.25"></text>
<text x="309.40" y="584.90" font-size="8.4" text-anchor="middle" stroke="#231f20" stroke-width="0.25">Spleen</text>
<line x1="288.50" y1="661.40" x2="288.50" y2="663.90" stroke="#231f20" stroke-width="0.9" />
<circle cx="286.90" cy="592.50" r="1.2" fill="#4a4f5e" />
<circle cx="288.40" cy="594.00" r="1.2" fill="#4a4f5e" />
<circle cx="289.90" cy="596.00" r="1.2" fill="#4a4f5e" />
<circle cx="287.65" cy="597.00" r="1.2" fill="#4a4f5e" />
<circle cx="289.15" cy="598.50" r="1.2" fill="#4a4f5e" />
<circle cx="286.90" cy="600.00" r="1.2" fill="#4a4f5e" />
<circle cx="288.40" cy="603.00" r="1.2" fill="#4a4f5e" />
<line x1="284.60" y1="596.50" x2="292.20" y2="596.50" stroke="#231f20" stroke-width="0.9" />
<line x1="288.50" y1="595.10" x2="288.50" y2="597.50" stroke="#231f20" stroke-width="0.8" />
<line x1="286.60" y1="595.50" x2="290.20" y2="595.50" stroke="#231f20" stroke-width="0.8" />
<line x1="286.60" y1="597.50" x2="290.20" y2="597.50" stroke="#231f20" stroke-width="0.8" />
<line x1="298.50" y1="661.40" x2="298.50" y2="663.90" stroke="#231f20" stroke-width="0.9" />
<circle cx="297.40" cy="598.00" r="1.2" fill="#c41e3a" />
<circle cx="298.90" cy="600.00" r="1.2" fill="#c41e3a" />
<circle cx="300.40" cy="602.00" r="1.2" fill="#c41e3a" />
<circle cx="298.15" cy="603.50" r="1.2" fill="#c41e3a" />
<circle cx="299.65" cy="605.00" r="1.2" fill="#c41e3a" />
<circle cx="297.40" cy="607.00" r="1.2" fill="#c41e3a" />
<circle cx="298.90" cy="609.00" r="1.2" fill="#c41e3a" />
<circle cx="300.40" cy="611.00" r="1.2" fill="#c41e3a" />
<line x1="295.10" y1="603.50" x2="302.70" y2="603.50" stroke="#231f20" stroke-width="0.9" />
<line x1="298.50" y1="601.90" x2="298.50" y2="605.10" stroke="#231f20" stroke-width="0.8" />
<line x1="297.10" y1="601.50" x2="300.70" y2="601.50" stroke="#231f20" stroke-width="0.8" />
<line x1="297.10" y1="605.50" x2="300.70" y2="605.50" stroke="#231f20" stroke-width="0.8" />
<text x="298.90" y="596.40" font-size="5.8" fill="#3a3a3c" text-anchor="middle" stroke="#3a3a3c" stroke-width="0.14">**</text>
<line x1="309.50" y1="661.40" x2="309.50" y2="663.90" stroke="#231f20" stroke-width="0.9" />
<circle cx="307.90" cy="630.00" r="1.2" fill="#1c4a7e" />
<circle cx="309.40" cy="632.00" r="1.2" fill="#1c4a7e" />
<circle cx="310.90" cy="633.50" r="1.2" fill="#1c4a7e" />
<circle cx="308.65" cy="635.00" r="1.2" fill="#1c4a7e" />
<circle cx="310.15" cy="636.50" r="1.2" fill="#1c4a7e" />
<line x1="305.60" y1="633.50" x2="313.20" y2="633.50" stroke="#231f20" stroke-width="0.9" />
<line x1="309.50" y1="632.50" x2="309.50" y2="634.50" stroke="#231f20" stroke-width="0.8" />
<line x1="307.60" y1="632.50" x2="311.20" y2="632.50" stroke="#231f20" stroke-width="0.8" />
<line x1="307.60" y1="634.50" x2="311.20" y2="634.50" stroke="#231f20" stroke-width="0.8" />
<text x="309.40" y="628.30" font-size="5.8" fill="#3a3a3c" text-anchor="middle" stroke="#3a3a3c" stroke-width="0.14">***</text>
<line x1="319.50" y1="661.40" x2="319.50" y2="663.90" stroke="#231f20" stroke-width="0.9" />
<circle cx="318.40" cy="648.00" r="1.2" fill="#4a1f52" />
<circle cx="319.90" cy="649.00" r="1.2" fill="#4a1f52" />
<circle cx="321.40" cy="649.70" r="1.2" fill="#4a1f52" />
<circle cx="319.15" cy="650.50" r="1.2" fill="#4a1f52" />
<circle cx="320.65" cy="651.50" r="1.2" fill="#4a1f52" />
<line x1="316.10" y1="649.50" x2="323.70" y2="649.50" stroke="#231f20" stroke-width="0.9" />
<line x1="319.50" y1="649.20" x2="319.50" y2="650.20" stroke="#231f20" stroke-width="0.8" />
<line x1="318.10" y1="649.50" x2="321.70" y2="649.50" stroke="#231f20" stroke-width="0.8" />
<line x1="318.10" y1="650.50" x2="321.70" y2="650.50" stroke="#231f20" stroke-width="0.8" />
<text x="319.90" y="641.60" font-size="5.8" fill="#7a7a8c" text-anchor="middle" stroke="#7a7a8c" stroke-width="0.14">##</text>
<text x="319.90" y="646.50" font-size="5.8" fill="#3a3a3c" text-anchor="middle" stroke="#3a3a3c" stroke-width="0.14">***</text>
<text x="288.40" y="673.40" font-size="6.6" fill="#3a3a3c" text-anchor="middle" stroke="#3a3a3c" stroke-width="0.14">–</text>
<text x="298.90" y="673.40" font-size="6.6" fill="#3a3a3c" text-anchor="middle" stroke="#3a3a3c" stroke-width="0.14">+</text>
<text x="309.40" y="673.40" font-size="6.6" fill="#3a3a3c" text-anchor="middle" stroke="#3a3a3c" stroke-width="0.14">–</text>
<text x="319.90" y="673.40" font-size="6.6" fill="#3a3a3c" text-anchor="middle" stroke="#3a3a3c" stroke-width="0.14">+</text>
<text x="288.40" y="683.80" font-size="6.6" fill="#3a3a3c" text-anchor="middle" stroke="#3a3a3c" stroke-width="0.14">–</text>
<text x="298.90" y="683.80" font-size="6.6" fill="#3a3a3c" text-anchor="middle" stroke="#3a3a3c" stroke-width="0.14">–</text>
<text x="309.40" y="683.80" font-size="6.6" fill="#3a3a3c" text-anchor="middle" stroke="#3a3a3c" stroke-width="0.14">+</text>
<text x="319.90" y="683.80" font-size="6.6" fill="#3a3a3c" text-anchor="middle" stroke="#3a3a3c" stroke-width="0.14">+</text>
<text x="346.50" y="566.00" font-size="12" stroke="#231f20" stroke-width="0.25" font-weight="bold">I</text>
<rect x="398.80" y="592.70" width="15.98" height="76.90" fill="#c9c9cd" />
<line x1="385.50" y1="591.90" x2="385.50" y2="661.20" stroke="#231f20" stroke-width="1.0" />
<line x1="385.20" y1="661.50" x2="482.50" y2="661.50" stroke="#231f20" stroke-width="1.0" />
<line x1="382.70" y1="661.50" x2="385.20" y2="661.50" stroke="#231f20" stroke-width="0.9" />
<text x="380.70" y="663.60" font-size="6.8" fill="#3a3a3c" text-anchor="end" stroke="#3a3a3c" stroke-width="0.14">0</text>
<line x1="382.70" y1="644.50" x2="385.20" y2="644.50" stroke="#231f20" stroke-width="0.9" />
<text x="380.70" y="646.48" font-size="6.8" fill="#3a3a3c" text-anchor="end" stroke="#3a3a3c" stroke-width="0.14">25</text>
<line x1="382.70" y1="626.50" x2="385.20" y2="626.50" stroke="#231f20" stroke-width="0.9" />
<text x="380.70" y="629.35" font-size="6.8" fill="#3a3a3c" text-anchor="end" stroke="#3a3a3c" stroke-width="0.14">50</text>
<line x1="382.70" y1="609.50" x2="385.20" y2="609.50" stroke="#231f20" stroke-width="0.9" />
<text x="380.70" y="612.23" font-size="6.8" fill="#3a3a3c" text-anchor="end" stroke="#3a3a3c" stroke-width="0.14">75</text>
<line x1="382.70" y1="592.50" x2="385.20" y2="592.50" stroke="#231f20" stroke-width="0.9" />
<text x="380.70" y="595.10" font-size="6.8" fill="#3a3a3c" text-anchor="end" stroke="#3a3a3c" stroke-width="0.14">100</text>
<line x1="385.50" y1="661.20" x2="385.50" y2="663.70" stroke="#231f20" stroke-width="0.8" />
<line x1="392.50" y1="661.20" x2="392.50" y2="662.60" stroke="#231f20" stroke-width="0.8" />
<line x1="398.50" y1="661.20" x2="398.50" y2="662.60" stroke="#231f20" stroke-width="0.8" />
<line x1="405.50" y1="661.20" x2="405.50" y2="662.60" stroke="#231f20" stroke-width="0.8" />
<line x1="412.50" y1="661.20" x2="412.50" y2="663.70" stroke="#231f20" stroke-width="0.8" />
<line x1="419.50" y1="661.20" x2="419.50" y2="662.60" stroke="#231f20" stroke-width="0.8" />
<line x1="426.50" y1="661.20" x2="426.50" y2="662.60" stroke="#231f20" stroke-width="0.8" />
<line x1="432.50" y1="661.20" x2="432.50" y2="662.60" stroke="#231f20" stroke-width="0.8" />
<line x1="439.50" y1="661.20" x2="439.50" y2="663.70" stroke="#231f20" stroke-width="0.8" />
<line x1="446.50" y1="661.20" x2="446.50" y2="662.60" stroke="#231f20" stroke-width="0.8" />
<line x1="453.50" y1="661.20" x2="453.50" y2="662.60" stroke="#231f20" stroke-width="0.8" />
<line x1="460.50" y1="661.20" x2="460.50" y2="662.60" stroke="#231f20" stroke-width="0.8" />
<line x1="466.50" y1="661.20" x2="466.50" y2="663.70" stroke="#231f20" stroke-width="0.8" />
<line x1="473.50" y1="661.20" x2="473.50" y2="662.60" stroke="#231f20" stroke-width="0.8" />
<line x1="480.50" y1="661.20" x2="480.50" y2="662.60" stroke="#231f20" stroke-width="0.8" />
<text x="385.20" y="671.60" font-size="7.2" fill="#3a3a3c" text-anchor="middle" stroke="#3a3a3c" stroke-width="0.2">0</text>
<text x="412.40" y="671.60" font-size="7.2" fill="#3a3a3c" text-anchor="middle" stroke="#3a3a3c" stroke-width="0.2">4</text>
<text x="439.60" y="671.60" font-size="7.2" fill="#3a3a3c" text-anchor="middle" stroke="#3a3a3c" stroke-width="0.2">8</text>
<text x="466.80" y="671.60" font-size="7.2" fill="#3a3a3c" text-anchor="middle" stroke="#3a3a3c" stroke-width="0.2">12</text>
<text x="355.60" y="625.40" font-size="7.6" fill="#3a3a3c" text-anchor="middle" textLength="43.3" lengthAdjust="spacingAndGlyphs" stroke="#3a3a3c" stroke-width="0.2" transform="rotate(-90 355.60 625.40)">Leukemia-free</text>
<text x="365.00" y="625.30" font-size="7.6" fill="#3a3a3c" text-anchor="middle" textLength="35.5" lengthAdjust="spacingAndGlyphs" stroke="#3a3a3c" stroke-width="0.2" transform="rotate(-90 365.00 625.30)">survival (%)</text>
<text x="431.30" y="683.60" font-size="8.2" fill="#3a3a3c" text-anchor="middle" textLength="81.5" lengthAdjust="spacingAndGlyphs" stroke="#3a3a3c" stroke-width="0.25">Weeks post-randomization</text>
<text x="434.00" y="585.50" font-size="8.1" fill="#f4b83c" text-anchor="middle" stroke="#f4b83c" stroke-width="0.25">ETP6</text>
<path d="M385.20,592.70 L407.64,592.70 L407.64,604.35 L408.32,604.35 L408.32,615.31 L409.00,615.31 L409.00,626.95 L410.70,626.95 L410.70,626.95 L411.72,626.95 L411.72,638.60 L414.78,638.60 L414.78,638.60 L415.80,638.60 L415.80,649.56 L416.48,649.56 L416.48,661.20" fill="none" stroke="#4f5666" stroke-width="1.1" />
<path d="M385.20,592.70 L413.76,592.70 L413.76,602.29 L417.84,602.29 L417.84,622.16 L429.74,622.16 L429.74,631.75 L432.12,631.75 L432.12,661.20" fill="none" stroke="#c8283c" stroke-width="1.1" />
<path d="M385.20,592.70 L453.20,592.70 L453.20,592.70 L453.20,592.70 L453.20,604.35 L455.58,604.35 L455.58,615.31 L456.26,615.31 L456.26,626.95 L461.36,626.95 L461.36,638.60 L466.46,638.60 L466.46,649.56 L467.82,649.56 L467.82,661.20" fill="none" stroke="#4a1f52" stroke-width="1.3" />
<path d="M385.20,592.70 L434.16,592.70 L434.16,592.70 L434.16,592.70 L434.16,604.35 L435.52,604.35 L435.52,615.31 L436.88,615.31 L436.88,626.95 L437.90,626.95 L437.90,638.60 L438.92,638.60 L438.92,649.56 L439.94,649.56 L439.94,661.20" fill="none" stroke="#1f4e8c" stroke-width="1.4" />
<text x="422.30" y="616.30" font-size="5.6" fill="#3a3a3c" text-anchor="middle" stroke="#3a3a3c" stroke-width="0.14">**</text>
<text x="420.50" y="620.20" font-size="5.8" fill="#3a3a3c" stroke="#3a3a3c" stroke-width="0.14">N = 7</text>
<text x="416.50" y="659.70" font-size="5.8" fill="#3a3a3c" stroke="#3a3a3c" stroke-width="0.14">N = 6</text>
<text x="444.30" y="655.20" font-size="5.6" fill="#3a3a3c" text-anchor="middle" stroke="#3a3a3c" stroke-width="0.14">***</text>
<text x="441.20" y="659.70" font-size="5.8" fill="#3a3a3c" stroke="#3a3a3c" stroke-width="0.14">N = 6</text>
<text x="473.30" y="650.40" font-size="5.0" fill="#8a8a96" text-anchor="middle">###</text>
<text x="473.30" y="655.20" font-size="5.6" fill="#3a3a3c" text-anchor="middle" stroke="#3a3a3c" stroke-width="0.14">***</text>
<text x="470.20" y="659.70" font-size="5.8" fill="#3a3a3c" stroke="#3a3a3c" stroke-width="0.14">N = 6</text>
<rect x="474.20" y="581.20" width="38.70" height="56.50" fill="#cacace" />
<text x="491.20" y="587.80" font-size="6.6" text-anchor="middle" textLength="27.8" lengthAdjust="spacingAndGlyphs" stroke="#231f20" stroke-width="0.14">Treatment</text>
<line x1="474.20" y1="590.50" x2="512.90" y2="590.50" stroke="#231f20" stroke-width="0.9" />
<line x1="477.30" y1="596.90" x2="484.00" y2="596.90" stroke="#4f5666" stroke-width="1.4" />
<text x="485.60" y="599.20" font-size="6.4" stroke="#231f20" stroke-width="0.14">Vehicle</text>
<line x1="477.30" y1="605.90" x2="484.00" y2="605.90" stroke="#c8283c" stroke-width="1.4" />
<text x="485.60" y="608.20" font-size="6.4" fill="#c8283c" stroke="#c8283c" stroke-width="0.14">Pimozide</text>
<line x1="477.30" y1="615.90" x2="484.00" y2="615.90" stroke="#1f4e8c" stroke-width="1.4" />
<text x="485.60" y="618.20" font-size="6.4" fill="#1f4e8c" stroke="#1f4e8c" stroke-width="0.14">VXL</text>
<line x1="477.30" y1="624.90" x2="484.00" y2="624.90" stroke="#4a1f52" stroke-width="1.4" />
<text x="485.60" y="627.20" font-size="6.4" fill="#1f4e8c" stroke="#1f4e8c" stroke-width="0.14">VXL +</text>
<text x="485.60" y="635.60" font-size="6.4" fill="#c8283c" stroke="#c8283c" stroke-width="0.14">Pimozide</text>
</svg></div></body></html>
